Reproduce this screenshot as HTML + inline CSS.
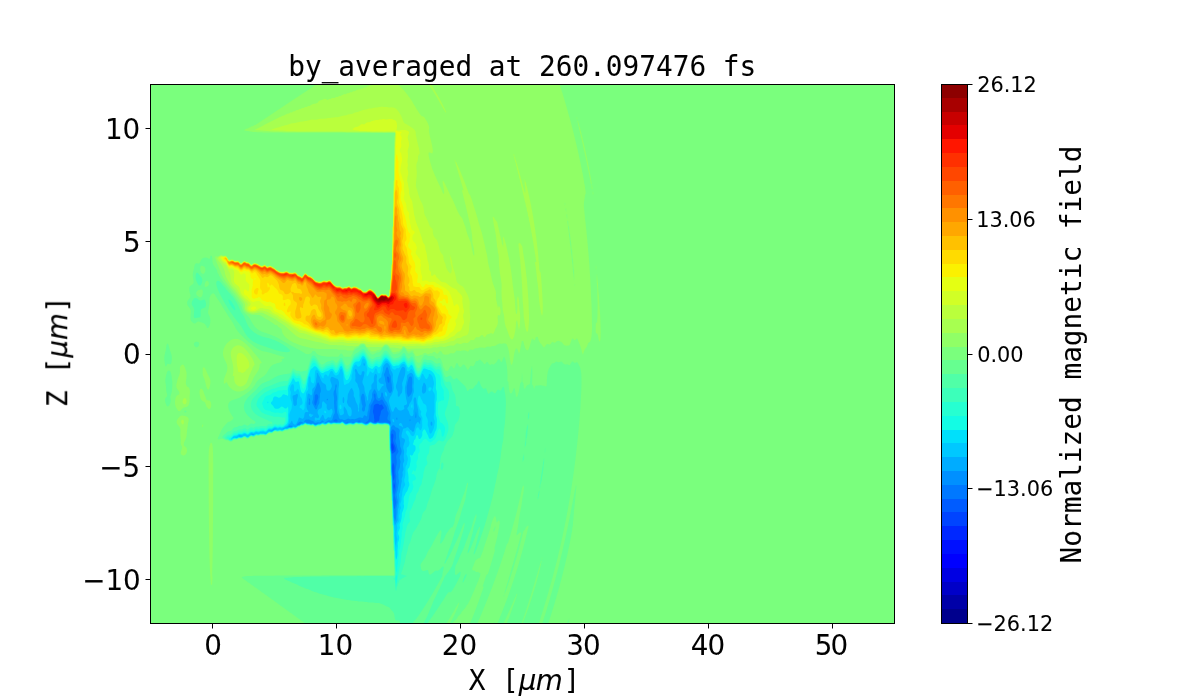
<!DOCTYPE html>
<html><head><meta charset="utf-8"><title>by_averaged at 260.097476 fs</title>
<style>
html,body{margin:0;padding:0;background:#fff;overflow:hidden}
svg{display:block}
.s20{font-family:'DejaVu Sans','Liberation Sans',sans-serif;font-size:27.78px;fill:#000}
.s15{font-family:'DejaVu Sans','Liberation Sans',sans-serif;font-size:20.83px;fill:#000}
.m20{font-family:'DejaVu Sans Mono','Liberation Mono',monospace;font-size:27.78px;fill:#000}
.i20{font-family:'DejaVu Sans','Liberation Sans',sans-serif;font-size:27.78px;font-style:oblique;fill:#000}
.tk{stroke:#000;stroke-width:1;fill:none}
.fr{stroke:#000;stroke-width:1;fill:none}
text{stroke:#000;stroke-width:0.06px}
</style></head><body>
<svg width="1200" height="700" viewBox="0 0 1200 700">
<rect width="1200" height="700" fill="#fff"/>
<rect x="150" y="84" width="744" height="539" fill="#7aff7d"/>
<g shape-rendering="auto">
<path fill="#90ff66" d="M315.6 85l0.4-0.2 1-0.7 0.2-0.1 242.3 0 0.3 1 0.2 0.7 0.1 0.3 0.4 1 0.3 1 0.2 0.8 0.1 0.2 0.9 3 0.4 1 0.3 1 0.2 1 0.1 0.2 0.3 0.8 0.6 2 0.1 0.5 0.2 0.5 0.6 2 0.2 0.8 0.1 0.2 0.6 2 0.2 1 0.1 0.2 0.2 0.8 0.4 1 0.2 1 0.2 0.7 0.1 0.3 0.9 3 0 0.2 0.2 0.8 0.6 2 0.2 0.8 0.1 0.2 0.6 2 0.2 1 0.1 0.4 0.2 0.6 0.3 1 0.2 1 0.3 1 0 0.1 0.3 0.9 0.2 1 0.3 1 0.2 0.9 0 0.1 0.6 2 0.2 1 0.2 0.8 0.1 0.2 0.2 1 0.3 1 0.2 1 0.2 0.7 0.1 0.3 0.2 1 0.3 1 0.2 1 0.2 0.8 0.1 0.2 0.4 2 0.3 1 0.2 0.9 0 0.1 0.3 1 0.4 2 0.3 1 0 0.2 0.2 0.8 0.2 1 0.3 1 0.6 3 0.3 1 0.4 2 0 0.1 0.2 0.9 0.4 2 0.3 1 0.1 0.7 0.1 0.3 0.8 4 0.1 0.4 0.1 0.6 0.8 4 0.1 0.4 0.1 0.6 0.1 1 0.3 1 0.6 3 0.1 1 0.8 4 0.2 2 0.2 1 0.3 1 0.2 1 0.1 0.9 0 0.1 0.2 2 0.4 2 0 1 0.1 1-0.1 1-0.6 0.9 0 0.1-0.3 3-0.4 2-0.1 1-0.2 0.8 0 0.2-0.1 1 0 1-0.1 1 0 1 0.2 2 0 0.5 0.1 0.5 0.8 8 0 1 0.1 1 0 0.3 0.2 0.7 0.1 1 0.2 1 0.2 2 0 1 0.3 3 0.2 1 0.4 4 0 1 0.2 1 0.2 2 0 0.6 0.1 0.4 0.3 3 0 1 0.1 1 0.2 1 0 1 0.3 3 0 0.4 0.1 0.6 0 1 0.7 7 0 1 0.1 1 0 1 0.6 6 0 1 0.1 1 0 1 0.1 1 0 1 0.2 2 0 1 0.1 1 0 0.2 0.1 0.8 0 1 0.2 2 0 1 0.1 1 0 1 0.1 1 0 1 0.1 1 0 1 0.1 1 0 1 0.1 1 0 1 0.1 1 0 2 0.1 1 0 2 0.1 1 0 1 0.2 2 0 1 0.1 1 0 1 0.1 1 0 2 0.1 1 0 1 0.1 1 0 3 0.1 1 0 5 0.1 1 0 4 0.1 1 0 5-0.1 1 0 1-0.1 1 0 1-0.4 4-0.4 2 0 0.2-0.2 0.8-0.8 2-1 0.3-0.6 0.7-0.4 0.5-0.2 0.5-0.3 1-0.4 1-0.5 1-0.6 1 0 0.1-1 0.8 0 0.1-1.2 3-0.6 2-0.2 0.7-0.3-0.7-0.4-1-0.3-0.5-0.7-3.5-0.3-1 0-0.1-0.3-0.9-0.4-1-0.3-0.9 0-0.1-0.5-1-0.4-1-0.1-0.3-0.3-0.7-0.4-1-0.3-1 0-0.1-0.6-0.9-0.4-0.8-0.7 0.8-0.3 0.2-0.7 0.8-0.3 0.3-0.7-0.3-0.3-0.2-0.6-0.8-0.4-0.5-1 0.3-0.1 0.2-0.3 1-0.8 2-0.3 1-0.4 1-0.1 0.3-0.5 0.7-0.5 0.6-1 0-2 0.2-1-0.3-0.9-0.5-0.1-0.1-0.8-0.9-0.2-0.3-0.5-0.7-0.5-0.6-0.5-0.4-0.5-0.3-1-0.3-1-0.5-1-0.1-1 0.4-1 0.6-0.2 0.2-0.8 0.7-1 0.1-0.9-0.8-0.1-0.1-1 0.1-0.6 1-0.8 1-0.6 0.6-1-0.2-1-0.4-1 0.1-1 0.9-0.7 1-0.3 0.5-0.6 0.5-0.4 0.4-1-0.8-0.4-0.6-0.6-1-0.8-1-0.2-0.3-1-1-0.4-0.7-0.6-0.9 0-0.1-0.4-1-0.6-2 0-0.1-0.3-0.9-0.7-0.2-1 0.1-0.2 0.1-0.2 1-0.6 2 0 0.1-1 0.4-0.9-1.5-0.1-0.3-1 0-0.1 0.3-0.3 1-0.6 1.5-0.1 0.5-0.9 3 0 0.1-0.3 0.9-0.6 2-0.1 0.4-0.8 1.6-0.2 0.3-1-0.1-0.3-0.2-0.7-0.5-0.3-0.5-0.5-1-0.2-0.3-0.2-0.7-0.2-1-0.3-1-0.3-0.9 0-0.1-0.6-2-0.2-1-0.2-0.1-1 0-0.1 0.1-0.8 4-0.1 0.4-0.1 0.6-0.6 3-0.1 1-0.2 1 0 0.4-0.3 0.6-0.4 1-0.3 1-0.9-3-0.1-0.2-0.3-0.8-0.4-1-0.3-0.5-1 0-0.3 0.5-0.4 1-0.3 0.6-0.1 0.4-0.3 1-0.6 3 0 0.1-0.2 0.9-0.1 1-0.2 1-0.1 1-0.4 2 0 0.3-0.2 0.7-0.6 2-0.2 0.8-1-0.3-0.9-4.5-0.1-0.3-0.1-0.7-0.3-3-0.2-1-0.2-2-0.2-0.9 0-0.1-0.4-2-0.3-1-0.2-1-0.1-0.3-0.3-0.7-0.4-1-0.3-0.8-0.6-1.2-0.4-0.2-1-0.3-1-0.2-1 0.1-1 0.3-1 0-1-0.1-1-0.2-0.6 0.6-0.4 0.3-1 0.2-1 1-1 0.3-1 0.2-1 0.3-0.5-0.3-0.5-0.1-0.1 0.1-0.9 0.7-1 0.1-2-0.2-1 0.1-1 0.2-1 1-1-0.1-2-0.4-2 0-1 0.1-0.6 0.5-0.4 0.3-2 0-1 0.3-1 0.4-1 0.9-1-0.2-1-0.1-1 0.2-0.7 0.2-0.3 0.5-0.4 0.5-0.6 0.7-1-0.4-0.2-0.3-0.8-0.2-1-0.3-1-0.2-1 0.1-1 0.2-1 0.3-1 0-1-0.3-1 0.4-1-0.8-1 0.8-0.7 1-0.3 0.4-1.2 0.6-0.8 0.6-1-0.3-1-0.1-1 0-1 1-1 0.2-3 0.3-1-0.1-1.2-0.6-0.8-1.6-0.3-0.4-0.7-0.8-1-0.1-1 1-0.7 0.9-0.3 0.5-1 0.3-0.9-0.8-0.1-0.1-1-0.9-1-0.3-1 0.5-0.6 0.8-0.4 0.6-1-0.4-1 0-0.9 0.8-0.1 0.1-1-0.1-1 0-1-0.9-1 0-1 0.1-0.9 0.8-0.1 0.1-1 0.8-1-0.1-0.6 0.2-0.4 0.1-1 0.6-1 0.3-1 0-1 0.1 0-0.1-1-0.9-0.1-0.1-0.1-1-0.8-0.7-0.3-0.3-0.1-1 0-1-0.6-0.5-2 0-0.6 0.5-0.4 0.4-2 0-0.4-0.4-0.6-0.5-0.5-0.5 0-1-0.5-0.4-1.6-1.6-0.4-0.3-1 0-0.4 0.3 0 1-0.6 0.6-0.5 0.4-1.5 1.5-0.6 0.5-0.4 0.4-2 0-0.7 0.6-0.3 0.3-2 0-1-0.1-0.3-0.2-1-1-0.1-1-1-1-0.6-0.5-0.5-0.5-0.1-1-1-1-0.4-0.3-1-1-2 0-1 1-0.4 0.3-0.6 0.6-0.5 0.4-1 1-0.2 1-0.3 0.4-1 0-0.7 0.6-0.3 0.3-2 0-0.8 0.7-0.2 0.2-1 0-1 0.2-2 0-1-0.2-0.2-0.2-0.8-0.7-0.3-0.3-0.7-0.6-0.4-0.4-0.6-0.5-1.5-1.5-0.5-0.4-0.6-0.6 0-1-0.4-0.3-1-1-3 0-1 1-0.4 0.3-1.6 1.6-1 0-0.5 0.4-0.5 0.5-1 0-0.6 0.5-0.1 1-0.3 0.3-0.8 0.7-0.2 0.2-1 0.4-5 0-0.7-0.6-0.3-0.2-8 0-1-0.7-12 0-1-0.1-3 0-1-0.1-1 0-5-0.5-1-0.2-1-0.1-0.6-0.1-0.4-0.1-4-0.8-0.3-0.1-0.7-0.2-1-0.2-2-0.6-0.1 0-0.9-0.3-2-0.6-0.1-0.1-0.9-0.3-1-0.4-0.9-0.3-0.1 0-1-0.5-1-0.4-0.3-0.1-0.7-0.3-2-1-1-0.6-0.3-0.1-0.7-0.5-0.9-0.5-0.1-0.1-1-0.7-0.3-0.2-0.7-0.6-0.6-0.4-0.4-0.4-0.7-0.6-0.3-0.4-0.6-0.6-0.4-0.6-0.3-0.4-0.7-1 0-0.1-0.5-0.9-0.3-1-0.2-0.7-0.1-0.3-0.2-1-0.1-1-0.6-0.2-0.7-0.8-0.3-0.3-1-0.3-1-1-0.3-0.4-0.7-0.7-1-0.2-0.6-0.1-0.4-0.3-2-1.4-0.4-0.3-0.6-0.4-0.8-0.6-0.2-0.1-1-0.7-0.4-0.2-0.6-0.4-1-0.6-1-0.5-0.9-0.5-0.1-0.1-1-0.5-0.6-0.4-0.4-0.3-1-0.7-1-0.6-0.6-0.4-0.4-0.2-1-0.4-1-0.3-2 0-0.2-0.1-0.8-0.3-1 0.1-2 0-2-0.4-1-0.3-0.4-0.1-0.6-0.2-1-0.4-0.6-0.4-0.4-0.2-1-0.8-1-1-0.7-1-0.6-1-0.1-1-0.3-1-0.1-1-0.2-1 0-0.1-0.3-0.9-0.5-1-0.2-0.3-0.5-0.7-0.5-0.6-0.3-0.4-0.7-0.9-0.1-0.1-0.8-1-0.1-0.2-0.6-0.8-0.8-1-0.6-0.9-0.1-0.1-0.7-1-0.2-0.3-0.5-0.7-0.5-0.6-0.3-0.4-0.7-0.8-0.1-0.2-0.9-1-0.8-1-0.2-0.2-0.7-0.8-0.3-0.4-1-1.2-0.3-0.4-0.7-1-0.8-1-0.2-0.3-1-1.4-0.2-0.3-0.7-1-0.1-0.1-0.6-0.9-0.4-0.5-0.3-0.5-1.4-2-1.5-3-0.4-1-0.4-0.9-0.1-0.1-0.3-1-0.4-1-0.2-0.4-0.2-0.6-1.6-4-0.2-0.4-0.2-0.6-0.5-1-0.3-0.8-0.1-0.2-0.4-1-0.3-1-0.2-0.4-0.1-0.6-0.4-1-0.3-1-0.2-1 1-0.7 1 0.1 1-0.1 0.8-0.3 0.2-0.1 1-0.7 1-0.2 1 0.1 1 0.3 1 0 1-0.1 1 0.3 0.4 0.4 0.6 1.2 0.8 0.8 0.2 0.5 0.5 0.5 0.5 0.6 1 0 1-0.3 1-0.1 1 0.1 0.7 0.7 0.3 0.2 1 0.2 1 0 1-0.1 1 0 0.7 0.7 0.3 0.2 0.8 0.8 0.2 0.3 0.8 0.7 0.2 0.1 0.3-0.1 1.7-1.7 0.4-0.3 0.6-0.6 1 0 0.6 0.6 0.4 0.2 1 0.3 1 0 0.5 0.5 0.5 0.2 0.8 0.8 0.2 0.3 0.7 0.7 0.3 0.2 1 0 0.3-0.2 0.7-0.7 0.5-0.3 0.5-0.5 1-0.1 0.6 0.6 0.4 0.1 1 0.1 1 0.3 0.5 0.5 0.5 0.2 0.8 0.8 0.2 0.1 1 0.1 1 0.2 1-0.2 0.4-0.2 0.6-0.6 1-0.1 1 1 0.8 0.7 0.2 0.2 1-0.1 0.3-0.1 0.7-0.6 1-0.2 1 0.2 0.6 0.6 0.4 0.2 1 0.4 0.4 0.4 0.6 0.3 0.8 0.7 1 1 0.2 0.1 1 0.4 0.5 0.5 1.5 0.6 0.5 0.4 0.5 0.2 1 0 1 0.1 1 0 2-0.2 0.4-0.1 0.6-0.5 1 0.1 0.4 0.4 0.6 0.2 0.8 0.8 0.2 0.1 1 0.1 3 0 1-0.1 0.4-0.1 0.6-0.5 0.5 0.5 0.5 0.2 0.8 0.8 0.2 0.3 1 1 1 0.3 0.4 0.4 0.6 0.2 0.8 0.8 0.2 0.1 1 0.1 0.4-0.2 0.6-0.6 0.1-0.4 1-1 0.4-1 0.5-0.5 0.6 0.5 0.4 0.1 2 2 1 0.1 1 0.2 0.7 0.6 0.3 0.1 1 0.5 0.4 0.4 0.6 0.5 0.5 0.5 0.4 1 1.1 1.1 2 0.4 0.5 0.5 0.5 0.1 1 0.1 2 0 1-0.1 0.1-0.1 0.9-0.8 1-0.1 2 0.2 1 0 1-0.2 0.4-0.1 0.6-0.6 1 0.1 1.5 1.5 0.4 1 2.1 2.1 1 0.5 0.5 0.4 0.5 0.2 1 0.3 1 0.1 1-0.1 1 0.1 0.5 0.4 0.5 0.2 0.8 0.8 0.2 0.1 1 0.1 0.5-0.2 0.5-0.4 1-0.3 1 0.1 1-0.1 1-0.2 0.2-0.1 0.8-0.7 0.7 0.7 0.3 0.1 1 1 1 0 0.2-0.1 0.8-0.8 1-0.1 1 0 1 0.1 1 0.3 0.5 0.5 0.5 0.3 0.8 0.7 0.2 0.1 1 0.1 1 0.4 0.4 0.4 0.5 1 0.1 0.1 1 0.4 0.6 0.5 0.4 0.1 2 0 0.2-0.1 0.8-0.7 0.4-0.3 0.6-0.6 0.6-0.4 0.4-0.4 1-0.2 0.7 0.6 0.3 0.1 1 0.2 1.7 1.7 0.3 0.2 0.7 0.8 0.3 0.4 0.6 0.6 0.3 1 0.1 0.2 0.8 0.8 0.2 1 0 0.1 1 0.2 1-0.2 2-2 0.3-0.1 0.7-0.6 1 0.1 0.5 0.5 0.5 0.1 0.5-0.1 0.5-0.5 0.6 0.5 0.4 0.1 1 1 1 0.9 0.3 0 0.7-0.7 0-0.3 0.1-1 0-4 0.9-1 0-4 0.1-1 0-4 0.9-1 0-6 0.1-1 0-7 0.9-1 0-15 0.1-1 0-21 0.9-1 0-17 0.1-1 0-20 0.1-1 0-6 0.8-0.9 0-10.1 0.1-1 0-22 0.1-1 0-8 0.1-1 0-1 0.7-0.9 0-2.1-1-0.1-1 0-1-0.1-4 0-1 0.1-4 0-1-0.1-2 0-1 0.1-1-0.1-83 0-1-0.1-11 0-1-0.1-7 0-1-0.1-6 0-1-0.1-4 0-1-0.1-2 0-1-0.1-2 0-1-0.1-1 0-1-0.1-0.1 0-0.9-0.1-1-0.2-1-0.1-2-0.4-0.8-0.2-0.2 0-1-0.1-3-0.6-0.2-0.3 0.2-0.2 1-0.1 0.8-0.7 0.2-0.2 2-0.4 1-0.8 1-0.2 0.5-0.4 0.5-0.5 1-0.2 1-0.1 0.2-0.2 0.8-0.7 1-0.2 0.4-0.1 1.5-1 0.1-0.1 1-0.6 0.4-0.3 1.5-1 0.1-0.1 1-0.6 0.4-0.3 1.5-1 0.1-0.1 1-0.6 0.4-0.3 1.5-1 0.1-0.1 1-0.6 0.4-0.3 1.5-1 0.1-0.1 1-0.6 0.4-0.3 1.5-1 0.1-0.1 1-0.6 0.4-0.3 1.5-1 0.1 0 1-0.7 0.4-0.3 1.5-1 0.1-0.1 1-0.6 0.4-0.3 1.5-1 0.1 0 1-0.7 0.4-0.3 1.5-1 0.1 0 1-0.7 0.4-0.3 0.6-0.4 1-0.6 1-0.7 0.5-0.3 0.5-0.4 1-0.6 1-0.7 0.5-0.3 0.5-0.4 1-0.6 1-0.7 0.5-0.3 0.5-0.4 1-0.6 1-0.7 1-0.6 2-1.4 1-0.6 2-1.4 1-0.6 1-0.7 1-0.6 0.6-0.4 0.4-0.3 1-0.7 0.1 0 1.5-1 0.4-0.3 1-0.7 0.1 0 1.5-1 0.4-0.3 1-0.6 0.1-0.1 0.9-0.6zM565 202.5l-0.2 0.5 0 1 0.1 1 0.1 0.8 0.1-0.8 0.1-1-0.1-1zM566 208.1l-0.4 0.9 0.1 1 0.2 1 0.1 1 0 0.4 0.1-0.4 0.1-1 0-1-0.1-1zM567 214.1l-0.5 0.9 0.2 2 0.2 1 0.1 1 0 0.6 0.1-0.6 0.1-1 0-2-0.1-1zM568 220.4l-0.6 0.6 0 1 0.1 1 0.2 1 0.3 3 0 0.6 0.1 0.4 0.4 2 0.5 5 0 1 0.3 1 0.1 1 0.2 1 0.2 2 0 1 0.2 2 0 0.1 0.2 0.9 0.4 2 0.1 1 0 1 0.1 1 0 1 0.2 2 0 0.1 0.2 0.9 0.2 1 0.4 4 0 1 0.2 2 0 0.3 0.2 0.7 0.2 1 0.3 3 0 1 0.1 1 0 1 0.1 1 0 1 0.1 0.5 0.2 0.5 0.2 1 0.5 5 0 1 0.1 1 0 0.3 0-0.3 0.2-2 0-6-0.1-1 0-1-0.1-1 0-0.1-0.4-0.9-0.3-3 0-3-0.3-3 0-0.6-0.2-0.4-0.4-2 0-1-0.1-1 0-2-0.2-2-0.1-0.9 0-0.1-0.4-1-0.2-1 0-2-0.1-1 0-1-0.2-1-0.1-1 0-0.4-0.3-0.6-0.6-6-0.1-0.9-0.1-0.1-0.4-1-0.2-2 0-2-0.2-1-0.1-1-0.6-1-0.1-1 0-2-0.2-2zM575 283.8l-0.1 0.2-0.2 1 0.2 1 0.1 1 0 0.1 0-1.1 0.1-1-0.1-1zM576.8 117l0.2-0.2 0 0.2 0.2 1 0 1-0.2 0.7-0.1-0.7-0.2-1zM577.4 121l0.6-0.6 0.2 0.6 0.2 2 0.6 1 0.6 3 0.4 0.7 0.1 0.3 0.6 3 0.3 0.6 0.1 0.4 0.2 1 0.3 1 0.1 1 0.3 0.6 0.1 0.4 0.2 1 0.3 1 0.1 1 0.3 0.7 0 0.3 0.2 1 0.3 1 0.2 1 0.3 0.9 0 0.1 0.4 2 0.3 1 0.2 1 0.1 0.3 0.1 0.7 0.4 2 0.3 1 0.2 0.8 0 0.2 0.8 4 0.2 0.5 0.1 0.5 0.1 1 0.2 1 0.3 1 0.2 1 0.1 0.4 0.1 0.6 0.1 1 0.2 1 0.3 1 0.1 1 0.2 0.5 0 0.5 0.2 1 0.1 1 0.3 1 0.2 1 0.2 0.9 0 0.1 0.1 1 0.6 3 0.1 1 0.2 0.5 0 0.5 0.2 1 0.1 1 0.2 1 0.1 1 0 1-0.6 0.4-0.1-0.4-0.1-1-0.2-1-0.2-2-0.4-0.7 0-0.3-0.6-3-0.1-1-0.3-0.7 0-0.3-0.8-4-0.2-0.5-0.1-0.5-0.1-1-0.2-1-0.3-1-0.2-1-0.1-0.2-0.1-0.8-0.1-1-0.2-1-0.3-1-0.3-0.9 0-0.1-0.1-1-0.4-2-0.4-1-0.2-1-0.1-1-0.4-2-0.4-0.9 0-0.1-0.1-1-0.4-2-0.3-1-0.2-0.6-0.1-0.4-0.1-1-0.4-2-0.4-0.9 0-0.1-0.1-1-0.4-2-0.4-1-0.1-0.4-0.1-0.6-0.1-1-0.2-1-0.3-1-0.3-0.8 0-0.2-0.2-1-0.1-1-0.3-1-0.4-1-0.1-1-0.4-2-0.3-1-0.2-0.6 0-0.4-0.4-2zM591.6 185l0.4-0.6 0.1 0.6 0.2 2 0.2 1-0.1 1-0.4 0.6-0.1-0.6-0.2-1-0.1-1 0-1zM592.9 191l0.1-0.2 0 0.2 0.1 1 0.2 1 0 1-0.3 1-0.2-1-0.1-1 0.1-1zM596 265l0-0.3 0 0.3 0.3 3-0.1 1-0.2 1-0.2-2 0-1 0.1-1zM597 274l0-0.1 0 0.1 0.1 1 0 1 0.4 4 0.2 1 0 1 0.3 1.5 0 1.5 0.1 1 0 1 0.1 1 0 1 0.4 4 0.2 1 0.1 1 0.1 0.3 0 0.7 0.1 1 0 2 0.1 1 0 1 0.1 1 0 1 0.1 1 0 1 0.2 2 0 1 0.4 4 0 1 0.1 1 0 1 0.1 1 0 1 0.1 1 0 2 0.1 1 0 2 0.1 1 0 2 0.1 1 0 4 0.1 1 0 1-0.1 1 0 3-0.3 3-0.2 1-0.1 0.7-0.7-0.7-0.3-0.2-0.2-0.8-0.6-3-0.1-1-0.1-0.3-0.3-0.7-0.4-1-0.3-0.8-1 0.4-0.1-0.6-0.2-2 0-1-0.1-1 0-1 0.1-1 0-1 0.1-1 0-1 0.2-2 0-0.2 0.1 0.2 0.6 1 0.3 0.7 0.1-0.7 0-1 0.1-1 0-1 0.2-2 0-1 0.1-1 0-5 0.1-1 0-8-0.1-1 0-3-0.1-1 0-1-0.1-1 0-7-0.1-1-0.2-1 0-1-0.2-2 0-1-0.1-1 0-4 0.1-1 0-1zM234 339l2-0.2 1 0.1 0.3 0.1 0.7 0.1 1 0.3 1 0.4 0.3 0.2 0.7 0.3 1 0.6 0.1 0.1 0.9 0.6 0.5 0.4 0.5 0.3 0.8 0.7 0.2 0.2 1 0.8 1 0.9 2.1 2.1 1.8 2 0.1 0.1 0.8 0.9 0.2 0.3 0.6 0.7 0.8 1 0.6 0.7 0.3 0.3 0.7 0.9 0.1 0.1 0.8 1 0.1 0.1 0.7 0.9 0.3 0.3 0.6 0.7 0.4 0.6 0.4 0.4 0.6 0.8 0.2 0.2 0.7 1 0.1 0.1 0.7 0.9 1.2 2-0.9 0.3-1 0.5-0.1 0.2-0.2 1-0.2 2-0.2 1-0.3 0.9 0 0.1-0.4 1-0.6 1 0 0.1-1 1.5-0.3 0.4-1.4 2-0.6 1-0.7 1 0 0.1-0.5 0.9-0.5 1-0.4 1-0.5 1-0.1 0.3-0.3 0.7-0.5 1-0.2 0.5-0.9 1.5-0.1 0.2-0.6 0.8-0.4 0.5-1.5 1.5-0.5 0.4-0.8 0.6-0.2 0.1-2 1.2-1 0.4-0.8 0.3-0.2 0.1-2 0.4-1 0.1-2-0.2-1-0.2-2-0.8-1-0.5-1-0.7-0.3-0.2-0.7-0.6-0.5-0.4-1-1-0.5-0.7-0.2-0.3-0.7-1-0.5-1-0.4-1-0.2-0.8-1 0.4-0.5 0.4-0.5 0.3-1 0.7 0 0.2 0-0.2-0.2-1 0-2 0.1-1 0.1-0.4 0.1-0.6 0.6-2 0.3-0.8 0.1-0.2 0.8-2 0.1-0.2 0.3-0.8 0.4-1 0.3-1 0.2-1 0.2-2-0.2-2-0.2-1-0.3-1-0.4-1-0.3-0.7-0.1-0.3-1.5-3-0.4-0.9 0-0.1-0.4-1-0.3-1-0.2-1-0.1-0.9 0-2.1 0.4-2 0.3-1 0.3-0.8 0.1-0.2 0.4-1 0.5-0.8 0.1-0.2 0.6-1 0.3-0.4 0.4-0.6 0.6-0.7 1.3-1.3 0.7-0.6 0.5-0.4 1.5-0.9 1-0.5 1-0.4 1-0.2zM181.7 365l0.3-0.2 1-0.2 1 0.8 0.3 0.6 0.4 1 0.3 0.7 0.1 0.3 0.3 1 0.4 1 0.2 0.7 0.1 0.3 0.3 1 0.2 2 0 1-0.1 1 0 1-0.2 2-0.2 1-0.1 0.8 0 0.2-0.2 2 0.1 1 0.1 0.3 0.3 0.7 0.7 1.4 1 0.6 1 0.8 0.1 0.2 0.4 1 0.3 1 0.2 2-0.4 4 0 2 0.1 1 0 1-0.2 2-0.2 1-0.3 1-0.4 1-0.6 0.9-0.1 0.1-0.9 0.7-0.6 0.3-0.4 0.1-2 0.4-1 0.4-1.1 1.1-0.8 1-0.1 0.2-0.9 0.8-0.1 0.1-1 0.2-0.4-0.3-0.6-0.4-1-1.5-0.1-0.1-1-2-0.4-1-0.3-1-0.1-1-0.1-0.7 0-1.6 0.1-0.7 0.1-1 0.4-2 0.4-1 0.6-1 0.4-0.6 2-1 0.3-0.4 0.1-1-0.2-1-0.5-1-0.6-1-0.1-0.1-0.7-0.9-0.6-1-0.3-1-0.1-1 0-1 0.4-2 0.3-1 0-0.1 0.2-0.9 0.6-2 0.2-0.7 0.1-0.3 0.8-2 0.1-0.4 0.3-0.6 0.3-1 0.2-1 0.2-2-0.1-1 0-2 0.1-0.4 0.1-0.6 0.6-1 0.3-0.4zM202.8 368l0.2-0.5 1-0.2 1 1 0.4 0.7 0.5 1 0.1 0.1 0.3 0.9 0.4 1 0.3 0.6 0.1 0.4 0.5 1 0.4 0.9 0.1 0.1 0.5 1 0.4 0.7 0.2 0.3 0.8 2 0.3 1 0.1 1 0 2-0.1 1-0.2 1-0.1 0.4-0.1 0.6-0.3 1-0.2 1-0.3 1-0.1 0.2-1 0.3-0.4-0.5-0.6-0.7-0.1-0.3-0.4-1-0.3-1-0.2-0.8-0.1-0.2-0.6-3-0.9-3-0.4-1-0.5-1-0.4-1-0.1-0.5-0.2-0.5-0.1-1 0-5zM200.4 389l0.6-0.4 0.9 0.4 0.1 0 0.7 1 0.3 0.4 0.3 0.6 0.6 2 0.1 0.2 0.3 0.8 0.4 1 0.3 0.7 0.1 0.3 0.4 1 0.3 1 0.2 0.7 0.1 0.3 0.6 1 0.3 0.2 2 0.2 1 0.4 0.1 0.2 0.6 1 0.3 0.8 0.1 0.2 0.2 2-0.1 1-0.2 1-0.4 1-0.6 0.8-1 0.2-1-0.6-0.3-0.4-0.7-0.7-0.2-0.3-0.6-1-0.2-0.7-0.1-0.3-0.6-2-0.3-0.6-0.5-0.4-0.5-0.2-1-0.5-0.5-0.3-0.5-0.4-0.6-0.6-0.4-0.6-0.2-0.4-0.4-1-0.2-1-0.2-0.9 0-0.1-0.2-1-0.3-3 0.1-1 0.2-1 0.2-0.5zM180.5 416l0.5-0.3 1-0.1 2 0.2 0.9 0.2 0.1 0 2 0.8 0.4 0.2 1 1 0.3 1 0 1-0.1 1-0.3 1-0.2 1-0.1 0.2-0.1 0.8-0.2 2-0.2 1-0.2 2-0.2 1-0.4 4 0 1-0.2 1-0.1 1-0.3 1-0.1 0.2-0.3 0.8-0.4 1-1 2-0.3 1-0.2 1 0 1 0.2 0.4 0.4 0.6 0.6 0.4 0.7 0.6 0.3 0.2 0.5 0.8 0.3 1 0.2 1 0 1-0.2 1-0.3 1-0.5 1-1 1-1 0.4-1 0-1-0.3-0.1-0.1-0.9-1 0-0.1-0.2-0.9 0-1 0.2-0.6 0.1-0.4 0.4-1 0.3-1 0.2-1 0-1-0.3-1-0.6-1-0.1-0.3-0.2-0.7-0.1-1 0.1-1 0-2-0.4-4 0-3 0.1-1 0-2-0.1-1-0.3-1-0.1-0.2-1-1.6-0.2-0.2-0.8-1-0.9-1-0.1-0.4-0.3-0.6-0.1-1 0.1-1 0.3-0.7 0.1-0.3 0.6-1 0.3-0.4 0.4-0.6 0.6-0.6 0.3-0.4 0.7-0.7zM202.5 425l0.5-0.9 0.2 0.9-0.1 1-0.1 0.3-0.7 0.7-0.3 0.4-0.2-0.4 0.1-1 0.1-0.3zM210.7 443l0.3-0.5 0.6 0.5 0.4 0.4 0.2 0.6 0.2 1 0.1 1 0.2 1 0.1 1 0 1 0.1 1 0 1 0.1 1 0 2 0.1 1 0 6 0.1 1 0 12-0.1 1 0 31-0.1 1 0 16-0.1 1 0 13-0.1 1 0 8-0.1 1 0 6-0.1 1 0 4-0.1 1 0 4-0.1 1 0 3-0.1 1 0 3-0.1 1 0 3 0.1 1 0.2 1 0 2-0.3 3 0 1-0.1 1-0.1 0.8-1 0-0.1-0.8-0.1-1 0-1-0.3-3 0-1-0.2-2 0-1-0.2-2 0-1-0.1-1 0-1-0.1-1 0-1-0.1-1 0-2-0.1-1 0-2-0.1-1 0-2-0.1-1 0-3-0.1-1 0-3-0.1-1 0-4-0.1-1 0-5-0.1-1 0-6-0.1-1 0-7-0.1-1 0-8-0.1-1 0-12-0.1-1 0-21-0.1-1 0-24 0.1-1 0-2 0.1-1 0-1 0.1-1 0.1-0.4 0.1-0.6 0.1-1 0.6-3 0.2-0.6 0.2-0.4z"/>
<path fill="#a7ff50" d="M371.7 85l0.3-0.3 1 0 1-0.1 0.8-0.6 22.2 0 1 0.7 0.3 0.3 0.7 0.5 0.5 0.5 0.5 0.4 1 1 0.5 0.6 2 2 0.5 0.6 0.4 0.4 0.6 0.7 0.2 0.3 1.6 2 0.2 0.2 0.7 0.8 0.3 0.5 0.4 0.5 0.6 0.9 0.1 0.1 0.8 1 0.1 0.2 0.6 0.8 0.4 0.8 0.2 0.2 0.7 1 0.1 0.2 0.5 0.8 0.4 1 0.1 0.2 0.6 0.8 0.4 0.8 0.2 0.2 0.6 1 0.2 0.4 0.5 0.6 0.4 1 0.1 0.2 1 1.6 0.2 0.2 0.6 1 0.2 0.3 0.5 0.7 0.5 0.8 0.2 0.2 0.6 1 0.2 0.3 0.7 0.7 0.3 0.5 0.7 0.5 0.3 0.3 1 0.3 1 0.4 0.9 1 0.1 0.2 0.3 0.8 0.7 0.8 0.1 0.2 0.4 1 0.5 0.6 0.2 0.4 0.4 1 0.4 0.6 0.2 0.4 0.2 1 0.6 1 0 0.1 0.1 0.9 0.2 1-0.3 1-0.2 1 0.2 1 0 0.5 0.1 0.5 0.1 1 0.6 3 0.2 0.9 0 0.1 0.3 1 0.2 1 0.3 1 0.2 0.8 0.1 0.2 0.6 3 0.3 1 0 0.1 0.2 0.9 0.1 1 0.2 1 0.1 1 0.2 1 0 1-0.1 1-0.2 1-0.5 0.4-0.9-0.4-0.1 0-1-0.6-1-0.2-0.3 0.8-0.2 1 0.1 1 0.2 1 0.1 1 0.1 0.3 0.2 0.7 0.2 1 0.3 1 0.2 1 0.1 0.2 0.2 0.8 0.6 2 0.2 0.7 0.1 0.3 0.9 3 0 0.2 0.3 0.8 0.4 1 0.3 0.8 0.6 1.2 0.3 1 0.5 1 0.8 2 0.5 1 0.3 0.7 0.1 0.3 0.5 1 0.4 1 0 0.1 0.4 0.9 0.5 1 0.1 0.3 0.4 0.7 0.4 1 0.2 0.4 0.4 0.6 0.4 1 1 2 0.2 0.6 0.7 1.4 0.3 1 0.4 1 0.6 1.2 0.9 0.8 0.1 0.3 0-0.3 0.2-2-0.1-1-0.1-0.8 0-0.2-0.8-4-0.1-1-0.1-0.2-0.2-0.8-0.1-1 0-1 0.1-1 0.2-0.7 0.2 0.7 0.8 0.8 0.1 0.2 0.4 1 0.5 0.8 0.1 0.2 0.4 1 0.5 0.9 0 0.1 0.4 1 0.5 1 0.1 0.1 0.4 0.9 0.4 1 0.2 0.3 0.3 0.7 0.5 1 0.2 0.5 0.3 0.5 0.4 1 0.3 0.7 0.2 0.3 0.5 1 0.3 0.7 0.1 0.3 1.2 2 0.5 1 0.4 1 0.5 1 0.3 0.8 0.1 0.2 0.4 1 0.5 1 0 0.1 0.4 0.9 0.4 1 0.2 0.4 0.2 0.6 0.4 1 0.5 1 0.8 2 0.1 0.1 0.5 0.9 0.5 1 0.6 1 0.4 0.6 0.4 0.4 0.6 0.7 0.2 0.3 0.8 1 0.5 1 0.4 1 0.1 0.3 0.2 0.7 0.3 1 0.5 1 0 0.1 0.2 0.9 0.4 1 0.5 1 0.3 1 0.2 1 0.3 1 0.1 0.3 0.2 0.7 0.2 1 0.3 1 0.3 0.8 0 0.2 0.3 1 0.4 1 0.3 0.7 0.1 0.3 0.8 2 0.1 0.3 0.3 0.7 0.4 1 0.3 0.9 0.1 0.1 0.4 1 0.3 1 0.2 0.9 0 0.1 0.3 1 0.2 2 0.2 1 0.1 1 0.2 0.7 0.1 0.3 0.3 1 0.6 3 0.6 1 0.4 1 0 0.1 0-0.1 0.3-1 0-2-0.3-3 0-0.3-0.1-0.7-0.6-3-0.3-1 0-0.2-0.3-0.8-0.2-1-0.2-2 0-2-0.1-1 0-1-0.2-2 0-0.2-0.1-0.8-0.2-1-0.1-1-0.4-2-0.2-0.9 0-0.1-0.8-4-0.2-0.9 0-0.1-0.2-1-0.3-1-0.2-1-0.3-1 0-0.2-0.2-0.8-0.4-2-0.3-1-0.4-2-0.3-1-0.2-1-0.2-0.7-0.1-0.3-0.4-2-0.3-1-0.6-3-0.3-1-0.2-1-0.1-0.3-0.2-0.7-0.2-1-0.6-2 0-0.1-0.2-0.9-0.3-1-0.4-2-0.1-0.3-0.2-0.7-0.4-2-0.3-1-0.1-0.3-0.2-0.7 0.2-0.1 1 0.5 0.4-0.4-0.2-1-0.2-0.6-0.1-0.4-0.9-3 0-0.1-0.3-0.9-0.6-2-0.1-0.5-0.2-0.5-0.6-2-0.2-0.7-0.1-0.3-1.8-6-0.1-0.3-0.2-0.7-0.6-2-0.2-0.5-0.1-0.5-0.3-1-0.4-1-0.2-0.9 0-0.1-0.6-2-0.2-1 0.8-0.2 1 2 0 0.2 0.4 1 0.6 0.8 0.1 0.2 0.2 1 0.6 1 0.1 0.1 0.3 0.9 0.3 1 0.4 0.5 0.2 0.5 0.3 1 0.5 1 0.4 1 0.3 1 0.3 0.5 0.6 1.5 0.4 0.9 0 0.1 0.8 2 0.2 0.4 0.2 0.6 0.3 1 0.5 1 0.3 1 0.4 1 0.3 0.7 0.1 0.3 0.4 1 0.3 1 0.2 0.4 0.2 0.6 0.4 1 0.3 1 0.1 0.2 0.3 0.8 0.3 1 0.4 1 1 0.9 0.1 0.1 0.4 1 0.3 1 0.8 2 0.3 1 0.1 0.5 0.2 0.5 0.6 2 0.2 0.6 0.1 0.4 0.3 1 0.4 1 0.2 0.9 0 0.1 0.4 1 0.6 2 0.4 1 0.3 1 0.2 1 0.1 0.3 0.3 0.7 0.3 1 0.2 1 0.2 0.7 0.1 0.3 0.4 1 0.4 2 0.1 0.4 0.2 0.6 0.6 2 0.2 0.7 0.1 0.3 1.8 6 0.1 0.3 0.2 0.7 0.4 1 0.3 1 0.2 1 0.3 1 0.4 2 0.2 0.6 0.1 0.4 0.2 1 0.3 1 0.2 1 0.2 0.6 0.1 0.4 0.4 2 0.3 1 0.2 0.9 0 0.1 0.2 1 0.1 1 0.2 1 0.3 1 0.2 0.9 0 0.1 0.3 1 0.2 1 0.3 1 0.2 1 0 0.1 0.2 0.9 0.1 1 0.2 1 0.3 3 0.2 0.9 0 0.1 0.8 4 0.2 0.7 0.1 0.3 0.3 1 0.4 2 0.2 0.9 0 0.1 0.3 1 0.6 3 0.1 0.7 0.1 0.3 0.3 1 0.6 3 0.3 1 0.2 1 0.3 1 0.2 0.8 0.1 0.2 0.8 2 0.1 0.4 0.3 0.6 0.3 1 0.8 2 0.3 1 0.2 1 0.1 1 0 1-0.1 1 0 2 0.1 1 0 1 0.2 1 0.3 1 0.4 2 0.1 0.9 0.1 0.1 0.3 1 0.1 1 0.2 1 0.3 1 0.4-1 0.3-1 0.3-0.7 0.1 0.7 0.5 1 0.4 0.4 0.1 0.6 0.3 1 0.2 1 0 2-0.1 1-0.4 2-0.1 0.4-1-0.2-0.9-0.2-0.1 0-0.3 1-0.1 1 0 1 0.3 3 0 1-0.1 1-0.4 2-0.4 1-0.5 1-0.5 0.7-0.1 0.3-0.6 1-0.3 0.7-0.1 0.3-0.3 1-0.4 1-0.2 0.6-0.3 0.4-0.7 1-0.1 0-0.9-0.4-1-0.5-1 0.4-1 0.5-0.1 0-0.9 0.1-1 0.4-0.4 0.5-0.6 0.7-0.2 0.3-0.7 1-0.1 0.2-0.7-0.2-0.3-0.1-0.7-0.9-0.3-0.4-1-0.6-1 0.5-0.5 0.5-0.5 0.4-0.9 0.6-0.1 0.1-1 0.3-1-0.3-1 0.2-0.5 0.7-0.5 0.6-0.3 0.4-0.7 0.9-0.2 0.1-0.8 0.2-0.6-0.2-0.4-0.1-1 0.1-1 0.8-0.2 0.2-0.8 0.9-0.1 0.1-0.9 0.8-0.6 0.2-0.4 0.1-1-0.1-0.2 0-0.8-0.2-1-0.1-1 0.2-1 0.5-1 0.6-0.2 0-0.8 0.1-0.3-0.1-0.7-0.2-1-0.4-1-0.1-1 0.4-1 1-0.4 0.3-0.6 0.5-1 0.2-1-0.2-1-0.1-1 0.1-1 0.3-0.6 0.2-0.4 0.1-3 0.9-1 0.1-1-0.2-1-0.3-1-0.2-1 0.1-1 0.4-0.3 0.1-0.7 0.3-1 0.2-1-0.1-1-0.2-1 0-1 0.3-1 0.4-0.2 0.1-0.8 0.3-1 0.1-1 0-1-0.1-1 0-4 0.4-1-0.1-2 0-2-0.2-2 0-2 0.2-2 0-1 0.2-1 0-1 0.1-1-0.1-1 0-1-0.7-0.1-0.1-0.9-0.8-0.2-0.2-0.8-0.7-1 0-0.8 0.7-0.1 1-0.1 0.1-1 0.6-2-0.2-2-0.4-0.2-0.1-0.8-0.1-2-0.4-1-0.1-3 0-0.1-0.4-0.9-0.8-0.2-0.2-0.8-0.7-0.3-0.3-0.7-0.6-2 0-0.7 0.6-0.3 0.3-0.8 0.7-0.2 0.2-1 0.8-3 0-1 0.1-7 0-1-0.1-2 0-1-0.1-1-0.8-0.1-0.1-0.1-1-0.8-0.7-0.3-0.3-0.7-0.6-3 0-0.7 0.6-0.3 0.3-0.8 0.7-0.2 0.2-1 0.8-1 0-1 0.3-1 0-1-0.1-1 0-1-0.1-2 0-1-0.1-0.1 0-0.9-0.1-2-0.2-1-0.2-1-0.1-1-0.2-6 0-1-0.1-4 0-1-0.1-0.2 0-0.8-0.1-1-0.2-2-0.6-1-0.2-1-0.3-1-0.2-1-0.3-0.3-0.1-0.7-0.2-3-0.6-1-0.1-0.3-0.1-0.7-0.1-4-0.8-0.3-0.1-0.7-0.2-1-0.2-2-0.6-0.2 0-0.8-0.2-1-0.3-1-0.2-1-0.3-5-1-1-0.4-2-1.2-0.5-0.4-0.5-0.3-0.9-0.7-0.1-0.1-1-0.8-0.1-0.1-0.9-0.8-0.2-0.2-0.8-0.7-0.4-0.3-1-1-1.2-1-0.4-0.4-0.7-0.6-1-1-0.3-0.2-1-1-0.9-0.8-0.1-0.1-1-0.8-0.2-0.1-0.8-0.6-0.6-0.4-0.4-0.2-1-0.6-0.3-0.2-0.7-0.4-0.9-0.6-0.1-0.1-1-0.7-0.3-0.2-0.7-0.5-0.6-0.5-0.4-0.2-1-0.7-0.2-0.1-0.8-0.5-0.9-0.5-0.1 0-1-0.6-4-2-0.7-0.4-0.3-0.1-1-0.5-0.7-0.4-0.3-0.1-1-0.5-0.9-0.4-0.1 0-1-0.3-1-0.2-1-0.1-1 0.1-2 0.4-0.6 0.1-0.4 0.1-1 0.2-1 0.1-1 0-2-0.2-0.3-0.2-0.7-0.3-1-0.2-0.8-0.5-1.2-0.6-0.4-0.4-0.6-0.7-0.4-0.3-0.5-1-0.1-0.8 0-1.5 0.1-0.7 0-1-0.2-1-0.4-1-0.5-0.8-0.1-0.2-0.8-1-0.1-0.2-0.7-0.8-0.3-0.4-1-1.2-0.4-0.4-0.6-0.8-0.1-0.2-0.8-1-0.1-0.2-0.6-0.8-0.4-0.6-0.2-0.4-0.7-1-0.1-0.2-0.6-0.8-0.4-0.6-0.3-0.4-0.7-0.9-0.1-0.1-0.9-1-1-1-0.9-1-0.1-0.2-0.7-0.8-0.3-0.5-0.4-0.5-1.2-2-0.4-0.7-0.2-0.3-0.6-1-0.2-0.4-0.4-0.6-1.5-3-0.1-0.3-0.3-0.7-0.6-2-0.1-0.6-0.1-0.4-0.4-2-0.3-1-0.8-2-0.4-0.7-0.1-0.3-0.6-1-0.5-1-0.7-1-0.1-0.2-0.6-0.8-1.4-1.4-0.5-0.6-0.5-0.7-0.2-0.3-0.5-1-0.1-1 0.8-0.5 0.5-0.5 1.5-0.9 0.1-0.1 0.9-0.4 1 0.1 0.7 0.3 0.3 0.1 1 0 0.7-0.1 0.3-0.1 0.2 0.1 0.8 0.2 0.7 0.8 0.3 0.5 0.5 0.5 0.4 1 0.1 0.1 0.8 0.9 0.2 0.2 1 0 0.8-0.2 0.2-0.1 1-0.3 1 0.4 1 0.5 0.9 0.5 1.6 0 0.5-0.1 0.8 0.1 0.2 0 1 0.6 0.4 0.4 0.6 0.8 0.2 0.2 0.8 0.4 0.9-0.4 1.1-1.1 1-0.8 1 0 1.5 0.9 0.5 0.1 1 0 1 0.5 0.4 0.4 0.6 0.8 0.2 0.2 0.8 0.7 1-0.1 0.9-0.6 0.1-0.1 1-0.8 1 0 2 0.6 0.6 0.3 0.4 0.1 1 0.7 0.3 0.2 0.7 0.3 1 0.4 0.8 0.3 0.4 0 0.8-0.4 1-0.6 1 0 1 0.8 0.2 0.2 0.8 0.5 1 0 1-0.5 0.3 0 0.7-0.2 0.6 0.2 0.4 0.1 1.5 0.9 0.5 0.2 1 0.6 0.2 0.2 0.8 0.5 0.5 0.5 0.5 0.4 0.8 0.6 1.2 0.6 0.6 0.4 0.4 0.2 1 0.3 2 0.4 1 0.1 1-0.2 1-0.4 1-0.3 1 0.1 1 0.6 0.2 0.2 0.8 0.4 3 0.3 1-0.1 1-0.3 1-0.2 1 0.7 0.2 0.2 0.8 1 1 1 0.1 0 0.9 0.2 1 0.4 0.4 0.4 0.6 0.4 1 0.4 1-0.7 0-0.1 0.4-1 0.6-0.6 0.3-0.4 0.7-0.9 1 0.3 1.6 1.6 0.4 0.3 1 0.4 0.8 0.3 0.2 0 1 0.5 0.7 0.5 0.3 0.2 0.8 0.8 0.2 0.1 0.7 0.9 1.3 1.3 1 0.6 0.1 0.1 0.9 0.1 1 0.4 1 0.2 1 0 1-0.1 1-0.3 0.7-0.3 0.3-0.3 1-0.3 1 0.2 1 0.4 1 0 1-0.5 1-0.4 1 0 1 1 0.7 0.9 0.3 0.4 0.6 0.6 0.4 0.5 0.5 0.5 0.5 0.4 0.7 0.6 0.3 0.2 1 0.6 0.5 0.2 0.5 0.1 1 0.1 1-0.1 1 0.1 1 0.5 0.3 0.3 0.7 0.4 1 0.1 1-0.3 1-0.2 0.1 0 0.9 0.1 1-0.1 1-0.7 1-0.3 1 0.5 0.5 0.5 0.5 0.3 1 0 0.7-0.3 0.3-0.3 1-0.3 1 0.1 1 0.2 0.5 0.3 0.5 0.1 1 0.8 1 0.5 1 0.2 0.5 0.4 0.5 0.2 0.7 0.8 0.3 0.3 0.8 0.7 0.2 0.1 1 0.3 2 0 0.9-0.4 0.1-0.1 1-0.9 0.1 0 0.9-0.8 1-0.2 1 0.3 1 0.7 1 0.9 0.1 0.1 0.9 0.8 0.2 0.2 0.8 1 0 0.1 0.8 0.9 0.2 0.7 0.3 0.3 0.6 1 0.1 0.3 1 0.6 1-0.6 2-2 1-0.3 1 0.1 1 0.2 1-0.2 1 0.2 1.7 1.7 0.3 0.2 1-0.1 0.1-0.1 0.2-2 0-2 0.1-1 0-1 0.6-0.7 0.1-0.3 0-2 0.1-1 0-3 0.1-1 0-1 0.1-1 0.6-0.7 0.1-0.3 0-2 0.1-1 0-5 0.1-1 0-4 0.1-1 0.6-0.7 0.1-0.3 0-5 0.1-1 0-12 0.1-1 0-9 0.1-1 0-8 0.6-0.6 0.1-0.4 0-2 0.1-1 0-15 0.1-1 0-12 0.1-1 0-3 0.1-1 0-3 0.1-1 0-3 0.1-1 0-1 0.3-0.4 0.2-0.6 0-5 0.1-1 0-12 0.1-1 0-6 0.1-1 0-7 0.1-1 0-3 0.1-1 0-1 0.1-1 0-2 0.1-1 0-1 0.1-0.1 0.3-0.9 0-2-0.3-0.4-1-0.2-23 0-1-0.1-11 0-1-0.1-12 0-1-0.1-38 0-1-0.1-17 0-1-0.1-2 0-1-0.1-2 0-1-0.1-2 0-1-0.1-2 0-1-0.1-1 0-1-0.1-1 0-2-0.2-1 0-2-0.2-1 0-2-0.2-1 0-2-0.2-1 0-3-0.3-1 0-1-0.1-1-0.2-0.3 0 0.3-0.2 1-0.6 0.3-0.2 0.7-0.3 1-0.5 0.3-0.2 0.7-0.3 1-0.5 0.3-0.2 0.7-0.3 1-0.5 0.3-0.2 0.7-0.3 1-0.6 2-1 0.1-0.1 0.9-0.5 8-4 0.9-0.5 0.1 0 1-0.6 0.8-0.4 0.2 0 1-0.6 0.7-0.4 0.3-0.1 1-0.1 0.9-0.8 0.1-0.1 1-0.1 1-0.2 0.7-0.6 0.3-0.2 1-0.2 0.7-0.6 0.3-0.3 2-0.2 0.6-0.5 0.4-0.4 2-0.2 1-1 2-0.2 0.3-0.2 0.7-0.7 2-0.2 0.2-0.1 0.8-0.8 1-0.1 1 0 1-1 1 0 1-0.1 1-0.9 1 0 1-0.1 1-0.9 1-0.1 0.7 0 0.3-0.2 1-0.8 1-0.5 1-0.4 0.2-0.1 0.8-0.3 1 0 1-0.1 1-0.6 0.3 0 0.7-0.8 0.1-0.2 0.9-1 1-0.5 1-0.3 0.6-0.2 0.4-0.1 1-0.3 1-0.6 1-0.2 0.8 0.2 0.2 0.1 1 0.7 0.6 0.2 0.4 0 1-1 1.8 0 1-1 0.2-0.1 1 0 0.2 0.1 1.8 0 1-0.9 2 0 1-1 2 0 1-1 1 0 1-1 1 0.1 1 0 1-1 1 0 1-0.1 0.2-0.1 0.8-0.8 2 0 0.2-0.2 0.8-0.7 2 0 1-1 1 0 0.4-0.3 0.6-0.6 2 0 1-1 2 0 0.5-0.4 0.5-0.5 2 0 1-1 1 0 0.6-0.5 0.4-0.4 2 0zM428.8 84l1.7 0 0.5 0.6 0.2 0.4 0.8 0.8 0.1 0.2 0.4 1 0.5 0.6 0.2 0.4 0.8 1 0 0.1 0.4 0.9 0.6 0.6 0.2 0.4 0.4 1 0.4 0.4 0.3 0.6 0.7 1 0.4 1 0.6 0.8 0.1 0.2 0.4 1 0.5 0.5 0.3 0.5 0.4 1 0.3 0.4 0.8 1.6 0.2 0.2 0.3 0.8 0.6 1 0.1 0.1 0.3 0.9 0.7 1 0.3 1 0.7 1 0.3 1 0.6 1 0.1 0.1 0.2 0.9 0.4 1 0.4 0.6 0.1 0.4 0 1-0.1 0.1 0-0.1-0.5-1-0.5-0.3-0.2-0.7-0.8-0.9 0-0.1-0.3-1-0.7-0.7-0.2-0.3-0.3-1-0.5-0.5-0.3-0.5-0.4-1-0.3-0.3-0.4-0.7-0.6-1-0.5-1-0.5-0.8-0.6-1.2-0.4-0.5-0.3-0.5-0.5-1-0.2-0.3-0.4-0.7-0.6-0.9 0-0.1-0.6-1-0.4-0.6-0.2-0.4-0.6-1-0.2-0.3-0.4-0.7-1.2-2-0.4-0.7-0.2-0.3-0.6-1-0.2-0.3-0.4-0.7-1.2-2-0.4-0.6zM513.9 154l0.1 0 0.3 1 0 1-0.1 1 0.8 0.2 0.2 0.8 0.2 1 0.1 1 0.5 0.6 0.1 0.4 0.3 1 0.2 1 0.4 1 0.6 2 0.1 1 0.3 0.6 0.1 0.4 0.6 2 0.2 1 0.1 0.2 0.2 0.8 0.6 2 0.2 0.9 0 0.1 0.6 2 0.2 1 0.2 0.7 0.1 0.3 0.3 1 0.2 1 0.3 1 0.1 0.6 0.1 0.4 0.6 2 0.2 1 0.1 0.3 0.2 0.7 0.6 2 0.2 1 0.4 1 0.6 2 0 0.1 0-0.1 0.3-1 0.1-1-0.2-2 0-2-0.2-1 0-0.1-0.2-0.9-0.2-2 0-2 0.1-1 0-1 0.3-0.1 0 0.1 0.2 2 0.2 1 0.6 0.5 0.1 0.5 0.2 2 0.3 1 0.4 0.7 0.1 0.3 0.1 1 0.4 2 0.4 0.9 0 0.1 0.4 2 0.1 1 0.3 1 0.2 0.4 0.1 0.6 0.2 1 0.1 1 0.2 1 0.3 1 0.1 0.2 0.2 0.8 0.1 1 0.4 2 0.3 1 0 0.1 0.2 0.9 0.1 1 0.2 1 0.1 1 0.3 1 0.1 0.4 0.1 0.6 0.2 1 0.1 1 0.2 1 0.1 1 0.3 1 0.2 1 0.2 2 0.6 3 0.1 1 0.2 1 0.2 2 0.6 3 0.4 4 0.6 3 0.5 5 0.2 1 0.1 1 0.1 0.4 0 0.6 0.3 3 0.2 1 0.4 4 0.1 0.7 0 0.3 0.5 5 0 1 0.4 4 0.1 0.6 0 0.4 0.2 2 0 2 0.1 1 0 1 0.4 1 0.3 0.4 0.8 1.6 0 1 0.1 1 0.1 0.7 0 0.3 0.2 2 0 1 0.2 2 0 1 0.3 3 0 1 0.2 2 0 1 0.1 1 0 1 0.2 2 0 1 0.1 1 0 1 0.1 1 0 1 0.2 2 0 2 0.1 1 0 2 0.1 1 0 3-0.1 1 0 2-0.2 2-0.2 1-0.3 0.8-0.3-0.8-0.2-1-0.4-1-0.1-0.4-0.1-0.6-0.1-1-0.6-3-0.1-1-0.1-0.3-0.1-0.7-0.2-1-0.2-2-0.2-1-0.4-4 0-1-0.2-2 0-1-0.3-3 0-1-0.3-3-0.1-0.4-0.1-0.6-0.3-3-0.2-1-0.1-1-0.2-1-0.9-9-0.2-1 0-0.1-0.1-0.9-0.2-2-0.2-1-0.1-1-0.4-2 0-0.2-0.1-0.8 0.1-0.1 0.3 0.1 0.7 0.2 0.3-0.2-0.1-1-0.2-0.8 0-0.2-0.2-1-0.1-1-0.2-1-0.1-1-0.2-1-0.1-1-0.1-0.3-0.1-0.7-0.1-1-0.4-2-0.1-1-0.2-1-0.1-0.7 0-0.3-0.4-2-0.1-1-0.2-1-0.1-1-0.4-2-0.1-1-0.6-3-0.1-0.7 0-0.3-0.8-4-0.1-1-0.1-0.3-0.1-0.7-0.2-1-0.3-1-0.1-1-0.2-1-0.1-0.4-0.1-0.6-0.1-1-0.6-2-0.2-0.8 0-0.2-0.2-2-0.2-1-0.6-1.2-0.1-0.8-0.2-2-0.2-1-0.5-0.8 0-0.2-0.2-1-0.2-2-0.3-1-0.3-0.5-0.3-1.5-0.1-1-0.2-1-0.4-1-0.8-4-0.2-0.2-0.1-0.8-0.2-1-0.3-1-0.2-1-0.2-0.5-0.1-0.5-0.1-1-0.6-2-0.2-0.6 0-0.4-0.4-2-0.4-1-0.2-0.7 0-0.3-0.1-1-0.2-1-0.5-1-0.2-0.8 0-0.2-0.1-1-0.2-1-0.5-1-0.2-0.8 0-0.2-0.1-1-0.2-1-0.4-1-0.3-0.9 0-0.1-0.1-1-0.2-1-0.4-1-0.3-0.9 0-0.1-0.1-1-0.2-1-0.5-1-0.2-0.8 0-0.2-0.1-1-0.2-1-0.4-1-0.3-0.9 0-0.1-0.1-1-0.3-1-0.2-1-0.4-0.9 0-0.1-0.1-1-0.4-1zM454.7 160l0.3-0.3 0.1 0.3 0.3 1-0.4 0.9-0.3-0.9zM492.6 217l0.4-0.2 0.3 0.2 0.7 0.5 0.6 0.5 0 1 0.4 0.3 0.6 0.7 0.4 0.4 1 1.5 0.1 0.1 0.3 1 0.4 2 0.2 0.9 0 0.1 0.3 1 0.6 3 0.1 0.6 0.1 0.4 0.2 1 0.3 1 0.4 2 0.3 1 0.6 3 0.1 0.3 0.3 0.7 0.4 2 0.1 1 0.2 1 0 0.2 0.6 0.8 0.4 2 0 0.6 0.1-0.6 0.1-1 0-1 0.1-1 0-1-0.1-1 0-1-0.2-1 0-0.4-0.1-0.6 0-1 0.1-0.9 1 0.3 0.2 0.6 0.2 1 0.3 1 0.3 0.6 0.1 0.4 0.2 1 0.6 2 0.1 0.2 0.2 0.8 0.1 1 0.4 2 0.3 1 0.8 4 0.2 0.8 0 0.2 0.6 3 0.3 1 0.4 2 0.1 1 0.8 4 0.1 1 0.2 1 0.2 2 0.4 2 0.1 1 0.2 1 0.3 3 0.2 1 0.1 1 0 0.1 0.1 0.9 0.6 6 0.2 1 0.1 1 0.2 1 0.1 1 0.2 1 0.3 3 0.2 1 0 0.4 0.1 0.6 0.2 1 0.1 1 0.2 1 0.3 3 0 1 0.1 1 0 1 0.4 4 0 1 0.3 3 0.2 1 0.1 0.8 1 0 0.1-0.8 0.2-2 0-1 0.1-1 0-1 0.1-1-0.1-1 0-1-0.1-1 0-1-0.2-2 0-1 0.1-1 0.4-2 0.3-1 0.1-0.2 0 0.2 0.2 1 0.3 1 0.4 2 0.1 0.6 0 0.4 0.2 2 0 3 0.1 1 0 1 0.2 2 0.2 1 0.1 1 0.2 1 0 0.3 0.1 0.7 0 1 0.1 1 0 2-0.1 1 0 2-0.1 1 0 0.2-0.1 0.8 0 1-0.3 3-0.6 3-1.2-6-0.1-1-0.2-1-0.3-1-0.2-1 0-0.2-0.1 0.2-0.8 2-0.1 0.3-0.1 0.7 0 1-0.1 1 0 1-0.3 3-0.2 1-0.1 1-0.2 1 0 0.1-0.2 0.9-0.6 3-0.2 0.6-0.2 0.4-0.4 1-0.4 0.9-0.2 0.1-0.8 0.5-1-0.5-0.7-1-0.3-0.4-0.3-0.6-0.4-1-0.3-0.7-0.1-0.3-0.3-1-0.4-1-0.2-0.7-0.1-0.3-0.4-1-0.3-1-0.4-1-0.5-1-0.3-0.7-0.1-0.3-0.9-3-0.2-1-0.1-1-0.2-1-0.1-1 0-1-0.3-3-0.1-0.4-0.1-0.6-0.2-1-0.3-1-0.4-2 0-0.1-0.2-0.9-0.2-1 0-1-0.1-1 0-1-0.1-1 0-1-0.1-1-0.2-1-0.1-1-0.2-1 0-1-0.1-1 0-1-0.1-1 0-1-0.1-1 0-4 0.1-1 0-5-0.1-1-0.2-1-0.1-1-0.2-0.9 0-0.1-0.1-1-0.4-2-0.1-1-0.4-2-0.7-7-0.2-1-0.1-1 0-2-0.1-1 0-2-0.1-1 0-2-0.2-2-0.2-1-0.3-1-0.1-0.3-0.1-0.7-0.3-3-0.2-1-0.3-1-0.1-0.4-0.1-0.6 0-1-0.1-1 0-1-0.1-1-0.2-1-0.4-4-0.1-0.6 0-0.4-0.4-2-0.1-1-0.4-2-0.1-0.4-0.1-0.6-0.8-4-0.1-0.4-0.1-0.6-0.2-1-0.1-1-0.2-1-0.1-1-0.2-1-0.1-0.9 0-0.1-0.2-1zM518.4 244l0.6-0.7 1-0.3 0.7 1 0.3 0.4 1 1.5 0.1 0.1 0.3 1 0.1 1 0.2 1 0.1 1 0.2 1 0 1 0.1 1 0.3 1 0.1 1 0.2 1 0.1 1 0.2 0.9 0 0.1 0.2 1 0.1 1 0.4 2 0.1 1 0.2 1 0 0.3 0.1 0.7 0.1 1 0.2 1 0.4 4 0.2 1 0 0.4 0.1 0.6 0.4 4 0.2 1 0.2 2 0.1 0.7 0 0.3 0.2 2 0 1 0.3 3 0 1 0.4 4 0 1 0.1 0.7 0 0.3 0.1 1 0 1 0.3 3 0 1 0.2 2 0 3 0.1 1 0 3 0.1 1 0 1 0.1 1 0 1 0.1 1 0 6-0.1 1 0 2-0.7 7-0.2 1 0 0.1-1 1 0-0.1-1-2-0.2-1-0.3-1-0.4-2-0.1-0.8 0-0.2-0.2-1-0.2-2-0.4-2-0.1-1-0.1-0.6-0.1-0.4-0.2-2 0-1-0.1-1 0-1-0.1-1 0-1-0.1-1 0-1-0.2-2 0-1-0.5-5 0-1-0.1-1 0-2-0.1-1 0-1-0.1-1 0-1-0.1-1 0-2-0.1-1 0-1-0.1-1 0-2-0.1-1 0-0.2-0.1-0.8-0.1-1 0-1-0.2-2 0-1-0.1-1 0-1-0.4-4 0-1-0.1-0.6 0-0.4-0.3-3 0-1-0.4-4 0-1-0.2-2-0.1-0.6 0-0.4-0.2-1-0.7-7-0.1-0.4-0.1-0.6-0.4-4zM235.5 346l0.5-0.2 1-0.3 1-0.2 1 0.1 1 0.2 1 0.3 0.1 0.1 0.9 0.5 0.8 0.5 0.2 0.1 1 0.8 0.1 0.1 0.9 0.8 0.2 0.2 0.8 0.9 0.1 0.1 0.9 1 0.8 1 0.2 0.2 0.6 0.8 0.8 1 0.6 0.9 0.1 0.1 0.7 1 0.2 0.4 0.4 0.6 0.6 1 0.5 1 0.5 0.9 0.1 0.1 0.8 2 0.1 0.3 0.2 0.7 0.3 1 0.2 1-0.7 0.4-1 1.5-0.1 0.1-0.6 2-0.3 0.7-0.1 0.3-0.5 1-0.4 0.9-0.1 0.1-0.4 1-1 2-0.4 1-0.1 0.4-0.2 0.6-0.4 1-0.3 1-0.1 0.3-0.3 0.7-0.4 1-0.3 0.8-0.1 0.2-0.6 1-0.3 0.4-0.5 0.6-0.5 0.5-0.6 0.5-0.4 0.3-1 0.5-1 0.4-1 0.2-1 0-1-0.2-1-0.4-1-0.6-0.2-0.2-0.8-0.7-0.2-0.3-0.7-1-0.1-0.2-0.3-0.8-0.3-1-0.2-1 0-3 0.1-1-0.3-0.2-0.4 0.2-0.6 0.2-0.4-0.2 0.3-1 0.1-0.7 0.1-0.3 0.3-3 0-1-0.1-1 0-1-0.1-1-0.2-1 0-0.3-0.1-0.7-0.8-4-0.1-0.3-0.2-0.7-0.2-1-0.3-1-0.2-1-0.1-0.8 0-0.2-0.2-1 0-2 0.2-1 0-0.1 0.2-0.9 0.4-1 0.5-1 0.7-1 0.2-0.2 0.9-0.8 0.1-0.1 1-0.7zM183.4 399l0.6-0.8 1-0.2 1 0.9 0.1 0.1 0.3 1 0.2 1-0.1 1-0.2 1-0.3 0.6-0.5 0.4-0.5 0.3-1-0.1-0.4-0.2-0.6-0.7-0.2-0.3-0.2-1 0-1 0.3-1 0.1-0.4zM181.8 420l0.2-0.2 1-0.1 0.4 0.3 0.4 1 0.1 1-0.1 1-0.4 1-0.4 0.4-1-0.5-0.6-0.9-0.3-1 0.1-1zM211 460l0-0.9 0 0.9 0.1 1 0 2 0.1 1 0 9-0.1 1 0 3-0.1 1 0 3.6 0-6.6-0.1-1 0-11 0.1-1 0-1z"/>
<path fill="#baff3c" d="M379.6 107l0.4-0.1 1-0.2 1 0.1 1 0 1 0.1 0.5 0.1 0.5 0 1 0.1 1 0 1 0.1 1 0.2 1 0.1 2-0.2 1 0.1 1 0.3 0.9 0.3 0.1 0 1 0.7 0.3 0.3 0.7 0.8 0.2 0.2 0.8 0.9 0.1 0.1 0.7 1 0.2 0.3 0.5 0.7 0.5 0.9 0.1 0.1 0.6 1 1 2 0.3 0.7 0.1 0.3 0.4 1 0.3 1 0.8 2 0.4 0.6 0.3 0.4 0.7 0.5 0.9 0.5 0.1 0.1 1 0.5 0.6 0.4 0.4 0.2 1 0.6 0.3 0.2 0.7 0.4 0.9 0.6 0.1 0.1 1 0.6 0.4 0.3 0.6 0.4 0.7 0.6 0.3 0.3 0.6 0.7 0.4 0.6 0.7 1.4 0 2 0.2 1 0.1 0.8 0 0.2 0.3 1 0.6 3 0.1 0.4 0.1 0.6 0.3 1 0.4 2 0.2 0.6 0.1 0.4 0.2 1 0.6 2 0.1 0.6 0.1 0.4 0.1 1 0.4 2 0.1 1-0.4 1-0.3 0.5-0.4 0.5-0.5 1-0.1 1 0 1-0.2 2-0.2 1-0.8 2-0.3 1-0.2 2 0.1 1 0 1 0.4 4 0 2-0.1 1 0 1-0.7 7 0 1-0.1 1 0 1 0.1 0.6 0.1 0.4 0.6 2 0.3 0.8 0.1 0.2 0.6 2 0.2 1 0.1 0.2 0.2 0.8 0.3 1 0.4 1 0.1 0.4 0.2 0.6 0.3 1 0.4 1 0.1 0.3 0.3 0.7 0.4 1 0.6 1 0.5 1 0.2 0.3 0.3 0.7 0.4 1 0.3 0.9 0 0.1 0.3 1 0.6 3 0.1 1 0 0.3 0.1 0.7 0.1 1 0.2 1 0.4 1 1 2 0.2 0.3 0.4 0.7 0.4 1 1 2 0.2 0.6 0.2 0.4 0.4 1 0.3 1 0.1 0.4 0.2 0.6 0.8 1.6 0.5 0.4 0.5 0.7 0.6 0.3 1 1 0.2 1 0 2 0.1 1 0.2 1 0.3 1 0.4 1 0.2 0.4 1 1.5 1.1 1.1 0.7 1 0.2 0.3 0.3 0.7 0.4 1 0.3 0.8 0.1 0.2 0.4 2 0.3 1 0.2 0.6 0.1 0.4 0.6 3 0.3 0.8 0.1 0.2 0.4 1 0.5 0.8 0.1 0.2 1.8 2 0.1 0.4 0.2 0.6 0.2 1 0.2 2 0.2 1 0.2 0.8 0.1 0.2 0.4 1 0.5 1 0.4 1 0.4 2 0.2 0.9 0 0.1 0.3 1 1 2 0.7 1 0.8 1 0.2 0.3 0.7 0.7 0.3 0.4 1-0.3 0.1-0.1 0.3-1 0.2-1 0.1-1 0-2-0.4-2-0.3-0.7-0.1-0.3-0.2-2-0.2-1-0.1-1-0.2-1-0.1-1-0.1-0.8 0-0.2-0.1-1 0-2 0.1-0.1 0.1 0.1 0.2 2 0.7 0.5 0.1 0.5 0.6 2 0.2 1 0.1 0.2 0.1 0.8 0.2 2 0.2 1 0.3 1 0.2 0.5 0.1 0.5 0.1 1 0.3 1 0.5 1 0.9 3 0.1 0.3 0.2 0.7 0.2 1 0.3 1 0.2 1 0.1 0.9 0 0.1 0.2 1 0.1 1 0.6 2 0.1 0.1 0.7 0.9 0.3 0.3 0.8 0.7 0.2 0.2 1 0.8 0.1 0 1.8 1 0.1 0.1 1 0.7 0.1 0.2 0.8 1 0.1 0.1 0.5 0.9 1.5 3 0.6 1 0.5 1 0.6 1 0.3 0.9 0 0.1 0.8 2 0.2 0.9 0 0.1 0.6 2 0.2 2 0 1-0.1 1 0 1-0.1 1 0 1 0.1 1 0 1 0.1 1 0 1 0.2 2 0 0.3 0.1 0.7 0.1 1 0 2-0.2 2 0 0.4-0.1 0.6-0.1 1-0.2 1-0.1 1-0.2 1 0 1-0.2 2 0 1-0.1 0.8 0 0.2-0.4 2-0.3 1-0.3 0.8-0.1 0.2-0.9 1-1 0.5-1 0.3-0.9 0.2-0.1 0-1 0.3-1 0.6-0.1 0.1-0.9 0.6-1 0.3-0.8 0.1-0.2 0-1 0.1-1 0.2-1 0.6-0.1 0.1-0.9 0.8-0.2 0.2-0.8 0.7-0.9 0.3-0.1 0-2 0.2-1 0.2-2 0.8-1 0.3-1 0.4-0.3 0.1-0.7 0.3-1 0.2-2 0-1 0.1-1 0.2-0.7 0.2-0.3 0.1-1 0.3-1 0.2-2-0.2-2 0.4-0.6 0.2-0.4 0.2-1 0.3-1 0.1-2 0-2 0.2-1 0.2-0.1 0-0.9 0.1-2 0-5-0.5-3 0.3-3 0-1 0.1-4 0-5-0.5-1-0.2-3-0.3-0.2 0-0.8-0.1-1 0-1-0.1-3 0-3-0.3-1-0.4-2 0-1 0.4-2 0-1-0.1-2 0-1 0.1-3 0-1-0.1-1 0-2-0.2-1 0-1-0.1-0.7-0.1-0.3 0-1-0.2-1-0.1-1-0.2-1-0.5-1 0-1 0.1-1 0-1 0.4-1 0-4-0.4-4 0-1-0.1-2 0-1-0.1-2-0.4-1-0.3-1-0.2-0.3 0-0.7-0.1-1 0-1 0.1-0.1 0-0.9 0.1-1 0.1-2 0-1 0.1-3 0-1-0.1-1-0.2-0.1 0-0.9-0.4-1-0.4-0.6-0.2-0.4-0.1-1-0.4-1-0.3-0.6-0.2-0.4-0.1-1-0.4-1-0.3-1-0.4-2-0.6-0.6-0.2-0.4-0.1-1-0.3-1-0.2-1-0.3-0.4-0.1-0.6-0.2-2-0.6-0.4-0.2-0.6-0.2-1-0.4-1-0.3-0.2-0.1-0.8-0.3-1-0.4-0.8-0.3-0.2-0.1-1-0.3-2-0.4-1-0.1-0.6-0.1-0.4-0.1-1-0.2-1-0.5-0.3-0.2-1.4-1-0.3-0.2-1-0.8-1-0.7-0.4-0.3-0.6-0.3-1-0.7-1-0.6-0.5-0.4-0.5-0.3-2-1.4-0.4-0.3-0.6-0.4-0.8-0.6-0.2-0.2-1-0.6-0.2-0.2-1.6-1-0.2-0.1-1-0.6-2-1-0.4-0.3-0.6-0.3-0.9-0.7-0.1-0.1-1-0.7-0.2-0.2-0.8-0.5-0.7-0.5-0.3-0.2-3-1.5-2-1.2-0.1-0.1-0.9-0.6-0.7-0.4-0.3-0.2-2-1-2-0.6-0.7-0.2-0.3-0.1-2-0.4-1-0.1-1 0.1-1 0.2-0.9 0.3-0.1 0-2 0.8-0.9 0.2-0.1 0-1 0.2-1 0.1-2-0.2-0.3-0.1-0.7-0.2-1-0.4-0.7-0.4-0.3-0.2-0.8-0.8-0.2-0.3-0.3-0.7-0.1-1 0.2-1 0.2-0.6 0.7-1.4 0.1-1-0.4-1-1.4-1.4-0.8-0.6-0.2-0.2-0.6-0.8-0.4-0.4-1-1.2-0.3-0.4-0.7-0.8-0.2-0.2-0.8-1-0.7-1-1.2-2-1.1-2.2-0.5-0.8-0.5-0.9-0.1-0.1-0.9-1-1-1-1-0.9-0.1-0.1-0.8-1-0.1-0.1-0.6-0.9-0.5-1-0.4-1-0.3-1-0.2-0.7-0.1-0.3-0.2-1-0.4-4-0.2-1-0.1-0.2-0.3-0.8-0.6-1-0.1-0.1-0.4-0.9-1-2-0.6-1.5-0.3-0.5-0.5-1-0.2-0.3-0.6-0.7-0.4-0.3-1-0.6-0.1-0.1-0.9-0.8-0.2-0.2-0.8-1 0-0.1-0.8-0.9-2-2-0.2-0.5-0.1-0.5 0.1-0.1 0.5-0.9 0.5-0.3 1-0.5 1 0 1 0.2 1 0 1-0.2 1 0.3 0.4 0.5 0.6 0.8 0.2 0.2 0.6 1 0.2 0.4 0.6 0.6 0.4 0.5 1 0 1-0.4 0.9-0.1 0.1 0 1 0.2 1 0.7 0.3 0.1 0.7 0.2 1 0 1-0.1 1 0.1 1 0.8 0.9 1 0.1 0.1 1 0.5 1-0.4 1.2-1.2 0.8-0.7 1 0 0.9 0.7 0.1 0.1 1 0.3 1 0 1 0.6 0.9 1 1 1 1.1 0 1-0.9 0.2-0.1 0.8-0.6 1-0.1 1 0.3 1 0.5 1 0.3 0.8 0.6 2.2 1.1 1 0.1 1-0.2 0.1 0 0.9-0.8 1 0 0.9 0.8 0.1 0.1 1 0.8 1-0.1 1-0.5 1-0.2 1 0.2 0.9 0.7 0.1 0 1 0.5 0.7 0.5 0.3 0.1 1 0.8 0.1 0.1 0.9 0.8 0.3 0.2 0.7 0.3 0.9 0.7 0.1 0 1 0.4 1 0.5 0.3 0.1 0.7 0.1 1 0 1 0.1 1-0.1 0.4-0.1 0.6-0.3 1-0.4 1 0.1 0.8 0.6 0.2 0.1 1 0.6 1 0.2 0.9 0.1 2.1 0 1-0.4 1-0.2 0.8 0.6 0.2 0.1 0.8 0.9 1.2 1.2 1 0.3 0.9 0.5 0.1 0 1 0.7 0.7 0.3 0.3 0.1 0.2-0.1 0.8-0.7 0.2-0.3 0.5-1 0.3-0.3 0.5-0.7 0.5-0.6 1 0.2 0.4 0.4 0.6 0.7 0.3 0.3 0.7 0.6 0.9 0.4 0.1 0 1 0.2 1 0.6 0.2 0.2 0.8 0.4 1 1 1 1.2 1 1 0.6 0.4 0.4 0.2 1 0.2 1 0.4 0.6 0.2 0.4 0.1 1 0 1-0.1 1-0.4 1-0.5 0.4-0.1 0.6-0.2 0.9 0.2 0.1 0 1 0.2 1 0 0.6-0.2 1.4-0.7 1 0.1 1 1 0.5 0.6 0.5 0.7 0.3 0.3 0.7 0.9 0.1 0.1 0.9 0.8 0.3 0.2 0.7 0.4 0.8 0.6 0.2 0.1 1 0.3 3 0 0.9 0.6 0.1 0.1 1 0.6 1 0.2 1-0.5 1-0.2 1 0.1 1-0.1 0.4-0.2 0.6-0.4 1-0.4 1 0.7 0.1 0.1 0.9 0.6 1 0 1-0.5 0.3-0.1 0.7-0.3 1 0.1 0.5 0.2 0.5 0.1 1 0.3 0.8 0.6 0.2 0.1 1 0.6 0.9 0.3 0.1 0 1 0.4 0.5 0.6 0.5 0.5 0.6 0.5 0.4 0.4 1 0.3 1 0.1 1-0.1 1-0.5 1-1 0.4-0.2 0.6-0.6 1-0.2 1 0.3 0.6 0.5 0.4 0.2 0.8 0.8 0.2 0.1 1 1 0.8 0.9 0.2 0.3 0.6 0.7 0.4 1 0.8 1 0.2 0.5 0.7 0.5 0.3 0.1 0.3-0.1 0.7-0.4 0.5-0.6 0.5-0.5 0.6-0.5 0.4-0.4 1-0.4 2 0.4 1-0.2 1 0.2 0.4 0.4 0.6 0.5 0.5 0.5 0.5 0.4 1-0.1 0.2-0.3 0.2-1 0.1-1 0-1 0.1-1 0-1 0.1-1 0.3-0.4 0.2-0.6 0-1 0.1-1 0-2 0.1-1 0-1 0.1-1 0-1 0.1-1 0.4-0.4 0.2-0.6 0-1 0.1-1 0-3 0.1-1 0-2 0.1-1 0-2 0.1-1 0-2 0.4-0.4 0.2-0.6 0-2 0.1-1 0-10 0.1-1 0-5 0.1-1 0-4 0.1-1 0-6 0.1-1 0-4 0.1-1 0.2-0.3 0.3-0.7 0-10 0.1-1 0-8 0.1-1 0-5 0.1-1 0-7 0.1-1 0-1 0.1-1 0-1 0.1-1 0-1 0.1-1 0-3 0.1-1 0-1 0.3-1 0-1 0.1-1 0-11 0.1-1 0-6 0.1-1 0-3 0.1-1 0-5 0.1-1 0-3 0.1-1 0-1 0.1-1 0-1 0.1-1 0-2 0.1-1 0-2 0.3-1 0-1-0.1-1-0.5-0.8-0.8-0.2-0.2 0-1-0.1-16 0-1-0.1-1 0.1-3 0-1-0.1-5 0-1-0.1-5 0-1-0.1-3 0-1-0.1-4 0-1-0.1-7 0-1-0.1-16 0-1-0.1-3 0-1 0.1-1 0-1-0.1-23 0-1-0.1-4 0-1-0.1-1.3 0-0.7-0.1-1 0-4-0.4-1 0-1-0.1-1 0-1-0.1-2 0-1-0.1-1 0-1-0.1-1 0-1-0.1-0.8 0 1.8-0.9 0.1-0.1 0.9-0.3 1-0.4 2-0.6 1-0.2 1-0.3 0.8-0.2 0.2 0 1-0.4 1-0.3 0.7-0.3 0.3-0.1 2-0.6 2-0.4 1-0.4 1-0.3 0.7-0.2 0.3-0.1 1-0.3 2-0.4 1-0.1 1-0.2 1-0.1 2-0.6 0.8-0.2 0.2 0 1-0.2 1-0.1 1-0.2 1-0.1 1-0.2 1-0.1 0.4-0.1 0.6-0.1 1-0.2 1-0.1 1-0.3 1-0.2 0.2-0.1 0.8-0.3 1-0.2 1 0.1 1 0.2 1 0 1-0.1 3-0.6 0.2-0.1 0.8-0.2 1-0.1 1 0 1 0.1 1-0.1 1-0.2 1-0.1 1-0.2 1-0.1 1 0 1-0.1 0.1 0 0.9-0.2 3-0.3 1-0.2 2 0 2-0.4 1-0.3 1-0.4 0.8-0.2 0.2-0.1 1-0.2 1-0.1 1 0 1-0.3 0.8-0.3 0.2-0.1 1-0.3 3-0.6 0.3 0 0.7-0.1 2-1 1-0.4 3-0.6 1-0.3 1-0.5 0.3-0.1 0.7-0.3 2-0.6 0.4-0.1 0.6-0.2 3-0.6 0.6-0.2 0.4-0.1 1-0.3 1 0 1-0.1 1-0.2 1-0.3 1-0.2 2-0.2 1-0.2 1-0.1 1-0.2zM239.9 353l0.1 0 1 0.1 1 0.4 0.9 0.5 0.1 0 1 0.9 1.1 1.1 0.9 1 0 0.1 0.7 0.9 0.3 0.4 0.4 0.6 0.5 1 0.1 0.1 0.4 0.9 0.4 1 0.2 0.8 0.1 0.2 0.2 2 0 1-0.1 1-0.2 0.1-0.6 0.9-0.4 0.5-1 0.4-0.3 0.1-0.5 1-0.2 0.3-0.5 0.7-0.5 0.6-0.6 0.4-0.4 0.3-1 0.5-1 0.1-1-0.4-0.4-0.5-0.6-0.2-0.3 0.2-0.7 0.3-0.6-0.3-0.4-2 0-0.1-0.2-0.9-0.8-4 0-0.4-0.1-0.6-0.1-1 0-1-0.1-1 0-2-0.1-1 0.2-2 0.2-0.7 0.1-0.3 0.6-1 0.3-0.4 1-0.5z"/>
<path fill="#d1ff26" d="M382.8 119l1.3 0 0.9 0.3 1 0.2 1 0 2-0.4 0.4-0.1 0.6-0.1 1 0 0.8 0.1 0.2 0 2 1 0.1 0 0.9 0.3 0.9 0.7 0.1 0.1 0.4 0.9 0.3 1 0.2 1 0.1 1 0 2-0.1 1-0.4 2 0.5 0.3 2 0.2 1-0.2 1-0.3 0.4 0 0.6-0.1 1 0.1 1 0 1 0.1 1 0.2 1 0.3 1 0.5 1 0.8 0.1 0.1-0.1 0.4-0.1 0.6-0.2 1-0.4 1-0.3 0.9 0 0.1-0.2 1-0.1 1 0.2 1 0.1 0.4 0.2 0.6 0.6 2 0.2 2 0 1-0.1 1-0.2 1-0.6 2-0.1 0.3-0.2 0.7-0.1 1 0 1 0.3 3 0 1-0.6 6 0.4 2 0.1 1-0.1 1-0.4 2 0 1 0.6 2 0 0.1 0.2 0.9 0 2-0.1 1-0.1 0.3-0.2 0.7-0.3 1-0.3 3 0 1 0.3 1 0.4 2 0.1 0.3 0.1 0.7 0.2 1 0.1 1 0.4 2 0.2 2 0 2 0.4 2 0.6 2 0.4 1 1.2 2 0.4 1 0 0.1 0.3 0.9 0.1 1 0.2 1 0.2 2 0.4 2 0.1 1 0.2 1 0.1 1 0.2 1 0.2 2 0.2 1 0.4 1 0.2 1 0.2 0.7 0.1 0.3 0.1 1 0.2 1 0.6 2 0.8 2 0.2 0.6 0.1 0.4 0.8 2 0.1 0.1 0.4 0.9 0.4 1 0.2 0.8 0.1 0.2 0.3 1 0.4 1 0.2 0.8 0.1 0.2 0.4 1 0.3 1 0.2 0.6 0.1 0.4 0.4 1 0.3 1 0.2 0.8 0 0.2 0.3 1 0.2 1 0.3 1 0.2 0.4 0.4 0.6 0.6 0.7 0.2 0.3 0.6 1 0.2 0.7 0.1 0.3 0.3 3 0.2 1 0.3 1 0.1 0.3 0.2 0.7 0.3 1 0.4 2 0.1 0.8 0 0.2 0.3 3 0.2 1 0.3 1 0.4 1 0.3 1 0.4 2 0.1 0.9 0 0.1 0.1 1-0.1 0.6 0 0.4-0.1 1 0.1 0.6 0.1 0.4 0.9 1 0.1 0 0.8 1 0.1 0.6 0 1.4 0.1 1 0.7 1 0.2 0.1 0.2-0.1 0.8-0.5 0.4-0.5 0.6-0.6 1 0 0.5 0.6 0.5 0.9 0 0.1 0.2 1 0.8 0.5 0.4 0.5 0.6 0.4 0.5 0.6 0.5 0.5 0.4 0.5 1 1 0.6 0.5 0.8 0.5 0.2 0.1 1 0.2 1 0 1 0.1 1 0.5 0.1 0.1 0.9 0.7 0.4 0.3 0.6 0.5 0.5 0.5 0.5 0.4 0.8 0.6 0.2 0.2 1 0.6 0.4 0.2 0.6 0.4 1 0.5 0.3 0.1 0.7 0.4 1 0.3 0.7 0.3 0.3 0.2 0.8 0.8 0.2 0.3 1 1.4 0.2 0.3 1 1 0.8 0.7 0.4 0.3 0.6 0.7 0.2 0.3 0.7 1 0.1 0.2 0.3 0.8 0.2 1 0 1-0.2 2 0.2 2 0.2 1 0.2 2 0.1 0.9 0 0.1 0.2 1 0.4 1 0.3 1 0.1 0.8 0 1.3-0.2 0.9-0.4 1-0.3 1 0 1 0.2 2 0.2 1 0.3 1 0.2 1 0 1.4-0.1 0.6-0.4 1-0.5 1-0.4 1-0.3 1-0.3 0.7-0.1 0.3-0.3 1-0.6 1-1 1-1 0.6-1 0.5-1 0.7-0.2 0.2-0.8 0.7-0.2 0.3-0.8 0.9-1 1-0.2 0.1-0.8 0.5-1 0.3-1 0.4-1 0.5-0.4 0.3-0.6 0.4-1 0.6-2 1-0.1 0-0.9 0.5-1 0.3-1 0.2-1 0-1 0.1-2 0.6-0.9 0.3-0.1 0-1 0.1-0.7-0.1-0.3 0-1-0.1-0.2 0.1-0.8 0.2-2 0.8-0.1 0-0.9 0.3-1 0.1-2 0-1 0.2-1 0.3-0.2 0.1-0.8 0.3-1 0.1-2 0-1-0.2-1-0.1-0.4-0.1-0.6-0.1-1-0.1-2 0-1 0.2-1 0-1-0.1-2 0-1 0.1-1 0-2 0.2-1 0-1-0.1-0.8-0.1-0.2 0-1-0.1-1-0.2-1-0.1-2-0.4-2-0.2-5 0-4-0.4-2 0-2 0.2-1 0-2-0.2-6 0-1-0.1-1 0-1-0.1-1-0.2-1 0-1-0.1-0.4-0.1-0.6-0.1-1-0.2-2-0.6-0.8-0.1-2.2 0-2 0.4-1 0.1-1-0.2-1-0.1-1-0.2-0.1 0-0.9-0.1-1 0-1-0.1-2 0.2-1 0-1 0.1-1 0-0.9-0.1-0.1 0-2-0.4-1-0.4-1-0.2-1-0.1-1 0-1 0.1-0.2 0-0.8 0.1-2 0.2-1 0-1 0.1-2 0-1 0.1-1-0.1-1-0.2-0.5-0.2-0.5-0.3-1.4-0.7-0.6-0.2-1-0.4-0.9-0.4-0.1 0-2-0.6-2-0.8-1.2-0.6-0.8-0.3-1-0.2-1-0.3-0.5-0.2-0.5-0.1-1-0.3-1-0.2-1-0.3-0.1-0.1-0.9-0.3-1-0.5-0.6-0.2-0.4-0.1-1-0.4-1-0.3-0.4-0.2-0.6-0.2-1-0.4-1-0.3-0.3-0.1-0.7-0.2-2-0.4-1-0.3-1-0.2-1-0.7-0.3-0.2-0.7-0.4-0.8-0.6-0.2-0.1-1-0.7-2-1-0.3-0.2-0.7-0.4-0.9-0.6-0.1-0.1-1-0.7-0.3-0.2-0.7-0.5-0.6-0.5-0.4-0.3-0.9-0.7-0.1 0-1-0.6-0.6-0.4-0.4-0.2-1-0.7-0.2-0.1-0.8-0.5-0.9-0.5-0.1 0-1-0.6-0.7-0.4-0.3-0.2-1-0.7-0.2-0.1-0.8-0.6-1-0.8-0.9-0.6-0.1 0-3-1.5-0.8-0.5-0.2-0.1-1-1-0.8-0.9-0.2-0.2-1-0.8-1-0.5-1-0.4-1-0.2-2-0.2-3-0.6-1 0-1 0.1-1 0.3-0.6 0.5-0.4 0.2-1 0.7-0.1 0.1-0.9 0.5-1 0.4-0.4 0.1-0.6 0.1-1 0.1-1 0-1-0.2-1-0.4-1-0.6-0.7-1-0.1-1 0.5-1 0.3-0.5 0.5-0.5 0.5-0.6 0.4-0.4 0.3-1-0.3-1-0.8-1-1.6-1.6-0.6-0.4-0.4-0.3-0.9-0.7-0.1-0.1-1-0.6-0.2-0.3-0.8-0.9-0.1-0.1-0.9-1-0.8-1-0.2-0.3-0.5-0.7-0.5-1-0.4-1-0.6-2 0-0.1-0.2-0.9-0.2-1-0.5-1-0.1-0.1-0.8-0.9-0.2-0.1-1-0.8-0.1-0.1-0.9-0.6-0.5-0.4-0.5-0.5-0.4-0.5-0.6-1.2-0.2-0.8-0.1-1 0.2-2 0.1-0.8 0-0.2 0.2-2 0-1 0.1-1-0.2-1-0.1-0.4-0.2-0.6-0.5-1-0.3-0.3-0.8-0.7-0.2-0.1-1-0.1-1 0.2-1-0.3-1-1.4-0.2-0.3-1-2-0.6-1-0.2-0.4-0.7-0.6-0.3-0.2-1-0.5-0.3-0.3-0.7-0.5-0.4-0.5-0.6-0.8-0.2-0.2-0.7-1-0.1-0.1-0.7-0.9 0.2-1 0.5-0.3 1-0.1 1 0.2 1-0.1 1-0.2 1 0.3 0.2 0.2 0.7 1 0.1 0.1 0.6 0.9 0.4 0.7 1 1 1 0.1 1-0.5 1-0.1 1 0.2 0.8 0.6 0.2 0.1 1 0.3 1 0 1-0.1 1 0.1 0.7 0.6 0.3 0.2 0.8 0.8 0.2 0.3 1 0.6 1-0.5 0.3-0.4 0.7-0.7 0.4-0.3 0.6-0.5 1 0 0.6 0.5 0.4 0.2 1 0.4 1 0 0.6 0.4 0.4 0.2 0.8 0.8 0.2 0.3 0.8 0.7 0.2 0.2 1-0.1 0.2-0.1 0.8-0.7 0.5-0.3 0.5-0.4 1-0.1 1 0.4 0.3 0.1 0.7 0.2 1 0.4 0.5 0.4 0.5 0.3 1 0.5 0.3 0.2 0.7 0.2 1 0.2 1-0.2 0.3-0.2 0.7-0.6 1 0 0.7 0.6 0.3 0.3 0.8 0.7 0.2 0.1 1 0 0.2-0.1 0.8-0.5 1-0.3 1 0.3 0.6 0.5 0.4 0.2 1 0.6 0.3 0.2 0.7 0.3 0.8 0.7 0.2 0.1 1 0.9 1 0.6 0.6 0.4 2 1 0.4 0.1 3 0.3 1-0.1 1-0.3 0.1 0 0.9-0.4 1 0.1 0.4 0.3 0.6 0.3 1 0.6 0.2 0.1 0.8 0.1 1 0.1 2 0 0.7-0.2 0.3-0.1 1-0.3 0.5 0.4 0.5 0.3 0.7 0.7 0.3 0.4 1 1 1 0.4 0.4 0.2 0.6 0.2 1 0.7 0.1 0.1 0.9 0.3 0.4-0.3 0.6-0.5 0.3-0.5 1.4-2 0.3-0.4 1 0.3 0.1 0.1 0.9 1 1 0.9 0.3 0.1 0.7 0.2 1 0.2 0.8 0.6 0.2 0.1 1 0.6 0.3 0.3 0.7 0.6 0.3 0.4 0.7 0.8 0.2 0.2 0.8 0.9 0.2 0.1 0.8 0.3 1 0.3 1 0.5 1 0.1 1 0 1-0.1 0.6-0.1 0.4-0.2 1-0.6 1-0.2 2 0.4 1 0 1-0.3 0.2-0.1 0.8-0.5 1 0.1 1 1 0.3 0.4 0.7 1 0.9 1 0.1 0.1 1 0.9 1 0.7 0.4 0.3 0.6 0.3 1 0.3 1 0.1 1-0.1 1 0.1 0.5 0.3 0.5 0.2 1 0.7 0.2 0.1 0.8 0.1 0.4-0.1 0.6-0.3 1-0.3 1 0.1 1-0.1 0.7-0.4 0.3-0.2 1-0.4 0.8 0.6 0.2 0.1 1 0.8 1-0.1 1-0.6 1-0.2 2 0.2 1 0.4 0.5 0.4 1.5 0.9 0.2 0.1 0.8 0.2 1 0.5 0.3 0.3 0.7 0.8 0.3 0.2 0.7 0.6 0.9 0.4 1.6 0 0.5-0.1 1-0.6 0.4-0.3 0.6-0.6 0.7-0.4 0.3-0.3 1-0.3 1 0.4 0.3 0.2 0.7 0.4 0.6 0.6 0.4 0.3 1.7 1.7 0.3 0.4 0.5 0.6 0.4 1 0.1 0.2 0.6 0.8 0.4 0.8 0.3 0.2 0.7 0.3 0.7-0.3 0.3-0.2 0.7-0.8 0.3-0.3 0.8-0.7 0.2-0.2 1-0.4 1 0.2 1 0.3 1-0.3 1 0.2 1.2 1.2 0.8 0.7 1-0.3 0.3-0.4 0.3-1 0.1-1 0-1 0.2-2 0-1 0.1-0.1 0.3-0.9 0.1-1 0-2 0.1-1 0-1 0.4-4 0.1-0.1 0.3-0.9 0.1-1 0-3 0.1-1 0-2 0.1-1 0-1 0.1-1 0-1 0.1-1 0-1 0.1-1 0.1-0.1 0.3-0.9 0-1 0.1-1 0-8 0.1-1 0-5 0.1-1 0-2 0.1-1 0-2 0.1-1 0-5 0.1-1 0-3 0.1-1 0-4 0.4-1 0-5 0.1-1 0-7 0.1-1 0-5 0.1-1 0-3 0.1-1 0-6 0.1-1 0-2 0.1-1 0-1 0.2-2 0-2 0.1-1 0-3 0.1-1 0-1 0.2-1 0.1-1 0-10 0.1-1 0-4 0.1-1 0-4 0.1-1 0-1 0.1-1 0-1 0.1-1 0-2 0.1-1 0-5 0.1-1 0-1 0.1-1 0-1 0.1-1 0-2 0.1-1 0-2 0.1-1 0-2-0.5-1-0.3-0.5-1-0.2-9 0-1 0.1-1-0.1-5 0-1-0.1-1 0-1 0.1-3 0-1-0.1-4 0-1-0.1-2 0-1-0.1-3.1 0-0.9-0.3-1-0.2-3-0.3-1-0.2-0.4 0-1.2-1 0.6-0.3 0.8-0.7 0.2-0.1 1-0.6 1-0.2 0.6-0.1 0.4-0.1 1-0.3 1-0.6 1-0.7 0.3-0.3 0.7-0.5 1-0.4 1 0.1 1 0.2 1-0.4 1-0.9 0.1-0.1 0.9-0.5 1-0.2 1 0 1-0.3 0.1 0 0.9-0.6 0.9-0.4 0.1-0.1 1-0.2 1-0.1 2-0.6 0.2 0 0.8-0.1 1 0 1-0.1 1-0.2 1 0 1-0.3z"/>
<path fill="#e4ff13" d="M395.3 131l0.7-0.5 1 0.4 0.3 0.1 0.7 0.5 1 0.3 2 0 1 0.2 0 0.1-1 1-0.6 0.9 0.1 1 0.5 0.9 0.1 0.1 0.5 1 0.2 1-0.4 2-0.3 1-0.1 0.8 0 1.2 0.2 1 0.1 1 0 1-0.1 1-0.5 1-0.7 1-0.2 1 0 1 0.2 1 1 0.9 0 0.1 0.4 2 0.1 1 0.2 1 0.3 1 0.1 1 0 1-0.1 0.4-0.1 0.6-0.4 2-0.3 1-0.2 0.7 0 0.3-0.2 1-0.2 2-0.2 1-0.1 1 0 1 0.1 1 0.3 1 0.3 0.8 0.1 0.2 0.9 3 0 0.1 0.3 0.9 0.3 1 0.4 0.9 0 0.1 0.4 1 0.6 2 0 2-0.2 2 0 1 0.1 1 0 1 0.1 0.9 0 0.1 0.6 3-0.1 1-0.4 1-0.1 0.5-0.2 0.5 0 1 0.2 0.8 0 0.2 0.4 1 0.3 1 0.3 0.6 0.3 0.4 0.5 1 0.2 0.5 0.3 1.5 0.3 3 0.2 1 0.2 0.7 0.1 0.3 0.6 1 0.3 0.4 0.5 0.6 0.5 0.9 0.1 0.1 0 1-0.1 0.6-0.1 0.4-0.1 1 0.1 1 0.1 0.7 0.1 0.3 0.6 2 0.1 1 0 1 0.2 1 0 0.2 0.3 0.8 0.6 2 0.1 0.9 0 0.1 0.2 1 0.4 1 0.4 0.9 0.1 0.1 0.9 0.6 1 0.4 0.7 1-0.1 1-0.6 0.7-0.2 0.3-0.8 0.7-0.1 0.3-0.3 1-0.2 1-0.1 1 0.1 1 0.3 1 0.3 0.8 0.1 0.2 0.9 1 0.1 0 1 1 0.6 1 0.3 1 0 0.1 0.4 0.9 0.3 1 0.1 1-0.1 1-0.7 1.4-0.2 0.6-0.2 1 0.1 1 0.2 1 1 1 0.1 0.2 0.6 0.8 0.4 0.6 0.2 0.4 0.6 1 0.2 0.3 0.9 0.7 0.1 0.2 0.7 0.8-0.1 1-0.2 1 0 1 0.6 2-0.2 1-0.3 1-0.1 1 0.1 1 0.2 1 0.1 1 0.2 1 0 0.1 0.1 0.9 0.2 1 0.3 1 0.4 1 0 0.1 0.2 0.9 0 1-0.1 1-0.2 1 0.1 0.3 0.7 0.7 0.3 0.1 0.3-0.1 0.7-0.2 1-0.4 1 0 1 0.1 1 0.5 1 0.8 0.6 0.2 0.4 0.1 0.3-0.1 0.7-0.1 1-0.2 2 0 0.7 0.3 0.3 0.1 1 0.8 0.3 0.1 0.7 0.4 1.2 0.6 1.6 1 0.2 0.1 1 0.8 0.1 0.1 0.9 0.5 1 0.4 0.1 0.1 1.8 1 0.1 0.1 1 0.7 0.2 0.2 0.8 0.7 0.4 0.3 1 1 0.6 0.5 0.2 0.5 1 2 1.2 3 0.3 1 0.3 0.5 0.2 0.5 0.6 2 0.2 1 0 0.3 0.2 0.7 0.4 2 0.4 1 1-0.6 0.3-0.4 0.7-0.5 1-0.5 1 0.7 0.1 0.3 1 2 0.2 1 0.1 1 0 1-0.2 1-0.2 0.8-0.6 1.2-0.3 1-0.1 0.3-0.3 0.7-0.2 1-0.1 1-0.3 1-0.1 0.2-0.9 0.8-0.1 0.1-0.5 0.9-0.2 1 0.2 1 0.3 1 0.2 0.7 0.1 0.3-0.1 1-0.4 1-0.6 1 0 0.1-0.3 0.9-0.4 1-0.6 1-0.7 1-1 0.9-0.1 0.1-0.9 0.5-0.8 0.5-0.2 0.1-0.6 0.9-0.4 0.5-0.3 0.5-0.7 0.8-0.1 0.2-0.9 0.6-0.7 0.4-0.3 0.1-1 0.5-0.6 0.4-0.4 0.3-1 0.4-1 0.3-0.3 0-0.7 0.1-1 0.1-1 0.2-1 0.1-1-0.2-1-0.1-1 0.2-1 0.6-2 1-0.1 0-0.9 0.2-1 0.2-1 0.1-1 0-1 0.2-0.7 0.3-0.3 0.2-1 0.6-0.6 0.2-0.4 0.1-1 0.1-1-0.1-0.4-0.1-0.6-0.1-2-0.4-1-0.1-3 0-1-0.2-1-0.1-5 0.5-1 0-2-0.2-2 0-1-0.2-0.8-0.2-0.2 0-1-0.3-2-0.2-1-0.2-2 0.2-2 0-1-0.1-1 0-1-0.1-2-0.4-1 0-0.8 0.1-0.2 0-1 0.3-1 0.2-1 0-1-0.1-1-0.2-1-0.1-2 0-0.3-0.1-0.7-0.1-1-0.1-3 0-4-0.4-1-0.2-2-0.8-1-0.2-1-0.1-2 0-2 0.4-1 0.1-2-0.4-2-0.2-2 0-3 0.6-1 0.1-1 0-1-0.1-1-0.2-1-0.3-0.2-0.1-0.8-0.3-1-0.3-2 0-5 0.5-1 0-1-0.1-1 0.1-0.8 0.1-0.2 0-1 0.1-0.2-0.1-0.8-0.2-1-0.7-0.2-0.1-0.8-0.6-0.9-0.4-0.1-0.1-2-0.8-2-0.4-1-0.4-2-1.2-0.7-0.1-0.3 0-2-0.4-1-0.4-0.6-0.2-0.4-0.1-1-0.3-3-1.2-1-0.3-0.2-0.1-0.8-0.3-1-0.3-0.9-0.4-0.1 0-1-0.5-1-0.3-0.8-0.2-0.2 0-1-0.3-1-0.4-0.9-0.3-0.1 0-1-0.5-0.7-0.5-0.3-0.2-2-1-1-0.4-2-1-0.7-0.4-0.3-0.2-1-0.8-1-0.9-1-1-0.2-0.1-0.8-0.7-2-1.2-0.2-0.1-0.8-0.7-1-1-0.4-0.3-0.6-0.5-0.5-0.5-0.5-0.6-0.6-0.4-0.4-0.3-1-0.2-1-0.4-0.1-0.1-1.5-1-0.4-0.2-1-0.4-1-0.3-0.3-0.1-0.7-0.4-0.7-0.6-0.3-0.3-0.4-0.7-0.4-1-0.2-0.6-0.2-0.4-0.8-0.9-0.2-0.1-0.8-0.6-1-0.5-1-0.1-0.9 0.2-0.1 0-1 0.2-1-0.1-0.4-0.1-0.6-0.3-1-0.7-1-0.8-0.2-0.2-0.8-0.5-0.4-0.5-1.6-1.6-0.9-0.4-1.1 0-1 0.2-1 0.1-1 0.2-1 0.3-1 0.1-1-0.4-0.6-0.5-0.4-0.3-1-1-0.6-0.7-0.4-0.5-0.5-0.5-0.5-0.7-0.3-0.3-0.7-0.8-0.3-0.2-0.7-0.4-1-0.4-0.1-0.2-0.7-1-0.5-1-0.1-1 0.2-1 0.2-0.5 0.3-0.5 0.7-0.9 1 0.6 0.3 0.3 0.7 0.8 0.2 0.2 0.8 0.6 0.6-0.6 0.4-0.9 0-0.1 0.1-1 0-1 0.2-2-0.1-1-0.2-0.7-0.2-0.3-0.8-1-1-0.8-0.2-0.2-0.8-0.9-0.1-0.1-0.3-1 0-1 0.2-2 0-1-0.2-1-0.5-1-0.1-0.1-1-0.6-1 0.4-0.3 0.3-0.7 0.5-1 0.2-0.8-0.7-0.2-0.2-1-1.6-0.1-0.2-0.8-1-0.1-0.1-1-0.8-0.2-0.1-0.8-0.2-1-0.3-0.5-0.5-0.5-0.3-0.7-0.7-0.3-0.2-1-0.5-1 0-1 0.3-1-0.3-0.2-0.3-0.8-0.9 0-0.1-0.6-1-0.4-1-0.6-1-0.4-0.7-0.3-0.3-0.7-0.5-1-0.5-1-0.9-0.1-0.1-0.7-1-0.2-0.4-0.4-0.6 0.4-0.9 1 0.1 1-0.2 1-0.3 0.8 0.3 0.2 0.1 0.7 0.9 0.3 0.3 0.5 0.7 0.5 1 1 1 1 0.1 0.1-0.1 0.9-0.5 1-0.2 1 0.3 0.6 0.4 0.4 0.2 1 0.4 1 0 1-0.1 1 0.1 1 0.8 0.6 0.6 0.4 0.5 0.8 0.5 0.2 0.1 0.2-0.1 0.8-0.5 1-1 0.7-0.5 0.3-0.3 1 0 0.3 0.3 0.7 0.4 1 0.4 1 0.1 0.2 0.1 0.8 0.3 0.6 0.7 0.4 0.5 0.6 0.5 0.4 0.4 1-0.1 0.4-0.3 0.6-0.5 0.8-0.5 0.2-0.2 1-0.1 0.7 0.3 0.3 0.1 1 0.3 2 1 0.9 0.6 0.1 0.1 1 0.3 1 0.2 1-0.2 0.6-0.4 0.4-0.4 1 0 0.4 0.4 1.2 1 0.4 0.3 1-0.1 0.5-0.2 0.5-0.3 1-0.3 1 0.3 0.4 0.3 1.5 1 0.1 0 1 0.5 0.6 0.5 0.4 0.3 0.8 0.7 0.2 0.2 1 0.6 0.3 0.2 0.7 0.3 1 0.6 0.1 0.1 0.9 0.3 2 0.2 1 0 1-0.1 1-0.2 0.6-0.2 0.4-0.2 1 0.1 0.1 0.1 0.9 0.4 0.8 0.6 0.2 0.1 1 0.2 1 0 1 0.1 1-0.1 2-0.4 1 0.5 1 1.2 0.4 0.4 0.6 0.5 0.9 0.5 0.1 0 1 0.3 0.8 0.7 0.2 0.1 1 0.3 0.7-0.4 0.3-0.2 0.4-0.8 0.6-0.8 0.1-0.2 0.8-1 0.1-0.1 0.4 0.1 0.6 0.1 0.9 0.9 0.1 0.2 0.9 0.8 0.1 0.1 1 0.2 1 0.3 0.5 0.4 0.5 0.2 1 0.8 1 0.9 0.1 0.1 0.9 1 0 0.1 1 1 2 0.8 0.2 0.1 0.8 0.2 1 0.2 1 0 1-0.1 1-0.3 0.1 0 0.9-0.6 1-0.2 1 0.1 1 0.3 1-0.1 1-0.3 0.5-0.2 0.5-0.3 1 0.2 0.1 0.1 0.9 0.8 0.1 0.2 0.8 1 0.1 0.1 0.8 0.9 1.2 1.2 1 0.7 0.1 0.1 0.9 0.4 1 0.4 1 0.2 1-0.2 1 0.1 0.1 0.1 0.9 0.4 0.8 0.6 0.2 0.1 1 0.2 0.8-0.3 0.2-0.1 1-0.4 1 0.2 1-0.1 1-0.6 0.1 0 0.9-0.4 0.6 0.4 0.4 0.2 0.9 0.8 0.1 0.1 1 0 0.1-0.1 0.9-0.6 1-0.3 1 0.1 1 0.2 1 0.4 0.2 0.2 1.6 1 0.2 0.1 1 0.2 1 0.7 1 1 1 0.8 0.4 0.2 0.6 0.1 1 0.1 1-0.1 0.2-0.1 0.8-0.5 0.6-0.5 0.4-0.4 1-0.6 1-0.4 0.9 0.4 0.1 0 1 0.6 0.4 0.4 1.2 1 0.4 0.4 1 1.2 0.3 0.4 0.5 1 0.2 0.3 0.5 0.7 0.5 1 1 0.5 1-0.5 0.9-1 0.1-0.1 1-0.9 0.1 0 0.9-0.5 1 0.3 0.6 0.2 0.4 0.1 0.4-0.1 0.6-0.2 0.8 0.2 0.2 0 1 1 1 0.9 1-0.3 0.4-0.6 0.4-1 0.1-1 0-1 0.1-0.9 0-0.1 0.1-1 0-1 0.3-1 0.1-1 0-1 0.1-1 0-1 0.4-4 0-0.1 0.1-0.9 0.3-1 0.1-1 0-2 0.1-1 0-1 0.1-1 0-1 0.1-1 0-1 0.2-2 0-1 0.1-1 0-1 0.3-1 0.1-1 0-6 0.1-1 0-5 0.1-1 0-3 0.1-1 0-1 0.1-1 0-2 0.1-1 0-3 0.1-1 0-4 0.1-1 0-5 0.3-1 0-2 0.1-1 0-6 0.1-1 0-5 0.1-1 0-3 0.1-1 0-2 0.1-1 0-4 0.1-1 0-4 0.1-1 0-1 0.3-3 0-2 0.1-1 0-3 0.1-1 0-1 0.2-2 0-9 0.1-1 0-1 0.1-1 0-1 0.1-1 0-1 0.1-1 0-2 0.1-1 0-2 0.1-1 0-1 0.1-1 0-1 0.1-1 0-8 0.1-1 0-1 0.1-1 0-1 0.1-1 0-0.6 0.1-0.4 0.3-3 0-1 0.1-1-0.1-1-0.4-0.6-0.1-0.4zM252.2 307l0.8-0.4 1-0.1 1 0 1 0.4 0 0.1 0.2 1-0.2 0.2-0.6 0.8-1.4 0.7-1 0.2-1-0.3-1-0.6 0-1 1-0.9z"/>
<path fill="#fbf100" d="M397 144l0-0.2 0 0.2 0.2 2-0.2 2-0.5-1 0.1-1 0.2-1zM396.3 155l0.7-0.7 0.2 0.7 0.1 1 0.2 1 0.1 1 0.2 1 0.2 0.9 0 0.1 0.4 1 0.2 1-0.2 2 0 1 0.2 2-0.2 2 0 1-0.1 1 0.1 1 0.4 2 0.2 0.7 0.1 0.3 0.2 1 0.2 2 0.3 1 0.2 0.7 0.1 0.3 0.8 2 0.1 0.2 0.3 0.8 0.2 1 0 2 0.2 2 0 1-0.1 1-0.2 1-0.4 1 0 0.1-0.2 0.9-0.2 2 0 3 0.1 1 0.2 1 0.1 0.6 0.2 0.4 0.8 2 0.6 2 0.4 1 0.3 1 0.1 1-0.2 2 0.2 1 0.1 1 0.3 1 0.2 0.9 0.1 0.1 0.5 1 0.4 1 0 0.1 0.2 0.9 0.1 1 0.2 1 0.3 1 0.2 0.6 0.1 0.4 0.3 1 0 1 0.4 2 0.1 1 0.1 0.4 0.1 0.6 0.6 2 0.2 1 0.1 0.4 0.2 0.6 0.4 1 0.4 0.6 1 1 0.2 0.4 0.1 1-0.1 1-0.2 0.8-0.1 0.2-0.2 1-0.1 1 0.1 1 0 1-0.3 1-0.5 1-0.6 1-0.3 1 0.1 1 0.3 1 0.5 1 1.1 1.1 1 0.9 0 0.1 0.5 0.9-0.1 1-0.3 1-0.1 0.4-0.1 0.6 0.1 0.3 0.2 0.7 0.7 1 0.1 0.2 0.3 0.8 0.1 1 0.2 1 0.4 0.8 0.2 0.2 0.7 1 0.1 0.1 0.5 0.9 0.3 1 0.1 1 0.1 0.2 0.2 0.8 0.2 1-0.3 3 0 1 0.2 1 0.7 1.4 1 1 0.4 0.6 0.3 1 0 3-0.4 2-0.1 1 0 1 0.3 1 0.5 0.1 0.3-0.1 0.7-0.2 0.5 0.2 0.5 0.3 0.4 0.7 0.5 1 0.1 0.1 0.5 0.9 0.5 0.7 0.8 0.3 0.2 0.1 0.1-0.1 0.9-0.6 0.3-0.4 0.6-1 0.1-0.2 1-0.7 1 0.1 1 0.6 0.8 0.2 1.2 0 2-0.2 1 0.2 0.1 0 0.9 1 0 0.1 0.6 0.9 0.4 0.3 1 0.1 1-0.2 1 0.1 0.9 0.7 0.1 0.1 1 0.6 1 0.3 1 0.7 0.3 0.3 0.6 1 0.1 0.4 0.2 0.6 0.1 1 0.2 1 0.5 0.9 1-0.1 1 0 0.3 0.2 0.7 0.5 0.4 0.5 0.3 1 0.2 1 0 1 0.1 0.9 0 0.1 0.2 2-0.2 1 0 0.1-1 0.6-0.8-0.7-0.2-0.4-0.2-0.6-0.2-1-0.3-1-0.3-0.5-0.6-0.5-0.4-0.4-0.6 0.4-0.4 0.4-0.3 0.6-0.7 0.9-1 0-1 0.1-0.7 1 0.5 1 0.2 0 1 0.1 0.9 0.9 0.5 1 0.4 1 0.2 0.4 0.2-0.4 0.8-0.8 1 0.1 0.4 0.7 0.4 1 0.2 0.4 0.2 0.6 0.5 1 0.3 0.4 0.6 0.6 0.4 0.6 0.1 0.4 0.1 1 0 1 0.4 1 0.4 0.4 0.7 0.6 0.3 0.3 1 0.6 0.2 0.1 0.5 1-0.4 1-0.3 0.3-0.8 0.7-0.2 0.1-0.4 0.9-0.4 2-0.5 1-0.7 0.8-0.1 0.2-0.3 1-0.3 3-0.2 1-0.1 0.3-0.2 0.7-0.5 1-0.3 0.9 0 0.1-0.2 1-0.4 1-0.4 0.4-0.7 0.6-0.3 0.2-1 0.6-0.6 0.2-0.4 0.1-1 0.4-1 0.3-1 0-2-0.4-1 0.1-1 0.4-0.2 0.1-0.8 0.6-0.3 0.4-0.7 0.5-0.8 0.5-0.2 0.1-1 0.4-2 0.4-0.7 0.1-0.3 0-1 0.3-1 0.4-0.4 0.3-0.6 0.5-1 0.5-0.2 0-0.8 0.1-0.7-0.1-0.3 0-1-0.3-1-0.2-1-0.3-2 0-1-0.1-0.4-0.1-0.6-0.2-1-0.3-1 0.1-1 0.2-1 0.1-0.4 0.1-0.6 0.1-2 0.2-1-0.1-1-0.2-0.3 0-0.7-0.1-1 0.1-1 0-1-0.2-1-0.4-1-0.1-1-0.2-0.7-0.1-0.3-0.1-1-0.1-1 0-1 0.2-1 0.1-1 0-0.8-0.1-1.2 0-1-0.1-2-0.4-1-0.1-1 0.2-0.9 0.4-0.1 0-1 0.3-1 0-1-0.1-1-0.2-1 0-1-0.1-1-0.4-0.9-0.5-0.1 0-1-0.1-0.8 0.1-0.5 0-0.7-0.1-1-0.1-2 0.2-1-0.2-1-0.6-0.4-0.2-0.6-0.4-2-0.4-4 0.4-2 0.4-1-0.1-1-0.2-1-0.4-1-0.1-1 0.1-1 0-1 0.1-1 0.3-0.9 0.3-0.1 0-1 0.3-2 0.2-1-0.1-1-0.2-2-1-0.6-0.2-0.4-0.1-1 0.1-0.3 0-0.7 0.1-2 0-2 0.4-1 0.1-1 0-1-0.1-1 0-1 0.1-1 0-1-0.3-1.3-1.3-0.7-0.5-2-1-1-0.2-1 0-1-0.2-1-0.5-0.9-0.6-0.1 0-1-0.4-2-0.2-1-0.2-1-0.4-1-0.3-1-0.4-0.3-0.1-0.7-0.3-1-0.4-1-0.3-1-0.4-2-1.2-1-0.4-1-0.5-2-0.4-0.2-0.1-0.8-0.3-1-0.6-0.2-0.1-1-1-0.8-0.6-0.9-0.4-0.1-0.1-1 0-1-0.1-1-0.3-2-1-0.7-0.5-0.3-0.2-1.8-1.8-0.2-0.3-0.6-0.7-0.4-0.5-1-1-0.6-0.5-1-1-0.4-0.3-2-2-0.4-0.7-0.6-0.9-0.1-0.1-0.9-0.8-0.2-0.2-0.8-0.6-0.6-0.4-0.4-0.3-1 0-1 0.2-1-0.3-1-0.5-0.1-0.1-0.9-0.8-0.1-0.2-0.4-1-0.2-2-0.3-0.8-0.1-0.2-0.9-0.7-0.8-0.3-0.2-0.1-1-0.2-1-0.6-0.2-0.1-0.8-0.5-1 0.3-0.6 0.2-0.4 0.1-1-0.1-0.1 0-0.9-0.4-1-0.4-0.7-0.2-0.3-0.1-1-0.3-0.9-0.6-0.1 0-0.7-1-0.3-0.5-0.4-0.5-0.6-0.6-1-0.3-1 0.4-0.8 0.5-0.2 0.1-1 0.2-1 0.1-1 0.3-1-0.1-0.7-0.6-0.6-1-0.1-1 0.1-1 0-2-0.1-1 0.1-1 0-1 0.2-1 0.1-0.6 0.1-0.4 0.6-2 0.1-1 0-3 0.2-1 0-0.3 0.4-0.7-0.4-0.4-0.4-0.6-0.6-0.3-1-0.7-0.4-1-0.2-1 0-1-0.2-1-0.2-0.7-0.1-0.3-0.6-1-0.3-0.4-1-0.3-1 0.2-1-0.2-0.4-0.3-0.6-0.3-1-0.1-0.7 0.4-0.3 0.2-1 0.7-0.6 0.1-0.4 0.1-0.1-0.1-0.9-0.6-0.3-0.4-0.7-0.8-0.2-0.2-0.8-0.9-0.1-0.1-0.9-0.5-1-0.1-1-0.2-0.2-0.2-0.8-0.4-0.7-0.6-0.3-0.2-1-0.5-1 0.1-1 0.2-1-0.2-0.3-0.4-0.7-0.9-0.1-0.1-0.5-1-0.4-1 0-0.1-0.6-0.9-0.4-0.8-0.3-0.2-0.7-0.6-1-0.5-0.8-0.9-0.4-1 0.2-0.1 1-0.4 0.9-0.5 0.2 0 0.9 0.3 0.5 0.7 0.5 0.5 0.3 0.5 0.5 1 1.2 1.2 1 0 0.5-0.2 0.5-0.3 1-0.2 1 0.3 0.3 0.2 0.7 0.4 1 0.4 1 0.1 1-0.2 1 0.1 0.2 0.2 0.8 0.5 0.4 0.5 0.6 0.6 0.6 0.4 0.4 0.3 1-0.6 1-1 0.9-0.7 0.1-0.1 1 0 0.1 0.1 0.9 0.6 0.9 0.4 0.1 0.1 1 0 1 0.4 0.5 0.5 0.5 0.6 0.4 0.4 0.6 0.5 1 0 0.6-0.5 0.4-0.3 1-0.7 0.4 0 0.6-0.1 0.2 0.1 0.8 0.2 1 0.3 0.9 0.5 0.1 0.1 1 0.5 0.6 0.4 0.4 0.2 1 0.4 1 0.2 1-0.3 0.8-0.5 0.2-0.2 1 0 0.2 0.2 0.8 0.6 0.4 0.4 0.6 0.4 1 0 1-0.5 1-0.3 1 0.3 0.1 0.1 0.9 0.5 0.7 0.5 0.3 0.2 1 0.4 0.4 0.4 0.6 0.4 0.6 0.6 0.4 0.3 1 0.7 1 0.5 0.8 0.5 0.2 0.1 1 0.3 1 0.2 1 0.1 1 0 1-0.1 2-0.6 1 0.1 1 0.5 0.6 0.4 0.4 0.3 2 0.2 2 0 1-0.3 1-0.1 1 0.5 0.4 0.4 0.6 0.8 0.2 0.2 0.8 0.7 1 0.5 1 0.3 0.6 0.5 0.4 0.3 1 0.3 1-0.6 0.5-1 0.5-0.7 0.3-0.3 0.7-0.9 1 0.1 0.7 0.8 0.3 0.3 0.8 0.7 0.2 0.2 2 0.6 0.2 0.2 0.8 0.4 0.8 0.6 0.2 0.1 1 1 0.8 0.9 1.2 1.2 1 0.5 0.8 0.3 0.2 0.1 2 0.4 1 0.1 2-0.4 0.3-0.2 0.7-0.4 1-0.3 1 0.2 1 0.3 1-0.1 1-0.4 0.8-0.3 0.2-0.1 1 0.2 1 0.9 0.8 1 0.2 0.3 0.7 0.7 0.3 0.4 0.7 0.6 0.3 0.3 0.9 0.7 0.1 0.1 1 0.5 0.9 0.4 0.1 0 1 0.1 1-0.1 1 0.1 1 0.4 0.6 0.5 0.4 0.2 1 0.2 1-0.3 0.3-0.1 0.7-0.3 1 0.2 1-0.2 1-0.5 1-0.4 0.3 0.2 0.7 0.4 0.8 0.6 0.2 0.2 1 0 0.3-0.2 0.7-0.5 1-0.2 2 0.2 0.9 0.5 0.1 0 1 0.6 0.5 0.4 0.5 0.2 1 0.3 0.8 0.5 0.2 0.1 1 1 1 0.9 1 0.3 1 0 1-0.1 0.5-0.2 0.5-0.3 0.8-0.7 0.2-0.2 1-0.7 0.5-0.1 0.5-0.2 0.4 0.2 0.6 0.1 1 0.7 0.3 0.2 0.7 0.6 1.4 1.4 0.6 0.8 0.1 0.2 0.9 1.5 0.4 0.5 0.5 1 0.1 0.1 1 0.5 1-0.5 2-2 0.4-0.1 0.6-0.3 0.9 0.3 0.1 0 1 0.2 1-0.2 1 0.1 1 1 1 0.9 0.2 0 0.8-0.2 0.5-0.8 0.5-1 0.1-1 0-1 0.1-1 0-1 0.1-1 0.3-1 0-2 0.1-1 0-1 0.2-2 0.2-1 0.1-1 0-1 0.4-1 0-2 0.1-1 0-2 0.2-2 0-1 0.1-0.7 0-0.3 0.1-1 0-1 0.1-1 0-1 0.1-1 0.2-1 0.1-1 0-4 0.1-1 0-5 0.1-1 0-3 0.1-1 0-1 0.1-1 0-1 0.1-1 0-1 0.1-1 0-3 0.1-1 0-5 0.1-1 0-5 0.3-1 0-6 0.1-1 0-4 0.1-1 0-4 0.1-1 0-1 0.1-1 0-1 0.1-1 0-1 0.1-1 0-5 0.1-1 0-4 0.3-3 0-1 0.1-1 0-1 0.1-1 0-3 0.1-1 0-1 0.2-1 0.2-2 0-7 0.1-1 0-1 0.1-1 0-2 0.1-1 0-1 0.1-1 0-3 0.1-1 0-2 0.1-1 0-0.6zM255 277.8l-0.2 0.2-0.7 1 0.9 0.9 0.7-0.9-0.4-1z"/>
<path fill="#ffdb00" d="M395.9 181l0.1-0.8 1-0.1 0.5 0.9 0.1 1-0.1 1-0.2 1 0.1 1 0.4 1 0.2 0.2 0.5 0.8 0.4 1 0.1 0.4 0.1 0.6 0 1-0.1 0.5 0 0.5-0.1 1 0.1 1 0 0.2 0.1 0.8 0.2 2 0 3-0.2 1-0.1 1 0 1 0.2 1 0.3 1 0.2 1 0.3 1 0 0.1 0.2 0.9 0.4 1 0.2 1 0.2 0.5 0.1 0.5 0.3 1 0.4 2 0.2 0.9 0 0.1 0.8 4 0.1 1 0 3 0.1 0.8 0 0.2 0.2 1 0.3 1 0.4 1 0.1 0.1 1 1.8 0.1 0.1 0.4 1 0.2 1 0.1 1 0 2 0.1 1 0.1 0.8 0 0.2 0.4 2 0.1 1 0 1-0.2 1-0.3 0.6-0.4 0.4-0.6 0.9-0.1 0.1-0.1 1 0 1 0.2 0.7 0.1 0.3 0.5 1 0.4 0.7 0.2 0.3 0.4 1 0.3 1 0.1 0.7 0.1 0.3 0.3 3 0.4 2 0.2 0.6 0.1 0.4 0.3 1 0.2 2 0 1 0.1 1 0.4 2 0.6 1 0.3 0.6 0.5 0.4 0.5 0.6 0.4 0.4 0.3 1-0.6 1-0.1 0.1-0.3 0.9-0.6 3 0 1 0.9 1.8 0.2 0.2 0.6 1 0.2 1 0.1 1 0.4 2 0.1 1 0 1 0.1 1 0.3 1 0 0.2 0.2 0.8 0.1 1 0.7 0.6 1 0.2 1 0.1 3 0 0.2 0.1 0.8 0.7 0.1 0.3 0.5 1 0.4 0.5 0.6 0.5 0.4 0.2 1 0.1 1-0.5 1-0.8 1-0.6 1-0.5 2-0.8 0.8-0.1 0.3 0 0.9 0.3 0.8 0.7 0.2 0.3 0.6 0.7 0.4 0.6 0.5 0.4 0.5 0.5 1 0.2 1-0.3 1-0.1 1 0.5 0.2 0.2 0.8 0.7 0.5 0.3 0.4 1-0.1 1-0.4 2-0.3 1-0.1 0.1-0.8 0.9-0.2 0.2-0.4 0.8-0.3 1-0.2 1-0.1 0.6 0 0.4-0.1 1 0 1 0.1 0.7 0.1 0.3 0.5 1 0.4 0.6 0.4 0.4 0.6 1 0 0.1 0.5 0.9 0.5 0.8 0.1 0.2 0.6 1 0.3 0.8 0.1 0.2 0.6 1 0.3 0.4 1 0.2 1 0 1 0.4 0.8 1 0.4 1 0.3 1 0 1-0.3 1-0.8 2-0.2 1-0.1 1-0.1 0.8 0 0.2-0.4 1-0.6 0.9-0.1 0.1-0.8 1-0.1 0.2-0.3 0.8 0 1-0.1 1-0.4 1-0.2 0.3-1 0.5-1-0.3-1 0.4 0 0.1-0.6 1-0.4 0.3-1 0.7-1 0.5-1 0.2-1 0.1-0.3 0.2-0.7 0.7-0.2 0.3-0.8 1-1 0.7-0.6 0.3-0.4 0.1-1 0.2-2 0.6-0.1 0.1-0.9 0.4-0.8 0.6-0.2 0.1-1 0.6-1 0.2-2-0.4-1-0.3-0.6-0.2-0.4-0.1-2 0-1-0.1-1-0.6-0.6-0.2-0.4-0.1-1 0.2-1 0.3-2 0.4-0.9 0.2-0.1 0-1 0.1-1 0-2-0.4-2-0.2-1-0.3-1-0.4-4-0.4-1 0-1 0.3-1 0.2-1-0.1-1-0.2-2 0-1-0.1-1-0.3-1-0.1-1 0.2-2 0.6-1 0.1-1 0-1-0.1-1-0.2-1-0.4-0.4-0.3-0.6-0.5-0.9-0.5-1.1 0-1 0.2-1-0.2-0.3 0-0.7-0.1-2 0.4-1-0.6-0.6-0.7-0.4-0.5-0.9-0.5-1.1 0-2 0.4-1 0.4-3 0.6-1 0.1-1 0-1-0.4-0.4-0.1-0.6-0.2-1-0.2-3 0.3-0.3 0.1-0.7 0.2-1 0.4-1 0.3-1 0.2-1 0.1-1 0-0.6-0.2-0.4-0.1-1-0.6-0.6-0.3-0.4-0.3-1-0.3-1 0.1-1 0.2-1-0.1-1 0.1-1 0.3-0.1 0-0.9 0.3-1 0.1-4-0.4-1-0.3-1-0.7-0.7-1-0.3-0.3-0.8-0.7-0.2-0.1-1-0.7-1-0.2-2 0.4-1 0-1-0.3-0.2-0.1-0.8-0.3-1-0.3-1-0.2-1-0.1-0.4-0.1-0.6-0.1-1-0.2-1-0.3-2-1-1-0.4-1-0.5-0.7-0.5-0.3-0.4-0.6-0.6-0.4-0.5-0.6-0.5-0.4-0.4-0.8-0.6-0.2-0.2-1-0.3-1-0.1-0.9-0.4-0.1 0-1-1 0-0.1-1-0.7-0.7-0.2-0.3-0.1-1-0.5-1-0.3-1 0.1-1-0.2-1-0.4-1-0.2-1-0.4-1-1-0.8-1-0.2-0.3-0.6-0.7-0.4-0.5-0.3-0.5-0.3-1-0.1-1 0.2-1 0.3-1-0.8-0.8-0.8 0.8-0.2 0.1-1 0.4-0.7-0.5-0.3-0.5-0.1-0.5 0.1-0.8 0-0.2 0.5-1 0.4-1 0.1-0.4 0.2-0.6 0.8-1 1-0.9 0.1-0.1 0.5-1 0.2-1-0.1-1-0.2-1-0.4-1-0.1-0.1-1-0.7-1-0.2-0.1 0-0.9 0.2-1 0.4-1 0.3-0.6 0.1-0.4 0.2-0.7-0.2-0.3-0.1-0.3-0.9 0.2-2-0.1-1-0.6-1-0.2-0.2-1-0.6-0.7-0.2-0.3-0.1-1-0.4-1-2.5-0.7-1-0.3-0.5-0.5-0.5-0.5-0.6-0.6-0.4-0.4-0.2-0.7-0.8-0.3-0.3-0.6-0.7-0.4-0.5-0.7-0.5-0.3-0.4-1 0.2-0.2 0.2-0.8 1-0.8-1-0.2-0.6-0.2-0.4-0.6-1-0.2-0.3-0.8 0.3 0 1 0.2 1 0.2 2 0.4 0.7 1-1.4 0.6 0.7 0.3 1-0.1 1-0.5 1-0.3 0.5-1.5 1.5-0.5 0.4-1 0.4-0.7 0.2-0.3 0.1-1 1-1 0.5-1-0.4-0.1-0.2-0.3-1 0.2-1 0.1-1-0.6-1-0.3-0.2-0.6-0.8-0.3-1-0.1-1 0.1-1 0-2 0.3-3-0.2-1-0.2-0.6-0.2-0.4-0.6-1-0.2-0.3-1-1.4-0.2-0.3-0.7-1-0.5-1-0.6-1 0-0.1-1-0.9-1 0.3-0.8 0.7-0.2 0.1-1 0.4-0.7-0.5-0.3-0.2-0.5-0.8-0.5-0.7-0.2-0.3-0.8-0.8-0.7-0.2-0.3-0.1-0.7 0.1-0.4 0-0.9-0.3-1-0.6-1-0.1-1 0.7-0.3 0.3-0.7 0.5-1 0.3-1-0.6-0.2-0.2-0.8-1-0.9-1-0.1-0.1-1-0.4-1 0-1-0.2-1-0.6-1-0.7-1-0.4-1 0-1 0.3-1-0.2-1-1.4-0.2-0.3-0.8-2-0.6-1-0.4-0.7-0.4-0.3-0.6-0.5-0.7-0.5-0.3-0.7-0.1-0.3 0.1 0 1-0.6 1 0.2 0.3 0.4 0.7 0.7 0.2 0.3 0.4 1 1.4 1.4 1 0 1-0.5 1-0.3 1 0.3 0.1 0.1 0.9 0.6 1 0.4 1.3 0 0.7-0.1 1 0.1 1 0.7 0.3 0.3 0.7 0.8 0.3 0.2 0.7 0.4 1-0.5 1-1 1-0.8 1 0 1 0.6 1 0.5 1 0 1 0.4 0.3 0.4 0.7 0.8 0.2 0.2 0.8 0.7 1-0.1 0.8-0.6 0.2-0.2 1-0.6 1-0.1 2 0.6 1 0.5 1 0.6 0.4 0.2 0.6 0.4 1 0.3 0.9 0.3 0.2 0 0.9-0.3 1-0.7 1 0 1 0.8 0.2 0.2 0.8 0.6 1-0.1 1-0.4 0.2-0.1 0.8-0.3 0.7 0.3 0.3 0.1 2 1.2 1 0.5 0.2 0.2 0.8 0.6 0.5 0.4 0.5 0.5 0.8 0.5 0.2 0.2 1.6 0.8 0.4 0.3 1 0.3 3 0.3 1-0.1 1-0.4 1-0.2 1 0.1 1 0.5 0.3 0.2 0.7 0.4 1 0.2 1 0 1 0.1 1-0.1 2-0.4 1 0.6 0.2 0.2 0.8 1 1 0.9 0.2 0.1 0.8 0.3 1 0.3 1 0.8 1 0.4 1-0.7 0.1-0.1 0.5-1 0.4-0.6 0.4-0.4 0.6-0.8 1 0.2 1.6 1.6 0.4 0.3 1 0.4 0.9 0.3 0.1 0 1 0.5 0.6 0.5 0.4 0.3 0.8 0.7 0.2 0.2 0.7 0.8 1.3 1.3 1 0.6 0.3 0.1 0.7 0.2 1 0.3 1 0.2 1 0 1-0.1 1-0.3 0.6-0.3 0.4-0.3 1-0.2 1 0.1 1 0.3 1 0 2-0.8 1 0.1 1 1 0.7 0.8 0.3 0.4 0.5 0.6 1.5 1.5 0.7 0.5 0.3 0.2 1 0.6 1 0.4 1 0.1 1-0.1 1 0 1 0.5 0.4 0.3 0.6 0.4 1 0.1 1-0.3 0.7-0.2 0.3-0.1 0.6 0.1 0.8 0 0.6-0.1 1-0.6 0.9-0.3 0.2 0 0.9 0.5 0.6 0.5 0.4 0.3 1 0 1-0.6 1-0.3 1 0.1 1 0.2 1 0.5 1 0.6 0.3 0.2 0.7 0.4 1 0.2 0.6 0.4 0.4 0.2 0.7 0.8 0.3 0.3 0.8 0.7 0.2 0.2 1 0.2 2 0 1-0.5 1-0.9 1-0.8 1-0.2 1 0.3 1 0.6 0.1 0.1 0.9 0.8 0.2 0.2 0.8 0.7 0.2 0.3 0.8 1 0.6 1 0.4 0.6 0.3 0.4 0.5 1 0.2 0.2 1 0.6 1-0.6 2-2 0.8-0.2 0.2-0.1 0.4 0.1 0.6 0.1 1 0.2 1-0.2 1 0.2 0.8 0.7 1.2 1.2 0.8-0.2 0.2-0.1 0.6-0.9 0.5-1 0.1-1 0-1 0.3-3 0.2-1 0-2 0.3-3 0-0.1 0.1-0.9 0.3-3 0.3-1 0-2 0.1-1 0-1 0.2-2 0-1 0.3-3 0-2 0.1-1 0-1 0.2-1 0.1-1 0-3 0.1-1 0-4 0.1-1 0-3 0.1-1 0-1 0.1-1 0-1 0.1-1 0-1 0.1-1 0-1 0.1-1 0-1 0.1-1 0-6 0.1-1 0-6 0.2-1 0-3 0.1-1 0-5 0.1-1 0-1.1 0.1-0.9 0-1 0.1-1 0-2 0.1-1 0-1 0.1-1 0-1 0.1-1 0-1 0.1-1 0-7 0.1-1 0-2 0.1-1 0-1 0.1-1 0.1-0.6 0.2-0.4 0.2-1 0.3-3 0-2 0.1-1zM256.8 288l0.2-0.1 1 0.1 0.6 1-0.2 1-0.4 0.9 0 0.1-0.2 1-0.1 1-0.3 1-0.4 0.5-1 0-1-0.5-0.8-1-0.2-0.7 0-0.8 0.1-0.5 0.4-1 0.5-0.7 0.3-0.3 0.7-0.6zM283.9 303l0.1-0.4 1 0.4 0.3 1 0.1 1-0.4 0.9-1-0.1-0.3-0.8 0-1z"/>
<path fill="#ffc100" d="M395.9 190l0.1-0.4 0.4 0.4 0.6 0.8 0.1 0.2 0.2 1 0.3 3 0.2 1 0 2-0.2 1-0.6 2 0 0.2-0.1 0.8 0 1 0.1 0.2 0.2 0.8 0.3 1 0.4 1 0.1 0.4 0.3 0.6 0.6 2 0.1 0.3 0.2 0.7 0.2 2-0.1 1 0.3 3 0.2 1 0.2 0.9 0.1 0.1 0.3 1 0.2 1 0 1 0.1 1 0 1 0.2 1 0.1 0.2 0.3 0.8 0.3 1 1 2 0.4 0.6 0.2 0.4 0.3 1 0.1 1-0.2 2 0 1-0.1 1 0 1-0.1 1-0.2 1 0 0.1-0.2 0.9-0.4 1-0.2 1 0 1 0.4 2 0.1 1 0 1-0.2 1-0.1 1 0.2 1 0.3 1 0.1 0.2 0.6 0.8 0.3 1 0.1 0.3 0.2 0.7 0.4 1 0.5 1 0.7 1 0.2 0.4 0.2 0.6 0.2 1 0 1-0.2 2 0.2 2 0.4 1 0.5 1 0.4 1 0.3 0.8 0 0.2 0.2 2-0.2 2-0.4 2 0 1 0.2 1 0.2 0.6 0.2 0.4 0.4 1 0.4 0.7 0.1 0.3 0.2 1 0.2 2-0.1 1-0.3 1-0.1 0.2-0.6 0.8-0.3 1 0.3 1 0.6 0.5 0.3 0.5 0.2 1-0.2 1 0.2 1 0.5 1 1 0.6 1-0.5 0.1-0.1 0.9-0.6 0.9-0.4 0.1-0.1 0.3 0.1 0.7 0.2 0.7 0.8 0.3 0.5 0.6 0.5 0.4 0.2 1 0.1 1 0.3 0.6 0.4 0.4 0.3 1 0.5 1-0.1 1-0.6 0.1-0.1 0.9-0.6 1-0.8 1.2-0.6 0.8-0.3 1-0.4 0.4-0.3 0.6-0.4 1-0.3 0.9 0.7 0.1 0.1 0.6 0.9 0.4 0.7 0.2 0.3 0.5 1 0.3 0.9 0 0.1 0.3 1 0 2 0.2 1 0.5 0.7 0.2 0.3 0.8 0.7 0.1 0.3 0.4 1 0.2 1 0 1 0.1 1 0.2 0.9 0 0.1 0.3 1 0.5 1 0.2 0.3 0.4 0.7 0.6 2 0 0.1 0.3 0.9 1 2 0.7 1 0.8 1 0.2 0.2 0.9 0.8 0.1 0.2 0.8 0.8 0 1-0.3 1-0.4 1 0 1 0.2 1-0.1 1-0.2 0.3-0.8 0.7-0.2 0.1-1 0.3-0.6 0.6-0.4 0.9 0 0.1-0.6 2-0.4 0.8-0.2 0.2-0.7 1-0.1 0.1-0.7 0.9-0.3 0.5-0.7 0.5-0.3 0.2-1 0.4-1 0.8-0.6 0.6-0.8 1-0.6 0.7-1 0.6-1 0.3-1 0.2-0.3 0.2-0.7 0.4-1 0.5-0.1 0.1-0.9 0.6-1 0.5-1 0.1-1-0.1-0.4-0.1-0.6-0.1-1-0.2-1-0.3-1 0-1 0.1-1-0.2-1-0.6-1-0.2-1 0.2-1 0.3-0.1 0-0.9 0.2-1 0.2-1 0.4-0.9 0.2-0.1 0-1 0.1-0.3-0.1-0.7-0.2-1-0.3-1-0.2-1-0.3-0.1 0-0.9-0.5-1-0.4-0.9-0.1-0.1 0-1-0.1-1 0-0.5 0.1-0.5 0-1 0.2-1 0.3-1 0.2-1-0.1-1-0.3-1-0.2-1 0.1-1-0.1-0.6-0.1-0.4-0.1-1-0.2-2 0.2-0.6 0.1-0.4 0.1-2 0.4-1 0-1-0.4-0.1-0.1-0.9-0.8-0.3-0.2-0.7-0.4-1-0.1-1 0-1 0.1-1-0.2-1-0.1-2 0-0.3-0.3-0.7-0.9-1-1-1-0.1-3 0.9-0.3 0.1-0.7 0.3-1 0.2-1 0.1-1 0.2-0.7 0.2-0.3 0.1-0.9-0.1-0.1 0-1-0.4-1-0.3-1-0.1-2 0.2-1 0.2-1 0.1-1 0.3-0.1 0-0.9 0.2-2 0.4-1-0.1-1-0.2-0.7-0.3-0.3-0.1-1-0.6-0.9-0.3-1.1 0-3 0.3-1 0.4-0.8 0.3-0.2 0.1-1 0.1-0.9-0.2-0.1 0-1-0.4-1-0.1-1-0.2-0.4-0.3-0.6-0.5-0.4-0.5-0.6-0.7-0.2-0.3-0.8-0.9-0.2-0.1-0.8-0.9-0.2-0.1-0.8-0.5-1 0.1-0.7 0.4-0.3 0.1-1 0.5-1 0.3-1-0.2-2-0.6-0.4-0.1-0.6-0.1-1 0-2-0.2-1-0.3-0.6-0.4-0.4-0.3-1-0.7-0.1 0-0.9-0.7-0.4-0.3-0.6-0.9-0.1-0.1-0.5-1-0.4-0.6-0.3-0.4-0.7-0.8-1.2-1.2-0.8-0.5-0.7-0.5-0.3-0.3-0.4-0.7-0.1-1 0-1 0.2-1 0.3-0.5 0.4-0.5 0.6-0.5 2 0.2 0.8-0.7 0.2-0.3 0.3-0.7 0.3-1 0.2-1 0.2-0.6 0.2-0.4 0.8-1 0-0.1 1-0.7 1-0.2 1 0.3 0.6 0.7 0.4 0.7 0.1 0.3 0.4 2 0.3 1 0.2 0.9 0 0.1 0.6 1 0.4 0.5 1 0.3 1 0.2 1-0.4 0.3-0.6 0.2-1-0.1-1-0.3-1-0.1-0.3-0.6-0.7-0.4-0.6-0.2-0.4-0.7-1-0.1-0.2-0.6-0.8-0.3-1-0.1-0.6-0.1-0.4-0.4-1-0.5-0.7-0.7-0.3-0.3-0.2-1-0.2-1 0-1 0.4-0.9 1-0.1 0.1-0.4-0.1-0.6-0.1-0.4-0.9-0.6-1 0-0.1-0.4-0.9-0.1-1 0.2-1 0.3-0.8 0-0.2 0.1-1-0.1-0.4-0.2-0.6-0.7-1-0.1-0.1-1-0.3-1-0.2-1 0.5-0.1 0.1-0.5 1-0.3 1-0.1 0.2-0.2 0.8-0.6 2-0.2 0.7-0.1 0.3-0.5 1-0.2 1-0.1 1 0 1-0.1 1 0 0.1-1 0-1-1-1 0.4-0.1 0.5 0 1 0.1 0.4 0.1 0.6 0.3 1 0.4 2 0.2 0.8 0.1 0.2 0.2 1 0.1 1 0 1-0.4 0.8-0.2 0.2-0.8 0.3-1 0.2-1 0.3-1-0.2-0.9-0.6-0.1-0.1-0.5-0.9-0.2-1 0-1-0.2-2 0-1 0.2-1 0.6-2 0.1-0.4 0.2-0.6 0.4-2 0.3-1 0.1-1-0.2-1-0.7-1-0.1-0.1-1-0.5-0.6-0.4-0.4-0.3-0.5-0.7-0.4-1-0.1-1 0-2.3-0.2-0.7-0.6-1-0.2-0.3-0.5-0.7-0.5-1 1-0.3 1 0.2 0.1 0.1 0.9 0.8 0.5 0.2 0.5 0.1 2 0.2 1-0.1 1 0 1 0.2 0.9 0.6 0.2 0 0.9-0.8 0.1-0.2-0.2-1-0.4-1-0.5-1-0.9-1-0.1-0.1-1-0.1-1 0-0.8-0.8-0.2-0.9 0-0.1-0.1-1-0.8-2-0.1-0.2-0.9-0.8-0.1-0.1-0.2 0.1-0.8 0.3-1 0.4-0.5 0.3-0.5 0.7-0.1 0.3-0.3 1-0.6 1.5-0.3 0.5-0.2 1 0.1 1 0.3 1 0.1 1-1 0.6-0.4 0.4-0.6 0.5-1 0.5-1 0.2-1 0-0.7-0.2-0.3-0.1-0.6-0.9-0.4-0.7-0.2-0.3-0.6-1-0.2-0.3-1-0.3-1-0.4-0.1 0-0.9-0.8-0.1-0.2-0.4-1-0.4-2-0.1-0.9 0-0.1-0.3-1-0.7-1.4-0.2-0.6-0.4-1-0.8-1-0.6-0.6-1-0.8-1-1-0.5-0.6-0.5-0.5-0.6-0.5-0.4-0.3-1-0.5-1 0-1 0.7-1 1-0.2 0.1-0.8 0.3-1-0.6-1-0.2-1 0.5-1 0.9-1-0.3-1-1.5 0-0.1-0.8-1-0.2-0.2-0.7-0.8-0.3-0.4-0.6-0.6-0.4-0.3-0.6-0.7-0.4-0.3-0.6-0.7-0.4-0.3-1-0.4-1 0.2-0.7 0.5-0.3 0.2-1 0.5-1-0.4-0.3-0.3-0.7-0.8-0.2-0.2-0.8-0.7-1-0.3-0.1 0-0.9 0.1-0.1-0.1-0.9-0.3-1-0.7-1-0.1-0.2 0.1-0.8 0.6-0.4 0.4-0.6 0.5-1 0.3-1-0.5-0.2-0.3-0.8-1-0.9-1-0.1-0.1-1-0.2-1 0-1-0.1-2-1.2-1-0.5-1 0-0.2 0.1-0.8 0.2-0.9-0.2-0.1 0-0.7-1-0.3-0.5-0.6-1.5-0.5-1-0.9-1.5-0.6-0.5-0.5-1 0.1-0.1 1-0.1 0.1 0.2 0.9 0.9 0 0.1 0.3 1 0.7 0.6 0.3 0.4 0.7 0.6 1 0 1.2-0.6 0.8-0.2 0.6 0.2 0.4 0.1 1 0.6 1 0.5 1 0 1-0.1 1 0.1 1 0.6 0.1 0.2 0.9 1 1 0.6 1-0.5 1.1-1.1 0.9-0.7 1 0 1 0.6 1 0.5 1 0 1 0.4 0.2 0.2 0.8 1 1 0.9 1-0.1 1-0.8 1-0.6 1-0.2 2 0.6 0.3 0.2 0.7 0.4 1 0.5 0.1 0.1 0.9 0.5 1 0.4 0.4 0.1 0.6 0.2 1-0.4 1-0.6 1-0.1 1 0.9 1 0.7 1 0 1-0.5 0.7-0.2 0.3-0.1 0.3 0.1 0.7 0.3 1 0.5 0.2 0.2 0.8 0.5 1 0.5 1 0.7 0.3 0.3 0.7 0.6 0.5 0.4 0.5 0.3 1 0.5 0.3 0.2 0.7 0.4 1 0.3 1 0.2 0.9 0.1 0.1 0 1 0.1 1-0.2 2-0.6 1 0.1 1 0.6 0.1 0 0.9 0.6 2 0.2 2 0 1-0.3 1-0.1 1 0.5 0.1 0.1 0.7 1 0.2 0.2 0.9 0.8 0.1 0.1 1 0.4 1 0.3 0.3 0.2 0.7 0.5 1 0.5 1-0.7 0.2-0.3 0.5-1 0.3-0.4 1-1.2 1 0.1 0.5 0.5 0.5 0.6 0.5 0.4 0.5 0.5 1 0.3 1 0.4 1 0.5 0.4 0.3 0.6 0.4 1.6 1.6 0.4 0.5 1 1 0.9 0.5 0.1 0.1 1 0.3 1 0.2 1 0.3 1 0 1-0.2 1-0.3 0.9-0.4 0.1-0.1 1-0.3 1 0.2 0.7 0.2 0.3 0.1 1 0 0.1-0.1 0.9-0.4 1-0.4 1 0.1 1 1 0.6 0.7 0.8 1 0.6 0.7 0.4 0.3 0.6 0.6 1 0.8 1.2 0.6 0.8 0.3 1 0.1 1-0.1 1 0.1 1 0.4 0.2 0.2 0.8 0.5 1 0.2 2-0.6 1 0.1 1-0.1 0.1-0.1 0.9-0.6 1-0.3 1 0.5 0.4 0.4 0.6 0.5 1-0.1 0.8-0.4 0.2-0.2 1-0.3 1 0.1 1 0.2 0.3 0.2 0.7 0.3 1 0.7 1 0.5 1 0.3 0.3 0.2 0.7 0.4 1 1 0.7 0.6 0.3 0.3 1 0.2 1 0.1 1-0.1 1-0.5 1-0.9 0.2-0.1 0.8-0.6 1-0.2 1 0.2 0.9 0.6 0.1 0.1 2 1.8 0.1 0.1 0.8 1 0.1 0.1 0.6 0.9 0.4 0.7 0.2 0.3 0.5 1 0.3 0.3 1 0.6 1-0.6 2-2 1-0.3 2 0.4 1-0.2 1 0.2 0.7 0.6 1.3 1.3 1-0.2 0.1-0.1 0.6-1 0.5-1 0.4-4 0-1 0.2-1 0-1 0.1-1 0-1 0.1-0.7 0-0.3 0.2-1 0.4-4 0.2-1 0-1 0.1-1 0-1 0.1-1 0-1 0.4-4 0-1 0.1-1 0-1 0.1-1 0-1 0.2-1 0-3 0.1-1 0-3 0.1-1 0-3 0.1-1 0-1 0.2-2 0-1 0.1-1 0-2 0.2-2 0-2 0.1-1 0-6 0.1-1 0-6 0.1-1 0-2 0.1-1 0-2 0.1-1 0-1 0.1-1 0-1 0.2-2 0-1 0.1-1 0-3 0.2-2 0-1 0.1-1 0-1 0.1-1 0-2 0.1-1-0.1-1 0-6 0.1-1 0-0.7 0.1-0.3 0.4-1z"/>
<path fill="#ffa700" d="M395.9 206l0.1-0.3 0.1 0.3 0.3 1 0.4 1 0.2 0.4 0.1 0.6 0.1 1-0.1 1-0.2 1 0.1 1 0.3 1 0.4 1 0.2 1 0.1 1 0 2.1 0.1 0.9 0.2 1 0.4 1 0.3 0.9 0 0.1 0.1 1 0 1 0.4 4 0.2 1 0.3 0.7 0.2 0.3 0.5 1 0.2 1-0.1 1-0.3 1-0.2 1 0.2 1 0.3 1 0 1-0.2 2 0 1 0.4 2 0 1-0.2 1-0.3 1-0.1 1 0.1 1 0.6 3 0.3 1 0.4 1 0.2 0.7 0.1 0.3 0.5 1 0.4 1 0 0.1 0.2 0.9 0.1 1-0.2 1-0.1 0.4-0.2 0.6-0.3 1-0.4 1-0.1 0.4-0.2 0.6-0.2 1 0 1 0.2 1 0.2 0.7 0.1 0.3 0.6 2 0.3 0.7 0.2 0.3 0.6 1 0.2 0.4 0.4 0.6 0.3 1 0.2 2-0.6 6 0 1 0.1 1 0.2 1 0.3 1 0.1 0.7 0 3.3 0.6 1 0.4 0.3 1 0.4 1 0.6 0.6 0.7 0.8 1 0.6 0.9 0.1 0.1 0.8 1 0.1 0.1 1 0.3 0.7-0.4 0.3-0.2 1-0.5 1 0.1 1 0.3 1 0 1 0.2 0.1 0.1 0.9 0.7 0.8 0.3 0.2 0.1 1-0.5 0.9-0.6 0.1-0.1 1-0.7 0.2-0.2 0.8-0.7 0.4-0.3 0.6-0.4 1-0.3 1 0 1 0.2 1-0.1 1 0 0.5 0.6 0.5 0.7 0.1 0.3 0.2 1 0 1-0.2 1-0.1 0.6-0.1 0.4 0.1 1 0 0.2 0.3 0.8 0.7 0.6 1 0.4 1 0.9 0.1 0.1 0.6 2 0.3 0.6 0.1 0.4 0.5 1 0.4 0.7 0.1 0.3 0.4 1 0.2 1 0.2 2 0.4 2 0.6 2 0.1 1-0.3 1-0.4 1-1 2-0.3 1 0 0.1-0.1 0.9 0 1-0.1 1-0.2 1-0.3 1-0.3 0.5-0.1 0.5-0.4 1-0.5 1 0 0.1-0.5 0.9-0.5 0.6-0.3 0.4-0.7 0.8-1 1-0.3 0.2-0.7 0.5-1 0.3-0.6 0.2-0.4 0.1-1 0.4-1 0.5-1 0.6-1 0.4-1 0.2-1 0.1-1 0-1-0.1-0.7-0.2-0.3-0.1-1 0-1 0.1-1-0.2-1-0.5-1-0.2-1 0.1-2 0.4-2 0.8-1 0.3-1 0.1-1-0.3-1-0.4-0.7-0.1-0.3-0.1-1-0.4-1-0.5-1-0.4-2-0.2-2 0.2-3 0.6-1 0-0.6-0.2-0.4-0.1-1-0.2-1 0-1-0.2-1-0.3-1-0.1-1 0-0.2-0.1-0.8-0.2-1-0.2-0.7 0.4-0.3 0.2-1 0.6-1 0.1-1-0.7-0.3-0.2-0.7-0.4-1-0.4-1-0.2-1 0-1-0.1-2-0.6-0.8-0.3-0.2-0.1-1-0.8-0.1-0.1-0.9-0.5-1-0.3-1 0-1 0.4-0.9 0.4-0.1 0-1 0.5-1 0.4-1 0.1-1.1 0-0.9 0.2-1 0.2-1-0.1-0.8-0.3-0.2-0.1-3-0.3-1 0-1 0.3-1 0.2-1 0.1-3 0.6-2-0.4-1-0.3-1-0.5-1-0.3-1-0.1-1 0-1-0.1-1 0.2-0.8 0.7-0.2 0.1-1 0.4-1-0.1-0.6-0.4-0.4-0.7-0.2-0.3-0.5-1-0.3-0.8-0.7-0.2-0.3-0.1-0.1 0.1-0.9 0.6-1-0.1-0.6-0.5-0.4-0.3-0.5-0.7-0.5-0.8-1-1-1-0.1-1 0.2-0.9 0.7-0.1 0-1 0.7-1 0.5-1-0.1-0.3-0.1-0.7-0.4-1-0.3-1 0.1-2 0.4-1-0.1-1-0.4-0.4-0.3-0.6-0.5-0.5-0.5-0.5-0.6-0.3-0.4-0.6-1-0.1-0.4-0.3-0.6-0.4-1-0.3-0.8-0.1-0.2-0.2-1 0.1-1 0.2-0.5 0.1-0.5 0.3-1 0.6-1.5 0.4-0.5 0.6-0.7 0.4-0.3 0.6-0.6 0.9 0.6 0.1 0.1 0.2 0.9 0.3 1 0.5 1 0.9 1 0.1 0.1 1 0.4 2 0.4 1-0.2 1-0.7 0.9-1 0.1-0.2 0.3-0.8 0.1-1-0.1-1-0.4-2-0.3-1-0.4-1-0.5-1-0.4-1-0.2-1 0.2-2 0-1-0.3-1 0-0.1-0.5-0.9-0.3-1-0.1-1 0.2-1 0.5-1 0.4-1 0-1-0.2-0.3-1 0-1 0.3-1-0.1-1-0.8-0.1-0.1-0.8-1-0.1-0.1-1-0.6-0.3 0.7-0.4 1-0.3 0.4-0.4 0.6-0.6 0.8-1-0.4-0.7-1.4-0.6-1-0.7-1-0.8-1-0.2-0.3-0.3-0.7-0.4-1-0.3-0.9 0-0.1-0.2-1-0.5-1-0.3-0.3-0.2-0.7-0.3-1-0.2-1-0.1-1-0.2-0.9 0-0.1-0.8-1-0.2-0.1-0.1 0.1-0.8 1-0.1 0.1-0.4 0.9-0.5 1-0.1 0.1-1 0.7-1-0.8-1-0.9-0.3-0.1-0.7-0.1-1-0.2-0.6-0.7-0.4-0.4-0.4-0.6-0.6-1.2-1-0.6-1 0.6-1 0.5-1-0.1-0.5-0.2-2.5-0.5-0.9-0.5-0.4 0-0.7 0.1-0.8 0.9-0.2 0.3-0.6 0.7-0.4 0.5-1 0.5-1 0-0.9-1-1-1-0.1 0-1-0.9-0.1-0.1-1.5-1-0.4-0.3-1-0.6-0.1-0.1-0.9-0.7-0.3-0.3-0.7-0.6-0.4-0.4-0.6-0.5-0.7-0.5-0.3-0.2-1-0.7-1-0.5-1-0.2-1 0.3-0.6 0.3-0.4 0.3-1 0.4-1-0.3-1-0.5-0.7 0.1-0.3 0-1 0.5-1-0.2-0.3-0.3-0.7-0.5-0.6-0.5-0.4-0.4-0.7-0.6-0.3-0.3-0.9-0.7-0.1-0.1-1-0.7-0.2-0.2-0.8-0.5-1-0.3-1 0.1-1 0.7-1 0.6-1-0.2-1-1-0.5-0.4-0.5-0.5-1-0.3-1 0-1-0.4-1-0.7-0.6-0.1-0.4-0.1-0.1 0.1-0.9 0.7-1 1-1 0.3-1-0.6-0.3-0.4-0.7-0.9-1-1-1-0.1-1 0.1-1-0.2-1-0.5-0.6-0.4-0.4-0.2-1-0.4-1 0-1 0.2-1-0.3-0.2-0.3-0.6-1-0.2-0.3-0.3-0.7-0.2-1 0.5-0.1 0.1 0.1 0.9 0.8 1 0 1-0.5 0.8-0.3 0.3 0 0.9 0.3 1 0.6 0.3 0.1 0.7 0.4 1 0 1-0.1 1 0.1 1 0.6 0.8 1 0.2 0.2 1 0.5 1-0.4 1.3-1.3 0.7-0.6 1 0 0.9 0.6 0.1 0.1 1 0.4 1 0 1 0.5 0.8 1 0.2 0.2 1 0.8 0.2 0 0.8-0.1 1-0.7 0.2-0.2 0.8-0.5 1-0.1 1 0.2 1 0.4 1 0.5 0.8 0.5 1.2 0.6 0.9 0.4 0.1 0 1 0.4 1-0.4 1-0.6 1-0.1 0.8 0.7 0.2 0.2 1 0.7 1-0.1 1-0.4 1-0.3 1 0.3 2 1.2 1 0.5 1 0.8 0.1 0.1 0.9 0.8 0.3 0.2 0.7 0.5 1 0.5 0.1 0 0.9 0.6 1 0.3 0.7 0.1 0.3 0.1 1 0.1 1 0 1-0.1 0.2-0.1 0.8-0.3 1-0.3 1 0.1 0.8 0.5 0.2 0.1 1 0.6 1 0.2 1 0 1 0.1 1-0.1 1-0.3 1-0.1 0.8 0.5 0.2 0.1 0.7 0.9 0.3 0.4 0.7 0.6 0.3 0.3 1 0.3 1 0.4 0.1 0 0.9 0.7 0.8 0.3 0.2 0.1 0.2-0.1 0.8-0.6 0.4-0.4 0.4-1 0.2-0.3 0.6-0.7 0.4-0.5 1 0.2 1.3 1.3 0.7 0.6 1 0.4 0.1 0 0.9 0.4 1 0.4 0.2 0.2 0.8 0.6 0.5 0.4 0.5 0.5 0.4 0.5 1.6 1.6 0.7 0.4 0.3 0.2 2 0.6 0.9 0.2 1.3 0 0.8-0.1 1-0.3 1.2-0.6 0.8-0.2 1 0.1 0.2 0.1 0.8 0.3 1-0.1 2-0.8 1 0.1 0.5 0.5 0.5 0.4 0.4 0.6 0.6 0.7 0.3 0.3 0.7 0.8 0.2 0.2 0.8 0.7 0.3 0.3 0.7 0.5 0.9 0.5 0.1 0.1 1 0.4 3 0 1 0.5 1 0.6 1 0.2 2-0.6 1 0.1 1-0.1 0.3-0.2 0.7-0.4 1-0.3 1 0.5 0.3 0.2 0.7 0.6 1 0 1-0.6 1-0.3 1 0.1 1 0.2 1 0.5 0.8 0.5 1.2 0.6 1 0.3 0.1 0.1 0.9 0.5 1.5 1.5 0.5 0.4 1 0.3 1 0 1-0.1 1-0.4 0.2-0.2 0.8-0.7 0.4-0.3 0.6-0.5 1-0.2 1 0.2 0.7 0.5 0.3 0.2 0.9 0.8 0.1 0.1 1 0.9 0.8 1 0.2 0.3 0.5 0.7 0.5 0.9 0.1 0.1 0.9 1.5 0.9 0.5 0.1 0.1 0.1-0.1 0.9-0.5 0.4-0.5 1.6-1.6 1-0.3 2 0.4 1-0.2 1 0.2 0.5 0.5 0.5 0.4 1 1 1-0.2 0.2-0.2 0.6-1 0.2-0.4 0.4-0.6 0-1 0.5-5 0-1 0.1-1 0-0.2 0.1-0.8 0.1-1 0.2-1 0.3-3 0-1 0.2-1 0-1 0.1-1 0-0.5 0.1-0.5 0.3-3 0-1 0.2-2 0-1 0.1-1 0-2 0.2-2 0-2 0.1-1 0-1.3 0.1-0.7 0-2 0.1-1 0-2 0.1-1 0-1 0.2-2 0-1 0.1-1 0-2 0.1-1 0-1 0.1-1 0-1 0.1-1 0-7 0.1-1 0-1 0.1-1-0.1-1 0-2 0.2-2 0-1 0.2-2 0-1 0.1-1 0-2 0.1-1 0-1 0.1-1 0-1 0.2-2 0-4 0.1-1 0-0.3 0.4-0.7zM349 310.1l-0.9 0.9-0.1 1 0.6 3 0.4 0.8 0.3 0.2 0.7 0.4 1 0 0.4-0.4 0.5-1 0.1-0.7 0-0.6-0.1-0.7-0.3-1-0.6-1-1-0.8zM298.9 298l0.1-0.6 1-0.3 1 0.2 1 0.6 0.1 0.1 0.1 1-0.1 1-0.1 0.1-1 0.9-1-0.2-0.6-0.8-0.3-1-0.1-0.7z"/>
<path fill="#ff9100" d="M395.3 216l0.7-0.6 0.3 0.6 0.2 1 0.1 1-0.3 3 0 1 0.1 1 0 3 0.1 1 0.4 1 0.1 0.4 0.2 0.6 0.2 1-0.2 1-0.2 0.4-0.4 0.6-0.2 1 0.2 1 0.3 1 0.1 0.3 0.2 0.7 0.5 1 0.3 0.4 0.5 0.6 0.5 0.7 0.2 0.3 0.2 1 0 4-0.1 1-0.3 1 0 0.2-0.2 0.8-0.1 1 0 1 0.2 1 0.1 0.3 0.2 0.7 0.6 2 0.2 0.9 0 0.1 0.9 3 0.1 0.3 0.3 0.7 0.1 1-0.2 1-0.5 1-0.6 1-0.1 0.2-0.3 0.8-0.3 1 0 1 0.1 1 0.3 1 0.2 0.7 0.1 0.3 0.4 1 0.3 1 0.2 0.5 0.1 0.5 0.6 2 0.2 1 0.1 0.4 0.2 0.6 0.4 2 0.1 1 0 1-0.2 2-0.4 2-0.1 1 0.1 1 0 1-0.1 1 0 0.2-0.2 0.8-0.2 1-0.3 1-0.3 0.8 0 0.2-0.1 1 0.1 0.2 1 0.1 1 0.2 0.4 0.5 0.6 1 0.8 1 0.2 0.1 1 0.2 1-0.2 1 0.1 0.6 0.8 0.4 0.5 0.3 0.5 0.7 1 1 0.8 0.7 0.2 0.3 0.1 0.4-0.1 0.6-0.2 1-0.4 1-0.2 1 0.2 1 0.5 0.1 0.1 0.8 1 0.1 0.1 0.4 0.9 0.6 2 0 0.2 0.2 0.8 0.5 1 0.3 0.4 1 0.4 1-0.8 1-2 0.4-1 0.5-1 0.1-0.4 0.2-0.6 0-2 0.3-1 0.5-0.9 0.2-0.1 0.8-0.2 0.7 0.2 0.3 0.1 1 0.5 1 0.4 0.3 1 0 4 0.1 1 0.6 1 1 0.8 0.3 0.2 0.7 0.5 0.6 0.5 1.4 1.4 0.4 0.6 0.4 1 0.2 1-0.2 1-0.3 1-0.2 1 0 1-0.1 1-0.2 0.7-0.2 0.3-0.4 1-0.2 1-0.2 2 0.2 2 0.4 2 0 2-0.1 1-0.2 1-0.3 1 0 0.1-0.3 0.9-0.6 1-1.1 1.1-1 0.6-1 0.5-1 0.3-1 0-1-0.4-1-0.1-1 0.8-0.1 0.2-0.9 1-1 0.5-1 0.2-1-0.2-0.9-0.5-0.1-0.1-1-0.6-1 0.4-1 0.2-1-0.3-1-0.4-1-0.1-2 0.8-0.2 0.1-0.8 0.3-1 0.3-1 0.1-1-0.5-0.6-1.2-0.3-1-0.1-0.4-0.3-0.6-0.6-2-0.1-0.1-0.4 0.1-0.6 0.3-0.2 0.7-0.1 1 0.1 1 0 1-0.8 0.2-1-0.1-2 0-1-0.1-1 0-1 0.1-0.9-0.1-0.1 0-1-0.1-0.4 0.1-0.6 0.2-1 0.3-2-0.2-1.5-0.3-0.5-0.2-1-0.3-1-0.4-0.3-0.1-0.7-0.6-0.4-0.4-0.5-1 0.1-1 0.3-1 0.1-1 0-1-0.6-1.5-0.6 0.5-0.1 1 0 1 0.4 2-0.2 1-0.5 0.2-0.5 0.8-0.5 0.5-0.4 0.5-0.6 0.6-1 0.4-2-0.8-1-0.5-1-0.4-0.9-0.3-0.1 0-2-1-2-0.6-1-0.2-0.9-0.2-0.1 0-1-0.3-1-0.2-1 0.2-2 1.2-0.2 0.1-0.8 0.3-2 0-1 0.2-1 0.1-2-0.4-1-0.1-0.6-0.1-0.4-0.1-1-0.3-1-0.1-2 0.4-2 0-0.2 0.1-0.8 0.3-1 0.4-2-0.4-1-0.3-0.1 0-0.9-0.8-0.2-0.2-0.5-1-0.3-0.5-0.2-0.5-0.7-1-0.1-0.1-0.8-0.9-0.2-0.2-0.5-0.8-0.5-0.7-0.2-0.3-0.8-1-1-0.9-0.1-0.1-0.6-1-0.2-1-0.1-1 0-0.2-0.1-0.8-0.1-1-0.2-1-0.4-1-0.2-0.3-0.6-0.7-0.5-1 0.1-0.6 0-0.4 0.5-1 0.5-0.7 0.2-0.3 0.6-1 0.4-1 0.2-1-0.1-1-0.3-0.9 0-0.1-0.6-1-0.8-1-0.5-1-0.1-0.6-0.1-0.4-0.1-1-0.2-1-0.4-1-0.2-0.3-0.8-0.7-0.2-0.1-1-0.6-0.8 0.7-0.2 0.6-0.1 0.4-0.5 1-0.4 0.2-2 0.4-0.9 0.4-0.2 1 0 1 0.1 0.5 0 0.5 0.1 1 0.2 1 0.7 1 0.9 1 0.1 0.2 0.3 0.8 0 3 0.6 1 2 2 0 1-0.3 1-0.6 1.5-0.3 0.5-0.7 1-1 0.6-1 0.2-1 0-0.4 0.2-0.3 1 0 2-0.3 0.7-0.1 0.3-0.6 1-0.3 0.2-1 1-1 0.5-1-0.1-0.9-0.6-0.1-0.2-1-0.1-0.3 0.3-0.7 0.4-0.8 0.6-0.2 0.1-1 0.4-1 0-1-0.5-0.9-1-0.1-0.2-0.5-0.8-0.4-1-0.1-0.3-0.2-0.7-0.2-1 0-1 0.4-1 1-0.8 1 0.3 0.6 0.5 0.4 0.2 1 0.7 0.1 0.1 0.9 0.5 0.7 0.5 0.3 0.2 1 0.7 1-0.4 0.4-0.5 0.6-0.5 0.8-0.5 0.2-0.2 1-0.4 0.8-0.4 0.2-0.3 0.6-0.7 0-1-0.4-2-0.2-0.6-0.1-0.4-0.3-3-0.2-1-0.4-1 0-0.1-0.2-0.9-0.1-1 0.3-3 0-1 0.3-3 0.5-1 0.2-0.1 1-0.4 0.4-0.5 0.2-1 0-1 0.1-1 0-2-0.6-1-0.1-0.1-2-1-1-0.2-1 0.1-1 0.2-0.2 0-0.8 0.1-2 0.2-0.9-0.3-0.1 0-1-0.9-0.1-0.1-0.8-1-0.1-0.1-0.8-0.9-0.2-0.3-0.8-0.7-0.2-0.2-1-0.8-1-1-0.9-1-0.1 0-1-0.8-0.3-0.2-0.7-0.4-0.5-0.6-0.5-0.7-0.2-0.3-0.6-1-0.2-0.3-1-0.5-0.6 0.8-0.4 0.4-0.3 0.6-0.7 1 0 0.1-1 0.8-1-0.5-1-0.8-1-0.3-1-0.2-0.1-0.1-0.8-1-0.1-0.1-0.6-0.9-0.4-0.7-1-0.5-0.6 0.2-0.4 0.2-1 0.6-1 0-1-0.3-1-0.2-0.8-0.3-0.2 0-1-0.5-1 0-0.7 0.5-0.3 0.3-0.8 0.7-0.2 0.2-1 0.1-0.8-0.3-0.2-0.1-1-0.4-0.9-0.5-0.1 0-1-0.5-0.7-0.5-0.3-0.1-1-0.6-0.4-0.3-0.6-0.3-1-0.7-1-0.9-0.1-0.1-0.9-0.7-0.4-0.3-0.6-0.3-1-0.7-1-0.5-1-0.3-1 0.3-1 0.5-0.1 0-0.9 0.2-1-0.5-0.9-0.7-0.1-0.1-1 0.1-1 0.6-1 0.1-1-0.6-0.1-0.1-0.9-0.6-0.4-0.4-0.6-0.4-0.8-0.6-0.2-0.1-1-0.7-0.3-0.2-0.7-0.3-1-0.4-1 0.2-0.8 0.5-0.2 0.1-1 0.6-1-0.1-0.7-0.6-0.3-0.2-1-1-1-0.3-1 0-1-0.5-1-0.7-1-0.1-1 0.7-1 1-0.3 0.1-0.7 0.3-0.5-0.3-0.5-0.4-0.5-0.6-0.5-0.7-0.3-0.3-0.7-0.5-1-0.1-1 0.1-1-0.1-0.7-0.4-0.3-0.1-1-0.7-1-0.4-1 0-1 0.2-1-0.4-0.4-0.6-0.1-1 0.5 0 1-0.1 1-0.3 1-0.4 1 0.3 1 0.5 1 0.6 1 0 1-0.1 1 0.1 0.7 0.4 0.3 0.3 0.6 0.7 0.4 0.4 1 0.5 1-0.4 1.5-1.5 0.5-0.4 1 0 0.6 0.4 0.4 0.3 1 0.4 1 0 0.7 0.3 0.3 0.2 0.6 0.8 0.4 0.4 0.7 0.6 0.3 0.3 1-0.2 0.1-0.1 0.9-0.6 0.5-0.4 0.5-0.3 1-0.1 1 0.2 0.6 0.2 2 1 0.4 0.3 1 0.5 0.5 0.2 0.5 0.3 1 0.2 1-0.3 0.3-0.2 0.7-0.5 1 0 0.6 0.5 0.4 0.4 1 0.6 1 0 1-0.5 1-0.2 1 0.3 0.7 0.4 0.3 0.2 1 0.6 0.5 0.2 0.5 0.3 1 0.7 1 0.9 0.1 0.1 0.9 0.6 0.8 0.4 0.2 0.2 1 0.5 0.9 0.3 0.1 0.1 1 0.2 1 0.1 1 0 1-0.1 0.6-0.3 0.4-0.1 1-0.3 1 0.1 0.6 0.3 0.4 0.3 1 0.6 0.8 0.1 0.2 0.1 1 0 1 0.1 1-0.1 0.2-0.1 0.8-0.2 1-0.1 0.6 0.3 0.4 0.3 0.5 0.7 1 1 0.5 0.4 1 0.3 0.7 0.3 0.3 0.2 1 0.6 1 0.5 0.4-0.3 0.6-0.4 0.5-0.6 0.4-1 0.1-0.1 0.7-0.9 0.3-0.3 1 0.1 0.2 0.2 0.8 0.9 0.2 0.1 0.8 0.8 0.7 0.2 0.3 0.2 1 0.3 1 0.5 1 0.7 1.3 1.3 0.7 0.8 1 1 0.4 0.2 0.6 0.4 1 0.2 1 0.3 0.3 0.1 0.7 0.2 1 0 1-0.2 0.1 0 0.9-0.3 1-0.4 0.7-0.3 0.3-0.1 1 0.2 1 0.3 1 0 1-0.5 1-0.4 1 0.1 1 1 0.3 0.4 0.7 0.8 0.2 0.2 0.8 0.9 1.1 1.1 0.9 0.7 0.6 0.3 0.4 0.3 1 0.3 1 0.1 1-0.1 1 0.1 0.7 0.3 0.3 0.2 1 0.6 1 0.2 1-0.4 1-0.2 1 0.1 1-0.1 0.5-0.4 0.5-0.3 1-0.3 1 0.5 0.1 0.1 0.9 0.7 1 0 1.4-0.7 0.6-0.2 1 0.1 0.4 0.1 0.6 0.2 1 0.4 0.6 0.4 0.4 0.3 1 0.5 0.7 0.2 0.3 0.1 1 0.5 0.3 0.4 0.7 0.7 0.4 0.3 0.6 0.6 1 0.2 1 0 1-0.1 1-0.4 0.3-0.3 0.7-0.6 1-0.8 1-0.2 1 0.3 0.5 0.3 0.5 0.4 0.7 0.6 0.3 0.3 0.8 0.7 0.2 0.2 0.6 0.8 0.4 0.4 0.4 0.6 1.2 2 0.4 0.6 0.7 0.4 0.3 0.2 0.3-0.2 0.7-0.4 0.5-0.6 1-1 0.5-0.4 1-0.3 1 0.1 1 0.2 1-0.1 1 0.1 1 1 0.5 0.4 0.5 0.5 1-0.2 0.4-0.3 0.6-1.2 0.5-0.8 0-1 0.1-1 0.2-1 0.1-1 0-1 0.1-1 0-0.3 0.1-0.7 0.1-1 0.2-1 0.2-2 0-1 0.4-4 0-0.3 0.1-0.7 0.5-5 0-1 0.2-2 0-2 0.1-1 0-2 0.1-1 0-1 0.4-4 0-2 0.1-1 0-3 0.1-1 0-1 0.2-2 0-3 0.1-1 0-1 0.1-1 0-0.1 0.2-0.9 0.2-2 0-4 0.4-4 0-1-0.2-2 0-1 0.1-1 0-1 0.1-1 0-2 0.1-1 0-3 0.1-1 0-1.6zM344 303.9l-0.1 0.1-0.8 1-0.1 0.1-1 0.8-0.4 0.1-0.6 0.4-0.6 0.6 0.3 1 0.3 0.3 0.8 0.7 0.2 0.1 1 0.6 0.6 0.3 0.4 0.1 1 0.3 1 0.4 0.2 0.2 0.5 1 0.3 1 0 0.2 0.1 0.8 0 2-0.1 1 0.1 1 0.6 1 0.3 0.4 1-0.1 0.8-0.3 0.2 0 1-0.2 1-0.4 0.3-0.4 0.6-1 0.1-0.3 0.2-0.7 0.3-1 0-1-0.2-2-0.2-1-0.1-0.7-0.1-0.3-0.5-1-0.4-0.5-0.8-0.5-1.2-0.6-1-0.2-0.9-0.2-0.1 0-0.5-1-0.5-0.9-0.1-0.1-0.8-1-0.1-0.1-1-0.3zM380 320.6l-0.6 0.4-0.4 0.9 0 0.1 0.5 1 0.5 0.5 0.8 0.5 0.2 0.1 2 0.4 0.9 0.5 0.1 0.2 0.2-0.2 0.2-1-0.2-1-0.2-0.6-0.2-0.4-0.8-0.6-0.8-0.4-0.2 0-1-0.3zM347 323.9l-0.2 0.1-0.5 1 0.7 0.9 0.8-0.9-0.5-1z"/>
<path fill="#ff7700" d="M395.6 240l0.4-0.5 1 0.3 0.2 0.2 0.6 1 0.1 1-0.1 1-0.2 1-0.3 1-0.3 0.8-0.1 0.2-0.6 1-0.3 0.8-0.1 0.2 0 1 0.1 0.8 0 0.2 0.4 1 0.6 0.9 0.1 0.1 0.9 1 0 0.1 0.4 0.9 0.3 1 0.1 1 0.2 1 0 1.3-0.1 0.7-0.5 1-0.4 1-0.2 1-0.2 2 0.2 2 0.4 2 0.1 1 0.2 1 0.3 1 0.2 0.6 0.1 0.4 0.6 1 0.5 1 0.3 1 0.2 1 0.1 1 0.2 1 0 0.1 0.1 0.9-0.1 1 0 0.2-0.2 0.8-0.2 1-0.6 2 0 0.1-0.2 0.9-0.6 6-0.2 1 0.3 1 0.4 1 0.3 0.6 0.3 0.4 0.7 0.6 1 0.2 1 0.1 0.1 0.1 0.9 0.3 1 0.4 1 0.2 1 0.1 0.1 0 0.9 0.4 0.5 0.6 0.5 0.5 0.4 0.5 1 1 0.6 0.5 1 0.3 1-0.1 1-0.3 1 0 1 0.6 0.8 1 0.2 0.2 0.4 0.8 0.3 1 0.2 1 0.1 0.2 0.3 0.8 0.5 1 0.2 0.6 0.3 0.4 0.5 1 0.2 0.3 1 0.3 0.7-0.6 0.3-0.2 0.6-0.8 0.8-1 0.6-0.7 0.4-0.3 0.6-0.7 1-0.1 1 0.6 0.3 0.2 0.7 0.5 0.9 0.5 0.1 0.1 1 0.9 0.6 1 0.5 1 0.1 1 0 1-0.2 0.6-0.1 0.4-0.7 1-0.4 1-0.2 1-0.3 1-0.3 0.4-0.8 1.6 0 1 0.4 1 0.4 0.4 0.7 0.6 0.3 0.3 0.5 0.7 1 2 0.4 1 0.2 1-0.1 1 0 0.1-0.2 0.9-0.6 1-0.2 0.3-1 0.6-0.2 0.1-0.8 0.3-1 0.3-1-0.1-0.8-0.5-0.2-0.1-1-0.2-1 0.3-1 0.7-0.9 0.3-0.1 0.1-0.4-0.1-0.6-0.1-1-0.8-0.1-0.1-0.9-0.7-0.8-0.3-0.2-0.1-1-0.6-0.3-0.3-0.5-1-0.2-1-1-0.3-0.1 0.3-0.5 1-0.4 0.6-0.2 0.4-0.7 1-1 1-0.1 0-0.8 1-0.2 0.2-1 0.6-1-0.4-0.3-0.4-0.7-1.4-0.2-0.6-0.3-1-0.4-1-0.1-0.1-0.6-0.9-0.4-0.4-1-0.6-0.1 0-0.9-0.1-0.4 0.1-0.6 0.5-0.2 0.5-0.3 1-0.4 1-0.1 0.4-0.2 0.6-0.3 1-0.5 1-1 0.5-1 0.1-2-0.2-0.9-0.4-0.1-0.1-1-0.2-0.9 0.3-0.1 0-1 0.6-1 0.3-1-0.1-1-0.2-1-0.5-1-1 0-0.1-0.3-1-0.1-1 0-1 0.3-3 0.1-0.6 0-0.4 0.1-1-0.1-0.8 0-0.2-0.6-1-0.8-1-1-1-1.5-1-0.1-0.1-1-0.7-0.2-0.2-0.8-0.9-0.1-0.1-0.9-0.4-1 0-1 0.4-1 0.7-0.3 0.3-0.6 1-0.1 0.8 0 1.2 0.1 1 0 1 0.6 3 0.3 0.8 0.1 0.2 0.9 0.5 1 0.3 1 0.5 0.7 0.7 0.3 0.8 0.1 0.2 0 1-0.1 0.3-0.2 0.7-0.8 0.9-0.6 0.1-0.5 0-0.9-0.4-0.8-0.6-0.2-0.2-0.7-0.8-0.3-0.6-0.3-0.4-0.7-0.9-1-0.1-1 0.3-1 0.4-1 0.1-1 0-1-0.2-1-0.4-0.6-0.2-0.4-0.2-1-0.2-0.9 0.4-0.1 0.1-1 0.7-0.7 0.2-0.3 0.1-0.7-0.1-0.3-0.1-0.3 0.1-0.7 0.1-1 0.4-1 0.2-2-0.4-1-0.1-0.8-0.2-0.2-0.1-1-0.3-2 0.2-1 0-1-0.4-0.4-0.4-0.6-0.9 0-0.1-0.3-1 0-1 0.1-1 0.2-0.7 0.1-0.3 0.5-1 0.4-0.5 0.6-0.5 0.4-0.3 0.9-0.7 0.1-0.1 0.5-0.9 0.4-1 0.1-0.1 0.5-0.9 0.5-1 0-0.2 0.2-0.8 0-1-0.2-0.9 0-0.1-0.2-1-0.1-1-0.2-1-0.1-1-0.3-1-0.1-0.4-0.3-0.6-0.4-1-0.2-1 0.4-1 1.5-0.9 0.1-0.1 0.9-0.8 0.2-0.2 0.4-1 0-1-0.6-0.8-2-0.8-1 0.1-0.3 0.5-0.5 1-0.2 0.7-0.2 0.3-0.5 1-0.3 0.2-0.1-0.2-0.6-1-0.3-0.3-1-0.5-1 0.4-0.6 0.4-0.4 0.3-1 0.2-2-0.2-1 0.3-1 0.4-1-0.7-1-0.1-1 0-1-0.1-0.2-0.1-0.8-0.7-0.1-0.3-0.8-2-0.1-0.1-0.5-0.9-0.5-0.8-0.1-0.2-0.8-1-0.1-0.1-1-0.9-0.9-1-0.1-0.1-1-1.5-0.3-0.4-0.7-0.8-0.3-0.2-0.7-0.4-1 0.1-0.8 0.3-0.2 0.1-1 0.2-1-0.1-0.9-0.2-0.1 0-1-0.1-0.9 0.1-0.1 0-1 0.3-1 0.1-2-0.2-1-0.4-1-0.8-1-0.9-0.1-0.1-1.8-2-0.1-0.2-0.7-0.8-0.3-0.4-0.7-0.6-0.3-0.2-1-0.8-1-0.6-0.7-0.4-0.3-0.1-0.8-0.9-0.2-0.2-0.6-0.8-0.4-0.5-1-0.4-0.7 0.9-0.3 0.3-0.4 0.7-0.6 0.9-0.1 0.1-0.9 0.7-1-0.4-0.3-0.3-0.7-0.5-1-0.3-0.6-0.2-0.4-0.1-0.7-0.9-0.3-0.3-1-1.4-1-0.5-0.7 0.2-0.3 0.1-1 0.5-1 0.1-1-0.2-1-0.3-0.6-0.2-0.4-0.1-1-0.5-1-0.1-1 0.5-0.3 0.2-0.7 0.5-1 0.1-1-0.2-1-0.3-0.1-0.1-0.9-0.3-1-0.4-1-0.5-1-0.6-0.3-0.2-0.7-0.4-0.9-0.6-0.1 0-1-0.9-0.1-0.1-0.9-0.7-2-1.2-1-0.5-1-0.3-1 0.2-0.9 0.5-0.1 0-1 0.2-0.3-0.2-0.7-0.5-0.5-0.5-0.5-0.4-1 0-0.5 0.4-0.5 0.3-1 0.2-1-0.5-1-0.6-0.6-0.4-0.4-0.3-1-0.7-1-0.6-0.9-0.4-0.1 0-1-0.4-1 0.1-0.4 0.3-1.5 1-1.1 0-1-0.9-0.1-0.1-0.9-0.8-1-0.4-1 0-1-0.5-0.4-0.3-0.6-0.4-1-0.1-0.7 0.5-0.3 0.2-1 1-1 0.4-0.9-0.6-0.1-0.1-0.7-0.9-0.3-0.4-0.8-0.6-0.2-0.1-1-0.1-1 0.1-1-0.1-1-0.5-1-0.6-1-0.4-1-0.1-1 0-0.5-0.2 0.5-0.3 0.5-0.7 0.5-0.2 1-0.3 1 0.2 0.6 0.3 0.4 0.4 1 0.4 1 0 1-0.1 1 0.1 0.4 0.2 0.6 0.6 0.3 0.4 0.7 0.7 0.9 0.3 0.1 0.1 0.1-0.1 0.9-0.3 0.7-0.7 0.3-0.4 0.7-0.6 0.3-0.2 1 0 0.4 0.2 0.6 0.5 1 0.3 1 0 0.4 0.2 0.6 0.4 0.4 0.6 0.6 0.6 0.5 0.4 0.5 0.5 1-0.1 0.4-0.4 0.6-0.4 0.7-0.6 0.3-0.2 1-0.1 1 0.2 0.2 0.1 0.8 0.5 1 0.3 0.3 0.2 0.7 0.5 1 0.4 0.2 0.1 0.8 0.5 1 0.2 1-0.3 0.5-0.4 0.5-0.3 1 0 0.4 0.3 0.6 0.5 0.7 0.5 0.3 0.3 1-0.1 0.3-0.2 0.7-0.3 1-0.2 1 0.2 0.5 0.3 0.5 0.4 1.2 0.6 0.8 0.5 0.7 0.5 0.3 0.3 0.9 0.7 0.1 0.1 1 0.7 0.4 0.2 0.6 0.4 1 0.5 0.4 0.1 0.6 0.3 1 0.2 1 0.1 1 0 1-0.1 1-0.5 1-0.3 1 0.1 0.3 0.2 0.7 0.5 1 0.5 1 0.3 1 0 1 0.1 1-0.1 0.7-0.3 0.3-0.1 1-0.1 0.3 0.2 0.7 0.5 0.4 0.5 0.6 0.7 0.3 0.3 0.7 0.6 1 0.3 0.3 0.1 0.7 0.4 1 0.6 0.1 0 0.9 0.5 0.6-0.5 0.4-0.3 0.6-0.7 0.4-0.9 0.1-0.1 0.8-1 0.1-0.2 1 0.1 0.1 0.1 0.9 1 1 0.9 0.3 0.1 0.7 0.4 1 0.3 0.7 0.3 0.3 0.2 1 0.7 0.1 0.1 0.9 0.8 0.2 0.2 0.8 0.9 1 1 0.2 0.1 0.8 0.5 1 0.3 0.8 0.2 0.2 0.1 1 0.3 1 0 1-0.1 0.6-0.3 0.4-0.1 2-0.8 1 0.2 1 0.3 1-0.1 1-0.4 0.1-0.1 0.9-0.4 1 0.2 0.3 0.2 0.7 0.7 0.2 0.3 0.8 0.9 0.1 0.1 0.8 1 0.1 0.1 1 0.9 1 0.8 0.4 0.2 0.6 0.4 1 0.3 1 0.1 1-0.1 1 0.1 0.4 0.2 0.6 0.4 1 0.5 0.4 0.1 0.6 0.2 0.3-0.2 0.7-0.2 1-0.3 1 0.1 1-0.1 0.7-0.5 0.3-0.2 1-0.2 0.9 0.4 0.1 0.1 1 0.8 1-0.1 1-0.5 0.8-0.3 0.2-0.1 1 0.2 2 0.6 0.4 0.3 0.6 0.5 1 0.4 0.3 0.1 0.7 0.3 1 0.5 1.2 1.2 0.8 0.7 1 0.2 1 0.1 1-0.1 1-0.4 0.5-0.5 0.5-0.4 0.7-0.6 0.3-0.2 1-0.2 1 0.2 0.3 0.2 0.7 0.5 0.6 0.5 1 1 0.4 0.3 0.5 0.7 0.5 0.5 0.9 1.5 0.1 0.2 0.5 0.8 0.5 0.7 1 0.6 1-0.6 0.6-0.7 1-1 0.4-0.3 1-0.3 1 0.2 1 0.1 1-0.1 1 0.1 1 1 0.4 0.3 0.6 0.6 1-0.1 0.5-0.5 0.5-0.9 0-0.1 0.6-1 0.3-3 0.1-0.6 0.2-0.4 0-1 0.5-5 0-1 0.3-3 0-0.1 0.2-0.9 0.4-4 0-1 0.2-2 0-1 0.1-1 0-1 0.1-1 0-1 0.2-2 0-1 0.5-5 0-5 0.1-1 0-2 0.2-2 0-0.9 0.1-0.1 0.2-1 0-1 0.1-1 0-1 0.1-1 0.4-2 0.1-1 0-0.1zM367 302.9l-0.2 0.1-0.8 0.5-0.6 0.5-0.4 0.6-0.3 0.4-0.6 1-0.1 0.6-0.1 0.4 0.1 0.3 0.2 0.7 0.8 0.7 1-0.1 0.5-0.6 0.5-0.5 0.3-0.5 0.7-1 0-0.1 0.4-0.9 0.4-1-0.2-1-0.6-0.4zM340.7 312l0.3-0.1 0.6 0.1 0.4 0.1 1 0.3 1 0.1 1 0.2 0.3 0.3 0.4 1 0.1 1-0.5 5-0.3 1-0.7 1-0.3 0.4-1 0.4-1-0.1-0.9-0.7-0.1 0-0.9-1-0.1-0.1-0.6-0.9-0.4-1 0-0.2-0.2-0.8-0.1-1 0-1 0.1-1 0.2-0.7 0.1-0.3 0.5-1 0.4-0.6zM314.6 323l0.4-0.8 1 0.3 0.7 0.5 0.3 0.3 0.4 0.7-0.2 1-0.2 0.2-1 0.2-0.5-0.4-0.5-0.6-0.2-0.4z"/>
<path fill="#ff6000" d="M394.5 253l0.5-0.9 1 1.8 0.1 0.1 0.3 1 0 1-0.5 1-0.6 1-0.3 1 0.1 1 0.8 2 0.1 1 0 1 0.3 3-0.1 1-0.2 0.7-0.1 0.3-0.4 1-0.2 1 0.1 1 0.3 1 0.3 0.4 1 1 0.9 0.6 0.1 0.1 0.8 0.9 0.2 0.5 0.1 0.5 0.1 1-0.2 1 0 0.1-0.3 0.9-0.4 2-0.1 1 0 5-0.1 1 0 1-0.1 0.8 0 0.2-0.4 1 0.4 1 0.9 3 0.1 0.3 0.5 0.7 0.5 0.4 1 0.2 1-0.1 1 0 1 0.1 1 0.3 0.4 0.1 0.6 0.2 1 0.2 1 0.6 1 1 0.8 1 1.2 1.2 1 0.6 0.9 0.2 0.1 0.1 2 0 1 0.7 0.6 1.2 0.3 1 0.1 0.4 0.1 0.6 0 1-0.2 1-0.4 1-0.5 1-0.6 1-0.3 1 0.1 1 0.4 2-0.3 1-0.3 0.3-1 0.5-0.3 0.2-0.3 1 0.1 1 0.2 1 0.1 1-0.1 1-0.3 1-0.4 0.9-0.1 0.1-0.8 1-0.1 0.2-0.6-0.2-0.4-0.2-0.5-0.8-0.5-0.6-0.2-0.4-0.6-1-0.2-0.4-0.5-0.6-0.5-0.4-1 0.2-0.4 0.2-1.5 1-0.1 0-1 0.1-0.5-0.1-0.5-0.2-1-0.3-1 0.2-0.2 0.3 0 1 0.1 1-0.2 2-0.6 2-0.1 0.2-0.9 0.8-0.1 0.1-1 0.1-2-0.4-1 0-0.9 0.2-0.1 0-1 0.7-0.7 0.3-0.3 0.1-1-0.1-0.1 0-0.9-0.7-0.2-0.3-0.5-1-0.2-1-0.1-1 0.1-1 0.3-1 0.4-1 0.2-0.6 0.7-1.4 0.3-0.5 0.6-1.5 0.1-1-0.6-1-0.1 0-1-0.2-1 0-1-0.4-0.7-0.4-0.3-0.2-2-1-1-0.8-1-0.9-0.2-0.1-0.8-0.3-1-0.2-1-0.1-1 0.4-0.3 0.2-0.7 0.4-1.2 0.6-0.8 0.6-0.2 0.4-0.3 1-0.1 1 0 1 0.1 1 0.2 1 0.2 2-0.2 1-0.4 1-1 1-0.3 0.2-1 0.7-0.4 0.1-0.6 0.2-1-0.1-0.4-0.1-0.6-0.3-1-0.6-0.1-0.1-0.9-0.8-0.3-0.2-0.7-0.6-1-0.2-1-0.1-1 0.1-1 0.3-0.3 0.5-0.7 0.7-0.2 0.3-0.8 0.6-1 0.3-1-0.1-2-0.4-1-0.1-1-0.2-1 0-1 0.1-1-0.1-0.1-0.1-0.4-1 0.2-1 0.3-0.5 0.7-0.5 0.3-0.2 0.9-0.8 0.1-0.1 0.3-0.9 0.4-1 0.3-0.5 0.5-0.5 0.5-0.3 0.9 0.3 0.1 0 1 0.8 0.3 0.2 0.7 0.5 0.6 0.5 0.4 0.4 0.8 0.6 1.2 0.6 1 0 1-1.2 0.2-0.4 0.3-1 0.2-1-0.1-1-0.4-2-0.2-0.8 0-0.2-0.1-1 0.1-0.3 0.2-0.7 0.5-1 0.3-0.2 1-0.6 0.2-0.2 0.8-0.6 0.3-0.4 0.6-1 0.1-0.1 1-1.8 0.1-0.1 0.6-1 0.5-1 0.3-1 0-1-0.2-1-0.3-0.5-0.4-0.5-0.6-0.4-1 0-0.9 0.4-0.1 0.1-1 0.2-1 0.1-1 0.2-1 0-1-0.6-1-1 0-0.1-2-0.6-0.2-0.3-0.8-0.7-0.2-0.3-0.8-0.7-1-0.5-1-0.3-0.8-0.5-0.2-0.1-1-0.2-0.6 0.3-0.4 0.3-1 0.6-1 0-0.2 0.1-0.8 0.2-1 0.6-0.4 0.2-0.6 0.4-1 0.2-1-0.1-1-0.4-0.1-0.1-0.9-0.6-0.3-0.4-0.7-0.5-0.6-0.5-0.4-0.3-1 0.2-0.1 0.1-0.9 1.5-1-0.3-1-1-0.1-0.2-0.9-0.8-0.1-0.2-0.9-1-1-0.9-0.1-0.1-0.9-0.8-0.2-0.2-0.7-1-0.1-0.1-0.6-0.9-0.4-0.5-0.5-0.5-0.5-0.6-0.6-0.4-0.4-0.2-1 0.2-1 0.4-1 0.1-1-0.3-1-0.2-1 0.2-1 0.4-1 0.3-1 0.2-0.7-0.1-0.3 0-1-0.4-1-0.5-0.1-0.1-0.9-0.4-0.7-0.6-0.3-0.2-0.7-0.8-0.3-0.3-0.5-0.7-0.5-0.8-0.2-0.2-0.8-1-1-0.7-1-0.6-2-1-0.8-0.7-0.2-0.2-0.6-0.8-0.4-0.5-1-0.4-0.7 0.9-0.3 0.4-0.4 0.6-0.6 1-1 0.8-1-0.4-0.4-0.4-0.6-0.4-1-0.4-0.7-0.2-0.3-0.1-0.7-0.9-0.3-0.3-0.5-0.7-0.5-0.6-0.9-0.4-0.1-0.1-0.2 0.1-0.8 0.3-1 0.4-1 0.1-1-0.2-1-0.3-0.8-0.3-0.2-0.1-1-0.4-1-0.1-1 0.3-0.7 0.3-0.3 0.2-1 0.2-1-0.2-0.8-0.2-0.2 0-2-0.6-0.7-0.4-0.3-0.1-3-1.8-0.1-0.1-0.9-0.8-0.3-0.2-0.7-0.5-0.9-0.5-0.1-0.1-1-0.6-1-0.5-1-0.3-1 0.2-1 0.5-1 0.1-0.4-0.3-0.6-0.5-1-1-1 0.1-0.6 0.4-0.4 0.3-1 0.2-1-0.3-0.3-0.2-0.7-0.4-1-0.6-1-0.7-1-0.6-1-0.4-1-0.3-1 0.1-1 0.6-0.4 0.3-0.6 0.4-1-0.1-0.4-0.3-0.6-0.5-1-1-1-0.3-1-0.1-0.3-0.1-0.7-0.4-0.8-0.6-0.2-0.1-1-0.1-0.2 0.2-0.8 0.6-0.5 0.4-0.5 0.5-1 0.3-1-0.6-0.1-0.2-0.7-1 0.8-0.1 0.3 0.1 0.7 0.6 0.6-0.6 0.4-0.1 0.8-0.9 0.2-0.2 0.9-0.8 0.1-0.1 1 0 0.1 0.1 0.9 0.8 1 0.2 1 0 1 0.7 0.2 0.3 1.8 1.8 1-0.1 0.7-0.7 0.3-0.2 0.9-0.8 0.1 0 1-0.1 0.6 0.1 0.4 0.3 1 0.4 1 0.3 1 0.7 0.7 0.3 0.3 0.3 1 0.4 1 0.2 1-0.2 0.8-0.7 0.2-0.1 1-0.1 0.2 0.2 0.8 0.7 0.4 0.3 0.6 0.6 1-0.1 0.7-0.5 0.3-0.1 1-0.2 1 0.2 0.2 0.1 0.8 0.7 0.8 0.3 0.2 0.2 1 0.5 0.4 0.3 0.6 0.6 1 0.8 1 0.5 0.1 0.1 0.9 0.6 1 0.4 1 0.6 1 0.1 1 0 1 0.1 1-0.1 1-0.4 0.5-0.3 0.5-0.1 1 0.1 0.1 0 0.9 0.7 0.6 0.3 0.4 0.4 1 0.2 2 0 1-0.1 1-0.3 0.7-0.2 0.4 0 0.9 0.7 0.2 0.3 0.8 0.9 0.2 0.1 0.8 0.8 0.8 0.2 1.2 0.6 0.7 0.4 0.3 0.3 1 0.4 0.9-0.7 0.1-0.1 0.8-0.9 0.2-0.6 0.4-0.4 0.6-1 0.2 0 0.8 0.2 0.7 0.8 0.3 0.3 0.9 0.7 0.1 0.1 1 0.5 1 0.2 0.4 0.2 0.6 0.5 1 0.5 1 0.9 0 0.1 0.9 1 1.1 1.1 1 0.6 1 0.2 0.3 0.1 0.7 0.4 1 0.2 1 0 1-0.1 1-0.5 1-0.4 1-0.2 1 0.1 1 0.2 1 0 1-0.4 0.5-0.3 0.5-0.2 1 0.1 1.1 1.1 0.8 1 0.1 0.1 0.7 0.9 1.3 1.3 1 0.6 0.1 0.1 0.9 0.6 1 0.3 3 0 0.1 0.1 1.8 1 0.1 0.1 1 0.3 0.7-0.4 0.3-0.1 1-0.2 2 0 0.9-0.7 0.1 0 1-0.3 0.6 0.3 0.4 0.3 1 0.7 1 0 1-0.5 1-0.3 1 0.1 1 0.2 1 0.4 0.2 0.1 0.8 0.6 0.9 0.4 0.1 0.1 2 0.8 1.1 1.1 0.9 0.8 0.7 0.2 0.3 0.1 1 0.1 1-0.2 1-0.4 0.7-0.6 0.3-0.3 0.9-0.7 0.1-0.1 1-0.2 1 0.2 0.1 0.1 0.9 0.7 0.4 0.3 0.6 0.5 1 1 0.4 0.5 0.6 0.6 0.7 1.4 0.3 0.3 0.4 0.7 0.6 0.8 0.3 0.2 0.7 0.4 0.6-0.4 0.4-0.2 0.7-0.8 0.3-0.3 0.8-0.7 0.2-0.2 1-0.3 1 0.2 1 0.1 1-0.1 1 0.1 1.2 1.2 0.8 0.7 1-0.1 0.6-0.6 0.4-0.7 0.2-0.3 0.5-1 0.2-2 0.1-0.6 0.3-0.4 0.3-1 0-2 0.1-1 0-1 0.2-2 0-1 0.1-0.9 0-0.1 0.3-1 0.1-1 0.2-1 0.1-1 0-1 0.1-1 0-1 0.1-1 0-1 0.1-1 0-0.3 0.2-0.7 0.3-1 0.1-1 0-3 0.1-1 0-2 0.3-3 0-0.4 0.8-0.6 0.2-1-0.4-1-0.3-1-0.2-2 0.1-1zM231.4 262l0.6-0.1 1 0 0.2 0.1 0.8 0.7 1 0.2 2 0 1 0.1 0.1 0 0.9 0.8 0.1 0.2-0.1 0.9-1-0.7-1 0-1 0.1-1-0.1-0.5-0.2-0.5-0.4-1-0.5-0.3-0.1-0.7-0.6zM358.8 302l0.2-0.3 0.7 0.3 0.3 0.2 0.4 0.8 0.2 1 0.1 1-0.1 1 0 2-0.2 1-0.4 0.9 0 0.1-0.6 1-0.4 0.9 0 0.1-1 0.9-1-0.3-0.4-0.6-0.4-1-0.2-0.8 0-0.2-0.3-3 0.1-1 0.5-1 0.7-1 0.8-1 0.2-0.3zM424.2 310l0.8-0.3 0.3 0.3 0.5 1 1.2 3 0 0.1 0.2 0.9-0.2 1-0.3 1-0.4 2 0.2 2 0.3 1 0.2 0.9 0.1 0.1 0.8 1 0.1 0.1 1 0.6 0.2 0.3 0.5 1 0.3 0.9 0 0.1 0.1 1-0.1 0.1-0.7 0.9-0.3 0.2-1 0.3-1-0.4-0.3-0.1-0.7-0.5-2-0.2-1 0.4-1 0.2-1-0.3-1-0.6-0.6-1-0.3-1-0.1-0.3-0.1-0.7-0.3-1-0.4-1-0.5-1-0.4-2-0.1-1 0.1-1 0.4-1 0.3-0.3 0.5-0.7 0.5-0.4 0.6-0.6 0.4-0.3 0.9-0.7 0.1-0.1 1-0.7 0.2-0.2 0.7-1 0.5-1 0.6-0.9zM341.5 315l0.5-0.2 1 0.2 1 1 0.2 1 0 1-0.1 1-0.1 0.5-0.2 0.5-0.8 0.7-1-0.2-0.5-0.5-0.5-0.6-0.2-0.4-0.4-1-0.1-1 0.3-1 0.4-0.7z"/>
<path fill="#ff4700" d="M246.3 265l0.7-0.3 1 0 1 0.2 0 0.6-2-0.2zM253 266l1-0.4 1-0.3 1 0.4 1 0.2 0.3 0.1 0.7 0.7 1 0.3 0.1 0 0.9 0.7 1 0.2 0.7 0.1 0.3 0.2 0.3-0.2 0.7-0.1 1-0.6 1-0.1 1 0.7 0.1 0.1 0.9 0.8 1 0 1-0.7 0.1-0.1 0.9-0.1 0.7 0.1 0.3 0.2 1 0.7 0.3 0.1 0.7 0.6 1 0.3 0.1 0.1 0.9 0.8 1 1 0.5 0.2 0.5 0.4 1 0.5 0.4 0.1 0.6 0.6 1 0.2 1 0.1 3 0 1-0.3 1-0.5 1 0.2 1 0.6 0.2 0.1 0.8 0.8 4 0 1-0.3 1-0.1 1 0.5 0.1 0.1 0.7 1 0.2 0.2 1 0.8 0.1 0 0.9 0.5 1 0.3 0.3 0.2 0.7 0.6 1 0.3 1-0.7 0.4-0.2 0.5-1 0.1-0.3 0.7-0.7 0.3-0.5 1 0.1 1 1 0.5 0.4 0.5 0.5 1 0.3 1 0.2 1 0.7 0.5 0.3 0.5 0.5 0.7 0.5 0.3 0.3 0.5 0.7 1 1 0.5 0.4 1 0.5 0.7 0.1 0.3 0.2 1 0.4 1 0.2 1 0 1-0.1 1-0.3 0.5-0.4 0.5-0.2 1-0.2 1 0.2 1 0.1 1-0.1 1-0.3 0.8-0.5 0.2-0.1 0.7 0.1 0.3 0.1 1 0.9 0.6 1 0.4 0.4 1 1.2 0.5 0.4 0.5 0.5 0.8 0.5 0.2 0.2 1 0.6 0.9 0.2 0.1 0 1 0.2 1-0.2 1 0.2 1 0.5 0.5 0.3 0.5 0.4 1 0.2 1-0.5 0.1-0.1 0.9-0.2 1 0.1 1-0.1 1-0.6 0.4-0.2 0.6-0.2 0.3 0.2 1.4 1 0.3 0.3 1-0.1 0.3-0.2 0.7-0.3 1-0.3 1 0.1 1 0.2 1 0.3 1 0.8 0.5 0.2 0.5 0.4 1 0.2 0.9 0.4 0.1 0.1 0.8 0.9 0.2 0.2 1 0.8 0.1 0 0.9 0.4 1 0 1-0.1 0.4-0.3 0.6-0.2 1-1 1-0.7 0.2-0.1 0.8-0.1 0.7 0.1 0.3 0.1 1 0.7 0.2 0.2 0.8 0.7 0.3 0.3 0.7 0.6 0.3 0.4 0.7 0.8 0.2 0.2 0.4 1 0.4 0.4 0.3 0.6 0.7 0.9 0.1 0.1 0.9 0.6 0.8-0.6 0.2-0.1 0.8-0.9 0.2-0.2 0.9-0.8 0.1-0.1 1-0.3 1 0.2 1 0.1 1-0.1 1 0.1 1.1 1.1 0.9 0.8 1-0.1 0.8-0.7 0.2-0.4 0.4-0.6 0.4-1 0.1-1 0.1-0.6 0.3-0.4 0.6-1 0.1-0.5 0.5-0.5-0.5-0.7 0-0.3-0.1-1 0.1-1 0-1 0.4-2 0.1-1 0.2-1 0.3-3 0-0.1 0.3-0.9 0-1 0.2-2 0.3-1 0.2-0.6 0.3 0.6 0.6 1 0.1 0.4 0.2 0.6 0 2 0.4 1 0.4 0.6 0.1 0.4 0.3 1 0.5 5 0 1-0.1 1-0.3 1-0.5 0.7-0.5 0.3 0.2 1 0.3 0.3 0.6 0.7 0.5 1 0.9 3 0 0.1 0.4 0.9 0.6 1 0.1 0 0.9 0.2 2-0.2 1 0.1 1-0.1 1 0.1 2 0.6 0.4 0.3 0.6 0.4 0.5 0.6 0.5 0.7 0.2 0.3 1.6 2 0.2 0.3 0.7 0.7 0.3 0.5 0.9 0.5 0.1 0.1 1 0.3 1 0.6 0 1-0.6 1-0.4 0.5-0.5 0.5-0.5 0.3-1 0-1-0.2-1 0.3-0.6 0.6-0.4 0.3-0.5 0.7-0.5 1 0 0.1-0.3 0.9-0.3 1-0.2 2-0.2 1 0 0.1-1 0.9-1 0.7-1 0.5-0.6-0.2-0.4-0.1-1-1-1-1.8-0.1-0.1-0.9-0.7-1-0.5-1-0.6-1-0.2-1 0.2-0.8-0.2-0.2-0.1-1-0.9 0-0.1-0.7-0.9-0.3-0.4-1-0.4-1 0.4-0.5 0.4-0.5 0.8-0.1 0.2-0.9 1-1-0.4-2-1-0.9-0.6-0.1-0.1-0.7-0.9-0.6-1-0.4-1-0.3-0.4-1 0.2-0.2 0.2-0.8 0.6-2 0.8-1 0.6-1 0.5-1 0.3-0.3 0.2-0.7 0.5-0.3 0.5-0.4 1-0.3 1 0 0.3-0.1 0.7-0.1 1-0.4 2-0.1 1 0 1-0.1 1-0.2 0.4-0.8 0.6-0.2 0.1-0.1-0.1-0.6-1-0.3-0.8 0-0.2-1-2.5-0.3-0.5-0.4-1-0.3-0.6-0.7-0.4-0.3-0.1-1-0.7-0.1-0.2-0.2-1 0.1-1 0.2-0.3 0.6-0.7 0.4-0.4 0.7-0.6 0.3-0.6 0.1-0.4 0.6-2 0.3-0.6 0.3-0.4 0.7-0.9 0.1-0.1 0.9-1 0.5-1-0.1-1-0.4-1 0-0.1-0.4-0.9-0.5-1-0.1-0.1-0.6-0.9-0.4-0.4-1-0.6-1 0.2-1 0.5-1 0.1-1-0.1-1 0-1-0.2-1-1-0.4-0.5-0.6-0.6-0.9-0.4-0.1 0-1-0.3-1-0.6-0.1-0.1-0.9-0.6-1-0.4-1-0.3-1-0.4-1-0.1-1 0.5-1 0.3-1-0.3-1-0.1-0.7 0.4-0.3 0.2-1 0.4-1-0.3-0.5-0.3-0.5-0.2-2 0-1-0.4-0.6-0.4-0.4-0.3-1-0.5-1 0.2-1 0.4-1 0-1-0.5-0.2-0.3-0.8-0.8-0.3-0.2-0.7-0.6-0.5-0.4-0.5-0.5-0.4-0.5-0.6-0.7-0.2-0.3-0.8-0.9-0.1-0.1-0.9-1-1-0.5-1 0.2-0.8 0.3-0.2 0.1-1-0.1-1-0.4-1-0.3-1 0.4-0.5 0.3-0.5 0.2-1 0.5-1 0.1-1-0.2-1-0.4-1-0.5-1-0.4-0.5-0.3-0.5-0.4-0.6-0.6-0.4-0.6-0.3-0.4-0.6-1-0.1-0.1-0.8-0.9-0.2-0.2-1-0.7-1-0.5-2-0.8-0.9-0.8-0.1-0.1-0.7-0.9-0.3-0.4-1-0.4-0.6 0.8-0.8 1-0.6 1.2-1 0.7-1-0.4-0.6-0.5-0.4-0.3-1-0.4-0.9-0.3-0.1 0-0.8-1-0.2-0.2-0.6-0.8-0.4-0.4-1-0.5-2 0.8-1 0.1-2-0.6-2-0.8-1-0.1-1 0.2-0.8 0.3-0.2 0.1-1 0.2-1-0.1-1-0.2-0.1 0-0.9-0.2-1-0.3-1-0.5-1-0.6-1-0.5-1-0.7-0.3-0.2-0.7-0.6-0.5-0.4-1.5-0.9-0.2-0.1-0.8-0.5-1-0.5-1-0.3-1 0.2-0.3 0.1-0.7 0.4-1 0-0.5-0.4-0.5-0.5-0.6-0.5-0.4-0.4-1 0-1 0.8-1 0.2-1-0.3-1-0.5-1-0.6-0.3-0.2-0.7-0.6-1-0.4-0.1 0-0.9-0.4-1-0.3-1 0zM420.6 318l0.4-0.4 1 0.2 0.3 0.2 0 1-0.3 0.5-1 0.4-0.6-0.9zM394 321l0-0.1 1-0.7 1 0.7 0 0.1 0.4 1 0.2 1 0.3 1 0.1 0.8 0 0.2 0.1 1-0.1 0.2-0.3 0.8-0.7 0.5-1 0.4-2-0.4-1 0-0.3-0.5-0.1-1 0.3-1 0.1-0.3 0.3-0.7 0.4-1 0.6-1z"/>
<path fill="#ff3000" d="M284.3 274l0.7-0.1 1-0.2 1 0.1 0.4 0.2-0.4 0.5-1 0.3-0.7 0.2-0.3 0.1-1 0.1-1 0-1-0.2 1-0.2 1-0.3zM292.5 275l0.5 0 1-0.1 1 0.1-1 0.3-0.9 0.7-0.1 0-1 0.1-0.3-0.1 0.3-0.5zM306.4 277l0.6-0.1 0.2 0.1 0.8 0.8 0.9 0.2 0.1 0.2 1 0.6 1 0.2 0 0.8-1-0.5-1-0.1-0.6-0.2-0.4-0.2-1-0.8zM313.4 282l0.6-0.2 0.2 0.2 0.8 0.7 0.8 0.3 0.2 0.2 1 0.4 1 0.3 1 0.1 1-0.1 1 0 1-0.2 1-0.6 0.2-0.1 0.8-0.1 1 0.1 0.4 0 0.6 0.2 2-0.4 1-0.5 1 0.2 0.6 0.5 0.4 0.4 0.4 0.6 0.6 0.7 0.3 0.3 0.7 0.8 1 1 0.4 0.2 0.6 0.6 1 0.4 0.1 0 0.9 0.4 1 0.1 1-0.1 1 0.1 1 0.4 0.2 0.1 0.8 0.7 1 0.1 1-0.4 0.8-0.4 1.3 0 0.9-0.1 1-0.4 1-0.5 1 0.7 0.4 0.3 0.6 0.5 1 0 0.7-0.5 0.3-0.2 1-0.2 1 0.1 1 0.2 0.4 0.1 0.6 0.4 1 0.6 0.1 0 0.9 0.6 1 0.2 0.4 0.2 0.6 0.4 0.5 0.6 0.5 0.5 0.7 0.5 0.3 0.3 1 0.3 1 0 1-0.1 0.8-0.5 0.2-0.1 1-0.9 1-0.6 0.9-0.4 0.2 0 0.9 0.4 1 0.5 0.1 0.1 0.9 0.8 1.2 1.2 0.8 0.9 0.1 0.1 0.4 1 0.5 0.6 0.2 0.4 0.8 1 1 0.7 1-0.7 0.9-1 0.1-0.1 1-0.9 1-0.3 1 0.2 0.8 0.1 0.2 0.1 0.3-0.1 0.7-0.1 0.8 0.1 0.2 0.1 1 0.9 1 1 1-0.1 0.9-0.9 0.1-0.2 0.6-0.8 0.3-1 0.1-0.7 0.3-0.3 0.7-1 1-0.1 1 0 0.3 0.1 0.7 0.3 0.6 0.7 0.4 0.5 0.3 0.5 0.4 1 0.3 1 0.2 1 0.3 1 0.2 1 0.3 0.6 1 0.5 0.2-0.1 0.8-0.1 1-0.2 1 0 1 0.1 1 0 1-0.1 1 0.1 0.6 0.2 0.4 0.2 0.8 0.8 0.2 0.3 0.5 0.7 0.5 1 0.4 1 0.3 1 0 1-0.4 1-0.3 0.5-0.4 0.5-1 1-0.6 0.9-0.1 0.1-0.8 1-0.1 0.1-1 0.1-0.1-0.2-0.7-1-0.2-0.2-1-0.7-1 0.1-1 0.2-3 0.3-1 0-1-0.3-0.6-0.4-0.4-0.3-1-0.6-1-0.2-1 0.1-0.3 0-0.7 0.1-1 0.5-0.4 0.4-0.6 0.7-1 0.1-1-0.8-0.5-1-0.3-1-0.2-0.4-0.4-0.6-0.6-0.5-1-0.3-1 0-1 0.5-0.4 0.3-0.6 0.6-0.5 0.4-0.5 0.5-0.7 0.5-0.3 0.2-1 0.5-0.8 0.3-0.2 0.1-1 0.1-1 0-1-0.2 0.1-1 0.6-2 0.1-1-0.2-1-0.6-1.2-0.5-0.8-0.5-0.7-0.2-0.3-0.6-1-0.2-0.3-0.4-0.7-0.6-0.9-1-1-0.3-0.1-0.7-0.2-1 0.2-0.1 0-0.9 0.4-1 0.1-1-0.2-1-0.1-1-0.4-0.7-0.8-0.3-0.3-0.6-0.7-0.4-0.4-1.2-0.6-0.8-0.3-1-0.5-0.3-0.2-0.7-0.4-1-0.3-1-0.1-0.6-0.2-0.4-0.1-1 0-0.1 0.1-0.9 0.4-1 0.2-1-0.6-1-0.4-0.7 0.4-0.3 0.2-1 0.6-1-0.1-1-0.3-1 0-1 0.1-1-0.5-0.1 0-0.9-0.7-0.5-0.3-0.5-0.2-1 0.1-0.3 0.1-0.7 0.3-1 0-0.5-0.3-0.5-0.4-0.5-0.6-0.5-0.5-0.7-0.5-0.3-0.2-1-0.8-1-1-0.9-1-0.1-0.1-0.8-0.9-0.2-0.3-1-0.5-1 0.3-1 0.4-1-0.2-1-0.6-0.4-0.1-0.6-0.2-1 0.5-1 0.7-1 0.5-1 0.1-1-0.2-0.9-0.4-0.1 0-2-0.8-0.3-0.2-0.7-0.5-0.4-0.5-0.6-0.8-0.2-0.2z"/>
<path fill="#ff1600" d="M328.1 283l0.9-0.2 1 0.1 0.2 0.1 0.8 0.8 0.1 0.2 1 1 0.9 1 0.8 1 0.2 0.3 0.9 0.7-0.9 0.3-0.4-0.3-0.6-0.4-0.7-0.6-1-1-0.3-0.4-0.5-0.6-0.5-0.7-0.8-0.3-0.2-0.2-0.3 0.2-0.7 0.2-1 0.4-1-0.4-0.3-0.2 0.3-0.1 1-0.1 1-0.6zM335.4 289l0.6-0.2 3 0 1 0.1 0.3 0.1 0.7 0.6 1 0.3 1 0.1 2-0.6 1 0.1 1-0.2 0.4-0.3 0.6-0.2 1-0.2 1 0.4 0.1 0 0.9 0.8 1 0 1-0.7 0.1-0.1 0.9-0.1 1 0.1 0.3 0 0.7 0.4 1 0.4 0.4 0.2 0.6 0.6 1 0.3 0.8 0.1 0.2 0.1 1 0.7 1 1 0.3 0.2 0.7 0.7 1 0.1 2 0 1-0.6 0.3-0.2 0.7-0.6 0.4-0.4 0.6-0.3 1-0.3 1 0.3 0.7 0.3 0.3 0.2 1 0.8 1 0.9 0.1 0.1 0.9 1 0.4 1 0.6 0.7 0.2 0.3 0.6 1 0.2 0.3 1 0.5 1-0.6 0.2-0.2 0.8-1 1-0.8 0.3-0.2 0.7-0.2 1 0.2 0.2 0 0.8 0.2 1-0.2 1 0.3 0.8 0.7 0.2 0.2 0.9 0.8 0.1 0.1 1-0.1 1-0.9 0.1-0.1 0.7-1 0.2-0.8 0.3-0.2 0.7-0.8 2 0.4 0.6 0.4 0.4 0.3 0.4 0.7 0.6 1.2 0.2 0.8-0.1 1-0.1 0.3-0.6 0.7-1 1-0.4 0.7-0.2 0.3-0.3 1-0.5 1-1 0.5-1-0.1-1 0.6-0.5 1-0.3 1-0.2 0.5-1-0.2-0.2-0.3-0.5-1-0.3-0.4-0.6-0.6-0.4-0.2-2-0.4-1 0-1 0.3-0.4 0.3-1.2 1-0.4 0.4-0.8 0.6-0.2 0.2-1 0.5-1-0.3-0.3-0.4-0.4-1-0.3-1-0.5-1-0.5-0.6-0.3-0.4-0.7-0.9-0.1-0.1-0.7-1-0.2-0.3-0.4-0.7-1.2-2-0.4-0.7-0.4-0.3-0.6-0.4-1-0.2-1 0.2-0.9 0.4-0.1 0-1 0.1-0.9-0.1-0.1 0-1-0.2-1-0.6-0.2-0.2-0.8-0.9-0.1-0.1-0.8-1-0.1-0.1-1-0.5-0.9-0.4-0.1-0.1-1-0.6-1-0.5-1-0.2-1 0.1-1-0.2-1 0.2-0.7 0.3-0.3 0.1-1 0.1-0.2-0.2-0.8-0.7-1-0.6-0.4 0.3-1.2 1-0.4 0.3-1 0.1-1-0.2-1 0-1 0.1-1-0.5-1-1-1-0.5-1 0.2-1 0.5-1-0.1-0.8-0.9-0.2-0.4zM404.9 303l0.1 0 1-0.2 0.4 0.2 0.6 0.5 0.2 0.5 0.3 1 0 1-0.2 1-0.3 0.4-0.9 0.6-0.2 0-0.9-0.6-0.3-0.4-0.5-1-0.2-0.6-0.2-0.4 0-1 0.2-0.1z"/>
<path fill="#e40000" d="M344.9 290l0.1 0 1-0.1 1 0 0.5 0.1-0.5 0.6-1 0.2-1-0.7zM368.9 292l0.1 0 1-0.2 1 0.1 0.1 0.1 0.9 0.7 0.4 0.3 0.6 0.5 0.7 0.5 0.3 0.2 0.6 0.8 0.4 0.4 0.2 0.6 0.8 0.9 0.1 0.1 0.5 1 0.4 0.5 1 0.4 1-0.5 0.4-0.4 0.6-0.8 0.2-0.2 0.8-0.7 0.7-0.3 0.3-0.1 0.5 0.1 0.5 0.2 1 0.2 1-0.2 1 0.2 2 2 1-0.1 0.3-0.3 0.7-0.6 0.5-0.4 0.5-0.9 0.3-0.1 0.7-0.5 0.7 0.5 0.3 0.3 0.8 0.7 0.2 1-0.4 1-0.6 1-0.7 1-0.3 0.3-1 0.6-0.2 0.1-0.8 0.6-0.3 0.4-0.7 0.9-1 0-1-0.5-1-0.3-1 0-1 0.1-1-0.1-1 0.2-1 0.5-0.3 0.2-0.7 0.5-0.9 0.5-0.1 0.1-1 0.2-1-1-0.2-0.3-0.8-1-1-1-0.8-1-0.2-0.3-0.5-0.7-0.5-0.9 0-0.1-0.5-1-0.4-1-0.1-0.4-0.3-0.6-0.7-0.8-1-0.4-1-0.3-1 0.2-0.4 0.3-0.6 0.4-1 0.2-1-0.1-1-0.4-0.2-0.1 0.2-0.2 1-0.5 0.9-0.3 0.1 0 1-0.2 0.9-0.8 0.1-0.1z"/>
<path fill="#c80000" d="M372.8 295l0.2-0.8 1 0.5 0.2 0.3 0.8 0.7 0.1 0.3 0.9 1 0.4 1 0.6 0.7 0.8 0.3 0.2 0.2 0.1-0.2 0.9-0.4 0.5-0.6 0.5-0.5 0.4-0.5 0.6-0.5 1-0.5 1 0.4 1 0.2 1-0.1 1 0.1 2 2 1 0 0.7-0.6 0.3-0.3 0.9-0.7 0.1-0.1 0.7 0.1 0.3 0.2 0.3 0.8-0.3 1-0.9 1-1 1-0.1 0-1 1 0 0.1-1 0.1-0.8-0.2-0.2 0-1-0.2-1 0.2-1 0.1-1 0-1 0.1-1 0.3-1 0.5-1 0.3-1-0.1-0.3-0.2-0.7-0.4-0.6-0.6-0.4-0.3-0.7-0.7-0.3-0.4-0.4-0.6-0.6-1-0.8-2-0.2-1 0-0.1z"/>
<path fill="#a80000" d="M374.5 297l0.5-0.9 0.3 0.9 0.7 0.6 0.2 0.4 0.8 0.9 0.2 0.1 0.8 0.6 0.6-0.6 0.4-0.2 0.7-0.8 1.3-1.3 1-0.4 1 0.3 1 0.2 1-0.1 1 0.1 0.2 0.2 0.8 0.9 0.2 0.1 0.8 0.9 1 0 1-0.9 0.5 1-0.5 0.7-0.3 0.3-0.7 0.6-1 0.3-1-0.2-1-0.1-1 0.4-0.2 0-0.8 0.2-2 0-1 0.2-1 0.4-1 0.2-1-0.2-1-0.6-0.3-0.2-1-1-0.6-1-0.1-0.3-0.3-0.7z"/>
<path fill="#8d0000" d="M380.9 297l0.1-0.1 1-0.3 1 0.2 1 0.1 1 0 0.7 0.1 0.3 0.2 0.6 0.8 0.5 1-0.1 0.1-1 0.1-1 0.6-0.4 0.2-0.6 0.2-1 0-1-0.1-1 0.2-1 0.3-1 0-0.7-0.6 0.7-1 0.9-1 0.1-0.1z"/>
<path fill="#66ff90" d="M210.6 256l0.4-0.5 0.7 0.5 0.3 0.3 0.1 0.7 0.2 1 0 2 0.2 2 0.2 1 0.3 1 0 0.1 0.4 0.9 0.6 1 0.8 1 0.2 0.3 0.6 0.7 0.4 0.5 0.1 0.5 0.9 1 0.6 3 0.4 0.4 0.5 0.6 0.3 1 0.2 0.7 0.2 0.3 0.7 1 0.1 0.3 0.4 0.7 0.6 0.9 0.1 0.1 0.6 1 0.3 0.4 0.4 0.6 0.6 0.7 0.2 0.3 1.6 2 0.2 0.3 0.6 0.7 0.8 1 0.6 0.8 0.2 0.2 0.8 1 0 0.1 0.8 0.9 0.2 0.3 0.5 0.7 0.5 0.6 0.3 0.4 0.7 0.8 0.1 0.2 0.8 1 0.1 0.1 0.8 0.9 0.2 0.3 0.5 0.7 0.5 0.6 0.3 0.4 0.7 0.9 0.1 0.1 0.7 1 0.2 0.3 1 1.4 0.2 0.3 0.7 1 0.1 0.2 0.6 0.8 0.4 0.6 0.3 0.4 1.4 2 0.6 1 0.4 1 0.4 2 0.4 1 0.5 1 0.7 1 0.3 0.4 0.6 0.6 0.4 0.5 0.6 0.5 0.4 0.4 0.7 0.6 0.3 0.3 0.8 0.7 1 1 0.2 0.4 0.5 0.6 0.5 0.8 0.1 0.2 0.6 1 0.3 0.7 0.2 0.3 0.5 1 1.2 2 0.1 0.2 0.6 0.8 0.4 0.6 0.3 0.4 0.7 0.9 1.1 1.1 0.9 0.8 0.2 0.2 0.8 0.6 0.6 0.4 0.4 0.2 1 0.6 1 0.5 1 0.4 0.7 0.3 0.3 0.1 1 0.4 1 0.3 0.6 0.2 0.4 0.1 1 0.4 1 0.3 0.5 0.2 0.5 0.1 2 0.8 0.3 0.1 0.7 0.3 1 0.4 0.7 0.3 0.3 0.1 1 0.5 0.9 0.4 0.1 0.1 1 0.4 0.8 0.5 1.2 0.6 0.7 0.4 0.3 0.2 1 0.5 0.4 0.3 0.6 0.3 1 0.6 0.1 0.1 0.9 0.5 0.8 0.5 0.2 0.1 2 1.2 1 0.5 0.3 0.2 0.7 0.4 1 0.6 0.1 0 1.8 1 0.1 0.1 3 1.5 0.7 0.4 0.3 0.2 2 1 1 0.6 1 0.5 1 0.6 0.2 0.1 0.8 0.5 0.9 0.5 0.1 0 1 0.7 1 0.6 1 0.7 0.1 0 0.9 0.1 2 0.2 0.4-0.3 0.6-0.4 1 0 0.6-0.6 0.2-1 0.2-0.2 0.9-0.8 0.1-0.1 1 0.1 0.1 0 0.9 0.6 1 1 0.1 0.4 0.9 1 0.3 0 0.7 0.7 0.9 0.3 0.1 0 3 0.9 0.6 0.1 0.4 0.1 1 0.2 4 0.4 1 0 1 0.1 2-0.4 1 0 1 0.4 3 0 1-0.1 1-0.7 0.5-1 0.5-0.7 0.3-0.3 0.7-0.6 1 0.4 0.2 0.2 0.6 1 0.2 0.5 0.6 0.5 0.4 0.7 7 0 0.2-0.7 0.4-1 0.4-0.4 0.3-0.6 0.4-1 1.2-2 0.1-0.1 0.8-0.9 0.2-0.3 1-0.7 2-1 1-0.7 1-1 2-1.2 0.4-0.1 0.6-0.2 0.4 0.2 0.6 0.2 0.7 0.8 0.3 0.3 0.5 0.7 0.5 0.8 0.2 0.2 0.6 1 0.2 0.3 0.6 0.7 0.8 1 0.6 0.7 0.3 0.3 0.7 0.8 1 1 0.3 0.2 0.7 0.5 1 0.1 1-0.4 0.3-0.2 0.7-0.5 0.9-0.5 0.1 0 1-0.4 2-0.4 0.6-0.2 0.4-0.2 0.9-0.8 0.1 0 0.7-1 0.3-0.4 1-1.5 0.1-0.1 0.9-1 1-0.7 1-0.1 1 0.5 0.4 0.3 1 1 0.6 0.8 0.1 0.2 0.7 1 0.2 0.3 0.5 0.7 0.5 0.8 0.2 0.2 0.7 1 0.1 0.1 1 0.9 1 0.4 1-0.1 1-0.3 0.2 0 0.8-0.3 1-0.3 1-0.2 0.3-0.2 0.7-0.4 0.6-0.6 0.4-0.3 0.4-0.7 0.6-0.8 0.2-0.2 0.7-1 0.1-0.2 1-0.6 1 0.6 0.1 0.2 1.2 2 0.7 1.4 0.6 0.6 0.4 0.5 1 0.2 1-0.5 0.2-0.2 0.8-0.6 1-0.2 1 1 0.4 0.8 0.4 1 0.2 0.4 0.2 0.6 0.4 1 0.3 1 0.1 0.4 0.1 0.6 0.9 1 0.3 1 0.7 0.9 0.2 0.1 0.8 0.8 1-0.1 1-0.2 0.4-0.5 0.3-1 0.3-0.9 0-0.1 0.8-1 0.2-0.3 0.5-0.7 0.5-0.9 0.1-0.1 0.6-1 0.3-0.4 0.9-0.6 0.1-0.1 0.4 0.1 0.6 0.1 2 0.8 0.6 0.1 0.4 0.1 1 0 1 0.1 1-0.1 0.2-0.1 0.9 0 0.9 0.8 0.3 0.2 0.7 0.7 0.8 0.3 0.2 0.2 1 0.7 1-0.3 0.6-0.6 0.4-0.2 0.4 0.2 0.6 0.2 0.8 0.8 0.2 1 0.7 1 0.1 1 0.2 0.3 0.5 0.7 0.1 1 0.2 1 0.1 1 0.1 0.2 0.6 0.8 0.2 1 0.2 0.3 0.7 0.7 0.2 1 0.1 0.7 1 0.1 0.6 0.2 0.7 0 0.7-0.3 0.4-0.7 0.5-1 0.1-0.1 0.4-0.9 0.6-1 0.9-1 0.1-0.1 0.4 0.1 0.6 0.2 0.5 0.8 0.5 0.9 0.1 0.1 0.9 0.8 1-2 0.3-0.8 0.6-2 0.1-0.2 0.8-0.8 0.2-0.3 0.2 0.3 0.6 1 1 2 0.2 0.3 1 1 1-0.3 0.8-1 0.2-0.3 0.6-0.7 0.4-0.4 1-0.1 0.6 0.5 0.4 0.4 0.4 0.6 0.6 1 1 2 0 0.1 1 0.8 0.6-0.9 0.4-0.5 0.2-0.5 0.6-1 0.2-0.4 0.6-0.6 0.4-0.3 1 0.3 0.1 0 0.9 0.4 0.4-0.4 0.6-0.5 0.2-0.5 0.5-1 0.3-0.8 1-2 1-0.2 1 0 0.9-1 0.1-0.1 1-0.3 3 3 0.3 0.4 0.7 0.9 0.2 0.1 0.8 0.2 0.2-0.2 0.7-1 0.1-0.1 0.7-0.9 0.3-0.3 0.4 0.3 0.6 0.5 0.3 0.5 0.5 1 0.2 0.3 0.9 0.7 0.1 0.1 0.1-0.1 0.9-0.6 1-0.3 1 0.5 1-0.2 1-0.8 0.7-0.6 0.3-0.2 0.5-0.8 0.5-0.7 0.2-0.3 0.8-1.6 0.7-0.4 0.3-0.2 0.2 0.2 0.6 1 0.2 0.3 0.4 0.7 0.6 1 0.1 0 0.9-0.3 0.2-0.7 0.4-1 0.3-1 0.5-1 0.4-1 0.2-0.4 0.3 0.4 0.7 1 0.2 1 0.3 1 0.2 1 0.3 1 0 0.1 0.2 0.9 0.4 2 0.1 1 0.2 1 0.1 0.7 0 0.3 0.4 4 0 2 0.1 1 0 4-0.1 1 0 1 1 1 0.1 1 0 1 0.4 4 0.1 0.9 0 0.1 0.4 2 0.3 1 0.3 0.9 0.2 0.1 0.8 0.8 0.7-0.8 0.3-0.3 0.3-0.7 0.4-1 0.3-0.8 0.6-1.2 0.3-1 0.1-0.2 0.2 0.2 0.6 1 0.2 0.5 0.1 0.5 0.1 1 0.2 1 0.2 2 0.2 1 0.1 1 0.1 0.3 0.8 0.7 0.2 0.1 0.1-0.1 0.8-2 0.1-0.2 0.2-0.8 0.2-1 0.3-1 0.2-1 0.1-0.2 0.2-0.8 0.1-1 0.4-2 0.1-1 0.2-0.9 0-0.1 0.2-1 0.1-1 0.7-0.7 0.5-0.3 0.2-2 0-1 0.1-1 0-1 0.1-1 0-2 0.1-1 0-0.5 0 0.5 0.2 2 0 1 0.1 1 0 5 0.7 0.6 0.2 0.4 0.3 1 0.4 4 0.1 0.5 1 0.3 1-2 0.7-0.8 0.3-0.4 0.7-0.6 0.3 0 1-0.4 0.9-0.6 0-1 0.1-1 0-0.1 0.1-0.9 0.6-6 0-1 0.3-3 0-0.6 0.1-0.4 0.3-1 0.4-2 0.1-1 0.1-0.5 0 0.5 0.2 2 0 2 0.1 1 0 6-0.1 1 0 3-0.1 1 0 2 0.4 1 0.5 0.8 0.4 0.2 0.1 1 0.4 2 0.1 0.4 0.1-0.4 0.4-1 0.5-1 0-0.1 0.2-0.9 0.8-0.3 1-0.3 1 0.1 2-0.2 1 0 1 0.1 1 0.3 1 0.1 0.3 0.2 0.7 0.5 1-0.3 0.7-0.2 0-2 0.1-1 0-2 0.2-2 0-1 0.3-3 0.2-1 0.1-1 0.2-1 0.2-0.7 0.1-0.3 0.6-2 0.5-1 0.6-1 0.2-0.3 0.4-0.7 0.6-0.9 0.1-0.1 0.6-1 0.3-0.4 1-0.4 1 0 0.3-0.2 0.7-0.6 1-0.8 1 0.2 1 0.5 1-0.1 0.6-0.2 0.4-0.1 1-0.4 1 0.3 0.1 0.2 1.8 2 0.1 0.1 1 0.5 1 0 1-0.3 1 0.2 0.7 0.5 0.3 0.3 0.7-0.3 0.3-0.1 1-1.8 0.1-0.1 0.9-1.5 1 0.1 1 1 1 0.3 2-0.8 0.8 0.9 0.2 0.2 0.9 1.8 0.1 0.3 0.4 0.7 0.5 1 0.1 0.3 0.2 0.7 0.3 1 0.6 3 0.2 2 0 1 0.1 1 0 1 0.1 1 0 7-0.1 1 0 2-0.1 1 0 2-0.1 1 0 1-0.2 2 0 1-0.1 1 0 1-0.1 1 0 2-0.1 1 0 1-0.1 1 0 1-0.2 2 0 1-0.4 4 0 0.3-0.1 0.7 0 1-0.1 1 0 1-0.2 2 0 1-0.6 6 0 0.2-0.1 0.8-0.2 2 0 1-0.6 6-0.1 0.9 0 0.1-0.9 9-0.1 0.6 0 0.4-0.2 1-0.7 7-0.2 1-0.5 5-0.2 1-0.1 1-0.1 0.6 0 0.4-0.2 1-0.2 2-0.2 1-0.2 2-0.2 1 0 0.1-0.1 0.9-0.1 1-0.2 1-0.1 1-0.2 1-0.2 2-0.1 0.3-0.1 0.7-0.1 1-0.2 1-0.1 1-0.2 1-0.1 1-0.2 1 0 0.1-0.1 0.9-0.2 1-0.1 1-0.2 1-0.1 1-0.2 1-0.1 0.6-0.1 0.4-0.1 1-0.2 1-0.1 1-0.4 2-0.1 0.7 0 0.3-0.4 2-0.1 1-0.4 2-0.1 0.6-0.1 0.4-0.1 1-0.6 3-0.1 1-0.1 0.3-0.1 0.7-0.2 1-0.1 1-0.2 1-0.3 1-0.1 0.7 0 0.3-1.2 6-0.1 1-0.2 1-0.3 1-0.4 2-0.1 1-0.2 1-0.3 1-1 5-0.2 0.7-0.1 0.3-0.1 1-0.4 2-0.3 1-0.1 0.4-0.1 0.6-0.6 3-0.3 0.9 0 0.1-0.6 3-0.3 1-0.1 0.4-0.1 0.6-0.4 2-0.3 1-0.2 0.7-0.1 0.3-0.6 3-0.3 0.9 0 0.1-0.4 2-0.6 2-0.4 2-0.6 2-0.2 1-0.3 1-0.2 1-0.3 0.9 0 0.1-0.3 1-0.2 1-0.3 1-0.2 0.7-0.1 0.3-0.4 2-0.3 1-0.2 0.6-0.1 0.4-0.2 1-0.6 2-0.1 0.3-0.2 0.7-0.2 1-0.3 1-0.3 0.9 0 0.1-0.9 3-0.1 0.5-0.2 0.5-0.2 1-0.9 3-0.2 1-0.3 1-0.2 0.5-0.1 0.5-0.6 2-0.3 0.9 0 0.1-0.9 3-0.1 0.4-0.2 0.6-0.6 2-0.2 0.7-0.1 0.3-1.8 6-0.1 0.4-0.2 0.6-0.6 2-0.2 0.6-0.1 0.4-0.4 1-0.3 1-0.2 0.8-0.1 0.2-1.8 6-16.1 0 0.2-1 0.3-1 0.5-0.6 0.2-0.4 0.1-1 0.4-1 0.3-0.3 0.2-0.7 0.2-1 0.6-1 0.3-1 0.2-1 0.5-0.7 0.1-0.3 0.2-1 0.3-1 0.4-0.6 0.1-0.4 0.6-2 0.3-0.5 0.2-0.5 0.2-1 0.3-1 0.3-0.4 0.2-0.6 0.2-1 0.3-1 0.3-0.5 0.2-0.5 0.2-1 0.3-1 0.3-0.6 0.1-0.4 0.3-1 0.2-1 0.5-1 0.4-2 0.5-1 0-0.1 0.3-0.9 0.1-1 0.4-1 0.2-0.4 0.2-0.6 0.4-2 0.5-1 0.4-2 0.3-1 0.2-0.4 0.2-0.6 0.1-1 0.2-1 0.5-1 0.2-1 0.1-1 0.3-1 0.4-0.7 0.1-0.3 0.1-1 0.2-1 0.3-1 0.3-0.6 0.1-0.4 0.2-2 0.4-1 0.3-1 0.2-2 0.3-1 0-1-0.5-0.3-0.1 0.3-0.2 1-0.1 1-0.3 1-0.3 0.2-0.2 0.8-0.3 1-0.1 1-0.4 0.6-0.1 0.4-0.3 1-0.2 1-0.3 1-0.1 0.1-0.2 0.9-0.3 1-0.2 1-0.3 0.5-0.1 0.5-0.6 2-0.3 0.9 0 0.1-0.6 2-0.2 1-0.2 0.3-0.2 0.7-0.3 1-0.2 1-0.3 0.6-0.1 0.4-1.5 5-0.2 1-0.2 0.3-0.2 0.7-0.6 2-0.2 0.5-0.1 0.5-0.4 1-0.2 1-0.3 0.7-0.1 0.3-0.6 2-0.3 0.8-0.1 0.2-0.3 1-0.2 1-0.4 0.9 0 0.1-0.6 2-0.4 1-0.9 3-0.1 0.1-0.3 0.9-0.2 1-0.4 1-0.1 0.1-0.3 0.9-0.2 1-0.4 1-0.1 0.1-0.3 0.9-0.2 1-0.5 1-0.3 1-0.2 1-0.5 0.8-0.1 0.2-0.2 1-14.8 0 0.1-0.2 0.3-0.8 0.3-1 0.4-0.6 0.1-0.4 0.3-1 0.6-1.2 0.3-0.8 0.3-1 0.4-0.9 0.1-0.1 0.2-1 0.4-1 0.3-0.5 0.2-0.5 0.2-1 0.6-1.2 0.3-0.8 0.2-1 0.5-0.9 0-0.1 0.6-2 0.4-0.7 0.1-0.3 0.3-1 0.2-1 0.4-0.5 0.2-0.5 0.1-1 0.2-1 0.5-0.5 0.2-0.5 0.2-2 0.6-0.5 0.2-0.5 0-1-0.2-0.9-0.2 0.9-0.8 0.9 0 0.1-0.2 1-0.3 1-0.5 0.4-0.2 0.6-0.2 1-0.6 0.8-0.1 0.2-0.8 2-0.1 0.1-0.3 0.9-0.7 1.4-0.2 0.6-0.8 1.6-0.1 0.4-0.4 1-0.5 0.8-0.1 0.2-0.2 1-0.6 1-0.1 0.2-0.3 0.8-0.4 1-0.3 0.5-0.6 1.5-0.5 1-0.4 1-0.5 1 0 0.1-0.4 0.9-0.4 1-0.2 0.3-0.3 0.7-0.4 1-0.5 1-6.3 0 0.4-1 0.1-0.1 0.4-0.9 1.2-3 0.4-0.9 0-0.1 0.8-2 0.2-0.3 0.2-0.7 0.5-1 0.3-0.8 0.1-0.2 0.3-1 0.5-1 0.1-0.4 0.2-0.6 0.4-1 0.4-0.9 0-0.1 0.8-2 0.2-0.6 0.1-0.4 0.8-2 0.1-0.2 0.3-0.8 0.4-1 0.3-0.9 0-0.1 0.8-2 0.2-0.6 0.1-0.4 0.8-2 0.1-0.4 0.2-0.6 0.3-1 0.4-1 0.1-0.2 0.2-0.8 0.8-2 0-0.1 0.3-0.9 0.3-1 0.4-1 0.6-2 0.4-0.9 0-0.1 0.6-2 0.4-1 0.6-2 0.4-1 0-0.1 0.2-0.9 0.3-1 0.4-1 0.1-0.3 0.2-0.7 0.6-2 0.4-1 0.2-1 0.3-1 0.3-0.8 0.1-0.2 0.2-1 0.3-1 0.4-1 0-0.1 0.2-0.9 0.6-2 0.2-0.5 0.1-0.5 0.3-1 0.2-1 0.4-1 0-0.1 0.2-0.9 0.6-2 0.2-0.6 0.1-0.4 0.2-1 0.6-2 0.1-0.3 0.2-0.7 0.4-2 0.4-1 0-0.1 0.2-0.9 0.2-1 0.6-2 0.2-1 0.3-1 0.2-1 0.3-1 0.4-2 0.6-2 0.6-3 0.3-1 0.1-0.2 0.2-0.8 0.4-2-0.6-0.5-0.6 0.5-0.4 0.3-1 1-0.5 0.7-0.1 1-0.8 1-0.6 0.8-0.6 0.2-0.2 1-0.1 1-0.1 0.2-0.3 0.8-0.3 1-0.2 1-0.1 1-0.1 0.3-0.3 0.7-0.3 1-0.1 1-0.2 1-0.1 0.3-0.3 0.7-0.3 1-0.1 1-0.2 1-0.5 1-0.6 3-0.4 1-0.3 1-0.1 1-0.2 0.6-0.2 0.4-0.4 1-0.1 1-0.2 1-0.5 1-0.4 2-0.2 0.7-0.2 0.3-0.4 1-0.1 1-0.3 1 0 0.1-0.5 0.9-0.4 2-0.1 0.4-0.4 0.6-0.4 2-0.2 0.7-0.2 0.3-0.4 1-0.2 1-0.2 0.9-0.1 0.1-0.5 1-0.4 2 0 0.1-0.6 0.9-0.1 1-0.2 1-0.1 0.2-0.6 0.8-0.1 1-0.2 1-0.1 0.2-0.6 0.8-0.2 1-0.1 1-0.1 0.2-0.6 0.8-0.4 2 0 0.1-0.7 0.9-0.1 1-0.2 1-0.1 0-0.7 1 0 1-0.2 0.7-0.6-0.7 0.4-1 0.1-1 0.1-0.4 0.8-1.6 0.1-1 0.1-0.8 0.6-1.2 0.4-2 0-0.2 0.5-0.8 0.4-2 0.1-0.4 0.4-0.6 0.4-2 0.2-0.7 0.2-0.3 0.3-1 0.2-1 0.3-1 0-0.1 0.4-0.9 0.1-1 0.3-1 0.2-0.6 0.2-0.4 0.2-1 1.5-5 0.1-0.5 0.2-0.5 0.2-1 1.5-5 0.1-0.5 0.2-0.5 0.2-1 0.6-2 0-0.1 0.3-0.9 0.3-1 0.2-1 0.2-0.7 0.1-0.3 0.6-2 0.2-1 0.1-0.3 0.2-0.7 0.6-2 0.2-1 0.6-2 0.2-1 0.2-0.7 0.1-0.3 0.3-1 0.2-1 0.3-1 0.1-0.5 0.2-0.5 0.2-1-1.4-0.7-0.7 0.7-0.3 0.2-0.7 0.8-0.3 0.3-0.8 0.7-0.2 0.2-0.5-0.2 0.2-2 1.2-6 0.1-1 0-0.2 0.1-0.8 0.3-1 0.3-3 0.2-1 0.1-1 0.2-1 0.1-1 0.2-1 0.1-1 0.4-2 0-0.1 0.2-0.9 0.8-4 0-0.1 0.2-0.9 0.2-1 0.1-1 0.2-1 0.2-2 0.2-1 0.2-2 0.2-1 0.2-2 0.3-1 0.4-2 0.4-4 0.2-1 0-1-0.1-1-0.9-0.6-0.1 0.6-0.3 1-0.6 1.2-0.1 0.8-0.4 2-0.3 1-0.2 0.7-0.1 0.3-0.2 2-0.4 2-0.3 0.7-0.1 0.3-0.6 3-0.3 0.9 0 0.1-0.2 1-0.3 1-0.1 1-0.3 1-0.1 0.4-0.1 0.6-0.3 1-0.1 1-0.3 1-0.2 0.8 0 0.2-0.3 1-0.2 1-0.3 1-0.2 0.8-0.1 0.2-0.2 1-0.6 2-0.1 0.3-0.2 0.7-0.2 1-0.3 1-0.3 0.9 0 0.1-0.6 2-0.2 1-0.2 0.5-0.1 0.5-0.6 2-0.2 1-0.1 0.2-0.2 0.8-0.6 2-0.2 0.7-0.1 0.3-0.3 1-0.2 1-0.3 1-0.1 0.2-0.3 0.8-0.2 1-0.3 1-0.2 0.6-0.1 0.4-0.6 2-0.3 0.9 0 0.1-1 0.9-0.1 0.1-0.9 3 0 0.1-0.3 0.9-0.6 2-0.1 0.3-0.2 0.7-0.6 2-0.4 1-0.6 2-0.2 0.6-0.2 0.4-0.6 2-0.2 0.7-0.1 0.3-0.4 1-0.3 1-0.2 0.7-0.1 0.3-0.4 1-0.3 1-0.2 0.7-0.2 0.3-0.6 2-0.2 0.6-0.2 0.4-0.4 1-0.3 1-0.1 0.4-0.3 0.6-0.4 1-0.2 1-0.1 0.3-0.4 0.7-0.6 2 0 0.1-0.5 0.9-0.3 1-0.2 0.7-0.1 0.3-0.5 1-0.3 1-0.1 0.4-0.3 0.6-0.4 1-0.3 1-0.8 2-0.2 0.7-0.1 0.3-0.5 1-0.3 1-0.1 0.2-0.3 0.8-0.4 1-0.3 0.8-0.1 0.2-0.8 2-0.1 0.4-0.2 0.6-0.5 1-0.3 0.9 0 0.1-0.5 1-0.4 1-0.1 0.4-0.2 0.6-0.5 1-0.3 0.9 0 0.1-0.5 1-0.4 1-0.1 0.4-0.3 0.6-0.4 1-0.3 0.8-0.1 0.2-0.8 2-0.1 0.2-0.3 0.8-0.5 1-0.2 0.7-0.1 0.3-0.5 1-0.4 1-0.5 1-0.4 1-0.1 0.4-0.3 0.6-0.4 1-0.3 0.7-0.1 0.3-0.5 1-0.4 1-0.5 1-7.3 0 0.4-1 0.4-0.9 0.1-0.1 0.8-2 0.1-0.3 0.3-0.7 0.4-1 0.3-0.8 0.1-0.2 0.8-2 0.1-0.4 0.3-0.6 0.4-1 0.3-1 0.8-2 0.2-0.6 0.2-0.4 0.4-1 0.3-1 0.1-0.2 0.3-0.8 0.4-1 0.3-0.9 0-0.1 0.8-2 0.2-0.7 0.1-0.3 0.4-1 0.3-1 0.8-2 0.3-1 0.1-0.3 0.2-0.7 0.4-1 0.3-1 0.1-0.2 0.3-0.8 0.4-1 0.3-1 0-0.1 0.3-0.9 0.4-1-1-1 0.3-0.8 0.1-0.2 0.6-2 0.3-0.8 0.1-0.2 0.6-2 0.3-0.8 0.1-0.2 0.9-3 0.4-1 1.5-1 0.1-0.3 0.2-0.7 0.4-1 0.3-1 0.1-0.6 0.1-0.4 0.4-1 0.3-1 0.2-0.9 0-0.1 0.4-1 0.6-2 0-0.1 0.3-0.9 0.6-2 0.1-0.5 0.2-0.5 0.6-2 0.2-0.8 0.1-0.2 0.3-1 0.2-1 0.3-1 0.1-0.3 0.3-0.7 0.2-1 0.3-1 0.2-0.8 0.1-0.2-0.1-0.1-0.6-0.9 0.4-2 0.2-0.6 0.1-0.4 0.4-2 0.3-1 0.2-0.7 0.1-0.3 0.6-3 0.3-0.9 0-0.1 0.8-4 0.2-0.7 0-0.3 0.8-4 0.2-0.7 0.1-0.3 0.3-3 0.4-2-0.1-1-0.2-1-0.5-0.8-1.8 1.8-0.2 0.6-0.4-0.6-0.4-2-0.1-1-0.1-0.8 0-0.2-0.4-1-0.6-1-1 0.9 0 0.1-0.4 1-0.6 0.9 0 0.1-0.8 2-0.2 0.4-0.1 0.6-0.3 1-0.4 1-0.2 0.9 0 0.1-0.6 3-0.3 1-0.1 0.2-0.2 0.8-0.4 1-0.3 1-0.1 0.3-0.2 0.7-0.6 2-0.2 0.5-0.1 0.5-0.3 1-0.5 1-0.1 0.4-0.1 0.6-0.4 1-0.5 1 0 0.1-0.2 0.9-0.3 1-0.5 1-0.2 1-0.3 1-0.4 1-0.1 0.2-0.2 0.8-0.2 1-0.4 1-0.2 0.4-0.2 0.6-0.2 1-0.6 1.2-0.3 0.8-0.3 1-0.4 0.7-0.1 0.3-0.4 1-0.5 1-1 0.3-1 0.2-0.5 0.5-0.5 0.6-1 0.2-0.3 0.2-0.4 1-0.3 0.4-0.2 0.6-0.3 1-0.5 0.9 0 0.1-0.3 1-0.4 1-0.3 0.5-0.2 0.5-0.3 1-0.5 1 0.5 1 0.5 0.6 1 0 1 0.2 0.1 0.2 0.9 0.9 1 0 1-0.1 1 1 1 0.1 0.3 0.1 0 1-0.2 2-0.1 0.5-0.2 0.5-0.5 1-0.3 1-1.2 3-0.5 1-0.3 0.9-0.1 0.1-0.8 2-0.1 0.3-0.3 0.7-0.5 1-0.2 0.6-0.2 0.4-0.4 1-0.4 0.9 0 0.1-0.5 1-0.4 1-0.5 1-0.6 1.5-0.3 0.5-0.4 1-0.3 0.7-0.2 0.3-0.4 1-1 2-0.4 0.9-0.1 0.1-0.5 1-0.4 0.9-0.1 0.1-0.8 1-0.1 0.1-0.8 0.9-0.1 1-0.1 0.1-0.8 0.9-0.2 0.2-0.7 0.8-0.3 0.3-0.6 0.7-0.4 0.4-0.5 0.6-1 1-0.1 1-0.4 0.5-1.5 1.5-0.5 0.6-0.5 0.4-0.5 0.6-0.5 0.4 0 1-3 3-0.5 0.4-1.6 1.6-2.2 0 0.6-1 1-2 0.2-0.3 0.4-0.7 2-4 0.4-1 0.2-0.3 0.3-0.7 0.5-1 0.8-2 0.4-0.9 0.1-0.1 0.8-2 0.1-0.3 0.3-0.7 0.3-1 0.4-1 0.3-1-0.3-0.5-0.4 0.5-0.6 0.9 0 0.1-0.8 1-0.2 0.4-0.2 0.6-0.8 0.9 0 0.1-0.3 1-0.7 0.8-0.1 0.2-0.3 1-0.6 0.6-0.2 0.4-0.4 1-0.4 0.4-0.3 0.6-0.6 1-0.5 1-0.6 0.9-0.1 0.1-0.5 1-0.4 0.6-0.7 1.4-0.3 0.3-0.4 0.7-0.5 1-0.1 0.1-0.6 0.9-0.5 1-142.2 0-0.7-0.5-0.6-0.5-0.4-0.3-2-1.4-0.4-0.3-0.6-0.4-0.8-0.6-0.2-0.1-1-0.7-0.2-0.2-0.8-0.6-0.6-0.4-0.4-0.3-2-1.4-0.4-0.3-0.6-0.4-0.8-0.6-0.2-0.2-1-0.7-0.2-0.1-0.8-0.6-0.6-0.4-0.4-0.3-1-0.7-1-0.8-0.3-0.2-1.4-1-0.3-0.2-1-0.7-0.1-0.1-0.9-0.7-0.5-0.3-0.5-0.4-0.9-0.6-0.1-0.1-1-0.7-0.2-0.2-0.8-0.5-0.6-0.5-0.4-0.3-2-1.4-0.4-0.3-0.6-0.5-0.8-0.5-0.2-0.2-1-0.7-0.2-0.1-0.8-0.6-0.6-0.4-0.4-0.3-0.9-0.7-0.1 0-1-0.8-0.3-0.2-1.4-1-0.3-0.2-1-0.7-0.1-0.1-0.9-0.6-1-0.8-0.9-0.6-0.1-0.1-1-0.7-0.3-0.2-1.4-1-0.3-0.2-1-0.8-0.1 0-0.9-0.7-0.5-0.3-0.5-0.4-0.9-0.6-0.1-0.1-1-0.7-0.3-0.2-1.4-1-0.3-0.2-1-0.7-0.1-0.1-0.9-0.6-1-0.8-0.9-0.6-0.1-0.1-1-0.7-0.3-0.2-1.4-1-0.3-0.2-1-0.7-0.1-0.1-0.9-0.6-1-0.8-0.8-0.6-0.4-1 0.2-0.1 1-0.2 1-0.3 3-0.3 0.6-0.1 0.4 0 1-0.1 3 0 1-0.1 7 0 1-0.1 13 0 1-0.1 12 0 1-0.1 13 0 1-0.1 19 0 1-0.1 72 0 0.2-0.3 0-8-0.1-1 0-15-0.1-0.1-0.8-0.9 0-4-0.1-1 0-17-0.1-1 0-1.1-0.8-0.9 0-2-0.1-1 0-14-0.1-1 0-6.1-0.9-0.9 0-17-0.1-1 0-6.1-0.9-0.9 0-17-0.1-1 0-6.1-0.9-0.9 0-19-0.1-1 0-3.3-0.5-0.7-1.5-0.6-0.5-0.4-0.5-0.1-1 0-0.9 0.1-0.1 0.1-1 0.3-1 0.1-2-0.2-0.5-0.3-0.5-0.1-1-0.1-1 0.1-0.4 0.1-0.6 0.6-1 0.1-1-0.2-1-0.3-0.2-0.2-0.8-0.2-1-0.4-1 0-1 0.4-0.3 0.2-0.7 0.7-0.8 0.3-0.2 0.2-1 0.3-1-0.3-0.2-0.2-0.8-0.3-1-0.6-0.1-0.1-0.9-0.2-1-0.1-1 0.1-1 0-1-0.1-1-0.2-1-0.1-1 0.4-0.4 0.2-0.6 0.5-1 0.2-2-0.6-1 0-1 0.2-1 0.3-1 0.2-1 0.1-1-0.2-0.7-0.7-0.3-0.2-1-0.8-1-0.2-0.5 0.2-0.5 0.5-1 0.3-4 0-2-0.2-1 0.1-1 0.2-0.6 0.1-0.4 0.3-0.4-0.3-0.6-0.2-1-0.3-1 0.1-0.9 0.4-0.1 0.1-1 0.6-1 0.1-1-0.2-0.6-0.6-0.4-0.1-0.9 0.1-0.1 0.1-1 0.6-0.7 0.3-0.3 0.3-1 0.1-1-0.1-1 0.4-0.7 0.3-0.3 0.3-1 0-0.3-0.3-0.7-0.4-0.6-0.6-0.4-0.2-1 0.2-1 0.3-0.4-0.3-0.6-0.2-1-0.1-1 0.1-1-0.2-0.7-0.6-0.3-0.1-1-0.1-0.3 0.2-0.7 0.6-0.9 0.4-0.1 0.1-1 0-1 0.2-1 0.6-0.5 0.1-0.5 0.5-1 0.2-0.6 0.3-0.4 0.4-0.9 0.6-0.1 0.1-1 0.3-0.4-0.4-0.6-0.2-1 0-0.4 0.2-0.6 0.6-1 0.1-1-0.1-1 0.1-0.6 0.3-0.4 0.4-1 0.3-2 0-0.8 0.3-0.2 0.2-1 0.5-0.9 0.3-0.1 0.1-0.1-0.1-0.9-0.2-1-0.1-1 0.1-0.8 0.2-0.2 0.2-1-0.1-0.1-0.1-0.9-0.3-1 0-1 0.1-1 1-0.4 0.2-0.6 0.6-1 0.1-1-0.1-1 0-0.9 0.4-0.1 0.1-1 0.7-1 1-1 0-1-0.2-1-0.1-1 0.1-1-0.1-1 0.1-1 0.2-0.8 0.2-0.2 0.2-0.2-0.2-0.8-0.2-1 0-0.3 0.2-0.7 0.7-0.6 0.3-0.4 0.4-1 0-0.4-0.4-0.6-0.2-1 0-0.6 0.2-0.4 0.4-0.7 0.6-0.3 0.3-1 0.5-1 0-1-0.5-0.3-0.3-0.7-0.3-1 0-0.6 0.3-0.4 0.4-1 0.4-2 0-1-0.1-0.6 0.3-0.4 0.4-1 0.4-1 0-1-0.1-1 0.1-0.5 0.2-0.5 0.5-0.6 0.5-0.4 0.4-1 0.3-1 0-1-0.7-1-0.4-1-0.2-1-0.1-0.6-0.3-0.4-0.1-1-0.3-1-0.6-0.1 0-0.9-0.3-1 0-0.9 0.3-0.1 0.1-1 0.3-1-0.3-0.2-0.1 0.1-1 0.1-0.2 0.3-0.8 0.6-1 0.1-0.3 0.3-0.7 0.4-1 0.3-0.6 0.1-0.4 0.5-1 0.4-1 0.5-1 0.5-0.8 0.1-0.2 0.7-1 0.2-0.3 0.5-0.7 0.5-0.6 0.3-0.4 0.7-0.8 0.2-0.2 0.8-0.9 0.1-0.1 0.9-1 1-0.9 0.2-0.1 0.8-0.3 1-0.2 1-0.5 1-0.9 0.1-0.1 0.8-1 0.1-0.1 0.6-0.9-0.6-0.9-0.1-0.1-0.7-1-0.2-0.4-0.4-0.6-1.2-2-1-2-0.4-1 0-0.1-0.3-0.9-0.3-1-0.2-2 0-1 0.2-1 0.4-1 0.2-0.3 0.5-0.7 0.5-0.5 0.7-0.5 0.3-0.2 1-0.5 0.8-0.3 0.2-0.1 2-0.6 0.8-0.3 0.2 0 4-1.6 0.7-0.4 0.3-0.2 1-0.5 2-1.2 0.1-0.1 0.9-0.6 0.5-0.4 0.5-0.3 0.9-0.7 0.1-0.1 1-0.7 0.2-0.2 0.8-0.6 1-0.8 0.7-0.6 1.3-1.3 0.6-0.7 0.4-0.4 0.4-0.6 0.6-0.8 0.2-0.2 0.6-1 0.2-0.3 0.4-0.7 0.6-0.9 0-0.1 0.7-1 0.3-0.4 1-1.2 0.5-0.4 0.5-0.5 0.6-0.5 0.4-0.3 2-1.4 1-0.6 0.9-0.7 0.1-0.1 1-0.9 0.9-1 0.1-0.1 0.7-0.9 1.2-2 0.1-0.1 1-1.8 0.1-0.1 0.6-1 0.3-0.4 0.4-0.6 0.6-0.7 0.3-0.3 0.7-0.6 0.6-0.4 0.4-0.3 1-0.4 0.8-0.3 0.2-0.1 2-0.6 1-0.2 0.3-0.1 0.7-0.3 1-0.3 1-0.4 1-0.8 0.2-0.2-0.1-1-0.1-0.1-0.8-0.9 0.8-0.1 1-0.1 1-0.2 0.4-0.6 0.1-1-0.5-0.1-3-0.9-0.1 0-0.9-0.2-2-0.6-0.5-0.2-0.5-0.1-2-0.6-0.8-0.3-0.2-0.1-1-0.2-2-0.6-0.2-0.1-0.8-0.2-1-0.3-2-0.4-0.2-0.1-0.8-0.2-3-0.6-0.5-0.2-0.5-0.1-2-0.8-2-1-0.1-0.1-0.9-0.5-0.7-0.5-0.3-0.2-1-0.7-0.1-0.1-0.9-0.6-1-0.8-0.8-0.6-0.2-0.2-2-1.6-0.2-0.2-0.8-0.7-0.3-0.3-0.7-0.6-0.5-0.4-0.5-0.5-0.6-0.5-0.4-0.4-0.7-0.6-0.3-0.3-0.8-0.7-1.2-1.2-0.9-0.8-2.1-2.1-0.8-0.9-0.2-0.2-0.7-0.8-0.3-0.4-0.5-0.6-0.5-0.7-0.2-0.3-0.6-1-0.2-0.3-0.4-0.7-0.6-1.2-0.5-0.8-0.5-1 0-0.1-0.5-0.9-0.5-0.8-0.1-0.2-1.8-3-0.1-0.1-1-1.5-0.3-0.4-0.6-1-0.1-0.1-1-1.5-0.3-0.4-0.6-1-0.1-0.2-0.6-0.8-0.4-0.7-0.2-0.3-0.6-1-0.2-0.2-1-1.6-0.1-0.2-1.8-3-0.1-0.1-0.5-0.9-0.5-0.8-0.1-0.2-0.9-1.5-0.4-0.5-0.6-1-0.8-1-0.2-0.4-0.5-0.6-0.5-0.8-0.1-0.2-1.8-3-0.1-0.2-0.7-0.8-0.3-0.3-1-0.4-1 0.4-1 1-0.2 0.3-0.6 1-0.4 1-0.2 1-0.1 1 0 4-0.1 1-0.2 1-0.1 1-0.1 0.4-0.1 0.6-0.1 1-0.6 3-0.1 1 0 1 0.3 1 0.6 1 0.8 2 0.2 0.8 0.1 0.2 0.2 1 0.1 1 0 1-0.2 2-0.2 0.8 0 0.2-0.4 1-0.3 1-0.3 0.7-0.2 0.3-0.7 1-0.1 0.1-1-0.1-0.3-1-0.4-1-0.3-0.4-0.3-0.6-0.7-0.8-0.1-0.2-0.9-0.6-0.7-0.4-0.3-0.1-1-0.4-1-0.3-0.6-0.2-0.4-0.1-1-0.3-1 0-1 0.5-1 0.9-1 0.5-1-0.1-0.7-0.4-0.3-0.2-1-0.8-0.8-1-0.5-1-0.2-1-0.1-1 0-1 0.1-1 0-1 0.3-3 0-1-0.2-1-0.4-1-0.2-0.4-0.5-0.6-0.5-0.7-0.2-0.3-0.7-1-0.1-0.1-0.5-0.9-0.3-1-0.1-1 0.1-1 0.3-1 0.5-0.7 0.2-0.3 1.6-2 0.5-1 0.2-1-0.1-1-0.2-1-0.4-1-0.4-2-0.1-1 0-2 0.3-1 0.4-0.8 0.2-0.2 0.8-0.6 0.5-0.4 0.5-0.3 0.9-0.7 0.1-0.1 0.5-0.9 0.2-1-0.2-2-0.4-2-0.1-0.9 0-0.1-0.2-1-0.1-1 0-1 0.4-2 0.3-1 0.2-1 0.3-1 0.1-0.6 0.1-0.4 0.2-1 0.1-1 0.3-1 0.3-0.8 0.2-0.2 0.8-0.7 1-0.1 1 0.2 1 0.1 0.6-0.5 0.4-0.5 0.6-1.5 0.5-1 0.7-1 0.2-0.2 1-0.7 0.3-0.1 0.7-0.3 1-0.1 1 0 1 0.2 1 0.4 1 0.6 1-0.4 0.1-0.4 0.1-1zM542 557.3l-0.2 0.7 0 1 0.2 1 0.1-1 0.2-1zM199 289.9l-0.3 0.1-0.7 0.3-0.8 0.7-0.2 0.2-0.5 0.8-0.3 1 0 1 0.5 1 0.3 0.4 0.6 0.6 0.4 0.3 0.9 0.7 0.1 0 1 0.4 1-0.2 1-1 0.1-0.2 0.4-1 0.2-1 0.2-2-0.1-1-0.4-1-0.4-0.4-1-0.1-1 0.2zM201 265.8l-0.2 0.2-0.4 1-0.2 1 0 1 0.1 1 0.2 1 0.3 1 0.2 0.4 0.5 0.6 0.5 0.5 1 0.4 1-0.4 0.4-0.5 0.6-1 0-0.1 0.3-0.9 0.1-1 0-1-0.2-1-0.2-0.4-0.4-0.6-0.6-0.5-1-0.5-0.1 0-0.9-0.3zM207 280.8l-0.5 0.2-0.5 0.3-0.4 0.7-0.6 1 0 0.1-0.2 0.9-0.2 1 0 1 0.4 0.8 1 0.2 1-0.4 1-0.6 0.7-1 0.2-1 0-1-0.4-1-0.5-0.8-0.5-0.2zM195.4 342l0.6-0.2 1-0.1 1 0.2 0.3 0.1 0.7 0.9 0.1 0.1 0.1 1-0.2 1-0.4 1-0.6 0.7-0.5 0.3-0.5 0.2-1 0-0.4-0.2-0.6-0.4-0.5-0.6-0.5-0.9 0-0.1-0.2-1 0.2-0.6 0.1-0.4 0.9-0.8zM167 344l0-0.1 1-0.3 0.1 0.4 0.4 1 0.3 1 0.2 0.6 0.1 0.4 0.4 2 0.3 1 0.2 0.4 0.2 0.6 0.4 1 0.3 1 0.1 0.3 0.2 0.7 0.3 1 0.2 1 0.1 1 0 3-0.1 1-0.4 2-0.3 0.8-0.3 0.2-0.7 0.4-1-0.4-0.1 0-0.9-0.3-0.7 0.3-0.3 0.4-0.3 0.6-0.3 1-0.4 0.7-0.5-0.7-0.5-0.9 0-0.1-0.3-3-0.2-1-0.2-2 0-1 0.3-3 0.3-1 0.1-0.6 0.1-0.4 0.2-1 0.3-1 0.2-1 0.1-1 0.1-0.8 0-0.2 0.2-1 0.1-1 0.3-1zM167.7 371l0.3-0.3 1-0.2 0.9 0.5 0.1 0.1 0.6 0.9 0.3 1 0.1 0.2 0.2 0.8 0.2 1 0.1 1 0.2 1 0.2 2 0.1 0.4 0.1 0.6 0.2 2 0 4-0.1 1 0 1-0.3 3-0.4 2-0.3 1-0.2 0.6-0.2 0.4-0.3 1-0.2 1 0.1 1 0.2 1 0.1 1 0 1-0.1 1-0.2 1-0.4 0.9 0 0.1-0.7 1-0.3 0.5-0.6 0.5-0.4 0.4-1-0.1-0.2-0.3-0.5-1-0.3-0.7-0.1-0.3-0.6-2-0.2-1-0.1-0.9 0-0.2 0.1-0.9 0.4-1 0.5-0.6 0.4-0.4 0.6-0.8 0.1-0.2 0.1-1-0.2-1 0-0.1-0.3-0.9-0.4-2-0.2-2 0-1-0.1-1 0-1-0.1-1-0.4-2-0.2-2 0-1 0.1-1 0.8-4 0.3-1 0.2-1 0.3-0.8 0.1-0.2zM184.6 411l0.4-0.3 1 0 0.4 0.3 0 1-0.4 0.3-1 0.1-0.6-0.4zM576 485l0-0.1 0 0.1 0.3 1 0 1-0.3 3 0 0.6-0.1 0.4-0.1 1 0 1-0.6 6 0 1-0.2 1 0 0.2-0.1 0.8-0.4 4 0 1-0.2 1-0.1 1-0.2 0.9 0 0.1-0.1 1 0 1-0.1 1 0 1-0.3 3 0 1-0.2 2-0.2 1-0.1 1 0 1-0.1 1 0 1-0.1 1-0.3 1-0.1 1-0.2 1-0.1 1 0 1-0.1 0.4-0.1 0.6-0.3 1-0.2 1-0.2 2-0.2 1-0.3 1-0.4 2-0.1 1-0.2 1 0 0.1-0.2 0.9-0.3 1-0.1 1-0.4 2-0.3 1-0.6 3-0.1 0.7-0.1 0.3-0.6 3-0.3 1 0 0.2-0.2 0.8-0.3 1-0.6 3-0.3 1-0.4 2-0.2 0.7-0.1 0.3-0.2 1-0.3 1-0.2 1-0.2 0.8-0.1 0.2-0.2 1-0.3 1-0.2 1-0.2 0.8-0.1 0.2-0.2 1-0.3 1-0.2 1-0.2 0.7-0.1 0.3-0.3 1-0.4 2-0.2 0.6-0.1 0.4-0.6 2-0.2 1-0.1 0.3-0.2 0.7-0.3 1-0.2 1-0.3 0.9 0 0.1-0.6 2-0.2 1-0.4 1-0.2 1-0.6 2 0 0.1-0.3 0.9-0.3 1-0.2 1-0.4 1-0.3 1-0.2 1-0.3 0.9 0 0.1-0.9 3-0.1 0.2-0.2 0.8-0.6 2-0.4 1-0.6 2-0.2 0.8-0.1 0.2-1.2 4-0.4 1-0.3 1 0 0.1-0.3 0.9-0.6 2-0.1 0.2-0.3 0.8-0.3 1-6 0 0.3-1 0.3-0.7 0.1-0.3 0.6-2 0.3-0.9 0-0.1 0.6-2 0.4-1 0-0.1 0.3-0.9 0.6-2 0.1-0.3 0.2-0.7 0.6-2 0.2-0.5 0.1-0.5 0.6-2 0.3-0.8 0.1-0.2 0.2-1 0.6-2 0.1-0.2 0.2-0.8 0.6-2 0.2-0.6 0.1-0.4 0.3-1 0.2-1 0.4-1 0.3-1 0.2-1 0.3-1 0.2-0.5 0.1-0.5 0.3-1 0.2-1 0.4-1 0-0.1 0.3-0.9 0.4-2 0.3-0.7 0.1-0.3 0.2-1 0.3-1 0.2-1 0.2-0.4 0.2-0.6 0.4-2 0.3-1 0.1-0.2 0.2-0.8 0.2-1 0.9-3 0.4-2 0.3-0.9 0-0.1 0.3-1 0.4-2 0.3-0.8 0-0.2 0.3-1 0.4-2 0.3-0.9 0-0.1 0.3-1 0.4-2 0.3-1 0.4-2 0.3-1 0.2-1 0.1-0.2 0.2-0.8 0.4-2 0.3-1 0.6-3 0.3-1 0.2-0.9 0-0.1 0.3-1 0.6-3 0.1-0.4 0.2-0.6 0.2-1 0.1-1 0.3-1 0.2-0.9 0-0.1 0.3-1 0.1-1 0.4-2 0.2-0.7 0.1-0.3 0.8-4 0.1-0.4 0.1-0.6 0.3-1 0.1-1 0.4-2 0.1-0.4 0.2-0.6 0.4-2 0.1-1 0.2-1 0.1-0.4 0.2-0.6 0.4-2 0.1-1 0.2-1 0.1-0.7 0.1-0.3 0.3-1 0.1-1 0.2-1 0.1-1 0.2-1 0.3-1 0.4-2 0.2-2 0.1-0.4 0.2-0.6 0.3-1 0.2-1 0.2-2 0.1-0.7 0.1-0.3 0.3-1 0.4-2 0.1-1 0.1-0.5 0.5-0.5 0.1-1 0-1 0.2-1zM494.7 527l0.3-0.6 0.6 0.6-0.3 1-0.2 1-0.1 0.4-0.4 0.6-0.2 1-0.4 0.8-0.6-0.8 0.2-1 0.3-1 0.1-0.3 0.4-0.7zM503.9 595l0.1-0.9 0.2 0.9 0 1-0.2 0.6-0.5-0.6zM568.9 619l0.1-0.9 0.1 0.9-0.1 1 0 1.1-0.4 0.9-0.3 1-1 0 0.6-2 0.1-0.3 0.8-0.7zM493.9 622l0.1-0.3 1 0.3-0.8 1-0.4 0z"/>
<path fill="#50ffa7" d="M196.6 273l0.4-0.5 0.9 0.5 0.1 0 0.7 1 0.3 0.3 0.5 0.7 0.5 0.6 0.3 0.4 0.7 0.9 0.1 0.1 0.7 1 0.2 0.6 0.2 0.4 0.1 1 0 1-0.3 1.5-0.6 1.5-0.4 0.8-0.2 0.2-0.8 0.6-1-0.1-0.4-0.5-0.6-0.8-0.6-1.2-0.4-0.6-0.2-0.4-0.8-2-0.4-2 0-2 0.1-1 0.2-1 0.1-0.2zM217 281l1-0.3 1 0.3 1 0.7 0.4 0.3 0.6 0.5 0.1 0.5 0.9 0.8 0.1 0.2 0.4 1 1.5 1.5 0.4 0.5 1 1 0.4 1 0.2 0.2 0.7 0.8 0.3 0.3 0.6 0.7 0.4 0.4 0.5 0.6 0.5 0.5 0.4 0.5 0.6 0.6 0.3 0.4 0.7 0.7 0.2 0.3 0.8 0.9 0.1 0.1 0.9 1 0.7 1 0.6 1 0.7 1 0.6 1 0.4 0.6 0.3 0.4 0.6 1 0.5 1 0.6 1 0 0.1 0.5 0.9 0.4 1 0.1 0.3 0.3 0.7 0.4 1 0.3 0.8 1.1 2.2 0.6 1 0.3 0.4 1 1.5 0 0.1 0.6 1 0.4 0.6 0.7 1.4 0.3 0.7 0.1 0.3 0.8 2 0.1 0.2 0.3 0.8 0.4 1 1.5 3 0.7 1 0.1 0.2 0.6 0.8 0.8 1 1.6 1.6 1 0.8 0.7 0.6 0.3 0.2 1 0.7 0.1 0.1 0.9 0.6 0.7 0.4 0.3 0.2 2 1 1 0.4 0.9 0.4 0.1 0 1 0.4 1 0.3 1 0.2 0.2 0.1 0.8 0.2 2 0.6 0.9 0.2 0.1 0 2 0.6 1 0.4 0.1 0 0.9 0.3 1 0.4 0.9 0.3 0.1 0 2 0.8 0.3 0.2 0.7 0.3 3 1.5 0.3 0.2 0.7 0.4 1 0.6 0.1 0 1.5 1 0.4 0.2 1 0.7 0.2 0.1 0.8 0.6 0.6 0.4 0.4 0.4 0.8 0.6 0.2 0.2 0.9 0.8 0.1 0.1 0.8 0.9 0.2 0.8 0.1 0.2-0.1 0.1-1 0.8-0.2 0.1-0.8 0.1-1 0.1-1 0-1-0.1-0.8-0.1-0.2 0-1-0.2-1-0.1-2-0.4-1-0.3-0.2 0-0.8-0.2-2-0.6-0.7-0.2-0.3-0.1-2-0.6-0.8-0.3-0.2-0.1-1-0.3-1-0.4-0.7-0.2-0.3-0.1-1-0.4-1-0.3-1-0.4-2-0.6-1-0.4-2-0.6-0.4-0.2-0.6-0.2-2-0.8-0.1 0-0.9-0.4-1-0.5-0.3-0.1-0.7-0.4-2-1.2-0.5-0.4-0.5-0.3-0.9-0.7-0.1-0.1-1-0.8-2.1-2.1-0.9-1-0.7-1-0.3-0.4-1-1.5-0.1-0.1-0.5-1-0.4-0.7-0.1-0.3-0.5-1-0.4-0.6-0.2-0.4-0.6-1-0.2-0.4-1-1.5-0.1-0.1-0.7-1-0.2-0.2-0.6-0.8-0.8-1-0.6-0.8-0.2-0.2-1.6-2-0.2-0.3-0.5-0.7-0.5-0.6-0.3-0.4-0.7-0.9-0.1-0.1-0.7-1-0.2-0.3-1-1.4-0.2-0.3-0.7-1-0.1-0.1-0.6-0.9-0.4-0.5-0.3-0.5-0.7-1 0-0.1-1-1.5-0.2-0.4-0.7-1-0.1-0.2-0.5-0.8-0.5-0.9-0.1-0.1-0.6-1-0.5-1-0.6-1-0.2-0.4-0.4-0.6-1-2-0.6-1 0-0.1-1-1.8 0-0.1-0.6-1-0.4-0.9-0.1-0.1-0.5-1-0.4-0.9 0-0.1-0.5-1-0.4-1-0.1-0.2-0.3-0.8-0.4-1-0.3-0.9-0.1-0.1-0.2-1-0.3-1-0.1-1 0-1 0.1-1zM193.7 299l0.3-0.4 1-0.5 1 0 1 0.5 0.6 0.4 0.4 0.3 0.9 0.7 0.1 0.1 1 0.5 1 0 1-0.4 1-0.5 1-0.3 0.9 0.6 0.1 0.1 0.4 0.9 0.3 1 0.2 1 0.1 0.7 0 1.4-0.2 0.9-0.5 1-0.3 0.4-1.2 0.6-0.8 0.3-1 0.4-0.5 0.3-0.5 0.6-0.2 0.4-0.2 1 0 2 0.1 1 0 1-0.1 1-0.3 1-0.3 0.3-1 0.2-2 0.2-0.9 0.3-0.1 0-1 0.2-0.3-0.2-0.7-0.8-0.1-0.2-0.1-1 0-1 0.2-2 0-0.2 0.1-0.8 0.1-1 0-1-0.1-1-0.1-0.3-0.2-0.7-0.6-1-0.2-0.3-0.4-0.7-0.6-1 0-0.1-0.3-0.9 0-1 0.2-1 0.1-0.2 0.3-0.8 0.6-1 0.1-0.1zM362.6 349l0.4-0.1 0.3 0.1 0.7 0.2 0.7 0.8 0.3 0.3 0.5 0.7 0.5 0.9 0.1 0.1 0.9 1.5 0.4 0.5 0.6 0.9 0 0.1 0.8 1 0.2 0.2 0.7 0.8 0.3 0.4 1 1 0.9 0.6 0.1 0 1 0.1 0.1-0.1 0.9-0.5 0.7-0.5 0.3-0.2 1-0.6 0.8-0.2 0.2-0.1 2-0.2 1-0.3 0.5-0.4 0.5-0.5 0.3-0.5 0.7-0.9 0.1-0.1 0.6-1 0.3-0.4 1-1.2 0.7-0.4 0.3-0.2 1 0 1 0.4 0.9 0.8 0.1 0.1 0.8 0.9 0.2 0.2 0.6 0.8 0.4 0.6 0.3 0.4 0.7 1 0.8 1 0.2 0.3 0.9 0.7 0.1 0 1 0.5 1-0.1 1-0.2 0.8-0.2 0.2-0.1 1-0.2 1-0.3 0.6-0.4 0.4-0.2 0.9-0.8 0.1-0.1 0.7-0.9 0.3-0.4 1-1.2 0.9-0.4 0.2 0 0.9 0.7 0.2 0.3 0.5 1 0.6 1 0.7 1.4 0.6 0.6 0.4 0.5 1 0 0.7-0.5 0.3-0.3 0.8-0.7 0.2-0.2 1-0.2 1 1 1.2 2.4 0.4 1 0.3 1 0.5 1 0.3 1 0.3 0.9 0.1 0.1 0.5 1 0.4 1 0.9 1 0.1 0.1 1 0 0.1-0.1 0.9-1 0.5-1 0.5-0.8 0.1-0.2 0.4-1 0.5-1 0.4-1 0.6-1 0.7-1 0.3-0.3 1-0.4 1 0.3 0.9 0.4 0.1 0.1 1 0.1 1-0.1 0.6-0.1 0.4-0.1 0.3 0.1 0.7 0.2 1 0.4 0.7 0.4 0.3 0.2 1 0.8 1 0.9 0.2 0.1 0.8 0.5 1 0.2 1-0.3 1-0.4 1 0.3 0.5 0.7 0.5 0.9 0 0.1 0.8 2 0.2 0.8 0.1 0.2 0.6 2 0.2 1 0.1 0.3 0.3 0.7 0.6 2 0.1 0.3 0.4 0.7 0.4 1 0.2 0.4 1 0.6 1 0 1-0.5 0.8-0.5 0.2-0.1 1-0.3 1 0.5 0.7 0.9 0.3 0.4 0.4 0.6 0.6 1 0.1 0 0.9 0.6 0.9-0.6 0.1-0.1 1-0.9 1 0.2 1 1 0.7 0.8 4.3 4.3 0.9 0.7 1 1 0.1 0.2 0.5 0.8 0.5 0.9 0.1 0.1 0.4 1 0.3 1 0.2 0.8 1 0.2 0.8-1 1-1 0.2-0.1 1-0.2 1 0.2 1-0.4 0.4-0.5 0.6-0.8 0.2-0.2 0.6-1 0.2-0.3 1-0.7 1-1 0.5-1 0.4-1 0.1-0.2 0.7-0.8 0.3-0.4 0.2 0.4 0.4 1 0.4 0.9 0 0.1 0.3 1 0.4 1 0.3 0.8 0.1 0.2 0.8 1 0.1 0.2 0.6 0.8 0.4 0.5 0.9 0.5 0.1 0 1-0.7 1-0.1 0.3 0.8 0.4 1 0.3 0.8 0.1 0.2 0.3 1 0.4 1 0.2 0.6 1 0.2 0.6-0.8 0.4-0.5 1-1 1 0 1 0.4 1 1 0.2 0.1 0.8 0.6 0.5-0.6 0.5-0.5 0.2-0.5 0.5-1 0.3-0.5 0.5-0.5 0.5-0.6 1 0.5 0.1 0.1 0.9 0.8 1-0.5 0.2-0.3 0.5-1 0.6-1 0.5-1 0.2-0.3 0.5 0.3 0.5 0.5 0.3 1.5 0.1 1 0.4 2 0.2 0.9 0 0.1 0.2 1 0.6 6 0 1 0.1 1 0 3-0.1 1 0 1-0.1 1 0 2-0.1 1 0 1-0.1 1 0 1-0.1 1 0 1-0.1 1 0 1-0.3 3 0 1-0.2 2-0.2 1-0.2 2-0.2 1-0.1 1-0.2 1-0.2 2 0 1-0.1 1 0 1-0.1 1 0 1-0.3 3-0.2 0.9 0 0.1-1 5 0 0.2-0.1 0.8-0.2 1-0.1 1-0.2 1-0.1 1-0.2 1-0.5 5-0.2 1-0.1 1-0.4 2-0.1 1-0.6 3-0.1 1-0.2 1-0.1 1-0.3 1-0.2 1-0.3 1 0 0.1-0.2 0.9-0.2 1-0.3 1-0.6 3-0.1 1-0.4 2-0.2 0.9 0 0.1-0.4 2-0.3 1-0.2 1-0.1 0.4-0.1 0.6-0.8 4-0.1 0.4-0.1 0.6-0.6 3-0.3 1 0 0.2-0.2 0.8-0.2 1-0.3 1-0.2 1-0.1 0.2-0.2 0.8-0.3 1-0.2 1-0.3 1 0 0.1-0.3 0.9-0.4 2-0.3 0.9 0 0.1-0.9 3-0.1 0.4-0.2 0.6-0.3 1-0.2 1-0.9 3-0.2 1-0.2 0.6-0.1 0.4-0.6 2-0.2 1-0.1 0.2-0.3 0.8-0.3 1-0.2 1-0.2 0.6-0.1 0.4-0.4 1-0.3 1-0.2 0.8-0.1 0.2-0.4 1-0.3 1-0.2 0.7-0.1 0.3-0.4 1-0.3 1-0.2 0.6-0.2 0.4-0.6 2-0.2 0.6-0.2 0.4-0.6 2-0.2 0.6-0.2 0.4-0.3 1-0.4 1-0.1 0.5-0.3 0.5-0.2 1-0.4 1-0.1 0.3-0.4 0.7-0.2 1-0.4 1-0.5 1-0.2 1-0.3 0.7-0.3 0.3-0.4 1-0.2 1-0.1 0.2-0.8 0.8-0.2 1 0 0.1-0.2-0.1-0.1-1 0-1 0.2-1 0.1-0.3 0.3-0.7 0.4-2 0.3-0.9 0-0.1 0.9-3 0.1-0.4 0.2-0.6 0.2-1 0.6-2 0-0.1 0.2-0.9 0.3-1 0.2-1 0.3-0.9 0-0.1 0.6-2 0.2-1 0.2-0.7 0.1-0.3 0.4-2 0.2-2 0.3-0.9 0-1.4-0.3 0.3-0.7 0.3-0.2 0.7-0.4 1-0.4 0.5-0.2 0.5-0.5 1-0.3 0.8-0.1 0.2-0.8 2-0.1 0.2-0.3 0.8-0.3 1-0.4 1 0 0.1-0.3 0.9-0.3 1-0.4 0.9 0 0.1-0.8 2-0.5 1-0.3 1-0.4 0.9-0.1 0.1-0.4 1-0.3 1-0.2 0.4-0.4 0.6-0.3 1-0.3 0.7-0.3 0.3-0.5 1-0.2 1-0.9 1-0.1 0.5-0.3-0.5-0.1-1 0.2-1 0.2-0.8 0.1-0.2 0.2-1 0.6-2 0.1-0.6 0.1-0.4 0.6-2 0.2-1 0.1-0.4 0.2-0.6 0.2-1 0.3-1 0.2-1 0.1-0.2 0.2-0.8 0.6-2 0.2-0.6 0.1-0.4 0.3-1 0.4-2 0.2-0.7 0.1-0.3 0.2-2 0.2-1 0.3-1 0.2-0.7 0-0.3 0.9-3 0.1-0.2 0.2-0.8 0.6-2 0.2-0.8 0-0.2 0.2-1 0.3-1 0-1-0.1-1-0.2-1-0.2-0.1 0 0.1-0.3 1-0.5 1-0.2 0.1-0.3 0.9-0.4 1-0.3 0.7-0.1 0.3-1.2 4-0.2 1-0.3 1-0.2 0.7-0.1 0.3-0.3 1-0.2 1-0.5 1-0.8 2-0.1 0.2-0.3 0.8-0.4 1-0.3 0.6-0.1 0.4-0.8 2-0.1 0.4-0.2 0.6-0.3 1-0.4 1-0.1 0.3-0.3 0.7-0.4 1-0.3 0.8-0.1 0.2-0.3 1-0.4 1-0.2 0.6-0.1 0.4-0.4 1-0.3 1-0.8 2-2 4-0.4 0.9-0.1 0.1-0.8 2-0.5 1-0.4 1-0.2 0.6-0.2 0.4-0.8 2 0 0.1-0.5 0.9-0.4 1-0.1 0.2-0.5 0.8-0.5 1-0.6 1-0.4 4 0 0.4-0.1 0.6 0 3 0.1 0.3 0.9 0.7 0.2 0 0.9-0.4 0.6-0.6 0.4-0.3 2-2 0.5 0.3 0.1 1-0.2 1-0.2 2-1 2-0.2 0.5-0.4 0.5-0.4 1-0.2 0.4-0.4 0.6-0.4 1-0.2 0.3-0.4 0.7-0.5 1-0.1 0.3-0.5 0.7-0.5 1 0 0.1-0.6 0.9-0.4 0.8-0.2 0.2-0.6 1-0.2 0.4-0.5 0.6-0.5 1-1 1-1 0.5-0.7-0.5-0.3-0.3-0.2 0.3-0.8 0.9 0 0.1-1 1-0.5 1-0.5 0.5-0.3 0.5-0.5 1-0.2 0.2-0.4 0.8-0.6 0.9-0.1 0.1-0.5 1-0.4 0.5-0.3 0.5-1.4 2-0.3 0.4-0.3 0.6-0.7 0.9-0.1 0.1-0.5 1-0.4 0.6-0.3 0.4-0.6 1-0.1 0.1-0.5 0.9-0.5 0.6-0.2 0.4-0.7 1-0.1 0.1-1 1.5-0.2 0.4-0.7 1-0.1 0.1-1 1.5-0.3 0.4-0.7 0.9 0 0.1-0.8 1-0.2 0.3-1 1.4-0.2 0.3-0.8 1-0.7 1-0.3 0.4-0.5 0.6-3.8 0 0.3-0.6 0.3-0.4 0.4-1 0.6-1 0.5-1 0.2-0.5 0.3-0.5 0.4-1 0.6-1 0.4-1 0.5-1 0.4-1 0.4-0.9 0-0.1 0.8-2 0.2-0.4 0.2-0.6 0.5-1 0.3-0.8 0.1-0.2 0.8-2 0.1-0.2 0.3-0.8 0.4-1 0.3-0.9 0.1-0.1 0.8-2 0.1-0.1 0.5-0.9 0.4-1 0.1-0.1 0.5-0.9 0.4-1 0.5-1 0.4-1 0.2-0.3 0.3-0.7 2-4 0.4-1 0.5-1 0.4-1 0.5-1 0.4-1 0.5-1 0.4-1 0.5-1 0.1-0.3 0.3-0.7 0.4-1 0.5-1 0.3-1 0.5-0.9 0-0.1 0.9-1 0.1-0.1 0.7-0.9 0.3-0.4 0.5-0.6 0.5-0.7 0.2-0.3 0.7-1 0.1-0.2 0.6-0.8 0.4-0.8 0.2-0.2 0.6-1 0.2-0.4 0.5-0.6 0.5-1 0.8-2 0.2-1 0-0.1 0.4-0.9 0.3-1 0.2-1 0.1-0.4 0.3-0.6 0.6-2 0.1-0.4 0.3-0.6 0.6-2 0.1-0.2 0.3-0.8 0.3-1 0.4-1 0-0.1 0.3-0.9 0.3-1 0.4-1 0-0.1 0.3-0.9 0.6-2 0.1-0.3 0.2-0.7 0.4-1 0.3-1 0.1-0.4 0.2-0.6 0.6-2 0.2-0.7 0.1-0.3 0.9-3 0-0.1 0.3-0.9 0.6-2 0.1-0.3 0.2-0.7 0.3-1 0.2-1 0.3-0.9 0-0.1 0.3-1 0.2-2 0.2-1-0.2-1-0.5-0.2-0.1 0.2-0.3 1-0.5 1-0.1 0.1-0.4 0.9-0.4 1-0.2 0.4-0.2 0.6-0.8 2-0.3 1-0.4 1-0.3 0.7-0.1 0.3-0.3 1-0.6 1 0 0.1-0.3 0.9-0.4 1-0.3 0.5-0.6 1.5-0.5 1-0.4 1-2 4-0.4 1-0.1 0.1-0.4 0.9-0.4 1-0.2 0.4-0.2 0.6-0.5 1-0.3 0.7-0.1 0.3-0.5 1-0.4 0.9-0.1 0.1-0.5 1-0.4 0.9-0.1 0.1-0.6 1-0.3 0.7-0.3 0.3-0.7 1.4-0.4 0.6-0.6 1 0 0.2-0.5 0.8-1 2-0.5 0.9-0.6-0.9 0.4-1 0.2-0.6 0.2-0.4 0.4-1 0.3-1 0.1-0.3 0.2-0.7 0.4-1 0.3-1 0.1-0.4 0.3-0.6 0.3-1 0.2-1 0.4-1 0.6-2 0.5-1 0.3-1 0.5-1 0.4-1 0.3-1 0.2-0.4 0.2-0.6 0.6-2 0.4-1 0.2-1 0.3-1 0.3-0.9 0-0.1 0.9-3 0.1-0.2 0.2-0.8 0.2-1 0.4-1 0.2-0.7 0.1-0.3 0.3-1 0.4-1 0.2-0.6 0.1-0.4 0.8-2 0.1-0.2 0.2-0.8 0.3-1 0.5-1 0.6-2 0.5-1 0.2-1 0.4-1 0.3-0.9 0-0.1 0.3-1 0.2-1 0.3-1 0.2-0.6 0.1-0.4 0.2-1 0.6-2 0.1-0.3 0.2-0.7 0.3-1 0.4-1 0.1-0.3 0.2-0.7 0.3-1 0.4-1 0.1-0.1 0.3-0.9 0.2-1 0.4-1 0.1-0.4 0.2-0.6 0.6-3 0.2-0.9 0-0.1 0.2-2 0.4-2 0.1-1 0.2-1 0.1-0.3 0.1-0.7 0.4-2 0.1-1 0.3-1 0.1-0.3 0.1-0.7 0-1-0.1-0.6-0.5 0.6-0.5 0.4-0.2 0.6-0.2 1-0.4 1-0.2 0.4-0.1 0.6-0.4 2-0.3 1-0.2 0.4-0.2 0.6-0.6 2-1.2 3 0 0.1-0.4 0.9-0.4 1-0.2 0.6-0.1 0.4-0.4 1-0.3 1-0.2 0.7-0.1 0.3-0.3 1-0.4 1-0.2 0.8-0.1 0.2-0.4 1-0.3 1-0.2 0.7-0.2 0.3-0.4 1-0.3 1-0.5 1-0.4 1-0.2 0.4-0.2 0.6-0.5 1-0.3 0.7-0.1 0.3-0.6 2-0.2 1-0.1 1 0 0.4-0.1 0.6-0.6 3-0.3 0.9-0.1 0.1-0.8 2-0.1 0.4-0.7 0.6-0.3 0.6-1 0-0.4 0.4-0.6 0.4-0.3 0.6-0.7 0.9-0.1 0.1-0.7 1-0.2 0.4-0.4 0.6-0.6 0.8-0.1 0.2-0.7 1-0.2 0.4-0.4 0.6-1.2 3-0.4 0.9 0 0.1-0.6 1-0.5 1-0.8 1-0.1 0.2-0.7 0.8-0.3 0.5-1-0.1 0-0.7 0.3-0.7 0-1 0.2-1 0.3-3 0.2-1 0-0.1 0.2-0.9 0.3-3-0.4-2-0.1-0.2-0.1 0.2-1 1-0.9 1-0.5 1-0.5 0.7-0.2 0.3-0.5 1-0.3 0.4-0.3 0.6-0.6 1-0.5 1-0.6 1-0.5 1-0.5 0.9-0.1 0.1-0.5 1-0.4 0.9-0.1 0.1-0.4 1-0.5 0.9 0 0.1-0.6 1-0.4 0.8-0.2 0.2-0.6 1-0.2 0.4-0.5 0.6-0.5 0.8-0.1 0.2-0.7 1-1 2-0.2 0.6-0.1 0.4-0.5 1-0.4 1 0 0.1-1 1.8-0.1 0.1-0.6 1-0.3 0.4-0.5 0.6-0.5 0.7-0.3 0.3-0.6 1-0.1 0.2-0.7 0.8-0.3 0.8-0.1 0.2-0.6 1 0.3 1 0.4 2 0 0.3 0.1 0.7 0.5 1 0.4 0.6 1 0.5 1-0.1 0.1 0 0.9-0.2 1-0.4 1-0.3 1 0.2 0.3 0.7 0.4 2 0.3 0.9 0 0.1 1 0.7 1-0.4 0.4-0.3 0.6-0.4 0.7-0.6 0.3-0.3 0.8-0.7 0.2-0.2 1-0.8 0.1 0 0.9-0.6 2 0.4 1-0.7 0.1-0.1 0.9-0.7 1.3-1.3 0.7-0.9 0.2-0.1 0.8-0.7 0.7 0.7-0.1 1-0.2 1-0.1 1-0.3 1 0 0.1-0.2 0.9-0.2 1-0.1 1-0.2 1 0.1 1-0.4 0.5-0.2 0.5-0.5 1-0.3 0.4-0.8 1.6-0.2 0.3-0.4 0.7-0.6 1.2-0.5 0.8-0.5 0.9 0 0.1-0.6 1-0.4 0.6-0.2 0.4-0.6 1-0.2 0.5-0.3 0.5-0.5 1-0.2 0.3-0.4 0.7-0.6 1-0.5 1-0.5 0.8-0.1 0.2-0.6 1-0.3 0.4-0.3 0.6-0.6 1-0.1 0.1-0.5 0.9-0.5 0.8-0.2 0.2-0.5 1-0.3 0.4-0.3 0.6-0.6 1-0.1 0.1-0.5 0.9-0.5 0.7-0.2 0.3-0.6 1-0.2 0.3-0.4 0.7-0.6 0.9-0.1 0.1-0.6 1-0.3 0.4-0.4 0.6-1.2 2-0.4 0.5-0.3 0.5-1.4 2-0.6 1-1.4 2-0.3 0.4-0.5 0.6-0.5 0.7-0.2 0.3-1.6 2-0.2 0.2-0.7 0.8-0.3 0.4-0.5 0.6-0.5 0.5-0.4 0.5-12.4 0-0.2-0.9 0-0.1-0.5-1-0.5-0.4-2 0-1-0.1-0.4-0.5-0.5-1-0.1-0.3-0.2-0.7-0.1-1-0.2-1-0.1-1-0.3-1-0.1-0.4-0.3-0.6-0.6-1-0.1-0.2-1-1-0.7-0.8-0.3-0.4-0.5-0.6-0.5-0.7-0.2-0.3-0.8-0.7-1-0.6-1-0.3-1-0.4-1-0.5-0.8-0.5-1.2-0.6-1-0.3-0.2-0.1-0.8-0.3-2-0.6-0.7-0.1-0.3 0-1-0.1-1 0-3-0.3-2 0-2-0.2-1-0.2-1-0.1-0.6-0.1-0.4-0.1-4-0.4-1 0-1-0.1-1 0-1-0.1-1-0.2-0.7-0.1-0.3-0.1-2-0.2-1 0-2-0.2-2-0.4-0.9-0.1-0.1 0-2-0.2-4-0.8-0.1 0-0.9-0.2-4-0.8-0.1 0-0.9-0.2-1-0.1-1-0.2-1-0.3-0.6-0.2-0.4-0.1-3-0.6-0.9-0.3-0.1 0-1-0.4-4-1.2-1-0.2-0.8-0.2-0.2 0-2-0.6-0.9-0.4-0.1 0-1-0.4-1-0.3-1-0.2-0.2-0.1-0.8-0.2-2-0.8-1-0.5-0.9-0.5-0.1 0-1-0.5-1-0.4-0.4-0.1-0.6-0.1-1-0.3-1-0.4-0.4-0.2-0.6-0.2-1-0.5-0.7-0.3-0.3-0.1-1-0.5-1-0.3-0.1-0.1-0.9-0.3-1-0.6-2.2-1.1-0.8-0.3-1-0.4-0.9-0.3-0.1 0-2-1-0.1 0-0.9-0.4-1-0.5-0.3-0.1-0.7-0.3-1-0.5-0.5-0.2-0.5-0.3-1-0.4-0.6-0.3-0.4-1 3-0.3 1 0 1-0.2 1-0.1 1 0 3-0.3 0.9-0.1 2.1 0 1-0.1 4 0 1-0.1 3 0 1-0.1 3 0 1-0.1 4 0 1-0.1 5 0 1-0.1 7 0 1-0.1 8 0 1-0.1 18 0 1-0.1 2 0 1 0.1 3 0 1-0.1 28 0 0.7-0.1 0.3 0 0.6-1 0.2-1 0-1-0.1-1 0-1-0.1-1 0-2-0.1-1 0-2-0.1-1 0-4-0.1-1 0-7-0.1-1-0.2-0.7-0.3-0.3-0.1-1 0-2-0.1-1 0-2-0.1-1 0-3-0.1-1 0-9-0.1-1 0-3-0.2-0.5-0.4-0.5-0.1-1 0-2-0.1-1 0-3-0.1-1 0-4-0.1-1 0-11-0.2-0.4-0.5-0.6-0.1-1 0-3-0.1-1 0-6-0.1-1 0-11-0.1-1-0.1-0.4-0.6-0.6 0-2-0.1-1 0-7-0.1-1 0-12-0.1-1-0.1-0.4-0.6-0.6 0-2-0.1-1 0-7-0.1-1 0-12-0.1-1-0.1-0.2-1-0.8-0.1 0-0.9-0.2-1-0.3-1 0-1 0.1-1 0.2-1 0.1-2-0.2-1-0.2-1-0.3-1 0.2-1 0.5-0.9 0.1-0.1 0-1-0.1-1-0.2-1.4-0.7-0.6-0.2-1 0-0.5 0.2-0.5 0.4-1 0.6-1 0.7-1 0.1-1-0.1-0.9-0.7-0.1 0-2-0.8-1-0.1-1 0.2-1 0.1-1-0.3-0.3-0.1-0.7-0.2-1 0-0.6 0.2-0.4 0.2-1 0.7-1 0.1-2-0.4-1 0-1 0.1-1 0.2-0.4 0.1-0.6 0.3-1 0.2-1-0.4-0.1-0.1-0.9-0.6-1-0.8-1-0.3-1 0.5-0.5 0.2-0.5 0.3-1 0-1-0.1-1 0.1-1 0-1-0.3-1.6 0-0.4 0.1-1 0.4-1 0.2-1-0.4-0.5-0.3-0.5-0.2-1 0.1-0.1 0.1-0.9 0.6-1 0.5-1 0.3-0.7-0.4-0.3-0.1-1-0.4-1 0.1-0.9 0.4-0.1 0-1 0.7-1 0.1-1 0-1 0.2-1 0.7-1 0-0.9-0.7-0.1-0.1-1-0.6-1 0.3-1 0.2-1-0.4-1-0.3-1 0.1-0.6-0.2-0.4 0-1-0.5-1-0.1-1 0.5-0.1 0.1-0.9 0.6-1 0-1 0.1-0.4 0.3-0.6 0.5-1 0.3-1 0.2-1 0.8-0.3 0.2-0.7 0.6-1 0.2-1-0.4-1 0-1 0.5-0.6 0.1-0.4 0.1-0.6-0.1-0.9 0-0.5 0.1-1 0.7-1 0.2-1.4 0-0.6 0.1-1 0.6-0.7 0.3-0.3 0.2-1 0.4-1-0.3-0.9-0.3-0.2 0-0.9 0.3-1 0.4-1-0.1-1-0.4-1-0.1-1 0.4-0.7 0.5-0.3 0.3-1 0.6-1 0.1-1-0.1-1 0.1-0.1 0-0.9 0.6-0.4 0.4-0.6 0.5-0.7 0.5-0.3 0.3-1 0-0.7-0.3-0.3-0.1-3 0-1 0.1-0.1 0-0.9 0.5-1 0.2-1-0.3-1 0-1 0.6-1 0.8-1 0-1-0.4-1-0.1-1 0.5-0.2 0.2-0.8 0.7-0.4 0.3-0.6 0.4-1 0-0.6-0.4-0.4-0.3-1-0.6-1 0.1-1 0.6-0.5 0.2-0.5 0.3-1 0.2-1-0.2-1-0.1-1 0.6-0.5 0.2-0.5 0.3-1 0.1-1-0.2-1 0.1-1 0.6-0.1 0.1-0.9 0.8-0.6 0.2-0.4 0.2-0.9-0.2-0.1 0-1-0.5-0.7-0.5-0.3-0.2-1-0.1-1-0.2-1-0.3-0.3-0.2-0.7-0.5-1-0.5 0-0.1-0.7-0.9 0.6-1 0.1-0.1 2-1.8 0.2-0.1 0.8-0.7 1-1 0.4-0.3 0.6-0.4 1-0.3 1-0.1 0.6-0.2 0.4-0.2 0.9-0.8 0.1-0.1 0.7-0.9 0.3-0.4 0.7-0.6 0.3-0.3 1-0.4 1 0 1-0.2 0.1-0.1 0.9-0.6 0.7-0.4 0.3-0.2 1 0 1 0.1 1-0.2 1-0.5 0.3-0.2 0.7-0.4 1-0.1 1 0.5 1 0.7 1 0 0.9-0.7 0.1-0.1 1-0.8 0.1-0.1 0.9-0.5 1 0.1 1 0.4 1 0 1-0.7 0.4-0.3 0.1-1-1-1-0.5-0.4-2-1.2-1-0.8-0.7-0.6-1.3-1.3-0.8-0.7-0.2-0.3-0.7-0.7-0.3-0.4-0.5-0.6-0.5-0.8-0.2-0.2-0.5-1-0.3-0.5-0.6-1.5-0.4-2-0.1-1 0.1-1 0-0.3 0.1-0.7 0.2-1 0.3-1 0.4-0.9 0-0.1 0.5-1 0.5-0.8 0.1-0.2 0.7-1 0.2-0.2 0.6-0.8 0.4-0.4 0.5-0.6 0.5-0.5 0.4-0.5 0.6-0.5 1-1 0.6-0.5 0.4-0.4 0.7-0.6 0.3-0.3 0.8-0.7 0.2-0.2 0.9-0.8 1.1-1.1 0.8-0.9 0.2-0.2 0.7-0.8 0.3-0.4 1-1.2 1.4-1.4 1.2-1 0.4-0.3 1-0.6 0.3-0.1 0.7-0.3 1-0.5 0.7-0.2 0.3-0.1 2-0.8 0.3-0.1 0.7-0.3 1-0.5 0.5-0.2 1.5-0.9 0.1-0.1 0.9-0.6 0.7-0.4 0.3-0.2 1-0.6 2-1 0.6-0.2 0.4-0.2 2-0.6 0.8-0.2 0.2-0.1 3-0.6 1-0.1 1-0.2 0.2 0 0.8-0.1 1-0.2 2-0.2 0.2-0.5 0.8-0.8 0.1-0.2 0.4-1 0.5-0.8 0.6-1.2 0.4-0.7 1 0.6 0.1 0.1 0.9 0.8 0.3 0.2 0.7 0.5 1 0.4 1-0.2 1 0 1 0.6 1 0.4 2-0.4 1-0.3 0.2 0 0.8-0.2 1-0.1 1-0.2 0.1-0.5 0.3-1 0.6-0.6 0.1-0.4 0.1-1 0.2-1 0.4-1 0.2-0.3 0.2-0.7 0.4-2 0.4-0.9 0-0.1 0.6-2 0.4-0.9 0.1-0.1 0.4-1 0.5-0.8 0.2-0.2 0.8-0.6 1 0.1 0.7 0.5 0.3 0.2 1 1 0.6 0.8 0.4 0.5 0.9 1.5 0.1 0.1 1 1.8 0.1 0.1 0.7 1 0.2 0.4 0.7 0.6 0.3 0.3 1 0.4 1-0.2 0.8-0.5 0.2-0.1 1-0.7 0.2-0.2 0.8-0.6 1-0.5 1-0.3 2-0.4 1-0.5 1-0.4 1 0.1 0.7 0.6 0.3 0.2 0.8 0.8 0.2 0.3 1 0.6 1-0.2 0.6-0.7 0.4-0.5 0.3-0.5 0.7-1 0-0.1 1-1.5 0.6-0.4 0.4-0.3 0.7 0.3 0.3 0.1 0.6 0.9 0.4 0.7 0.2 0.3 0.5 1 0.3 0.8 0.6 1.2 0.4 0.9 0.1 0.1 0.7 1 0.2 0.2 1 0.6 1-0.3 1-1 0.4-0.5 0.6-0.8 0.1-0.2 0.4-1 0.5-1 0.4-1 1.5-3 0.1-0.1 0.5-0.9 0.5-0.7 0.2-0.3 1-1 0.8-0.6 2-1 0.5-0.4 0.5-0.3 0.6-0.7 0.4-0.4 0.9-0.6 0.1-0.1 1-0.7zM528.9 412l0.1-0.4 0.1 0.4 0.2 2-0.1 1 0 1-0.2 2-0.7 1-0.3 1 0 0.1 0-0.1-0.1-1 0-4 0.1-0.4 0.2-0.6 0.3-1zM527.9 424l0.1-0.5 0 0.5 0.1 1 0 1-0.1 1 0 1-0.2 1-0.3 3 0 1-0.3 3-0.2 1 0 0.3-0.4 0.7-0.2 1-0.2 2 0 2-0.2 2-0.6 1-0.3 1-0.1 1 0 0.5-0.1-0.5-0.1-1 0-3 0.1-1 0.1-0.4 0.2-0.6 0.2-1 0.2-2 0-4 0.3-3 0.1-0.8 0-0.2 0.3-1 0.6-3 0.1-0.7 0.3-0.3 0.4-1zM545 448l0-0.5 0.2 0.5 0 3-0.2 2-0.2-1 0.1-1 0-2zM524 453l0.1 1 0 5-0.1 0.4-0.5 0.6-0.3 1-0.2 1 0 0.4-0.1-0.4-0.2-1-0.1-1 0.3-3 0.1-0.3 0.4-0.7 0.3-1 0.2-1zM544 458l0-0.2 0 0.2 0.2 1 0.1 1-0.2 2 0 1-0.1 0.7-0.2 0.3-0.2 1 0 1-0.6 6 0 0.1-0.2 0.9-0.1 1-0.3 1-0.1 1-0.2 1-0.1 1 0 0.6-0.1 0.4-0.1 1-0.3 1-0.4 2-0.1 0.7-0.7 0.3 0 2-0.2 2-0.1 0.7-0.2-0.7-0.1-1 0.3-3 0-0.4 0.3-0.6 0-2 0.4-2 0.3-3 0.6-3 0.1-1 0.2-1 0.1-1 0-0.6 0.1-0.4 0.6-3 0.2-2 0-1 0.1-0.7 0.2-0.3 0.6-3zM538.9 491l0.1-0.7 0.4 0.7 0.1 1-0.1 1-0.2 1-0.1 1-0.1 0.6-0.3 0.4-0.2 1-0.1 1-0.3 1-0.1 0.4-0.2-0.4-0.2-1 0.2-1 0.2-2 0-0.1 0.4-0.9 0.1-1 0.2-1zM465.8 574l0.2-0.3 0.5 0.3-0.2 2-0.3 1-0.7 1-0.3 1 0 0.1-0.7 0.9-0.3 1-0.7 1-0.3 0.7-0.4-0.7 0.1-1 0.3-0.8 0.2-0.2 0.2-1 0.4-1 0.2-0.6 0.2-0.4 0.3-1 0.5-0.7 0.4-0.3z"/>
<path fill="#3cffba" d="M228.3 300l0.7-0.6 0.8 0.6 0.2 0.1 1 1 0.7 0.9 0.3 0.4 0.3 0.6 0.7 1 0.5 1 0.5 0.8 0.6 1.2 0.4 0.9 0 0.1 0.2 1 0 1-0.2 0.3-1-0.6-1-1-0.5-0.7-0.5-0.5-0.3-0.5-0.7-0.9-0.1-0.1-0.5-1-0.4-0.6-0.7-1.4-0.3-0.7-0.1-0.3-0.3-1zM361.3 352l0.7-0.5 1-0.4 1 0.3 0.5 0.6 0.5 0.5 0.9 1.5 0.1 0.1 1 1.8 0.1 0.1 0.9 1.5 0.4 0.5 0.6 0.9 0.1 0.1 0.8 1 0.1 0.2 1 1 1 0.6 1 0 1-0.7 0.1-0.1 0.9-0.8 0.4-0.2 0.6-0.4 1-0.3 2 0 0.9-0.3 0.1 0 1-1 0.7-1 0.3-0.4 1-1.5 0.1-0.1 0.8-1 0.1-0.1 1-0.6 1 0 1 0.4 0.4 0.3 0.6 0.4 0.5 0.6 0.5 0.5 0.4 0.5 0.6 0.9 0.1 0.1 0.7 1 0.2 0.3 0.6 0.7 0.4 0.5 0.6 0.5 0.4 0.3 1 0.3 1 0 2-0.6 2-0.4 1-0.6 1-0.8 0.2-0.2 0.8-0.9 0.1-0.1 0.8-1 0.1-0.1 1-0.4 0.6 0.5 0.4 0.3 0.4 0.7 0.6 1 0 0.1 0.5 0.9 0.5 0.8 0.2 0.2 0.8 0.9 1 0.1 1-0.8 0.2-0.2 0.8-0.6 1-0.2 1 0.8 0.5 1 0.4 1 0.1 0.2 0.3 0.8 0.4 1 0.3 1 0.4 1 0.3 1 0.3 0.8 0.6 1.2 0.4 1 0.9 1 0.1 0.2 1-0.1 0.1-0.1 0.9-1 1-2 0.8-2 0.5-1 0.4-1 0.3-0.5 0.4-0.5 0.6-0.8 0.6-0.2 0.4-0.1 0.3 0.1 0.7 0.2 1 0.5 1 0.1 1-0.1 1-0.2 1 0.3 0.3 0.2 0.7 0.4 0.7 0.6 0.3 0.3 0.8 0.7 0.2 0.2 0.9 0.8 0.1 0.1 1 0.6 1 0.1 2-0.6 1 0.6 0.6 1.2 0.4 0.7 0.1 0.3 0.6 2 0.3 0.9 0 0.1 0.6 2 0.2 1 0.2 0.6 0.1 0.4 0.6 2 0.3 0.8 0.6 1.2 0.4 0.9 0.1 0.1 0.9 0.7 1 0.2 2-0.4 1 0.4 0.1 0.1 0.6 1 0.3 0.6 0.1 0.4 0.3 1 0.4 2 0.2 0.9 0 0.1 0.9 3 0.1 0.2 0.5 0.8 0.5 0.9 0 0.1 0.6 1 0.4 1 0.6 3 0 1 0.3 3 0 3 0.1 1 0 0.1 1 0 1 0.2 0.9 0.7 0.1 0.1 0.3 0.9 0.4 2 0.1 1 0 1 0.1 1-0.3 3-0.3 1-0.2 1-0.1 0.2-0.2 0.8-0.4 1-0.4 0.8-0.2 0.2-0.7 1-0.1 0.1-0.7 0.9-0.3 0.4-0.5 0.6-0.5 1-0.4 1-0.2 2 0 1-0.1 1-0.3 0.9 0 0.1-0.4 1-0.3 1-0.3 0.9 0 0.1-0.3 1-0.7 1.4-0.5 0.6-0.5 0.4-0.4 0.6-0.6 0.4-0.5 0.6-1.5 1.5-0.3 0.5-0.7 1-0.5 1-0.5 0.9-0.1 0.1-0.4 1-0.5 0.7-0.2 0.3-0.5 1-0.1 1-0.4 2-0.3 1-0.5 0.7-0.1 0.3-0.6 1-0.3 0.4-0.2 0.6-0.3 1-0.4 1-0.1 0.4-0.2 0.6-0.4 2-0.1 1 0 1-0.1 1-0.2 0.3-0.1 0.7 0 3-0.2 2-0.6 1-0.1 0.1-0.6 0.9-0.4 0.5-0.6 1.5-0.3 1-0.1 0.2-0.2 0.8-0.3 1-0.2 2-0.3 1 0 0.1-0.1 0.9-0.2 1-0.4 1-0.3 0.4-0.2 0.6-0.2 1-0.4 1-0.2 0.4-0.2 0.6-0.3 1-0.4 1-0.1 0.1-0.3 0.9-0.4 1-0.3 0.9 0 0.1-0.4 1-0.6 2 0 0.1-0.2 0.9-0.6 2-0.4 1-0.6 2-1.2 3 0 0.1-0.3 0.9-0.4 1-0.3 1 0 0.1-0.2 0.9-0.3 1-0.2 1-0.3 0.7-0.1 0.3-0.6 1-0.3 0.4-1 1.2-0.3 0.4-0.7 1 0 0.1-0.5 0.9-0.3 1-0.2 0.7-0.1 0.3-0.4 2-0.3 1-1 2-0.2 0.3-0.4 0.7-0.5 1-0.1 0.1-1 1.8-0.1 0.1-1 2-0.6 1-0.3 0.6-0.3 0.4-0.6 1-0.1 0.1-0.7 0.9-0.3 0.5-0.4 0.5-0.6 1 0 0.1-0.4 0.9-0.3 1-0.3 0.8-0.1 0.2-0.2 1-0.6 2-0.1 0.4-0.2 0.6-0.2 1-0.8 2-0.6 1-0.5 1-0.3 1-0.4 2 0 0.2-0.1 0.8-0.2 1-0.6 2-0.1 0.4-0.1 0.6-0.6 2-0.3 0.8-0.1 0.2-0.4 2-0.1 1-0.2 1-0.2 0.9 0 0.1-0.2 1-0.6 2-0.2 0.6-0.1 0.4-0.6 2-0.3 0.8 0 0.2-0.6 2-0.4 1 0 0.1-0.3 0.9-0.4 1-0.3 0.9 0 0.2 1 0.4 1 0.3 0.6 0.2 0.4 0.1 1 0.4 1 0.2 1 0.3-1 0.5-1 0.3-0.5 0.2-0.5 0.4-0.9 0.6-0.1 0.1-1 0.5-0.6 0.4-0.4 0.3-0.9 0.7-0.1 0.1-1 0.5 0 0.4-0.2 1-0.4 1-0.4 0.3-0.1 0.7-0.4 2-0.5 0.7-0.1 0.3-0.2 2-0.2 1-0.5 0.9-0.4-0.9-0.4-2 0-1-0.1-1 0-2-0.1-1 0-2.7-0.3-0.3-0.7-0.8-0.4-0.2-0.2-1 0.6-0.1 1-0.3 0-0.6 0.2-1-0.1-1 0.1-1 0-2-0.1-1 0-1-0.1-1 0-1-0.2-2 0-1-0.1-1 0-3-0.1-1 0-2-0.1-1 0-5-0.1-1-0.3-1 0-1-0.2-2 0-1-0.1-1 0-1-0.1-1 0-1-0.1-1 0-3-0.1-1 0-6-0.1-1 0-4-0.4-1-0.2-2 0-1-0.1-1 0-1-0.1-1 0-2-0.1-1 0-2-0.1-1 0-5-0.1-1 0-6-0.3-0.8-0.2-0.2-0.1-1 0-1-0.1-1 0-3-0.1-1 0-3-0.1-1 0-6-0.1-1 0-6-0.3-0.7-0.3-0.3 0-1-0.1-1 0-1-0.1-1 0-4-0.1-1 0-7-0.1-1 0-7-0.3-0.7-0.3-0.3 0-1-0.1-1 0-1-0.1-1 0-4-0.1-1 0-14-0.1-1-0.3-0.5-0.6-0.5-0.4-0.3-1-0.3-1-0.2-1-0.1-1 0.1-1 0.3-1 0.1-2-0.2-1-0.2-0.4-0.2-0.6-0.1-1 0.1-1 0.6-1 0.2-1-0.2-1-0.3-0.6-0.3-0.4-0.1-1-0.4-1 0-1 0.4-0.1 0.1-0.9 0.8-0.5 0.2-0.5 0.3-1 0.3-1-0.3-0.4-0.3-1.6-0.8-0.5-0.2-0.5-0.1-1-0.1-2 0.2-2-0.4-1-0.1-1 0.4-0.2 0.1-0.8 0.6-1 0.2-2-0.6-1 0-2 0.4-1 0.3-0.6 0.1-0.4 0.1-0.2-0.1-0.8-0.2-2-1.6-0.5-0.2-0.5-0.1-0.2 0.1-0.8 0.5-1 0.4-1 0-1-0.1-1 0.1-1 0-2-0.2-1 0.1-0.7 0.2-0.3 0.1-1 0.3-1-0.5-1-0.3-1 0.1-0.6 0.3-0.4 0.3-1 0.5-1 0.2-1-0.4-1-0.5-1 0.1-1 0.6-0.5 0.2-0.5 0.4-1 0.1-1-0.1-1.5 0.6-0.5 0.4-1 0-0.5-0.4-0.5-0.3-0.9-0.7-0.1-0.1-0.3 0.1-0.7 0.2-1 0.2-0.9-0.4-0.1 0-1-0.2-1 0.1-1-0.2-1-0.6-0.7-0.1-0.3 0-1 0.7-0.7 0.3-0.3 0.2-2 0.2-0.9 0.6-0.1 0.1-1 0.5-1 0.2-0.4 0.2-0.6 0.5-0.8 0.5-0.2 0.2-1 0.3-0.9-0.5-1.1 0-1 0.6-1 0.2-1-0.1-1 0.1-0.4 0.2-0.6 0.5-1 0.3-1-0.1-1 0.1-0.5 0.2-1.5 0.9-0.5 0.1-0.5 0.2-0.6-0.2-0.4-0.1-1-0.1-1 0.1-0.4 0.1-0.6 0.3-1-0.1-0.5-0.2-0.5-0.1-1-0.1-0.7 0.2-0.3 0.1-1 0.8-0.2 0.1-0.8 0.7-1 0.1-1-0.2-1 0.1-0.7 0.3-0.3 0.2-0.8 0.8-0.2 0.1-1 0.8-1 0.1-1-0.3-1-0.1-1 0.1-1-0.1-1 0.1-0.7 0.3-0.3 0.1-1 0.2-0.9-0.3-1.1 0-1 0.8-0.4 0.2-0.6 0.5-1 0-0.9-0.5-0.1 0-1-0.1-0.2 0.1-0.8 0.5-0.6 0.5-0.4 0.4-0.9 0.6-0.1 0.1-1-0.1-1-0.6-0.6-0.4-0.4-0.2-1 0.1-0.2 0.1-0.8 0.5-1 0.4-0.6 0.1-0.4 0.1-1-0.2-1 0-0.3 0.1-0.7 0.5-1 0.4-1 0.1-1-0.1-1 0-0.1 0.1-0.9 0.6-0.5 0.4-0.5 0.5-1 0.3-1-0.1-1-0.7-1-0.6-2-0.4-1-0.9-0.2-0.1 0.2-0.5 0.3-0.5 0.7-0.6 0.4-0.4 0.6-0.5 0.8-0.5 0.2-0.1 1-0.2 1 0 1-0.4 0.3-0.3 0.7-0.6 0.3-0.4 0.7-0.8 0.2-0.2 0.8-0.7 1-0.3 1 0 1-0.2 1-0.7 0.2-0.1 0.8-0.5 1 0 1 0.1 1-0.2 0.9-0.4 0.1-0.1 1-0.5 1-0.2 1 0.6 0.2 0.2 0.8 0.5 1 0 0.7-0.5 0.3-0.3 0.8-0.7 0.2-0.2 1-0.5 1 0.1 1 0.4 1 0 1-0.7 0.1-0.1 0.9-0.6 1 0 1 0.3 1-0.1 1-0.4 0.7-0.2 0.3-0.1 1 0.1 1-0.1 1 0 0.1 0.1 0.9 0.3 1 0 0.4-0.3 0.6-0.5 1-1 1-0.5 0.2 0 0.8-0.2 0.4 0.2 0.6 0.1 0.8-0.1 0.2-0.2 0.4-0.8-0.4-0.9-0.1-0.1-0.9-0.4-1-0.2-2-1-0.7-0.4-0.3-0.2-1-0.4-0.9-0.4-0.1 0-2-0.8-0.3-0.2-0.7-0.3-1-0.4-1-0.5-1-0.6-1-0.5-1-0.6-0.1-0.1-0.9-0.7-0.4-0.3-2-2-0.6-0.8-0.1-0.2-0.9-1.5-0.6-1.5-0.3-1-0.2-1 0-2 0.1-0.7 0-0.3 0.6-2 0.5-1 0.6-1 0.3-0.4 1-1.2 0.3-0.4 0.7-0.7 0.2-0.3 1.8-1.8 0.3-0.2 0.7-0.7 0.4-0.3 0.6-0.6 0.5-0.4 0.5-0.5 0.6-0.5 0.4-0.4 0.8-0.6 0.2-0.2 1-0.8 1-0.7 1-0.6 1-0.5 0.6-0.2 0.4-0.1 1-0.4 1-0.3 0.4-0.2 0.6-0.2 1-0.4 1-0.3 0.1-0.1 0.9-0.4 7-2.8 2-0.4 1-0.1 1-0.2 0.7-0.1 0.3-0.1 2 0 1-0.1 0.2-0.8 0.5-1 0.3-0.3 0.4-0.7 0.5-1 0.1-0.1 0.4-0.9 0.6-1 1.5-3 0.5-0.9 1 0.5 0.4 0.4 1.2 1 0.4 0.3 1 0.4 1-0.2 1-0.1 0.7 0.6 0.3 0.2 0.5 0.8 1 2 0.3 1 0.2 0.4 0.4 0.6 0.6 1.5 1 0.3 1-0.2 0.2-0.6 0.4-1 0.4-0.4 0.1-0.6 0.3-1 0.2-1 0.4-0.8 0-0.2 0.2-1 0.3-1 0.2-1 0.3-0.7 0.1-0.3 0.2-1 0.6-2 0.1-0.4 0.2-0.6 0.6-2 0.2-0.6 0.1-0.4 0.4-1 0.3-1 0.4-1 0.5-1 0.3-0.7 0.3-0.3 0.7-0.8 1 0 1 0.6 1.2 1.2 0.7 1 0.1 0.1 0.5 0.9 0.5 0.8 0.1 0.2 0.6 1 0.3 0.6 0.3 0.4 0.6 1 1.1 1.1 1 0.4 1-0.3 0.4-0.2 0.6-0.4 0.8-0.6 0.2-0.2 1-0.7 0.1-0.1 0.9-0.5 1-0.3 1-0.2 0.1 0 0.9-0.3 1-0.5 1-0.4 1 0.1 0.1 0.1 0.9 0.8 0.2 0.2 0.8 0.9 0.2 0.1 0.8 0.6 1-0.3 0.2-0.3 0.8-0.9 0.1-0.1 0.5-1 0.4-0.6 0.2-0.4 0.7-1 0.1-0.2 1-0.7 1 0.5 0.3 0.4 0.5 1 0.2 0.3 0.3 0.7 0.5 1 0.2 0.6 0.2 0.4 0.8 2 0.7 1 0.3 0.6 0.7 0.4 0.3 0.2 0.4-0.2 0.6-0.2 0.7-0.8 0.3-0.3 0.4-0.7 0.6-1 0.8-2 0.2-0.4 0.2-0.6 0.4-1 1.5-3 0.6-1 0.3-0.4 1-1 0.9-0.6 0.1-0.1 2-1 1-0.8 0.1-0.1 0.9-1 1-0.7zM441.7 463l0.3-0.4 1 0.2 0.1 0.2 0.3 1 0.1 1 0 1-0.4 2-0.1 0.2-0.5 0.8-0.3 1-0.2 0.4-0.4-0.4-0.6-0.8-0.1-0.2-0.1-1 0.2-0.9 0-1.1 0.2-2z"/>
<path fill="#26ffd1" d="M362.7 353l0.3-0.1 0.4 0.1 0.6 0.2 1 1 0.5 0.8 0.5 0.9 0 0.1 0.6 1 0.4 0.9 0.1 0.1 0.6 1 0.5 1 0.6 1 0.2 0.4 0.4 0.6 0.6 0.8 0.2 0.2 0.8 0.7 0.5 0.3 0.5 0.2 1-0.2 1-0.8 0.2-0.2 0.8-0.7 0.4-0.3 0.6-0.4 1-0.3 2 0.4 1-0.3 0.3-0.4 0.7-0.7 0.2-0.3 0.6-1 0.2-0.3 0.4-0.7 0.6-1 0.8-1 0.2-0.2 1-0.6 1 0 1 0.4 0.6 0.4 0.4 0.3 0.6 0.7 0.4 0.4 0.5 0.6 0.5 0.7 0.2 0.3 0.7 1 0.1 0.1 0.7 0.9 0.3 0.4 0.8 0.6 0.2 0.2 1 0.3 1-0.1 1-0.3 2-0.4 1-0.4 2-1.2 0.1-0.1 0.9-1 1-1 1-0.5 0.6 0.5 0.4 0.3 0.4 0.7 1.2 2 0.4 0.9 0.1 0.1 0.8 1 0.1 0.1 1 0.1 0.2-0.2 0.8-0.7 0.4-0.3 0.6-0.6 1-0.2 0.8 0.8 0.2 0.3 0.3 0.7 0.5 1 0.4 1 0.3 1 0.4 1 0.1 0.3 0.3 0.7 0.3 1 0.4 1 0 0.1 0.4 0.9 0.5 1 0.1 0.3 0.6 0.7 0.4 0.4 1 0 0.3-0.4 0.7-0.8 0.6-1.2 0.4-0.9 0.1-0.1 0.3-1 0.4-1 0.5-1 0.4-1 0.3-0.5 0.4-0.5 0.6-0.7 1-0.2 1 0.4 1 0.5 1.3 0 0.7-0.1 1-0.3 1 0.4 1 0.8 0.3 0.2 2.7 2.7 0.4 0.3 0.6 0.4 1 0.2 2-0.4 0.9 0.8 0.1 0.1 0.4 0.9 0.4 1 0.2 0.4 0.2 0.6 0.2 1 0.3 1 0.2 1 0.1 0.2 0.2 0.8 0.4 2 0.3 1 0.1 0.5 0.2 0.5 0.6 2 0.8 2 0.4 0.8 0.2 0.2 0.7 1 0.1 0.2 1 1 0.7 0.8 0.3 0.4 0.2 0.6 0.4 1 0.4 2 0 0.2 0.1 0.8 0.1 1 0 1-0.1 1-0.1 0.8 0 0.2-0.4 2-0.6 2 0 0.2-0.1 0.8-0.1 1-0.6 2-0.2 0.4-0.2 0.6-0.8 2-0.9 3-0.2 1-0.1 1 0.1 1 0.1 0.2 0.3 0.8 0.3 1 0.4 1 0 0.1 0.3 0.9 0.7 1.4 0.2 0.6 0.4 1 0.3 1 0.1 0.6 0.1 0.4 0.1 1 0.2 1 0 3-0.1 1-0.2 1-0.1 0.3-0.2 0.7-0.3 1-0.4 1-0.1 0.3-0.3 0.7-0.4 1-0.3 0.8-0.1 0.2-0.4 1-0.5 1-0.7 1-0.3 0.5-0.6 0.5-0.4 0.3-1 0.2-1-0.4-0.2-0.1-0.8-0.5-1-0.2-1 0.6-0.1 0.1-0.9 1-0.8 1-1.2 1.2-1 0.5-1 0.2-0.3 0.1-0.7 0.2-1 0.4-1 0.2-0.4 0.2 0 1-0.5 5-0.1 0.6-0.1 0.4-0.5 1-0.4 0.3-0.4 0.7-0.5 1-0.1 0.3-0.2 0.7-0.3 1-0.1 1 0.2 1 0.3 1 0.1 0.1 0.3 0.9 0.1 1-0.2 1-0.2 0.5-0.3 0.5-0.7 0.7-0.2 0.3-0.7 1-0.1 0.2-0.3 0.8-0.4 2-0.3 0.9 0 0.1-0.3 1-0.2 1-0.4 4-0.1 0.3-0.2 0.7-0.4 1-0.2 1-0.2 0.8 0 0.2-0.2 2-0.3 1-0.5 0.9 0 0.1-0.7 1-0.6 1-0.4 1-0.3 0.9 0 0.1-0.2 1-0.4 1-0.5 1-0.7 1-0.2 0.3-0.4 0.7-0.6 2 0 0.1-0.2 0.9-0.1 1-0.3 1-0.4 0.9 0 0.1-1 2-0.4 1-0.5 1-0.1 0.3-0.2 0.7-0.3 1-0.4 1-0.1 0.3-0.3 0.7-0.5 1-0.2 0.3-0.4 0.7-0.6 1 0 0.1-0.3 0.9-0.1 1 0 3-0.1 1 0.1 1 0.2 1 0.2 0.8 0.1 0.2 0 1-0.1 0.3-0.3 0.7-1 1-0.7 0.9-0.1 0.1-0.8 2-0.1 0.1-0.3 0.9-0.4 2-0.3 1-0.2 1-0.3 1-0.4 2-0.1 1 0 0.1-0.1 0.9-0.2 1-0.1 1-0.4 2-0.1 1-0.1 0.4-0.1 0.6-0.2 1-0.1 1-0.4 2-0.2 0.7-0.1 0.3-0.1 1-0.4 2-0.4 1 0 0.1-0.3 0.9-0.3 1-0.2 2 0 1-0.2 2 0 0.4-0.1 0.6 0 1-0.1 1-0.2 1-0.1 1-1.8 9-0.1 1-0.4 2-0.1 1-0.1 0.2-0.2 0.8-0.3 3-0.4 2-0.1 0.3-0.1 0.7-0.8 4-0.1 0.4-0.1-0.4-0.1-1-0.2-1 0-1-0.2-2 0-2-0.1-1 0-1 0.4-4-0.1-1 0-2-0.1-1 0-1-0.3-3 0-1-0.2-2 0-2-0.1-1 0-1-0.1-1 0-1-0.1-1 0-4-0.1-1-0.2-1-0.1-1 0-1-0.1-1 0-2-0.2-2 0-1-0.1-1 0-1-0.1-1 0-2-0.1-1 0-5-0.1-1 0-3-0.1-1-0.3-1 0-1-0.1-1 0-1-0.1-1 0-1-0.2-2 0-1-0.1-1 0-2-0.1-1 0-3-0.1-1 0-4-0.1-1 0-3-0.3-1-0.1-1 0-1-0.1-1 0-1-0.1-1 0-1-0.1-1 0-2-0.1-1 0-4-0.1-1 0-4-0.1-1 0-4-0.4-1 0-0.1-0.1-0.9 0-1-0.1-1 0-1-0.1-1 0-2-0.1-1 0-5-0.1-1 0-5-0.1-1 0-4-0.4-1-0.1-1 0-1-0.1-1 0-1-0.1-1 0-3-0.1-1 0-3-0.1-1 0-11-0.5-0.8-0.2-0.2-0.8-0.5-1-0.4-0.3-0.1-0.7-0.1-1-0.1-1 0.1-0.4 0.1-0.6 0.2-1 0.1-2-0.2-0.3-0.1-0.7-0.1-1-0.2-1 0.1-0.4 0.2-0.6 0.4-1 0.2-1-0.3-0.9-0.3-0.1 0-1-0.3-1-0.5-1-0.1-1 0.6-0.3 0.3-0.7 0.5-1 0.5-0.1 0-0.9 0.3-0.8-0.3-0.2 0-1-0.5-0.8-0.5-0.2-0.1-1-0.2-1-0.1-2 0.2-1-0.2-1-0.3-1-0.1-1 0.5-0.5 0.3-0.5 0.4-1 0.1-1-0.3-0.5-0.2-0.5-0.1-1 0-1 0.1-1 0.4-1 0.3-1 0.1-1-0.2-0.7-0.6-0.3-0.2-0.9-0.8-0.1-0.1-1-0.2-2 1-1 0-1-0.1-1 0.1-1 0-2-0.2-1 0.1-1 0.3-0.7 0.1-0.3 0.1-0.2-0.1-0.8-0.3-1-0.4-1 0.2-1 0.4-0.1 0.1-0.9 0.6-1 0.1-1-0.3-0.7-0.4-0.3-0.2-1 0.1-0.2 0.1-0.8 0.6-1 0.4-1 0.1-1 0-1 0.5-1 0.4-1 0.1-0.1-0.1-1.5-1-0.4-0.3-1 0.2-0.6 0.1-0.4 0.1-0.2-0.1-0.8-0.2-1-0.2-1 0-1-0.1-0.7-0.5-0.3-0.2-1-0.1-0.4 0.3-0.6 0.5-1 0.4-1 0-0.8 0.1-0.2 0-1 0.8-1 0.5-1 0.2-0.8 0.5-0.2 0.2-1 0.7-0.5 0.1-0.5 0.2-0.3-0.2-0.7-0.3-1 0.1-0.4 0.2-0.6 0.4-1 0.2-1-0.1-1 0.1-1 0.5-1 0.4-1 0-1 0.1-1 0.4-1 0.6-1 0.3-2-0.4-1 0.2-1 0.3-1-0.1-1-0.3-1 0-1 0.3-0.2 0.1-0.8 0.7-0.5 0.3-0.5 0.4-1 0.1-1-0.1-1 0.1-1 0.4-0.1 0.1-0.9 0.8-0.2 0.2-0.8 0.7-1 0-1-0.3-1-0.1-1 0.1-1-0.1-1 0.2-1 0.4-1 0.1-1-0.3-1 0.1-0.3 0.2-0.7 0.5-0.8 0.5-0.2 0.2-1 0-0.4-0.2-0.6-0.2-1-0.1-0.6 0.3-0.4 0.3-0.9 0.7-0.1 0.1-1 0.7-1 0-1-0.7-0.1-0.1-0.9-0.4-1 0.1-0.7 0.3-0.3 0.2-1 0.5-1 0.1-1-0.1-1 0-0.8 0.3-0.2 0.1-1 0.6-1 0.1-1-0.2-1 0.1-1 0.6-0.8 0.7-0.2 0.2-1 0.3-1-0.2-0.5-0.3-0.5-0.5-1-0.5-1-0.7-0.4-0.3 0.4-0.5 0.5-0.5 0.5-0.3 1-0.1 1 0 1-0.4 0.3-0.2 1-1 0.7-0.8 0.2-0.2 0.8-0.7 1-0.2 1 0 0.4-0.1 0.6-0.2 1-0.6 0.3-0.2 0.7-0.4 1 0 1 0.1 1-0.2 1-0.4 0.1-0.1 0.9-0.5 1-0.1 1 0.6 1 0.7 1 0 0.9-0.7 0.1 0 1-1 1-0.6 1 0.1 1 0.4 1 0 1-0.7 0.3-0.2 0.7-0.5 1 0 1 0.4 1-0.1 1-0.4 1-0.3 1 0 1-0.1 1 0.1 1 0.4 1 0 0.6-0.5 1.4-1.4 1-0.5 1-0.1 1 0.2 1-0.1 0.2-0.1 0.8-0.6 1-0.8 1-0.4 1 0.1 1 0.4 1 0 1-0.3 1-0.2 1 0.3 1 0.2 1-0.3 0.8-0.4 0.2-0.2 0.4-0.8 0.3-1 0.3-0.8 0-0.2 0.2-1 0.1-1-0.2-1-0.1-0.3-1-0.1-1-0.2-2-0.2-0.8-0.2-0.2 0-1-0.3-1 0-1 0.1-2 0-1-0.1-2-0.6-0.4-0.1-0.6-0.2-1-0.2-1-0.3-0.9-0.3-0.1-0.1-3-0.9-1-0.5-1-0.4-0.1-0.1-0.9-0.6-0.5-0.4-1-1-0.5-0.7-0.3-0.3-0.7-1-0.8-1-0.2-0.3-0.6-0.7-0.4-0.6-0.2-0.4-0.3-1 0-1 0.2-1 0.3-0.8 0.1-0.2 0.3-1 0.4-1 0.2-0.6 0.2-0.4 0.7-1 0.1-0.1 0.8-0.9 1.2-1.2 0.9-0.8 0.1-0.1 1-0.8 0.1-0.1 0.9-0.8 0.3-0.2 0.7-0.5 0.9-0.5 0.1-0.1 2-1 1-0.4 0.9-0.5 0.1 0 1-0.6 1-0.4 1-0.3 1-0.1 1-0.2 2-0.8 2-0.6 0.2 0 0.8-0.2 3-0.6 0.8-0.2 0.2 0 2-0.4 1 0 0.2-0.6 0.6-1 0.2-0.2 0.3-0.8 0.6-2 0.1-0.2 0.5-0.8 0.5-0.9 0.1-0.1 1.5-3 0.4-0.9 0.1-0.1 0.9-1.8 1 0.6 0.3 0.2 1 1 0.7 0.6 1 0.3 1-0.2 1-0.1 0.5 0.4 0.5 0.5 0.3 0.5 0.4 1 0.3 0.7 0.1 0.3 0.4 1 0.3 1 0.2 0.7 0.1 0.3 0.8 2 0.1 0.2 1 0.6 0.7-0.8 0.3-0.3 0.3-0.7 0.4-1 0.3-0.7 0.1-0.3 0.2-1 0.6-2 0.1-0.4 0.1-0.6 0.3-1 0.2-1 0.3-1 0.2-1 0.3-1 0.2-1 0.3-1 0.1-0.2 0.2-0.8 0.3-1 0.4-1 0.1-0.4 0.3-0.6 0.4-1 0.3-1 1-2 0-0.1 0.7-0.9 0.3-0.3 1-0.2 1 0.4 1.1 1.1 0.7 1 0.2 0.3 0.4 0.7 1.2 2 0.4 0.7 0.2 0.3 0.7 1 1.1 1.1 1 0.3 1-0.1 0.4-0.3 0.6-0.4 0.8-0.6 0.2-0.1 1-0.8 1-0.5 1-0.3 1-0.2 0.2-0.1 0.8-0.3 1-0.5 0.6-0.2 0.4-0.2 1 0.2 1 0.9 0.1 0.1 0.8 1 0.1 0.1 1 0.7 1-0.3 0.4-0.5 0.6-0.7 0.2-0.3 0.5-1 1.2-2 0.1-0.2 1-0.8 1 0.6 0.2 0.4 0.6 1 0.5 1 0.3 1 0.8 2 0.3 1 0.3 0.8 0.1 0.2 0.6 1 0.3 0.6 0.9 0.4 0.1 0.1 0.1-0.1 0.9-0.4 0.4-0.6 0.6-0.7 0.2-0.3 0.5-1 0.3-0.5 0.2-0.5 0.3-1 0.4-1 0.1-0.2 0.3-0.8 0.4-1 0.3-0.7 0.1-0.3 0.5-1 0.4-0.9 0.1-0.1 0.9-1.5 1-1 0.8-0.5 0.2-0.1 1-0.4 0.9-0.5 0.1-0.1 1-0.7 0.2-0.2 0.8-1 1-0.8 0.2-0.2 0.8-0.7z"/>
<path fill="#13fce4" d="M362 355l1-0.5 1 0.3 0.2 0.2 0.8 0.9 0.1 0.1 0.5 1 0.4 0.7 0.2 0.3 0.4 1 1 2 0.3 1 0.1 0.3 0.3 0.7 0.3 1 0.4 0.7 0.3 0.3 1.4 1 0.3 0.2 1 0.3 1-0.4 0.2-0.1 2-2 0.8-0.5 1 0 0.8 0.5 0.2 0.2 1 0.5 1-0.3 0.3-0.4 0.7-0.9 0-0.1 2-4 0.7-1 0.3-0.4 0.8-0.6 0.2-0.1 1-0.1 1 0.4 1 0.8 0.9 1 0.1 0.1 0.7 0.9 0.3 0.4 0.4 0.6 0.6 0.8 0.1 0.2 0.8 1 0.1 0.1 1 0.9 1 0.3 1-0.2 0.4-0.1 0.6-0.2 2-0.2 1-0.4 0.2-0.2 0.8-0.6 0.5-0.4 0.5-0.3 0.8-0.7 0.2-0.1 1-0.9 0.1 0 0.9-0.4 0.6 0.4 0.4 0.2 1 1.6 1.1 2.2 0.8 1 0.1 0.2 1 0.1 0.2-0.3 0.8-0.7 1-1 1 0 0.6 0.7 0.4 0.5 0.2 0.5 0.5 1 0.3 0.8 0.1 0.2 0.3 1 0.4 1 0.2 0.7 0.1 0.3 0.3 1 0.8 2 0.5 1 0.3 0.4 0.5 0.6 0.5 0.4 1 0 0.3-0.4 0.7-0.9 0-0.1 1-2 1.2-3 0.5-1 0.3-0.7 0.3-0.3 0.7-0.8 1 0 1 0.5 1 0.6 1 0.2 1 0.1 1-0.5 1 0.3 0.8 0.6 0.2 0.2 1 0.8 1 1 0.8 1 1 1 0.2 0.3 0.8 0.7 0.2 0.2 1 0.7 0.1 0.1 0.9 0.4 0.5 0.6 0.5 0.9 0 0.1 0.2 1 0.3 1 0.2 2 0 3 0.1 1 0.2 0.8 0 0.2 0.4 1 0.6 1 0.5 1 0.5 0.9 0.1 0.1 0.4 1 0.2 1 0.1 1-0.1 1 0 1-0.1 1 0.1 1 0.4 2 0 1-0.1 0.6-0.3 0.4-0.7 0.4-1-0.1-1 0.4-0.5 0.3-0.5 0.2-1 0.6-0.2 0.2-0.7 1-0.1 0.4-0.1 0.6 0 3-0.1 1 0 5 0.1 1 0.2 1 0.4 1 0.3 1 0.4 2 0.6 2 0.2 0.9 0.1 0.1 0.9 0.7 1 0.5 0.7 0.8 0.3 0.2 0.6 0.8 0.4 0.5 0.3 0.5 0.4 1 0.3 1 0 2-0.2 1-0.1 1-0.4 2-0.3 1-0.6 1-0.4 0.5-1-0.1-0.2-0.4-0.2-1 0-1-0.2-2-0.3-1-0.1-0.4-0.8-1.6-0.2-0.6-1 0.5-0.1 0.1-0.6 1-0.3 0.4-0.2 0.6-0.6 2-0.2 0.7-0.1 0.3-0.3 1-0.4 1-0.2 0.6-0.1 0.4-0.4 1-0.5 0.8-0.1 0.2-0.9 0.7-0.3 0.3-0.7 0.5-0.6 0.5-0.4 0.3-0.8 0.7-0.2 0.1-1 0.2-1-0.5-0.9-0.8-0.1-0.1-0.8-0.9-0.2-0.4-1-0.6-1 0.1-1 0.3-0.9 0.6-0.1 0.1-0.4 0.9-0.6 0.9 0 0.1-0.8 1-0.2 0.2-1 0.6-0.3 0.2-0.3 1-0.2 1-0.1 1 0.1 1 0.3 1 0.2 1 0 1-0.3 1-0.4 0.6-0.3 0.4-0.6 1-0.1 0.4-0.2 0.6 0 1 0.2 2-0.6 2-0.4 0.9-0.1 0.1-0.4 1-0.1 1 0 1 0.4 2-0.1 1-0.3 1-0.4 1 0 0.2-0.2 0.8-0.4 1-0.4 0.7-0.5-0.7-0.5-0.5-1-0.2-0.3 0.7-0.3 1-0.4 0.7-0.2 0.3-0.1 1 0.3 0.4 0.9-0.4 0.1-0.1 1 0.5 1 1.5 0.1 0.1 0.5 1 0.3 1-0.1 1-0.6 1-0.2 0.2-1 0.3-1 0.1-0.3 0.4-0.2 1 0 1 0.2 1 0.3 1 0 0.1 0.5 0.9-0.1 1-0.3 1-0.1 0.3-0.2 0.7-0.8 2 0 0.1-0.6 0.9-1 1-0.4 0.6-0.2 0.4-0.6 2-0.2 0.7-0.1 0.3-0.2 1-0.1 1 0 1-0.2 2-0.3 1-0.1 0.3-0.2 0.7-0.2 1-0.2 2-0.2 1-0.4 1-0.5 1-0.3 0.7-0.1 0.3-0.3 1-0.4 2-0.1 1-0.1 0.6-0.1 0.4-0.2 1-0.4 1-0.3 0.9 0 0.1-0.3 1-0.2 1-0.4 1-0.1 0.2-0.2 0.8-0.3 1 0 1 0.2 2 0 1-0.1 1-0.3 1-0.3 0.8-0.1 0.2-0.2 1-0.1 1 0 1 0.1 1 0 1-0.1 1-0.6 3 0 0.3-0.1 0.7 0 1-0.1 1-0.2 1-0.3 3-0.2 1-0.1 0.3-0.3 0.7-0.4 1-0.3 1-0.1 1 0 2-0.1 1 0 1-0.2 1-0.5 5-0.1 0.7 0 0.3-0.8 4 0 2-0.1 1 0 1-0.1 1-1-1 0-1-0.1-1 0-1-0.1-1 0-1-0.1-1 0-1-0.1-1 0-1-0.3-3-0.2-1-0.1-0.9 0-1.1-0.1-1 0-3-0.3-3 0-1-0.1-1 0-2-0.2-2 0-1-0.1-1 0-1-0.2-2 0-2-0.1-1 0-4-0.1-1 0-2-0.1-1 0-1-0.2-1-0.1-1 0-1-0.1-1 0-1-0.1-1 0-1-0.2-2 0-1-0.1-1 0-1-0.1-1 0-2-0.1-1 0-2-0.1-1 0-4-0.1-1 0-1-0.3-1 0-2-0.1-1 0-2-0.1-1 0-1-0.1-1 0-1-0.1-1 0-2-0.1-1 0-4-0.1-1 0-3-0.1-1 0-2-0.3-1-0.1-1 0-1-0.1-1 0-1-0.1-1 0-2-0.1-1 0-3-0.1-1 0-4-0.1-1 0-4-0.1-1 0-2-0.3-1-0.1-1 0-1-0.1-1 0-2-0.1-1 0-1-0.1-1 0-3-0.1-1 0-12-0.6-1-0.1-0.1-1-0.7-1-0.4-2-0.2-1 0.1-1 0.2-0.7 0.1-0.6 0-0.7-0.1-2-0.2-1-0.2-1 0.1-1 0.5-1 0.2-1-0.2-0.2-0.1-0.8-0.2-1-0.3-0.9-0.5-0.1-0.1-1 0-0.2 0.1-0.8 0.5-0.6 0.5-0.4 0.3-1 0.5-1 0.2-1-0.3-2-1-1-0.3-1-0.1-1 0.2-1 0.1-1-0.2-1-0.4-1-0.1-1 0.5-0.9 0.6-0.1 0.1-1 0.2-0.8-0.3-0.2-0.1-1-0.2-1 0-1 0.1-0.7 0.2-0.3 0.1-1 0.4-1 0.1-1-0.3-0.4-0.3-1.2-1-0.4-0.3-1-0.2-1 0.5-0.1 0-0.9 0.5-1 0-1-0.1-1 0.1-1 0-1-0.2-1-0.1-1 0.2-1 0.3-1 0.1-1-0.3-1-0.5-1 0.2-1 0.5-0.4 0.3-0.6 0.4-1 0.1-1-0.4-1-0.5-1 0.1-1 0.6-1 0.5-1 0.1-1 0-0.3 0.1-0.7 0.3-1 0.5-1 0-1-0.7-0.2-0.1-0.8-0.5-2 0.4-1-0.3-1-0.2-1 0-1-0.2-0.4-0.2-0.6-0.4-1-0.1-0.7 0.5-0.3 0.2-1 0.5-1 0-1 0.1-0.2 0.2-0.8 0.6-1 0.4-1 0.3-1 0.6-0.1 0.1-0.9 0.7-1 0.2-1-0.4-1 0.1-1 0.5-1 0.3-1-0.2-1 0.2-1 0.5-0.3 0.1-0.7 0.3-1 0-1 0.1-1 0.3-0.4 0.3-0.6 0.4-1 0.2-1-0.1-1-0.2-1 0.1-1 0.3-1-0.1-1-0.2-1 0-1 0.2-0.4 0.4-0.6 0.5-0.8 0.5-0.2 0.2-1 0.1-1-0.2-1 0.1-1 0.5-0.4 0.3-1 1-0.6 0.5-1 0-1-0.4-1 0-1 0.1-1-0.2-1 0.2-1 0.4-1 0.1-1-0.2-1 0-0.6 0.5-0.4 0.3-1 0.6-1 0-1-0.4-1 0-1 0.5-1 0.8-0.2 0.2-0.8 0.6-1 0-0.8-0.6-0.2-0.2-1-0.5-1 0.1-1 0.5-0.1 0.1-0.9 0.5-1 0.1-2-0.2-1 0.4-0.2 0.2-0.8 0.4-1 0.1-1-0.1-1 0-0.9 0.6-0.1 0.1-1 0.7-0.4 0.2-0.6 0.2-0.9-0.2-0.1-0.1-1-0.9-0.1 0 0.1-0.5 2-1 0.6-0.5 0.4-0.4 1-1.2 0.7-0.4 0.3-0.3 1-0.2 1 0.1 1-0.3 0.4-0.3 0.6-0.5 0.9-0.5 0.1 0 1-0.1 0.3 0.1 0.7 0.1 1-0.1 2-1 1-0.1 1 0.5 0.8 0.6 0.2 0.2 1 0 0.4-0.2 0.6-0.5 1-1 0.8-0.5 0.2-0.1 1 0 0.2 0.1 0.8 0.3 1-0.1 0.4-0.2 1.5-1 0.5 0 0.6 0.1 1 0.3 1-0.1 0.8-0.3 0.2-0.1 1-0.3 1 0 1-0.1 1 0.1 1 0.5 1 0 2.1-2.1 0.9-0.5 1-0.1 1 0.1 1-0.1 0.7-0.4 0.3-0.2 1-0.7 0.1-0.1 0.9-0.4 1 0.2 0.6 0.2 0.4 0.1 1 0.1 0.6-0.2 0.4-0.2 1-0.2 1 0.3 0.3 0.1 0.7 0.2 0.6-0.2 0.4-0.1 1-0.6 0.3-0.3 0.7-0.8 0.2-0.2 0.6-1 0.2-0.5 0.3-0.5 0.2-1 0.2-2 0-2-0.1-1 0-2-0.1-1-0.5-0.9-1 0-1 0.2-1 0.4-0.5 0.3-0.5 0.2-1 0.1-1-0.2-0.2-0.1-0.8-0.3-1-0.2-1 0.1-1 0.2-1 0-1-0.2-1-0.3-0.9-0.3-0.1 0-1-0.6-0.7-0.4-0.3-0.3-1-0.3-1 0.1-1-0.2-0.7-0.3-0.3-0.1-1-0.5-0.5-0.4-0.5-0.5-0.3-0.5-0.4-1-0.3-1-0.8-2 0-1 0.3-1 0.5-0.8 1.1-2.2 0.4-1 0.5-0.9 0.1-0.1 0.9-0.8 1-0.4 1-0.2 1-0.3 0.9-0.3 0.1-0.1 1-0.5 0.5-0.4 0.5-0.5 0.7-0.5 0.3-0.2 1-0.3 1-0.2 1-0.3 1-0.6 0.7-0.4 0.3-0.2 1-0.3 1-0.1 2 0 2-0.4 0.1 0 0.9 0.1 1 0.1 0.9-0.2 0.1 0 0.6-3 0.4-0.9 0-0.1 0.4-1 0.3-1 0.3-0.9 0.1-0.1 0.5-1 0.4-0.6 0.7-1.4 0.3-0.5 0.2-0.5 1.8-3.6 1 0.6 1 0.9 0.1 0.1 0.9 1 0.1 0 0.9 0.3 0.6-0.3 0.4-0.1 1-0.1 0.2 0.2 0.7 1 0.1 0.1 0.3 0.9 0.3 1 0.2 1 0.2 0.9 0 0.1 0.2 1 0.1 1 0.6 2 0.1 0.2 0.5 0.8 0.5 0.7 1-0.3 0.3-0.4 0.6-1 0.1-0.1 0.3-0.9 0.4-1 0.3-0.9 0-0.1 0.3-1 0.4-2 0.3-1 0-0.1 0.2-0.9 0.4-2 0.3-1 0.1-0.4 0.2-0.6 0.2-1 0.3-1 0.2-1 0.1-0.3 0.3-0.7 0.6-2 0.1-0.4 0.8-1.6 0.2-0.6 0.3-0.4 0.5-1 0.2-0.5 0.3-0.5 0.7-0.8 0.4-0.2 0.6-0.2 1 0.4 0.9 0.8 0.1 0.1 0.6 0.9 0.4 0.5 0.3 0.5 1.4 2 0.3 0.5 0.4 0.5 0.6 0.8 1 1 0.7 0.2 0.3 0.1 0.8-0.1 0.2 0 1-0.6 0.7-0.4 0.3-0.2 1-0.6 1-0.5 1-0.4 0.8-0.3 0.2-0.1 1-0.4 0.9-0.5 0.1 0 1-0.3 1 0.3 0.9 1 0.1 0.1 0.7 0.9 0.3 0.4 0.9 0.6 0.1 0.1 0.3-0.1 0.7-0.2 0.7-0.8 0.3-0.4 0.8-1.6 0.2-0.3 0.3-0.7 0.6-1 0.1-0.2 0.9-0.8 0.1-0.1 0.2 0.1 0.8 0.5 0.3 0.5 0.5 1 0.4 1 0.6 2 0.2 0.8 0.1 0.2 0.6 2 0.2 1 1 2 0.1 0.3 1 0.4 1-0.6 0.1-0.1 0.7-1 0.2-0.3 0.3-0.7 0.4-1 0.3-0.7 0.1-0.3 0.6-2 0.3-0.9 0-0.1 0.4-1 0.3-1 0.3-0.7 0.1-0.3 0.5-1 0.4-1 0.6-1 0.4-0.6 0.4-0.4 0.6-0.7 1-0.5 2-0.6 0.3-0.2 0.7-0.5 0.4-0.5 0.6-0.9 1.1-1.1 0.9-1zM395.9 576l0.1-0.8 0.7 0.8 0 3-0.1 1-0.2 1-0.1 1-0.2 1-0.1 0.6-0.1-0.6 0-1-0.2-2 0-3z"/>
<path fill="#00e0fb" d="M361.8 357l0.2-0.3 1-0.6 1 0.3 1 1.2 0.7 1.4 0.3 0.5 0.6 1.5 0.3 1 0.1 0.6 0.1 0.4 0.1 1 0.6 2 0.2 0.5 0.5 0.5 0.5 0.4 1 0.5 0.1 0.1 0.9 0.5 1 0.4 1-0.4 0.4-0.5 0.6-0.7 0.3-0.3 0.7-0.8 1-0.5 0.8 0.3 0.2 0.1 1 0.9 0 0.1 1 0.4 0.5-0.5 0.5-0.3 0.5-0.7 0.5-0.6 0.7-1.4 0.3-0.5 0.2-0.5 0.8-1.6 0.3-0.4 0.5-1 0.2-0.3 0.6-0.7 0.4-0.4 1-0.3 1 0.4 0.4 0.3 0.6 0.6 0.3 0.4 0.7 0.8 0.2 0.2 0.8 1 0.7 1 0.3 0.5 0.4 0.5 0.6 0.9 0.1 0.1 0.9 1 0 0.1 1 0.2 0.8-0.3 0.2-0.1 1-0.4 2 0 1-0.3 0.2-0.2 0.8-0.9 0.1-0.1 0.9-0.8 0.4-0.2 0.6-0.4 1-0.6 0.1 0 0.9-0.4 1 0.5 1 1.8 0.1 0.1 1 2 0.6 1 0.3 0.6 1 0 0.4-0.6 0.6-0.7 0.2-0.3 0.8-0.9 1 0.2 0.5 0.7 0.5 0.9 0 0.1 1.2 3 0.6 2 0.2 0.4 0.2 0.6 0.4 1 0.4 0.9 0.1 0.1 0.6 1 0.3 0.4 0.7 0.6 0.3 0.3 1 0.2 0.4-0.5 0.6-0.8 0.1-0.2 0.8-2 0.1-0.3 0.4-0.7 0.4-1 0.2-0.4 0.4-0.6 0.4-1 0.2-0.6 0.4-0.4 0.6-0.5 1 0.1 1 0.3 0.1 0.1 0.9 0.3 1 0.4 0.8 0.3 0.2 0.1 1 0.1 1 0.5 0.5 0.3 1.5 1.5 0.4 0.5 0.6 0.8 0.6 1.2 0.4 0.9 0 0.1 0.4 1 0.4 2 0.1 1 0 1 0.1 1 0 3-0.2 2 0 1 0.1 1 0.1 0.3 0.2 0.7 0.4 1 0.2 2 0 2-0.1 1 0 2 0.1 1-0.1 1-0.6 2-0.1 0.3-0.1 0.7-0.1 1 0 8-0.1 1 0 1 0.1 1 0.2 0.9 0 0.1 0.4 1 0.4 2 0.1 1 0 2-0.1 1 0 3-0.2 2-0.2 1-0.3 1-0.1 0.2-0.5 0.8-0.5 1-0.4 1-0.6 2 0 0.1-0.5 0.9-0.5 0.8-0.1 0.2-0.9 0.9-0.2 0.1-0.8 0.5-1 0.4-1-0.7-0.1-0.2-0.4-1-0.3-1-2-4-0.4-1-0.6-1-0.2-0.3-1-0.4-0.4 0.7-0.6 0.6-0.2 0.4-0.4 1-0.1 1 0 2-0.2 1-0.1 0.1-0.4 0.9-0.6 0.9-0.1 0.1-0.8 1-0.1 0.1-1 0-0.1-0.1-0.4-1-0.2-1-0.3-1-0.8-1-0.2-0.3-0.2 0.3-0.6 1-0.2 0.5-0.3 1.5-0.4 1-0.3 0.4-0.8 0.6-0.2 0.6-0.1 0.4-0.2 1-0.3 1-0.4 1 0.6 1 0.4 0.2 1 0.3 0.3 0.5 0.2 1 0.1 1-0.2 2-0.4 1-0.8 1-0.2 0.2-0.4 0.8-0.4 1-0.2 0.4-0.4 0.6-0.6 0.5-1 0-0.6-0.5-0.4-0.6-0.1 0.6 0 1 0.1 0.4 0.3 0.6 0.2 1 0.1 1 0 1-0.2 2-0.4 2 0 0.1-0.1 0.9-0.2 1-0.3 1-0.4 0.8-1 1-0.1 0.2-0.3 1 0 1 0.2 1 0.2 0.9 0 0.1 0.2 1 0.4 4-0.1 1 0 2 0.3 1 0.2 0.5 0.3 1.5 0 1-0.2 1-0.1 0.1-0.4 0.9-0.4 1-0.2 0.7-0.1 0.3-0.2 1-0.7 1.4-1 1.2-0.7 1.4-0.3 0.7-0.1 0.3-0.9 1.5-0.2 0.5-0.2 2 0.2 2 0 1-0.2 2 0.3 1 0.2 1-0.1 0.8 0 0.2-0.3 1-0.2 1-0.3 1-1.2 3 0 0.1-0.2 0.9 0 2-0.2 2-0.4 2-0.2 0.7-0.1 0.3-0.3 1-0.5 1-0.1 0.3-0.3 0.7-0.2 1 0.4 2 0 1-0.3 1-1 2-0.3 1-0.2 1 0.1 1 0.3 1 0.5 1 0 0.1 0.2 0.9 0 1-0.1 1-0.1 0.3-0.1 0.7-0.3 1-0.5 1-0.1 0.4-0.2 0.6 0 2 0.1 1-0.4 4 0 4-0.2 2-0.2 1-0.1 0.8-0.1 0.2-0.4 1-0.5 0.8-0.1-0.8-0.1-1-0.2-1-0.2-2 0-1-0.1-1 0-1-0.1-1-0.2-0.9 0-0.1-0.1-1 0-1-0.1-1 0-2-0.1-1 0-1-0.1-1 0-1-0.1-1 0-1-0.1-1 0-1-0.1-1 0-3-0.1-1 0-1-0.1-1-0.1-0.6 0-0.4-0.1-1 0-2-0.2-1 0-1-0.1-1 0-1-0.1-1 0-1-0.2-2 0-1-0.2-2 0-1-0.1-1 0-1-0.1-1 0-2-0.1-1 0-2-0.1-1 0-3-0.1-1-0.2-1 0-2-0.1-1 0-2-0.1-1 0-1-0.1-1 0-1-0.1-1 0-1-0.1-1 0-3-0.1-1 0-2-0.1-1 0-4-0.1-1-0.2-1-0.1-1 0-1-0.1-1 0-1-0.1-1 0-1-0.1-1 0-3-0.1-1 0-3-0.1-1 0-3-0.1-1 0-3-0.1-1 0-1-0.3-1 0-1-0.1-1 0-2-0.1-1 0-2-0.1-1 0-2-0.1-1 0-2-0.1-1 0-5 0.1-1 0-4-0.6-1-0.3-0.4-0.9-0.6-0.1-0.1-1-0.3-2-0.2-1 0.1-1 0.2-1 0.1-3-0.3-1-0.3-1 0.2-1 0.5-1 0.2-0.4-0.1-0.6-0.2-1-0.2-1-0.3-1-0.6-1 0-1 0.6-0.9 0.7-0.1 0.1-1 0.5-1 0.2-1-0.3-2-1-1-0.3-1-0.1-1 0.2-1 0.1-1-0.2-0.4-0.2-0.6-0.2-1-0.1-1 0.5-1 0.6-0.7 0.2-0.3 0.1-0.2-0.1-0.8-0.3-1-0.2-1 0-1 0.1-1 0.3-0.3 0.1-0.7 0.3-1 0.1-1-0.3-0.1-0.1-0.9-0.7-0.4-0.3-0.6-0.6-1-0.2-1 0.5-1 0.6-1-0.1-1 0-1 0.1-1 0-1-0.2-1-0.1-3 0.6-1-0.3-1-0.5-1 0.2-1 0.5-0.8 0.5-0.2 0.1-1 0.2-0.7-0.3-0.3-0.2-1-0.4-1 0.1-0.9 0.5-0.1 0.1-1 0.4-1 0.1-1 0-2 1-1 0-0.9-0.6-0.1-0.1-1-0.6-1 0.2-1 0.1-1-0.2-1-0.3-1 0.1-0.9-0.2-0.1 0-1-0.6-1-0.1-1 0.6-0.1 0.1-0.9 0.4-2 0.2-1 0.8-1 0.4-0.7 0.2-0.3 0.1-1 0.6-0.4 0.3-0.6 0.4-1 0.2-1-0.3-1 0.1-1 0.5-0.4 0.1-0.6 0.2-1-0.2-1 0.1-2 1-2 0-1 0.4-0.7 0.5-0.3 0.2-1 0.2-1-0.1-1-0.2-1 0.1-1 0.2-1 0-1-0.2-1-0.1-1 0.3-0.7 0.6-0.3 0.2-1 0.7-1 0.2-0.4-0.1-0.6-0.2-1 0.2-1 0.4-1 1-0.7 0.6-0.3 0.2-1 0.1-0.7-0.3-0.3-0.2-1-0.1-1 0.2-1-0.2-1 0.3-1 0.4-1 0.1-1-0.2-1 0-0.9 0.7-0.1 0-1 0.6-1 0-1-0.3-1 0-1 0.4-0.4 0.3-0.6 0.5-0.5 0.5-0.5 0.4-1-0.1-0.4-0.3-0.6-0.5-1-0.4-1 0.1-1 0.4-0.5 0.4-0.5 0.2-1 0.2-2-0.2-1 0.4-0.6 0.4-0.4 0.2-1 0.1-1-0.2-1 0.1-1 0.4-1 0.8-1 0-0.4-0.4 0.4-0.3 0.6-0.7 0.4-0.4 1-1.2 0.6-0.4 0.4-0.3 1-0.2 1 0.1 1-0.3 0.5-0.3 0.5-0.4 0.9-0.6 0.1-0.1 1 0 0.3 0.1 0.7 0.1 1 0 0.1-0.1 0.9-0.4 1-0.6 0.2 0 0.8-0.1 1 0.5 0.7 0.6 0.3 0.2 1 0.1 0.4-0.3 0.6-0.4 1-1 1-0.6 1.1 0 0.9 0.3 1 0 0.5-0.3 0.5-0.4 1-0.5 1 0.1 1 0.3 1 0 1-0.5 0.2 0 0.8-0.2 1 0 1-0.2 1 0.1 1 0.6 1 0 1.3-1.3 0.7-0.8 0.3-0.2 0.7-0.5 1-0.1 1 0.1 1-0.1 0.7-0.4 0.3-0.2 1-0.8 0.1 0 0.9-0.4 1 0.2 0.4 0.2 0.6 0.2 1 0.2 1-0.4 1-0.3 1 0.3 1 0.2 0.7-0.2 0.3-0.1 1.5-0.9 0.5-0.4 0.7-0.6 0.3-0.3 0.8-0.7 0.2-0.2 0.4-0.8 0.4-1 0.1-1 0.1-0.8 0-0.2 0.1-1 0-2-0.1-1 0-1 0.3-3 0-2-0.1-1 0-1-0.1-1-0.1-0.8-0.3 0.8-0.7 1-1 0.5-1-0.1-0.7-0.4-0.3-0.2-1-0.7-0.1-0.1-0.9-0.5-1 0.3-0.2 0.2-0.8 0.7-0.4 0.3-0.6 0.5-1 0.2-2 0-1-0.1-1-1.2-0.2-0.4-0.6-1-0.2-0.3-0.8-0.7-1-1-0.2-0.6-0.1-0.4 0.1-0.4 0.3-0.6 0.7-0.5 0.4-0.5 0.4-1 0.2-1 0-0.1 0.2-0.9 0.6-1 0.2-0.2 1-0.3 1 0.1 1 0.3 0.2 0.1 0.8 0.5 1 0.2 1-0.2 0.9-0.5 0.1-0.1 0.8-0.9 0.2-0.3 0.5-0.7 0.5-0.5 1-0.2 1 0.4 0.9 0.3 0.1 0 1 0.3 1 0.6 0.1-0.9 0.1-1 0-2-0.1-1 0-2 0.4-2 0.3-1 0.2-0.4 0.5-0.6 0.5-0.8 0.1-0.2 0.6-1 0.3-0.7 0.2-0.3 0.5-1 0.3-0.8 0.6-1.2 0.4-0.9 1 0.8 0.1 0.1 0.8 2 0.1 0.2 1 0.8 1-0.3 1-0.5 1 0.5 0.1 0.3 0.1 1 0.8 4 0 0.1 0.2 0.9 0.4 2 0.3 1 0.1 0.3 0.4 0.7 0.6 0.8 0.3 0.2 0.7 0.5 1-0.4 0-0.1 1.5-3 0.4-1 0.1-0.4 0.2-0.6 0.1-1 0.6-3 0.1-0.7 0.1-0.3 0.2-1 0.1-1 0.2-1 0.1-1 0.2-1 0.1-0.3 0.2-0.7 0.6-2 0.2-1 0.5-1 0.3-1 0.2-0.9 0-0.1 0.6-1 0.4-1 0.1 0 1.5-1 0.4-0.4 0.5-0.6 0.5-0.5 1-0.3 1 0.4 0.4 0.4 0.6 0.5 0.4 0.5 0.6 0.7 0.2 0.3 0.7 1 0.1 0.1 0.7 0.9 0.3 0.5 0.5 0.5 0.5 0.6 1 0.5 0.8-0.1 0.2 0 1-0.6 0.6-0.4 0.4-0.2 1-0.3 1-0.2 0.8-0.3 0.2-0.1 1-0.7 0.2-0.2 0.8-0.5 0.7-0.5 0.3-0.1 1-0.2 0.6 0.3 0.4 0.3 0.6 0.7 0.4 0.6 0.3 0.4 0.6 1 0.1 0.2 1 0.8 1-0.5 0.4-0.5 0.6-0.9 0-0.1 0.6-1 1-2 0.4-1 1-1 1 0.6 0.2 0.4 0.3 1 0.4 1 0.1 0.4 0.2 0.6 0.3 1 0.4 2 0.1 0.4 0.1 0.6 0.6 3 0.3 1 0 0.1 1 1.8 0.4 0.1 0.6 0.2 0.3-0.2 0.7-0.4 0.4-0.6 0.6-1 1-2.5 0.1-0.5 0.4-1 0.3-1 0.2-0.9 0-0.1 0.3-1 0.4-2 0.3-1 0-0.2 0.3-0.8 0.4-1 0.3-0.9 0.1-0.1 0.5-1 0.4-0.7 0.3-0.3 0.7-0.8 1-0.5 1-0.2 1-0.1 1 0 0.5-0.4 0.5-0.6 0.2-0.4 0.4-1 0.4-0.6 0.2-0.4zM267.4 402l0.6-0.4 0.3 0.4-0.1 1-0.2 0.2-0.4-0.2z"/>
<path fill="#00c8ff" d="M362.5 359l0.5-0.6 1 0.1 0.4 0.5 0.6 0.7 0.2 0.3 0.4 1 0.3 1 0.1 0.6 0.1 0.4 0.2 2 0.6 3 0.1 0.3 0.2 0.7 0.1 1-0.3 1 0 0.1-0.2 0.9-0.2 2 0 1 0.2 1 0.2 0.7 0.3-0.7 0.7-0.6 0.2-0.4 0.6-1 0.2-0.5 0.3-0.5 0.3-1 0.4-0.7 1 0.4 0.3 0.3 0.7 0.8 0.8 0.2 0.2 0 0.9-1 0.1-0.2 0.3-0.8 0.2-1 0.4-1 0.1-0.2 1-0.5 0.7 0.7 0.3 0.7 0.1 0.3 0.4 2 0.5 1 1 0.6 0.9-0.6 0.1-0.1 0.3-0.9 0.3-1 0.2-1 0.2-0.9 0-0.1 0.2-1 0.3-1 0.4-1 0.5-1 0.6-1 0-0.1 0.7-0.9 0.3-0.5 0.4-0.5 0.6-0.8 0.3-0.2 0.7-0.6 1 0.2 1 0.8 0.6 0.6 0.8 1 0.6 0.8 0.1 0.2 0.7 1 0.5 1 0.4 1 0.3 0.9 0.1 0.1 0.8 1 0.1 0.1 1 0.5 1 0.1 1-1 0.9-0.7 0.2 0 0.9 0.2 1 0 0.1-0.2 0.7-1 0.2-0.3 0.3-0.7 0.7-1 1-0.7 0.8-0.3 0.2-0.1 1-0.1 0.2 0.2 0.8 0.7 0.2 0.3 0.6 1 0.2 0.4 0.2 0.6 0.3 1 0.2 1 0.1 1 0.2 0.7 0.2 0.3 0.8 0.6 1-0.4 1.2-1.2 0.7-1 0.1-0.2 0.3 0.2 0.7 0.3 0.4 0.7 0.6 0.6 1 2 0.1 0.4 0.4 1 0.3 1 0.4 1 0.5 1 1.3 1.3 0.6 0.7 0.4 0.7 0.5 0.3 0.5 0.4 0.3-0.4 0.7-0.7 0.1-0.3 0.5-1 0.3-1 0.1-0.5 1-2.5 0.2 0 0.8-0.3 0.1 0.3 1 2 0.6 1 0.3 0.7 0.2 0.3 0.7 1 0.1 0.2 0.7-0.2 0.3-0.1 0.6-0.9 0.4-0.7 0.2-0.3 0.4-1 0.1-1 0.3-0.9 0.4-0.1 0.6 0 1 0.7 0.3 0.3 0.7 0.9 0.1 0.1 0.5 1 0.3 1 0.1 0.3 0.1 0.7 0.2 1 0.6 2 0.1 1 0 1-0.4 2-0.3 1-0.3 1.5-0.5 0.5 0 1 0.3 1 0.2 0.3 0.3 0.7 0.7 0.8 0.1 0.2 0.4 1 0.2 1 0.1 1 0 1-0.4 4 0 1 0.1 1 0 4-0.1 1 0 1 0.1 1 0 2-0.2 1-0.1 1-0.2 0.8 0 0.2-0.2 1-0.1 1 0.1 1 0.2 0.9 0 0.1 0.4 1 0.3 1 0.1 1-0.1 1-0.2 1-0.1 1-0.4 2 0 0.2-0.2 0.8-0.3 1-0.5 0.9 0 0.1-0.5 1-0.4 1-0.1 0.2-0.6 0.8-0.4 0.4-1 0-0.3-0.4-0.4-1-0.2-1 0-1-0.1-0.6-0.1-0.4-0.6-2-0.3-0.8-0.1-0.2-0.2-1 0-1 0.2-2 0-1-0.2-1-0.6-2-0.1-0.1-0.4-0.9-0.5-1-0.1-0.3-0.2-0.7 0.1-1 0.1-0.6 0.1-0.4 0.8-2 0-1-0.4-2 0-1-0.2-1-0.5-1-0.8-0.8-0.6-0.2-0.4-0.2-0.9-0.8-0.1-0.1-0.3-0.9-0.3-1-0.4-0.4-0.8-1.6-1.2-3 0-0.1-1-0.3-0.3 0.4-0.4 1-0.2 1-0.1 0.4-0.1 0.6-0.2 2 0 2 0.2 1 0.1 0.4 0.3 0.6 0.4 1 0.3 0.9 0.1 0.1 0.6 2 0.3 0.8 0.2 0.2 0.8 1 0 0.1 0.4 0.9-0.4 0.7-0.1 0.3-0.2 1 0.3 1 0 0.1 1 1.8 0.1 0.1 0.3 1 0 1-0.3 3 0.1 1 0 1 0.1 1-0.2 2-0.1 0.4-0.1 0.6-0.4 1-0.5 0.9-0.3 0.1-0.7 0.5-0.2-0.5-0.5-1-0.6-1-0.7-0.8-1 0.2-0.4 0.6-0.5 1-0.1 0.3-0.2 0.7-0.4 2-0.3 1-0.1 0.2-0.3 0.8-0.7 1.4-0.7 0.6-0.3 0.2-0.8-0.2-0.2 0-1-0.9-0.1-0.1-0.6-1-0.3-0.7-0.1-0.3-0.7-1-0.2-0.3-0.8-0.7-0.2-0.2-1-0.3-0.7 0.5-0.3 0.5-0.2 0.5 0.2 1 0.6 1 0.4 0.6 0.3 0.4 0.7 0.9 0.1 0.1 0.4 1 0.3 1 0 2 0.2 1 0.4 1 0.1 1-0.1 1-0.3 1-1 2-0.1 0.1-1 0.5-0.2 0.4-0.1 1 0.2 1 0 1-0.1 1-0.3 1-0.2 1 0.3 1 0.4 0.6 0.2 0.4 0.6 2 0.1 1-0.1 1-0.2 1-0.3 1-0.2 1-0.1 1-0.4 1-0.6 0.8-0.1 0.2-0.4 1 0 3-0.1 1 0 3-0.1 1-0.2 1-0.1 0.6-0.1 0.4-0.2 1-0.3 1-0.2 1 0 1 0.2 1 0.4 1 0.2 0.8 0.1 0.2 0 1-0.5 1-0.6 0.9 0 0.1-0.5 1-0.4 1-0.1 0.3-0.2 0.7-0.3 1-0.2 1-0.1 1 0 1-0.1 1-0.1 0.7-0.1 0.3-0.4 2 0 2-0.2 1-0.3 1-0.4 1-0.3 1-0.1 1 0.2 1 0.3 1 0.1 1-0.2 1-0.6 1 0 0.1-0.2 0.9 0 2-0.6 3 0 1 0.4 2 0 1-0.3 1-0.3 0.7-0.2 0.3-0.8 1-0.6 1-0.3 1 0 1 0.2 1 0.1 1-0.2 1-0.2 0.8 0 0.2-0.3 1-0.3 3 0.2 2 0.2 1 0.2 0.7 0.1 0.3 0.2 1-0.1 1-0.2 0.7-0.1 0.3-0.3 1-0.6 6-0.1-1-0.4-2-0.4-1-0.1-0.3 0-0.7-0.1-1 0-2-0.1-1 0-2-0.1-1 0-3 0.1-1 0-1-0.4-4-0.2-1-0.2-0.9 0-0.1-0.1-1 0-1-0.2-2 0-1-0.1-1 0-1-0.2-2 0-1-0.1-1 0-1-0.1-1 0-1-0.2-2 0-2-0.1-1 0-1-0.1-1 0-3-0.2-1 0-2-0.1-1 0-3-0.1-1 0-1-0.1-1 0-1-0.1-1 0-1-0.1-1 0-1-0.1-1 0-2-0.1-1 0-2-0.1-1 0-2-0.1-1-0.2-1 0-1-0.1-1 0-1-0.1-1 0-2-0.1-1 0-4-0.1-1 0-2-0.1-1 0-1-0.1-1 0-3-0.1-1 0-2-0.1-1-0.2-1 0-1-0.1-1 0-1-0.1-1 0-3-0.1-1 0-2-0.1-1 0-2-0.1-1 0-7 0.1-1 0-2-0.1-0.1-0.4-0.9-0.6-0.7-0.4-0.3-0.6-0.3-1-0.3-2-0.2-1 0.1-1 0.2-1 0.1-3-0.3-1-0.3-1 0.2-1 0.5-1 0.2-1-0.3-1-0.2-1-0.4-0.1 0-0.9-0.5-1-0.1-0.8 0.6-0.2 0.1-1 0.7-0.3 0.2-0.7 0.3-1 0.2-1-0.2-0.6-0.3-0.4-0.3-1-0.4-1-0.3-1-0.2-0.7 0.2-0.3 0-1 0.1-0.8-0.1-0.2-0.1-1-0.4-1-0.1-1 0.6-1 0.5-1 0.3-1-0.4-1-0.2-1 0.1-1 0-1 0.3-1 0.5-1 0.1-0.7-0.2-0.3-0.2-1-0.7-0.1-0.1-0.9-0.8-1-0.2-1 0.5-0.9 0.5-1.4 0-0.7-0.1-0.3 0.1-0.7 0.1-1 0-0.4-0.1-0.6-0.2-1-0.1-1 0.2-0.2 0.1-0.8 0.2-1 0.2-1-0.3-0.2-0.1-0.8-0.5-1 0.2-2 1.2-1 0.2-0.2-0.1-0.8-0.5-1-0.3-1 0-1 0.6-0.3 0.2-0.7 0.3-1 0.1-1 0-1 0.4-0.3 0.2-0.7 0.3-1 0.1-1-0.8-1-0.5-1 0.2-1 0.1-1-0.2-0.7-0.2-0.3-0.1-1 0.1-1-0.3-1-0.5-1-0.1-1 0.5-0.6 0.4-0.4 0.2-2 0.2-0.8 0.6-0.2 0.2-2 0.6-0.3 0.2-0.7 0.4-0.7 0.6-0.3 0.2-1 0.2-1-0.3-1 0-1 0.5-1 0.3-1-0.2-1 0.2-1 0.5-1 0.3-1 0-1 0.1-0.3 0.2-0.7 0.2-1 0.7-0.1 0.1-0.9 0.2-1-0.2-0.2 0-0.8-0.4-1 0.4-0.1 0-0.9 0.2-1 0-0.8-0.2-0.2-0.1-1-0.1-0.3 0.2-0.7 0.2-1 0.8-1 0.5-1 0.2-1-0.2-1 0-0.6 0.5-0.4 0.2-0.9 0.8-0.1 0.1-1 0.9-1.1 0-0.9-0.6-2 0-1-0.1-1 0.1-0.7 0.6-0.3 0.1-1 0.1-1-0.1-1 0-1 0.5-0.4 0.4-0.6 0.3-1 0.1-1-0.3-1-0.1-1 0.4-0.7 0.6-0.3 0.3-0.8 0.7-0.2 0.1-1 0-0.1-0.1-0.9-0.7-0.6-0.3-0.4-0.3-1 0.2-0.1 0.1-0.9 0.3-1 0.7-1 0.2-2-0.2-1 0.3-1 0.6-0.3 0.1-1 0-0.7-0.4-1 0-0.5 0.4-0.5 0.1-0.3-0.1 0.3-0.5 0.4-0.5 0.6-0.4 1-0.2 1 0 1-0.2 0.3-0.2 0.7-0.6 0.6-0.4 0.4-0.2 1-0.1 1 0.2 1 0 1-0.4 0.8-0.5 0.2-0.1 1-0.2 1 0.6 0.9 0.7 0.1 0.1 1 0 0.1-0.1 0.9-0.6 0.4-0.4 0.6-0.5 0.8-0.5 0.2-0.2 1 0 0.6 0.2 0.4 0.2 1 0 0.3-0.2 0.7-0.4 1-0.6 1 0.1 1 0.3 1 0 0.9-0.4 0.1 0 1-0.3 1 0 1-0.2 1 0.2 1 0.5 1 0 0.2-0.2 0.8-0.7 0.3-0.3 0.7-0.9 0.2-0.1 0.8-0.5 1-0.2 1 0.1 1-0.1 0.4-0.3 0.6-0.4 0.8-0.6 0.2-0.2 1-0.3 1 0.2 0.7 0.3 0.3 0.2 1 0.1 0.8-0.3 0.2-0.1 1-0.3 1 0.3 0.7 0.1 0.3 0.1 0.2-0.1 0.8-0.3 1-0.6 0.2-0.1 0.8-0.5 0.9-0.5 0.1-0.1 1-0.5 0.4-0.4 0.6-0.8 0.1-0.2 0.4-1 0.3-1 0.1-1 0.1-0.8 0-0.2 0.2-1 0.1-1-0.2-2 0.1-1 0.2-1 0.6-2 1.5-3 0.4-4 0-1-0.1-1-0.2-1-0.4-1-0.2-0.7-0.1-0.3-0.3-1-0.2-1 0-2 0.1-1 0.2-1 0.1-1 0-1-0.4-1-0.3-1-0.1-1 0.2-1 0.3-1 0.4-1 0.1-0.2 0.5-0.8 0.5-0.6 1-0.3 0.7 0.9 0.3 1 0.1 1 0 2-0.1 0.7 0 1.4 1 0.6 0.8-0.7 0.2-0.1 1-1.5 0.6-0.4 0.4-0.3 0.1 0.3 0.6 1 0.3 0.6 0.1 0.4 0.3 1 0.2 1 0.1 1 0.2 1 0.1 0.8 0.1 0.2 0.4 1 0.5 0.5 0.4 0.5 0.5 1 0.1 0.3 0.1 0.7 0.4 2 0.1 1-0.3 1-0.3 0.5-1 0.4-0.2 0.1-0.8 0.7-0.1 0.3-0.3 1 0.3 1 0.1 0.1 1 0.2 1 1 0.6 0.7 0.4 0.4 0.4-0.4 0.6-0.4 0.3-0.6 0.3-1 0-3 0.1-1 0.2-1 0.1-0.2 0.1-0.8 0.2-1 0.3-3 0.2-1 0.2-2 0-1 0.1-1 0.4-1 0.5-0.8 0.2-0.2 0.7-1 0.1-0.5 0.2-0.5 0.1-1-0.1-1-0.2-1 0.2-2 0.2-1 0.1-1 0-2 0.1-1 0.4-2 0-0.1 1-0.8 0.4 0.9 0.3 1 0.1 1 0 2 0.2 0.6 0.2 0.4 0.8 0.7 0.6 0.3 0.4 0.5 0.9-0.5 0.1 0 0.2-1 0.3-1 0.2-2 0-3 0.2-2 0-1 0.1-0.7 0-0.3 0.2-1 0.6-1 0.2-0.2 1 0 0.3 0.2 0.7 0.5 0.4 0.5 0.6 0.8 0.6 1.2 0.4 0.7 0.2 0.3 0.8 1.6 0.3 0.4 0.7 1.4 0.6 0.6 0.4 0.5 0.6-0.5 0.1-1 0.3-1 0.5-1 0.5-0.6 1 0 0.8 0.6 0.2 0.3 0.6 0.7 0.4 1 0 0.1 0-0.1 0.3-1 0.7-1 0.4-1 0.3-1 0.3-0.6 0.1-0.4 0.9-1 1-0.1 0.1 0.1 0.8 1 0.1 0.1 0.4 0.9 0.6 1 0.8 1 0.2 0.2 1 0.4 1-0.3 0.6-0.3 0.4-0.3 0.6-0.7 0.4-0.7 0.1-0.3 0.8-2 0.1-0.4 0.2-0.6 0.6-1 0.2-0.3 0.3 0.3 0.7 0.8 0.1 0.2 0.9 3 0.1 1 0.2 1 0 1 0.1 1 0 2 0.1 1 0 1 0.2 1 0.2 2 0.1 0.4 0.9 0.6 0.1 0.1 0-0.1 1-0.7 0.5-0.3 0.5-0.2 1-0.2 0.8-0.6 0.2-0.2 0.6-0.8 0.4-0.7 0.2-0.3 0.7-1 0.1-0.3 0.5-0.7 0.1-1-0.1-1 0-1 0.2-1 0.3-0.9 0-0.1 0.4-1 0.3-3 0.3-1.5 1-2.5 0-0.1 0.8-0.9 0.2-0.3 1-0.3 0.6 0.6 0.4 0.7 0.2 0.3 0.8 0.7 1-0.2 0.8-0.5 0.2-0.1 0.7-0.9 0.3-0.6 0.1-0.4 0.2-1 0.3-1 0.1-1 0.3-1 0-0.1zM412 404l-0.5 1-0.3 1 0.1 1 0.5 1 0.2 0.3 0.1-0.3 0.3-1 0.1-1-0.1-1-0.4-1zM429 387.5l-0.4 0.5-0.2 1 0.1 1 0.4 1 0.1 0.1 1 0.1 0.2-0.2 0.7-1 0.1-0.3 0.6-0.7 0-1-0.6-0.5-1-0.3zM325 410.6l-0.6 0.4-0.2 1 0.6 1 0.2 0.2 1-0.1 0.1-0.1 0-1-0.1-0.3-0.6-0.7zM340 404.6l-0.1 0.4-0.3 1-0.1 1 0.1 1 0.4 0.9 0.8 0.1 0.2 0 0.5-1 0-1-0.2-1-0.3-0.9-0.3-0.1z"/>
<path fill="#00acff" d="M363.8 363l0.2-0.5 0.3 0.5 0.4 1 0.3 1-0.9 1-0.1 0-0.4-1-0.1-1zM385.1 364l0.9-0.8 1-0.2 1 0.6 0.4 0.4 0.6 0.8 0.1 0.2 0.6 1 0.3 0.8 0.1 0.2 0.1 1 0.2 1 0.6 1.5 0.3 0.5 0.7 1 0 0.1 0.4 0.9 0.4 1 0.1 1 0 1-0.2 1 0 2 0.2 2 0.1 0.3 0.1 0.7 0.2 1 0.5 5-0.4 2-0.3 1-0.1 0.4-0.2 0.6-0.8 2 0 0.1-1 1.8-0.1 0.1-0.7 1-0.8 2-0.3 1-0.1 0.6 0 1.5 0.3 0.9 0.6 2 0.1 0.2 0.2 0.8 0.3 1 0.2 1 0.3 1 0.8 2 0.2 0.4 1 0.4 0.6-0.8 0.3-1 0.1-0.3 0.3-0.7 0.7-1.4 0.9-0.6 0.1-0.1 0.1 0.1 0.8 1 0.1 0.1 0.6 0.9 0.4 0.5 0.6 0.5 0.4 0.3 1 0.3 1-0.1 1-0.2 2-1 0.2-0.3 0.2-1-0.4-1 0-0.1-0.1-0.9 0.1-0.3 1-0.6 0.6-0.1 0.4-0.1 0.9-0.9 0.1-0.3 0.1-0.7-0.1-0.4-0.1-0.6-0.4-2-0.3-1-0.2-1 0-0.1-0.1-0.9-0.2-1-0.1-1-0.4-2-0.2-2 0-2-0.1-1 0.1-0.5 0-0.5 0.3-1 0.2-1 0.3-1 0.2-1 0-0.1 0.1-0.9 0.3-1 0.2-1 0.3-1 0-3 0.5-1 0.6-0.5 0.7-0.5 0.3-0.2 1-0.7 0.3-0.1 0.7-0.2 0.6 0.2 0.4 0.2 0.7 0.8 0.3 0.4 0.2 0.6 0.3 1 0.2 1 0 3 0.1 1 0 2-0.1 1-0.2 1 0 2 0.4 4-0.1 1-0.3 1-0.4 1-0.1 0.2-0.2 0.8-0.4 2-0.1 1-0.2 1-0.1 0.1-0.3 0.9-0.4 1-0.3 0.4-0.4 0.6-0.6 1-0.7 1-0.2 1-0.1 0.8-0.1 0.2-0.8 1-0.1 0.2-0.7 0.8 0.1 1 0.6 0.9 0 0.1 0.6 1 0.5 1 0.2 1 0.3 1 0.4 0.7 0.1 0.3 0.8 1 0.1 0.1 1 0.2 0.5-0.3 0.5-0.5 0.2-0.5 0.3-1 0-1-0.1-1 0-1 0.2-1 0.3-1 0.2-1 0-1-0.1-0.9 0-0.1-0.1-1 0-1-0.4-4 0.1-1 0.4-0.7 0.2-0.3 0.8-0.9 0.8 0.9 0.2 0.3 0.1 0.7 0.2 1 0.3 3 0.2 1 0.2 0.9 0 0.1 0.3 1 0.4 2 0.3 1 0 0.1 0.2 0.9 0.1 1 0 1 0.3 3 0.3 1 0.1 0.2 0.7 0.8 0.3 0.2 0.7 0.8 0.3 0.9 0 0.2-0.3 0.9-0.3 1-0.2 1 0 2-0.2 0.6-0.4-0.6-0.5-1-0.1-0.1-0.8-0.9-0.2-0.1-0.1 0.1-0.9 0.6-0.3 0.4-0.7 0.9 0 0.1-0.5 1-0.2 1-0.3 1 0 0.1-0.3 0.9-0.4 2-0.3 1 0 0.1-1 0.9-0.1 0-0.9-0.7-0.2-0.3-0.8-0.9-0.3-0.1-0.7-0.3-1-1.4-0.2-0.3-0.8-0.8-1 0-1 0.6-0.3 0.2-0.7 0.5-1-0.3-0.9 0.8-0.1 0.2-0.2 0.8-0.2 1-0.6 2 0 0.2-0.2 0.8-0.2 1-0.1 1 0.1 1 0.4 0.8 0.3 0.2 0.7 0.3 1 0.3 0.5 0.4 0.5 1-0.1 1-0.2 1-0.4 1-0.3 1 0 0.1-0.3 0.9-0.3 1-0.1 1 0 1 0.2 1 0.3 1 0.2 0.8 0 0.2 0.1 1 0 1-0.2 1-0.2 2 0 1 0.1 1 0.2 1 0 0.2 0.2 0.8 0 1-0.2 0.4-0.2 0.6-0.5 1-0.3 1 0 2 0.4 2 0.1 1-0.1 1-0.4 1-0.5 1 0 1 0.2 2-0.1 1-0.3 1-0.3 0.8-0.1 0.2-0.3 1 0.2 2-0.1 1-0.3 1-0.4 2-0.2 2-0.4 2-0.1 1-0.2 1-0.1 0.7-0.1 0.3-0.8 2-0.1 1 0.1 1 0.2 1 0.2 2 0 2-0.4 2-0.1 0.3-0.1 0.7-0.2 2 0 1-0.6 2-0.1 0.3-0.1 0.7 0 2-0.4 4 0 2 0.2 2-0.3 1-0.4 0.6-0.2 0.4-0.6 1-0.2 0.5-0.3 0.5-0.4 1-0.3 0.6-0.1-0.6-0.3-1-0.4-2-0.2-0.7 0-0.3-0.1-1 0-1-0.2-2 0-1-0.1-1 0-2-0.1-1 0-1-0.1-1 0-1-0.2-2 0-1-0.1-1-0.1-0.5 0-0.5-0.1-1 0-2-0.1-1 0-3-0.1-1 0-2-0.1-1 0-1-0.1-1 0-1-0.1-1 0-2-0.1-1 0-2-0.2-2 0-1-0.1-0.6 0-1.4-0.1-1 0-2-0.2-1 0-1-0.1-1 0-1-0.1-1 0-2-0.1-1 0-6-0.1-1 0-1-0.1-1 0-1-0.1-1 0-1-0.1-0.8 0-1.2-0.1-1 0-1-0.3-3 0-1-0.1-1 0-4-0.1-1 0-3-0.1-1 0-2-0.1-1 0-1 0.1-1 0-1 0.1-1 0-1 0.1-1 0-1 0.1-1 0-1-0.6-0.6-0.2-0.4-0.7-1-0.1-0.1-1-0.5-1-0.2-2-0.2-3 0.3-1 0-2-0.2-0.3-0.1-0.7-0.3-1 0.3-1 0.4-1 0.2-2-0.4-0.5-0.2-0.5-0.3-1-0.4-1-0.1-1 0.6-0.2 0.2-0.8 0.5-0.7 0.5-0.3 0.1-1 0.2-1-0.2-0.2-0.1-0.8-0.6-1-0.4-0.1 0-0.9-0.4-1-0.1-2 0.4-2-0.6-1-0.1-1 0.4-0.5 0.4-0.5 0.3-1 0.1-2-0.4-1 0-1 0.1-1 0.2-1 0.5-0.9 0.2-0.2 0-0.9-0.5-0.8-0.5-0.2-0.2-1-0.8-0.1 0-0.9-0.4-0.5 0.4-0.5 0.2-1 0.5-1-0.1-1 0-1 0.2-1-0.1-1-0.2-1 0-1 0.1-1 0.4-1 0.1-0.5-0.1-0.5-0.3-1-0.5-1 0.1-0.9 0.7-0.1 0-1 0.5-1 0.1-1-0.4-0.8-0.2-0.2-0.1-0.7 0.1-0.3 0-1 0.4-0.8 0.6-0.2 0.1-2 0-1 0.4-0.7 0.5-0.3 0.1-1 0-0.2-0.1-0.8-0.7-0.7-0.3-0.3-0.3-0.7 0.3-0.3 0-1 0.2-0.8-0.2-0.2-0.1-1-0.3-1 0-1-0.2-0.9-0.4-0.1-0.1-1-0.2-0.4 0.3-0.6 0.3-1 0.6-0.3 0.1-0.7 0-1 0.1-1 0.9-1 0.3-1 0.1-0.7 0.6-0.3 0.1-1 0.8-0.3 0.1-0.7 0.1-0.4-0.1-0.6-0.4-1 0.1-0.3 0.3-0.7 0.3-1 0.2-1-0.1-1 0.1-0.7 0.5-0.3 0.1-1 0.2-2 0-1 0.7-1 0.3-1 0-2-0.2-1 0-0.4-0.1 0.4-0.1 1-0.2 2 0.2 1-0.3 0.9-0.6 0.1-0.1 1-0.4 0.9-0.5 0.1-0.1 1-0.3 0.7-0.6 0.3-0.3 0.5-0.7 0.5-0.9 0.3-0.1 0.7-0.6 0.5-0.4 0.4-1 0.1-0.2 0.6-0.8 0.4-0.4 0.2 0.4 0.6 2 0.2 0.2 0.6 0.8 0.4 0.2 1 0.6 1-0.6 0.1-0.2 0.6-1 1-2 0.3-0.8 0.1-0.2 0.4-1 0.2-1 0.3-0.6 1 0.4 0.7 0.2 0.3 0.1 1 0.6 1 0.1 1-1.6 0.1-0.2 0.1-1 0.2-1 0.1-1 0.3-1 0.2-0.3 0.8-0.7 0.2-0.1 1 0.1 0.1 0 0.9 0.3 0.4-0.3-0.2-1-0.2-0.3-0.4-0.7-0.6-1 0-0.1-0.3-0.9-0.2-2 0-3 0.2-1 0.1-1 0.2-1 0-0.1 0.1-0.9 0-1 0.2-1 0.1-1 0.4-2 0.2-0.3 1-0.3 1.6 1.6 0.4 0.5 0.6-0.5 0.4-0.6 0.1-0.4 0.2-2-0.1-1 0-1 0.2-1 0.6-0.7 0.3-0.3 0.7-0.5 0.4-0.5 0.6-0.9 0-0.1 0.4-1 0.6-3 0-1 0.2-2 0.4-2 0.2-2-0.1-1 0.2-1 0.1-0.2 0.4 0.2 0.6 0.4 0.2 0.6 0.3 1 0.5 0.7 0.2 0.3 0.8 1.6 0.1 0.4 0.8 2 0.1 0.3 0.4 0.7 0.6 1 1 0.9 2 1 0.1 0.1 0.7 1 0.2 0.5 0.1 0.5 0.3 3 0.4 1 0.2 0.3 1 0.4 1-0.1 1-0.3 0.2-0.3 1.5-3 0.1-1-0.1-1-0.6-2-0.1-0.3-0.3-0.7-0.3-1-0.1-1 0.1-1 0.3-1 0.3-0.6 0.6-0.4 0.4-0.3 1 0.3 2 1 0.1 0 0.9 0.4 1 0.4 0.4 0.2 0.6 0.6 0.7 1.4 0.2 1 0.1 1 0 2-0.1 1-0.4 2-0.1 1 0 2 0.1 1 0 2-0.1 1 0 3-0.1 1 0 1-0.1 1 0 4-0.1 1 0 1 0.2 2 0.2 1 0.3 1 0.2 0.9 0 0.1 0.6 2 0.4 1 1 0.5 0.8-0.5 0.2-0.1 1-0.4 0.6-0.5 0.4-1-0.1-1-0.2-1-0.1-1 0-1 0.2-2 0.2-1 0-0.1 0 0.1 0.4 1 0.6 0.5 0.3 0.5 0.7 1 0.6 1 0.4 1 0.3 1 0.2 1 0.3 1 0.5 1 0.7 0.9 0.1 0.1 0.9 0.6 1-0.5 0-0.1 0.4-1 0.2-1 0.1-1 0-2-0.2-1-0.3-1-0.2-0.7-0.2-0.3-0.7-1-0.1-0.1-1-0.4-0.4-0.5-0.5-1-0.1-0.1-0.4-0.9-0.5-1-0.1-0.6-0.1-0.4 0.1-0.7 0-0.3 0.3-1 0.2-1 0.1-1 0-1 0.2-2 0.2-1 1-2 0.4-1 0.5-1 0.1-0.3 0.7-0.7 0.3-0.6 1-0.4 0.8 2 0.2 0.2 0.3 0.8 0.3 1 0.2 1 0 1-0.1 1 0 1 0.3 0.5 0.2 0.5 0.7 1 0.1 0.1 0.2 0.9 0.2 1 0.6 2 0.6 1 0.4 1 0.6 1 0.1 1 0.2 1 0.1 0.8 0.2 0.2 0.1 1-0.3 1 0.1 1 0.9 0.9 0.1-0.9 0-3 0.1-1 0-2 0.1-1 0.3-1 0.2-1 0-3-0.4-4 0.1-1 0-2-0.2-2-0.2-1-0.1-0.4-0.3-0.6-0.4-1-0.3-0.8-0.1-0.2-0.4-2-0.5-0.8-0.1-0.2-0.9-0.8-0.1-0.2-0.6-1-0.1-1 0.2-1 0.1-1-0.2-2 0-1 0.1-1 0-1-0.2-1-0.2-0.4-0.2-0.6 0-1 0.2-0.7 0.5-0.3 0.5-0.1 0.1 0.1 0.7 1 0.8 2 0.4 0.7 0.1 0.3 0.7 1 0.2 0.2 1 0.8 1 0.2 0.1-0.2 0.4-1 0.2-1 0.1-1 0.2-0.4 1-0.4 1 0.1 0.5 0.7 0 1-0.4 2-0.1 0.9 0 0.1-0.6 2-0.2 1-0.2 0.6-0.2 0.4-0.3 1-0.1 1 0.1 1 0.4 1 1.1 2.2 0.3 0.8 0.2 2 0 1 0.2 1 0.3 0.9 0 0.1 0.6 2 0.2 1 0.2 0.8 0.1 0.2 0.6 1 0.2 2 0 1 0.1 0.4 1-0.1 0.1-0.3 0.1-1 0-3 0.6-3 0.2-0.8 0.1-0.2 0.3-1 0.6-1.2 1-0.2 0.3-0.6 0.2-1-0.2-2 0.1-1 0.6-1 0.9-1 0.1-0.1 0.6-0.9 0.3-1 0-1-0.1-1 0-1 0.2-1 0-0.1 0.2-0.9 0.4-1 0.4-0.9 0.3-0.1 0.7-0.3 0.2 0.3 0.5 1 0.3 0.8 0.1 0.2-0.1 1 0 0.2-0.2 0.8-0.1 1 0 1 0.2 2 0 3 0.1 1 0 1 0.1 1 0.2 1 0.5 1 0.2 0.5 0.8 0.5 0.2 0.3 0.1-0.3 0.6-1 0.3-0.3 0.4-0.7 0.6-1 0-0.1 0.7-0.9 0.3-0.7 1-0.2 0.1-0.1 0.7-1-0.5-1-0.3-0.2-1 0.1-1-0.1-1-0.6-0.2-0.2-0.8-1-0.5-1 0.1-1 0.4-0.8 0.2-0.2 0.8-1 0.1 0 0.9-0.4 0.3-0.6 0.2-2 0.2-1 0.3-0.8 0.1-0.2 0.3-1 0.4-1 0.1-1 0-2 0.1-0.7 0.1-0.3 0.5-1 0.4-0.6 0.3-0.4 0.7-0.9zM393 418.7l-0.4 0.3-0.2 1 0.2 1 0.4 0.9 0.2 0.1 0.8 0.3 0.1-0.3 0.1-1-0.1-1-0.1-0.2-0.7-0.8zM400 423l-0.8 1-0.2 0.5-0.1 0.5 0.1 0.2 2 1 1 0.4 0.6 0.4 0.4 0.8 0.2-0.8-0.2-0.4-0.4-0.6-0.2-1-0.4-0.9-0.1-0.1-0.9-1zM310 413.5l-0.8 0.5-0.2 0.5-0.1 0.5 0.1 0.2 0.3 0.8 0.7 0.8 0.3 0.2 0.7 0.3 0.5-0.3 0.5-0.8 0.3-0.2 0.7-0.6 0.4-0.4-0.4-0.6-1 0.4-1-0.8zM323 401.2l-0.6 0.8-0.3 1-0.1 1 0 2-0.2 1-0.4 1-0.4 0.5-1 0.3-0.7 0.2-0.3 0.1-1 1.5-0.2 0.4-0.2 1 0 1 0.4 0.9 0 0.1 0.6 1 0.4 1 0 1-0.7 1-0.3 0.3-1-0.3-0.1 0-0.9-0.4-1 0-0.2 0.4-0.1 1 0.2 1 0.1 0.2 1 0.6 1-0.5 0.9-0.3 0.1-0.1 0.1 0.1 0.9 0.2 0.4-0.2 0.6-0.6 0.1-0.4 0.3-1 0.6-0.7 0.2-0.3 0.5-1 0.3-0.8 0.3-0.2 0.7-0.2 0.2 0.2 0.5 1 0.3 1 0 0.2 0.2 0.8 0.5 1 0.3 0.4 1-0.2 0.3-0.2 1.7-1.7 1-0.1 1 0.6 1-0.7 0-0.1 0.2-1 0.3-1 0.5-1 0-0.1 0.4-0.9 0.2-1 0-1-0.3-1-0.3-0.9-0.2-0.1-0.8-0.3-0.2 0.3-0.8 0.7-0.4 0.3-0.6 0.4-1-0.3-0.1-0.1-0.8-1-0.1-0.3-0.3-0.7-0.1-1 0.1-1 0-1-0.4-1-0.3-0.3-1-0.7-0.8-1-0.2-0.3zM385 392.3l-0.1 0.7 0 1 0.1 0.5 0.2 0.5 0.6 1 0.2 0.4 1-0.2 0.1-0.2 0.1-1-0.2-1 0-0.1-1-1.8zM402.6 367l0.4-0.2 0.6 0.2 0.4 0.1 0.8 0.9 0.2 0.3 0.2 0.7 0.1 1 0 2-0.2 2-0.1 0.3-0.1 0.7-0.3 1-0.4 1-0.2 0.7-0.1 0.3-0.6 2-0.3 0.8-0.1 0.2-0.4 1-0.3 1-0.1 1 0.2 2 0.2 1 0 1-0.4 4-0.1 0.5-0.3 0.5-1 1-0.6 1-0.1 0.3-0.4 0.7-0.6 0.7-1-0.3-0.2-0.4-0.1-1 0-1 0.1-1 0-1-0.3-1-0.5-0.8-0.1-0.2-0.8-2-0.1-0.7-0.1-0.3 0-1 0.2-1 0.3-1 0.4-1 0.2-0.7 0.1-0.3 0.4-2 0.2-2 0.3-1 0-0.1 0.3-0.9 0.3-1 0.4-1 0.3-1 0.4-1 0.3-0.7 0.1-0.3 0.4-1 0.5-1 0.6-1 0.4-0.7zM423.5 383l0.5-0.4 0.4 0.4 0.6 0.4 0.8 1.6 0.2 0.6 0.1 0.4 0.2 2 0 1-0.1 1-0.2 1 0 0.2-0.4 0.8-0.6 0.9-0.2 0.1-0.8 0.6-1 0.2-0.5-0.8-0.5-1 0-0.2-0.1-0.8 0.2-1 0-2 0.1-1 0.8-2 0-0.2 0.2-0.8zM296.6 394l0.4-0.3 0.5 0.3 0.4 1 0 1-0.2 1-0.6 2-0.2 1-0.1 1 0.1 1 0 2-0.3 1-0.6 0.6-1 0.3-1-0.4-0.3-0.5-0.3-1-0.1-1 0-1-0.2-2-0.1-0.4-0.1-0.6-0.2-1-0.1-1 0.1-1 0.3-0.5 1-0.3 1-0.2 1-0.6zM342.8 398l0.2-0.9 1 0.5 0.1 0.4 0.2 1 0 1-0.2 2-0.1 0.7-0.5 0.3-0.5 0.1 0-0.1-0.3-1-0.1-1 0-2zM430.8 422l0.2-0.6 1 0.6 0.3 1 0.1 1-0.1 1-0.3 0.7-1-0.2-0.2-0.5-0.3-1 0.1-1zM273.5 429l0.5-0.4 1-0.2 1 0.2 0.8 0.4-0.8 0.2-1 0.1-1 0.4-0.2 0.3-0.8 0.4-0.7 0.6-0.3 0.2-1 0-1-0.1-1 0-0.7-0.1 0.7-0.4 2-0.2 1-0.2 0.2-0.2 0.8-0.5zM250.6 434l0.4-0.3 1 0 1 0.3 0.1 0 0.9 0.4 0.1 0.6-0.1 0-1 0.1-0.3-0.1-0.7-0.6-1-0.2zM238.5 436l0.5-0.3 1-0.1 3 0.3 0 0.1-1 0.2-1 0.4-1-0.2-1-0.1z"/>
<path fill="#0090ff" d="M386.9 367l0.1-0.2 0.2 0.2 0.7 1 0.1 0.1 0.3 0.9 0.6 2 0.1 0.6 0.1 0.4 0.1 1 0.4 1 0.4 0.7 0.2 0.3 0.5 1 0.2 1 0.1 1 0 0.2 0.1 0.8 0 1 0.2 2 0.4 2 0.1 1 0 1 0.1 1 0.1 0.6 0.1 0.4 0 2-0.1 0.4-0.2 0.6-0.5 1-0.3 0.5-0.8 0.5-0.2 0.1-0.2-0.1-0.8-0.5-0.9-1.5-0.1-0.1-0.4-0.9-0.4-1-0.2-0.3-0.3-0.7-0.3-1-0.2-1 0-2-0.2-0.8-0.1-0.2-0.6-2-0.2-2-0.1-0.8 0-0.2-0.3-1-0.4-1-0.3-0.8 0-0.7 0.1-0.5 1-2 0.2-1 0.6-2 0.1-0.5 0.3-0.5zM409.3 377l0.7-0.5 1-0.1 0.6 0.6 0.4 0.9 0 0.1 0.2 2 0 1 0.1 1-0.3 3 0 0.2-0.1 0.8 0.1 1 0 0.2 0.1 0.8 0.2 2-0.1 1-0.2 0.8-0.1 0.2-0.8 2-0.1 0.3-1.7 1.7-0.3 0.5-1 0.5-0.9-3-0.1-0.3-0.1-0.7-0.1-1 0-3-0.1-1 0-1 0.1-1 0.2-0.8 0.1-0.2 0.2-1 0.1-1 0.2-1 0.3-1 0.1-0.6 0.1-0.4 0.6-2 0.3-0.7zM317.6 383l0.4-0.9 0.7 0.9 0.3 0.5 1 2.5 0 0.2 0.3 0.8 0.4 2 0.2 2-0.2 1-0.5 1-0.2 0.6-0.1 0.4 0 3-0.2 1-0.3 3 0.1 1-0.1 1-0.5 1-0.9 1.5-0.2 0.5-0.2 1-0.3 1-0.3 0.7-0.2 0.3-0.8 0.6-0.7-0.6-0.3-0.4-0.8-1.6-0.2-0.5-0.3-0.5-0.7-1.4-0.4-0.6-0.4-1 0-1 0.2-1 0.6-1.5 0.1-0.5 0-1 0.3-3 0.4-2 0.2-0.7 0.1-0.3 0.8-2 0.1-0.3 0.3-0.7 0.4-1 0.3-0.7 0.1-0.3 0.4-1 0.2-1 0.3-1 0-0.1zM336 384l0.6 1 0.2 1-0.2 1-0.3 1-0.2 1 0 2 0.2 2 0.6 3 0.1 0.7 0 0.3 0.1 1 0 1-0.1 0.9 0 0.1-0.4 2 0 1 0.1 1 0 1 0.3 3 0 3.1 0.1 0.9 0.2 1 0.4 1 0.3 0.5 0.2 0.5 0.3 1 0.2 1 0.3 1 0.8 1 0.2 0.2 1 0.1 1 0 1 0.4 1 0.5 1-0.1 2.2-1.1 0.8-0.5 1 0.2 1 0.5 1 0.1 1-0.2 1 0 1 0.2 1-0.1 0.4-0.2 0.6-0.2 1-0.4 0.9-0.4 0.1-0.1 1-0.4 1 0 1 0.1 1 0.4 1-0.3 0.3-0.7 0.3-1 0.4-0.6 1-0.2 0.8 0.8 0.2 0.3 1 0 0.1-0.3 0.2-1 0.3-3 0.4-0.9 0-0.1 0.3-1 0.2-1 0.2-2 0-1 0.2-1 0.1-0.2 0.3-0.8 0.7-1 0.6-1 0.3-1 0.1-0.6 0.1-0.4 0.8-2 0.1-0.6 0.1-0.4 0-1-0.1-1 0-1 0.3-1 0.4-1 0.6-1 0.5-1 0.2-0.6 1 0 0.2 0.6 0.5 1 0.3 0.5 0.2 0.5 0.5 1 0.3 1 0 0.1 0.2 0.9 0.4 2 0.4 1 1 0.4 0.7-0.4 0.3-0.3 0.6-0.7 0.4-1 0-0.1 0.2-0.9 0-1 0.2-1 0.6-0.8 0.7 0.8 0.3 0.7 0.1 0.3 0 1 0.1 1 0.3 1 0.5 0.8 0.1 0.2 0.4 1 0.5 1 0.7 1 0.3 0.4 0.5 0.6 0.5 0.7 0.1 0.3 0.8 2 0.1 0.3 0.2 0.7 0.4 1 0.2 1 0.2 0.6 0.1 0.4 0.8 2 0.1 0.4 0.2 0.6 0.2 1 0.1 1 0 1-0.3 3 0.2 2 0.3 1 0.1 1 0 1-0.1 1-0.7 0.9-0.5-0.9-0.5-0.5-1-0.3-2-0.4-1-0.1-1 0-0.9 0.3-0.1 0-1 0.1-1-0.1-1.1 0-0.9-0.3-1-0.3-1 0.2-0.5 0.4-0.5 0.2-1 0.1-1-0.1-0.8-0.2-1.2-0.6-1-0.4-1 0-1 0.4-0.7 0.6-0.3 0.2-1 0.5-0.7 0.3-0.5 0-1.8-0.9-0.3-0.1-0.7-0.6-1-0.2-1 0-2 0.2-1-0.1-1-0.3-0.5 0-0.5-0.1-0.2 0.1-0.8 0.2-1 0.8-1 0.1-0.5-0.1-0.5-0.3-1-0.3-1 0.1-1 0.2-0.5 0.3-0.5 0.1-1 0.3-1 0.1-1-0.3-0.3-0.2-0.7-0.7-0.4-0.3-0.6-0.7-1-0.1-1 0.7-0.1 0.1-0.9 0.2-2 0-2 0.2-1-0.2-2 0-2 0.4-1-0.4-0.8-0.2-0.2-0.2-0.4 0.2-0.6 0-1 0.3-0.9 0.7-0.1 0.1-1-0.1-0.1 0 0.1-0.2 0.7-0.8 0.3-0.1 1-0.9 1-0.6 1-0.3 1 0.4 1 0.2 0.9-0.7 0.1-0.1 0.5-0.9 0.3-1 0.2-1 0-0.1 0.3-0.9 0.4-1 0.6-1 0.4-1 0.1-1 0-1-0.4-2-0.2-2 0-2-0.1-1-0.1-0.6 0-2.4 0.1-1 0-2-0.2-1-0.1-1-0.2-1-0.1-1 0.2-2 0.3-0.9 0-0.1 0.7-1 0.6-2-0.1-1 0.1-1 0.2-1zM362.3 394l0.7-0.6 0.5 0.6 0.5 0.5 0.2 0.5 0.3 1 0.2 1 0.2 2 0 1 0.1 0.3 0.1 0.7 0.8 4-0.9 3 0 1-0.1 1-0.5 1-0.4 0.4-1 0.1-0.5-0.5-0.5-1-0.1-1 0.2-1 0.4-1 0-1-0.3-1-0.2-0.4-0.2-0.6-0.2-1-0.2-2-0.2-1-0.1-1-0.1-0.9 0-0.2 0.1-0.9 0.2-1 0.4-1 0.3-0.7zM308.9 398l0.1-0.2 0.1 0.2 0.7 1 0.2 0.3 0.2 0.7-0.1 1 0 1 0.1 1 0 1-0.2 0.6-0.7 0.4-0.3 0.1 0-0.1-0.3-1 0-1 0.3-1 0-0.2 0.5-0.8-0.5-0.6 0-0.4-0.1-1zM326.8 399l0.2-0.3 1 0.3 0 0.4-0.1 0.6-0.9 0.4-0.3-0.4zM415.8 412l0.2-0.5 0.1 0.5 0.3 3 0 1-0.1 1-0.2 1-0.1 0.2-0.3-0.2-0.5-1 0.1-1 0.2-1 0.2-2zM396.2 418l0.8-0.5 0.3 0.5 0.1 1-0.2 1-0.2 0.3-0.2-0.3-0.5-1zM305.5 420l0.5-0.5 1 0.2 1-0.2 1 0.1 2 1 2 0.4 2 2 1-0.2 1-0.4 1-0.1 1 0.3 1 0 1-1.2 0.4-0.4 0.6-0.7 1 0.4 0.2 0.3 0.8 1 0.1 0-0.1 0.1-2 0.2-0.9 0.7-0.1 0.1-1 0.1-1 0-1 0.3-0.5 0.5-0.5 0.1-1 0.4-1 0-1-0.5-1-0.7-1 0.2-1 0.4-1-0.5-1-0.2-1 0-1-0.1-0.2-0.1-0.8-0.8-1-0.1-1 0.2-0.2-0.3 0.2-0.2 0.6-0.8 0.4-0.7zM409.5 420l0.5-0.9 0.6 0.9-0.4 1-0.2 0.3-0.4-0.3zM299.3 422l0.7-0.3 1-0.2 0.8 0.5 0.2 0.2 1 0.4 0.4 0.4-0.4 0.1-1 0.2-1 0.3-0.4 0.4-0.6 0.4-1 0.6-1 0.1-1 0.2-0.2-0.3 0.2-0.3 0.4-0.7 0.6-0.9 0.1-0.1 0.9-0.8zM288.9 426l0.1-0.2 1-0.3 2 0.2 0.7 0.3-0.7 0.5-0.3 0.5-0.7 0.1-1-0.1-1 0.1-0.7-0.1zM391.8 426l0.2-0.3 1-0.5 1 0.1 0.7 0.7 0.3 0.5 0.4 0.5 0.6 0.6 1 0 1 0.4 1 0.9 0.1 0.1 0.5 1 0.1 1-0.4 2-0.1 1 0 1-0.1 1 0.2 2 0.8 4 0 4 0.3 1 0.4 1 0.2 0.4 0.2 0.6 0.4 2 0 1-0.3 1-0.3 0.9 0 0.1-1 2 0 0.1-0.2 0.9-0.2 1 0.2 1 0.2 0.6 0.1 0.4 0.3 1 0.1 1-0.4 2-0.1 1 0 1-0.1 1-0.3 1-1.2 3-0.2 1 0 1 0.2 1 0.1 1-0.1 1 0 2 0.1 1 0.3 1 0.2 0.9 0 1.4-0.1 0.7-0.8 4-0.1 0.6-0.1 0.4-0.1 1-0.4 2-0.4 1-0.3 1-0.2 2 0.4 2 0.1 0.7 0.1 0.3 0.2 1 0.3 1 0.2 2-0.1 1-0.6 2-0.6 3-0.1 1 0 5-0.3 3 0 1-0.2 1-0.3 1-0.5 1-0.1 0.3-0.1-0.3-0.4-2-0.3-1-0.2-0.5 0-0.5-0.1-1 0-3-0.1-1 0-1-0.1-1 0-1-0.1-1 0-1-0.4-4 0-1-0.1-1-0.1-0.9 0-4.1-0.1-1 0-1-0.1-1 0-2-0.1-1 0-1-0.1-1 0-3-0.1-1 0-2-0.2-2 0-1-0.2-2-0.1-0.5 0-0.5-0.1-1 0-1-0.1-1 0-1-0.1-1 0-1-0.1-1 0-9-0.1-1 0-3-0.2-2-0.2-1-0.1-0.8 0-0.2-0.1-1 0-1-0.2-2 0-6-0.1-1 0-3-0.1-1 0-3 0.1-1 0-1 0.4-4 0-0.4 0.3-0.6z"/>
<path fill="#0078ff" d="M387 377l0-0.3 1-0.3 1 1.2 0.2 0.4 0.2 1 0.1 1 0 1-0.2 1-0.3 0.9-1-0.7-0.1-0.2-0.3-1-0.2-1-0.1-1-0.3-0.9 0-0.1zM373.8 394l0.2-0.3 1-0.1 0.2 0.4 0.4 1 0.1 1-0.1 1 0 1 0.4 0.6 0.1 0.4 0.7 1 0.2 0.1 1 0.7 1 0.1 1-0.4 0.7-0.5 0.3-0.2 1-0.2 1 1 1.7 3.4 0.3 0.5 0.4 0.5 0.6 0.7 0.2 0.3 0.5 1 0.3 0.9 0 0.1 0.2 2 0.2 1 0.6 0.8 0.1 0.2 0.4 1 0 1-0.3 1-0.4 1-0.4 2 0 1 0.5 1 0.1 0.1 1 0.5 0.5 0.4 0.5 0.3 0.2 0.7 0.1 1-0.3 1-1-0.9-0.5-0.1-0.5-0.3-1-0.3-1-0.1-1 0-1-0.1-1 0.1-2 0-1 0.1-1-0.1-1-0.2-1 0.2-1 0.6-0.2 0.1-0.8 0.1-0.5-0.1-1.5-0.6-1-0.3-0.2-0.1-0.8-0.6-1-0.1-0.9 0.7-0.1 0.1-1 0.4-0.7 0.5-0.3 0.1-1 0-0.6-0.1 0.6-0.9 0.1-0.1 0.9-0.4 0.6-0.6 0.8-1 0.5-1 0.1-0.3 0.2-0.7 0-1 0.4-4 0.2-1 0.1-1 0.1-0.3 0.2-0.7 0.2-1 0.1-1-0.1-1 0.1-1 0.4-1 1-1 1-2 0.1-0.3 0.4-0.7 0.6-0.9 0-0.1 0.4-1 0-1-0.4-1-0.2-1-0.1-1zM315.2 395l0.8-0.8 1 0 0.7 0.8 0.3 0.5 0.3 1.5-0.1 1-0.2 0.6-0.1 0.4-0.4 1-0.2 1-0.3 1 0 0.1-0.4 0.9-0.2 1-0.3 1-0.1 0.4-1-0.2-0.1-0.2-0.4-1-0.2-1 0-1 0.4-2 0.1-1 0-2 0.1-1 0.1-0.7zM334.2 420l0.8-0.6 1-0.1 1 0.5 0.1 0.2 0.8 1-0.9 0.5-1 0.2-1-0.1-1-0.2-0.7-0.4 0.7-0.9zM357.3 421l0.7-0.2 1-0.2 1 0 0.7 0.4-0.7 0.5-1 0.5-1-0.8zM346.8 422l0.2-0.1 1-0.1 0.6 0.2-0.6 0.1-1 0.9-0.3 0zM391.9 430l0.1-0.3 1-0.4 1 0.6 0.1 0.1 0.8 1 0.1 0.1 0.6 0.9 0.2 1 0.2 2 0 1.1 0.1 0.9 0 1-0.2 1-0.3 1-0.2 1 0.1 1 0.4 1 0.1 0.3 0.3 0.7 0.4 1 0.6 3 0.3 1 0.4 0.9 0 0.1 0.5 1-0.1 1-0.4 0.7-0.2 0.3-0.7 1-0.1 0.3-0.5 0.7-0.3 1-0.1 1 0.2 1 0.1 1 0.2 1 0.1 1 0 2-0.2 1-0.1 1-0.4 2-0.4 4 0 1 0.1 1 0.2 1 0.1 0.6 0.1 0.4 0.2 1 0 1-0.3 3 0 1.4 0.1 0.6 0.1 1 0.2 1 0 2-0.1 1-0.2 1-0.2 2-0.2 1-0.3 1-0.2 1-0.2 0.7-0.1 0.3-0.3 1 0.1 1 0.3 0.9 0 0.1 0.9 3 0.1 0.4 0.2 0.6 0.1 1-0.1 1-0.2 0.7-0.1 0.3-0.2 1-0.3 1-0.2 1-0.1 1-0.1 0.6-1 0.1 0-0.7-0.1-1 0-1-0.2-2 0-1-0.1-1 0-1-0.1-1 0-1 0.3-3 0-1-0.4-2-0.3-1-0.1-0.4 0-0.6-0.1-1 0-3-0.1-1 0-4-0.1-1 0-1-0.1-1 0-1-0.3-3-0.2-1-0.1-0.6 0-0.4-0.1-1 0-2-0.1-1 0-4 0.1-1 0-3-0.1-1 0-5-0.1-1-0.2-1-0.1-1-0.2-1-0.1-1-0.1-0.4 0-0.6-0.1-1 0-2-0.1-1 0-1 0.1-1 0-2-0.1-1 0-6 0.2-2 0-0.4 0.4-0.6z"/>
<path fill="#005cff" d="M375.9 404l0.1-0.1 1-0.2 1 0.1 0.5 0.2 0.5 0.6 0.6 0.4 0.4 0.3 0.4-0.3 0.6-0.4 1 0 0.2 0.4 0.6 1 0.5 1 0.6 1-0.8 1-0.1 0-1 0.7-0.2 0.3-0.7 1-0.1 0.3-0.2 0.7-0.1 1-0.2 1-0.3 1-0.4 1-0.3 1 0 1-0.1 1-0.4 2-1 0.2-1 0.3-0.7 0.5-0.3 0.1-1 0-0.6-0.1-0.2-1 0.2-1-0.1-1-0.2-1-0.1-1 0-1.1-0.2-0.9-0.6-2-0.2-0.9 0-0.1-0.1-1 0.1-0.3 0.1-0.7 0.3-1 0.2-2 0.2-1 0.2-0.6 0.3-0.4 0.7-0.6zM391.7 434l0.3-0.6 1 0.5 0.1 0.1 0.3 1 0.1 1-0.2 2-0.2 1-0.1 1 0.1 1 0.6 2 0.3 0.7 0.1 0.3 0.5 1 0.4 0.9 0 0.1 0.4 1 0.2 1 0.1 1 0 1-0.2 1-0.5 0.7-0.2 0.3-0.8 0.6-0.4 0.4-0.6 0.5-1-0.1-0.1-0.4-0.1-1-0.2-1-0.2-2-0.2-1-0.1-1 0-3 0.3-3 0-2-0.2-2 0-1 0.1-1zM392.9 463l0.1-0.6 0.2 0.6 0.4 1 0.4 0.7 0.1 0.3 0.2 1 0.2 2 0 1-0.1 1 0 1-0.1 1 0 2 0.2 1 0.1 1 0 1-0.4 2-0.2 2 0 0.1 0-0.1-0.5-1-0.4-1-0.1-0.1 0-0.9-0.2-2 0-1-0.2-2-0.2-1-0.3-3 0-2 0.1-1 0.4-2zM393.8 483l0.2-0.9 0.2 0.9 0.3 1 0.4 1 0.1 1-0.1 1-0.6 2-0.2 1-0.1 0.2 0-0.2-0.2-1-0.1-1-0.2-1 0-2 0.1-1z"/>
<path fill="#0044ff" d="M391.8 444l0.2-0.8 0.6 0.8 0.4 0.5 0.2 0.5 0.6 2 0 1-0.1 1-0.3 1-0.4 0.7-1-0.1-0.1-0.6-0.3-3 0-1 0.1-1z"/>
</g>
<g shape-rendering="crispEdges">
<rect x="942" y="609" width="25" height="15" fill="#00008d"/>
<rect x="942" y="595" width="25" height="14" fill="#0000a8"/>
<rect x="942" y="582" width="25" height="13" fill="#0000c8"/>
<rect x="942" y="568" width="25" height="14" fill="#0000e3"/>
<rect x="942" y="554" width="25" height="14" fill="#0000ff"/>
<rect x="942" y="540" width="25" height="14" fill="#0010ff"/>
<rect x="942" y="526" width="25" height="14" fill="#0028ff"/>
<rect x="942" y="512" width="25" height="14" fill="#0044ff"/>
<rect x="942" y="499" width="25" height="13" fill="#005cff"/>
<rect x="942" y="485" width="25" height="14" fill="#0078ff"/>
<rect x="942" y="471" width="25" height="14" fill="#0090ff"/>
<rect x="942" y="457" width="25" height="14" fill="#00acff"/>
<rect x="942" y="443" width="25" height="14" fill="#00c8ff"/>
<rect x="942" y="430" width="25" height="13" fill="#00e0fb"/>
<rect x="942" y="416" width="25" height="14" fill="#13fce4"/>
<rect x="942" y="402" width="25" height="14" fill="#26ffd1"/>
<rect x="942" y="388" width="25" height="14" fill="#3cffba"/>
<rect x="942" y="374" width="25" height="14" fill="#50ffa7"/>
<rect x="942" y="360" width="25" height="14" fill="#66ff90"/>
<rect x="942" y="347" width="25" height="13" fill="#7aff7d"/>
<rect x="942" y="333" width="25" height="14" fill="#90ff66"/>
<rect x="942" y="319" width="25" height="14" fill="#a7ff50"/>
<rect x="942" y="305" width="25" height="14" fill="#baff3c"/>
<rect x="942" y="291" width="25" height="14" fill="#d1ff26"/>
<rect x="942" y="277" width="25" height="14" fill="#e4ff13"/>
<rect x="942" y="264" width="25" height="13" fill="#fbf100"/>
<rect x="942" y="250" width="25" height="14" fill="#ffdb00"/>
<rect x="942" y="236" width="25" height="14" fill="#ffc100"/>
<rect x="942" y="222" width="25" height="14" fill="#ffa700"/>
<rect x="942" y="208" width="25" height="14" fill="#ff9100"/>
<rect x="942" y="195" width="25" height="13" fill="#ff7700"/>
<rect x="942" y="181" width="25" height="14" fill="#ff6000"/>
<rect x="942" y="167" width="25" height="14" fill="#ff4700"/>
<rect x="942" y="153" width="25" height="14" fill="#ff3000"/>
<rect x="942" y="139" width="25" height="14" fill="#ff1600"/>
<rect x="942" y="125" width="25" height="14" fill="#e40000"/>
<rect x="942" y="112" width="25" height="13" fill="#c80000"/>
<rect x="942" y="98" width="25" height="14" fill="#a80000"/>
<rect x="942" y="84" width="25" height="14" fill="#8d0000"/>
</g>
<rect x="150.5" y="84.5" width="744" height="539" class="fr"/>
<rect x="941.5" y="84.5" width="26" height="539" class="fr"/>
<g style="opacity:0.999">
<path d="M212.5 624v4.5" class="tk"/>
<text x="213.00" y="654.83" text-anchor="middle" class="s20">0</text>
<path d="M336.5 624v4.5" class="tk"/>
<text x="335.50" y="654.83" text-anchor="middle" class="s20">10</text>
<path d="M460.5 624v4.5" class="tk"/>
<text x="459.50" y="654.83" text-anchor="middle" class="s20">20</text>
<path d="M584.5 624v4.5" class="tk"/>
<text x="583.00" y="654.83" text-anchor="middle" class="s20" style="letter-spacing:-1px">30</text>
<path d="M708.5 624v4.5" class="tk"/>
<text x="707.50" y="654.83" text-anchor="middle" class="s20" style="letter-spacing:-1px">40</text>
<path d="M832.5 624v4.5" class="tk"/>
<text x="830.50" y="654.83" text-anchor="middle" class="s20" style="letter-spacing:-2px">50</text>
<path d="M150 579.5h-4.5" class="tk"/>
<text x="140.78" y="589.64" text-anchor="end" class="s20">−10</text>
<path d="M150 466.5h-4.5" class="tk"/>
<text x="140.28" y="477.35" text-anchor="end" class="s20">−5</text>
<path d="M150 354.5h-4.5" class="tk"/>
<text x="140.78" y="363.55" text-anchor="end" class="s20">0</text>
<path d="M150 241.5h-4.5" class="tk"/>
<text x="140.78" y="251.76" text-anchor="end" class="s20">5</text>
<path d="M150 128.5h-4.5" class="tk"/>
<text x="140.28" y="139.47" text-anchor="end" class="s20">10</text>
<path d="M968 623.5h4.5" class="tk"/>
<text x="976.17" y="630.92" class="s15">−26.12</text>
<path d="M968 488.5h4.5" class="tk"/>
<text x="976.17" y="496.17" class="s15">−13.06</text>
<path d="M968 354.5h4.5" class="tk"/>
<text x="977.17" y="362.42" class="s15">0.00</text>
<path d="M968 219.5h4.5" class="tk"/>
<text x="976.17" y="226.67" class="s15">13.06</text>
<path d="M968 84.5h4.5" class="tk"/>
<text x="977.17" y="91.92" class="s15">26.12</text>
<text x="522.25" y="75.67" text-anchor="middle" class="m20">by_averaged at 260.097476 fs</text>
<text transform="translate(1081.08 354.50) rotate(-90)" text-anchor="middle" class="m20">Normalized magnetic field</text>
<g transform="translate(468.67 691.36)"><text><tspan x="0.00" y="-1.107" class="m20">X </tspan><tspan x="33.45" y="-1.107" class="m20">[</tspan><tspan x="50.17" y="-1.107" class="i20">μ</tspan><tspan x="67.20" y="-1.107" class="i20">m</tspan><tspan x="94.90" y="-1.107" class="m20">]</tspan></text></g>
<g transform="translate(68.26 407.83) rotate(-90)"><text><tspan x="0.80" y="-1.107" class="m20">Z </tspan><tspan x="33.45" y="-1.107" class="m20">[</tspan><tspan x="50.17" y="-1.107" class="i20">μ</tspan><tspan x="67.84" y="-1.107" class="i20">m</tspan><tspan x="94.90" y="-1.107" class="m20">]</tspan></text></g>
</g>
</svg>
</body></html>
